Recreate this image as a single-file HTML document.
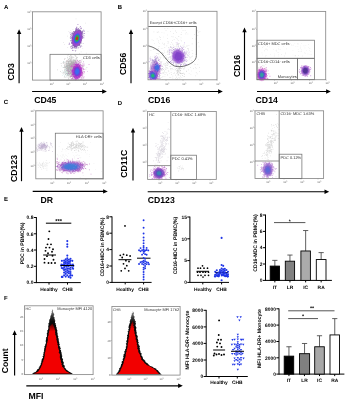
<!DOCTYPE html>
<html><head><meta charset="utf-8"><style>
html,body{margin:0;padding:0;background:#fff;}
svg{display:block;font-family:"Liberation Sans", sans-serif;will-change:transform;text-rendering:geometricPrecision;}
</style></head><body>
<svg width="346" height="400" viewBox="0 0 346 400">
<defs><filter id="b1" x="-50%" y="-50%" width="200%" height="200%"><feGaussianBlur stdDeviation="0.1"/></filter><filter id="b2" x="-50%" y="-50%" width="200%" height="200%"><feGaussianBlur stdDeviation="0.2"/></filter><filter id="b3" x="-50%" y="-50%" width="200%" height="200%"><feGaussianBlur stdDeviation="0.3"/></filter><filter id="b4" x="-50%" y="-50%" width="200%" height="200%"><feGaussianBlur stdDeviation="0.4"/></filter><filter id="b5" x="-50%" y="-50%" width="200%" height="200%"><feGaussianBlur stdDeviation="0.5"/></filter><filter id="b6" x="-50%" y="-50%" width="200%" height="200%"><feGaussianBlur stdDeviation="0.6"/></filter><filter id="b7" x="-50%" y="-50%" width="200%" height="200%"><feGaussianBlur stdDeviation="0.7"/></filter><filter id="b8" x="-50%" y="-50%" width="200%" height="200%"><feGaussianBlur stdDeviation="0.8"/></filter><filter id="b9" x="-50%" y="-50%" width="200%" height="200%"><feGaussianBlur stdDeviation="0.9"/></filter><filter id="b10" x="-50%" y="-50%" width="200%" height="200%"><feGaussianBlur stdDeviation="1.0"/></filter><filter id="b11" x="-50%" y="-50%" width="200%" height="200%"><feGaussianBlur stdDeviation="1.1"/></filter><filter id="b12" x="-50%" y="-50%" width="200%" height="200%"><feGaussianBlur stdDeviation="1.2"/></filter><filter id="b13" x="-50%" y="-50%" width="200%" height="200%"><feGaussianBlur stdDeviation="1.3"/></filter><filter id="b14" x="-50%" y="-50%" width="200%" height="200%"><feGaussianBlur stdDeviation="1.4"/></filter></defs>
<rect width="346" height="400" fill="#fff"/>
<text x="3.9" y="8.8" font-size="6" font-weight="bold" text-anchor="start" fill="#000">A</text>
<text x="117.8" y="8.8" font-size="6" font-weight="bold" text-anchor="start" fill="#000">B</text>
<text x="3.7" y="104.3" font-size="6" font-weight="bold" text-anchor="start" fill="#000">C</text>
<text x="117.8" y="104.6" font-size="6" font-weight="bold" text-anchor="start" fill="#000">D</text>
<text x="3.9" y="201.3" font-size="6" font-weight="bold" text-anchor="start" fill="#000">E</text>
<text x="3.9" y="299.5" font-size="6" font-weight="bold" text-anchor="start" fill="#000">F</text>
<rect x="32.55" y="11.8" width="68.55" height="68.3" stroke="#8a8a8a" stroke-width="0.85" fill="none"/>
<text x="31.349999999999998" y="12.700000000000001" font-size="2.7" font-weight="normal" text-anchor="end" fill="#555">10<tspan dy="-1" font-size="1.8">3</tspan></text>
<line x1="31.549999999999997" y1="11.8" x2="32.55" y2="11.8" stroke="#888" stroke-width="0.4"/>
<text x="31.349999999999998" y="29.799999999999997" font-size="2.7" font-weight="normal" text-anchor="end" fill="#555">10<tspan dy="-1" font-size="1.8">3</tspan></text>
<line x1="31.549999999999997" y1="28.9" x2="32.55" y2="28.9" stroke="#888" stroke-width="0.4"/>
<text x="31.349999999999998" y="47.1" font-size="2.7" font-weight="normal" text-anchor="end" fill="#555">10<tspan dy="-1" font-size="1.8">3</tspan></text>
<line x1="31.549999999999997" y1="46.2" x2="32.55" y2="46.2" stroke="#888" stroke-width="0.4"/>
<text x="31.349999999999998" y="63.9" font-size="2.7" font-weight="normal" text-anchor="end" fill="#555">10<tspan dy="-1" font-size="1.8">3</tspan></text>
<line x1="31.549999999999997" y1="63" x2="32.55" y2="63" stroke="#888" stroke-width="0.4"/>
<text x="51.800000000000004" y="84.8" font-size="2.7" font-weight="normal" text-anchor="middle" fill="#555">10<tspan dy="-1" font-size="1.8">3</tspan></text>
<line x1="50.6" y1="80.1" x2="50.6" y2="81.1" stroke="#888" stroke-width="0.4"/>
<text x="68.2" y="84.8" font-size="2.7" font-weight="normal" text-anchor="middle" fill="#555">10<tspan dy="-1" font-size="1.8">3</tspan></text>
<line x1="67" y1="80.1" x2="67" y2="81.1" stroke="#888" stroke-width="0.4"/>
<text x="85.0" y="84.8" font-size="2.7" font-weight="normal" text-anchor="middle" fill="#555">10<tspan dy="-1" font-size="1.8">3</tspan></text>
<line x1="83.8" y1="80.1" x2="83.8" y2="81.1" stroke="#888" stroke-width="0.4"/>
<text x="102.0" y="84.8" font-size="2.7" font-weight="normal" text-anchor="middle" fill="#555">10<tspan dy="-1" font-size="1.8">3</tspan></text>
<line x1="100.8" y1="80.1" x2="100.8" y2="81.1" stroke="#888" stroke-width="0.4"/>
<path fill="#6a6a6a" fill-opacity="0.36" d="M66.1 69.9h.76v.76h-.76zM76.1 64.5h.76v.76h-.76zM65.6 67.2h.76v.76h-.76zM73.8 74.2h.76v.76h-.76zM66.2 59.9h.76v.76h-.76zM74.8 70.5h.76v.76h-.76zM78.5 73.5h.76v.76h-.76zM71.2 66.0h.76v.76h-.76zM83.2 65.9h.76v.76h-.76zM68.1 60.8h.76v.76h-.76zM72.1 68.5h.76v.76h-.76zM70.1 67.2h.76v.76h-.76zM72.9 71.8h.76v.76h-.76zM76.6 68.9h.76v.76h-.76zM63.6 71.8h.76v.76h-.76zM65.2 66.6h.76v.76h-.76zM65.0 67.6h.76v.76h-.76zM68.1 68.9h.76v.76h-.76zM86.5 67.3h.76v.76h-.76zM75.4 59.7h.76v.76h-.76zM70.3 71.6h.76v.76h-.76zM71.2 69.8h.76v.76h-.76zM72.1 61.6h.76v.76h-.76zM74.2 62.7h.76v.76h-.76zM80.0 64.6h.76v.76h-.76zM74.7 67.6h.76v.76h-.76zM75.9 64.0h.76v.76h-.76zM76.1 66.9h.76v.76h-.76zM77.3 71.4h.76v.76h-.76zM72.3 62.9h.76v.76h-.76zM75.1 70.4h.76v.76h-.76zM79.0 65.4h.76v.76h-.76zM74.1 70.7h.76v.76h-.76zM72.9 68.9h.76v.76h-.76zM72.4 64.0h.76v.76h-.76zM67.1 65.2h.76v.76h-.76zM74.3 76.7h.76v.76h-.76zM76.0 73.9h.76v.76h-.76zM75.1 71.8h.76v.76h-.76zM72.4 72.3h.76v.76h-.76zM79.6 65.7h.76v.76h-.76zM68.5 79.4h.76v.76h-.76zM72.7 73.4h.76v.76h-.76zM75.6 60.8h.76v.76h-.76zM82.6 78.3h.76v.76h-.76zM72.4 72.1h.76v.76h-.76zM72.2 62.3h.76v.76h-.76zM71.1 69.9h.76v.76h-.76zM76.6 71.9h.76v.76h-.76zM71.9 75.8h.76v.76h-.76zM68.2 72.4h.76v.76h-.76zM76.6 65.9h.76v.76h-.76zM63.6 62.2h.76v.76h-.76zM72.7 70.8h.76v.76h-.76zM78.6 61.6h.76v.76h-.76zM71.6 71.5h.76v.76h-.76zM76.1 62.1h.76v.76h-.76zM69.8 69.0h.76v.76h-.76zM82.8 71.3h.76v.76h-.76zM72.1 77.0h.76v.76h-.76zM71.3 78.8h.76v.76h-.76zM68.5 64.8h.76v.76h-.76zM74.9 76.2h.76v.76h-.76zM74.6 69.4h.76v.76h-.76zM63.4 63.3h.76v.76h-.76zM68.9 64.4h.76v.76h-.76zM74.3 65.6h.76v.76h-.76zM75.2 68.1h.76v.76h-.76zM70.1 68.3h.76v.76h-.76zM73.6 72.8h.76v.76h-.76zM69.5 66.2h.76v.76h-.76zM65.5 77.2h.76v.76h-.76zM78.2 66.5h.76v.76h-.76zM69.5 60.2h.76v.76h-.76zM72.4 68.9h.76v.76h-.76zM81.4 69.1h.76v.76h-.76zM78.0 68.8h.76v.76h-.76zM64.4 68.7h.76v.76h-.76zM76.7 71.1h.76v.76h-.76zM70.8 54.8h.76v.76h-.76zM71.1 58.3h.76v.76h-.76zM74.3 54.8h.76v.76h-.76zM67.5 74.9h.76v.76h-.76zM79.0 60.5h.76v.76h-.76zM64.7 72.9h.76v.76h-.76zM75.5 61.7h.76v.76h-.76zM68.5 63.5h.76v.76h-.76zM66.3 63.5h.76v.76h-.76zM77.3 71.8h.76v.76h-.76zM80.9 67.1h.76v.76h-.76zM71.0 61.7h.76v.76h-.76zM71.1 59.7h.76v.76h-.76zM63.6 71.8h.76v.76h-.76zM78.1 72.6h.76v.76h-.76zM77.6 69.1h.76v.76h-.76zM68.4 68.1h.76v.76h-.76zM69.9 61.0h.76v.76h-.76zM64.0 58.7h.76v.76h-.76zM71.6 68.5h.76v.76h-.76zM69.5 76.2h.76v.76h-.76zM72.4 71.1h.76v.76h-.76zM77.1 62.7h.76v.76h-.76zM62.8 72.1h.76v.76h-.76zM68.5 75.5h.76v.76h-.76zM73.1 73.7h.76v.76h-.76zM75.1 55.1h.76v.76h-.76zM74.9 63.6h.76v.76h-.76zM68.2 65.0h.76v.76h-.76zM75.1 72.9h.76v.76h-.76zM76.2 57.7h.76v.76h-.76zM71.2 71.2h.76v.76h-.76zM68.2 69.1h.76v.76h-.76zM72.7 73.7h.76v.76h-.76zM67.9 62.6h.76v.76h-.76zM68.2 78.1h.76v.76h-.76zM76.5 66.9h.76v.76h-.76zM72.6 68.3h.76v.76h-.76zM72.5 66.4h.76v.76h-.76zM70.1 60.1h.76v.76h-.76zM68.7 77.5h.76v.76h-.76zM74.0 68.0h.76v.76h-.76zM70.7 68.0h.76v.76h-.76zM73.2 63.7h.76v.76h-.76zM72.5 69.1h.76v.76h-.76zM68.3 62.9h.76v.76h-.76zM67.1 61.2h.76v.76h-.76zM70.4 64.0h.76v.76h-.76zM68.8 68.2h.76v.76h-.76zM76.7 68.1h.76v.76h-.76zM71.0 63.9h.76v.76h-.76zM71.0 73.1h.76v.76h-.76zM69.8 60.7h.76v.76h-.76zM65.9 61.0h.76v.76h-.76zM65.4 74.2h.76v.76h-.76zM73.2 66.2h.76v.76h-.76zM78.2 63.7h.76v.76h-.76zM75.0 72.4h.76v.76h-.76zM64.7 58.3h.76v.76h-.76zM67.4 73.1h.76v.76h-.76zM77.5 60.3h.76v.76h-.76zM76.3 65.3h.76v.76h-.76zM69.9 64.3h.76v.76h-.76zM70.2 56.7h.76v.76h-.76zM67.1 60.2h.76v.76h-.76zM83.9 65.6h.76v.76h-.76zM63.9 65.2h.76v.76h-.76zM74.2 63.2h.76v.76h-.76zM75.8 70.8h.76v.76h-.76zM64.3 64.4h.76v.76h-.76zM70.5 67.7h.76v.76h-.76zM72.2 65.6h.76v.76h-.76zM72.5 64.1h.76v.76h-.76zM67.6 76.7h.76v.76h-.76zM73.2 70.3h.76v.76h-.76zM64.4 66.6h.76v.76h-.76zM75.3 59.9h.76v.76h-.76zM76.6 65.3h.76v.76h-.76zM73.4 66.8h.76v.76h-.76zM72.6 74.8h.76v.76h-.76zM69.8 77.0h.76v.76h-.76zM68.1 62.0h.76v.76h-.76zM74.8 61.2h.76v.76h-.76zM70.0 73.1h.76v.76h-.76zM77.1 57.0h.76v.76h-.76zM73.9 78.9h.76v.76h-.76zM77.0 66.2h.76v.76h-.76zM68.9 65.8h.76v.76h-.76zM66.4 66.0h.76v.76h-.76zM70.8 66.7h.76v.76h-.76zM76.9 66.2h.76v.76h-.76zM65.1 73.9h.76v.76h-.76zM66.8 64.9h.76v.76h-.76zM71.0 65.6h.76v.76h-.76zM67.1 66.1h.76v.76h-.76zM81.5 64.0h.76v.76h-.76zM71.0 74.4h.76v.76h-.76zM75.0 72.2h.76v.76h-.76zM75.5 55.8h.76v.76h-.76zM67.7 68.4h.76v.76h-.76zM73.9 75.4h.76v.76h-.76zM73.7 66.2h.76v.76h-.76zM71.8 66.4h.76v.76h-.76zM72.7 71.7h.76v.76h-.76zM70.1 62.7h.76v.76h-.76zM67.8 74.2h.76v.76h-.76zM77.4 73.6h.76v.76h-.76zM75.5 72.6h.76v.76h-.76zM71.6 71.6h.76v.76h-.76zM66.9 66.4h.76v.76h-.76zM68.3 72.0h.76v.76h-.76zM69.0 67.0h.76v.76h-.76zM73.4 75.8h.76v.76h-.76zM68.1 62.0h.76v.76h-.76zM75.3 61.0h.76v.76h-.76zM73.7 64.2h.76v.76h-.76zM71.1 56.7h.76v.76h-.76zM74.8 64.6h.76v.76h-.76zM73.5 65.5h.76v.76h-.76zM72.1 77.3h.76v.76h-.76zM71.5 70.3h.76v.76h-.76zM73.9 62.2h.76v.76h-.76zM72.2 64.6h.76v.76h-.76zM66.0 72.9h.76v.76h-.76zM74.6 68.1h.76v.76h-.76zM67.5 55.6h.76v.76h-.76zM73.8 67.0h.76v.76h-.76zM64.0 67.3h.76v.76h-.76zM64.8 67.5h.76v.76h-.76zM72.3 69.8h.76v.76h-.76zM72.6 68.6h.76v.76h-.76zM66.5 65.3h.76v.76h-.76zM69.3 66.2h.76v.76h-.76zM72.8 71.3h.76v.76h-.76zM73.4 66.4h.76v.76h-.76zM81.9 73.2h.76v.76h-.76zM64.2 70.0h.76v.76h-.76zM69.3 73.6h.76v.76h-.76zM66.9 67.0h.76v.76h-.76zM71.0 67.0h.76v.76h-.76zM69.0 56.6h.76v.76h-.76zM73.7 73.6h.76v.76h-.76zM71.3 61.5h.76v.76h-.76zM72.5 71.0h.76v.76h-.76zM70.8 67.5h.76v.76h-.76zM78.0 60.9h.76v.76h-.76zM69.1 56.2h.76v.76h-.76zM68.5 63.2h.76v.76h-.76zM67.3 63.5h.76v.76h-.76zM79.7 66.4h.76v.76h-.76zM71.3 57.2h.76v.76h-.76zM73.4 62.0h.76v.76h-.76zM79.0 60.1h.76v.76h-.76zM69.0 58.0h.76v.76h-.76zM72.1 61.5h.76v.76h-.76zM71.3 65.4h.76v.76h-.76zM68.9 73.3h.76v.76h-.76zM75.8 68.0h.76v.76h-.76zM67.6 61.2h.76v.76h-.76zM69.6 62.9h.76v.76h-.76zM68.5 61.1h.76v.76h-.76zM67.2 66.4h.76v.76h-.76zM78.1 67.6h.76v.76h-.76zM69.3 57.9h.76v.76h-.76zM72.6 67.5h.76v.76h-.76zM66.1 61.1h.76v.76h-.76zM71.4 73.7h.76v.76h-.76zM74.4 68.9h.76v.76h-.76zM70.2 69.5h.76v.76h-.76zM66.5 65.4h.76v.76h-.76zM77.3 66.0h.76v.76h-.76zM78.0 67.4h.76v.76h-.76zM72.3 65.4h.76v.76h-.76zM65.4 61.8h.76v.76h-.76zM81.6 71.5h.76v.76h-.76zM74.3 73.3h.76v.76h-.76zM74.2 73.8h.76v.76h-.76zM70.4 66.3h.76v.76h-.76zM76.0 65.5h.76v.76h-.76zM65.6 66.3h.76v.76h-.76zM69.2 71.3h.76v.76h-.76zM68.4 61.3h.76v.76h-.76zM70.1 76.9h.76v.76h-.76zM71.4 68.6h.76v.76h-.76zM71.7 69.4h.76v.76h-.76zM75.8 76.0h.76v.76h-.76zM64.2 75.8h.76v.76h-.76zM71.6 65.7h.76v.76h-.76zM82.4 66.6h.76v.76h-.76zM80.4 73.4h.76v.76h-.76zM67.0 70.6h.76v.76h-.76zM74.9 66.9h.76v.76h-.76zM61.1 65.6h.76v.76h-.76zM70.8 61.0h.76v.76h-.76zM79.8 66.2h.76v.76h-.76zM69.9 65.8h.76v.76h-.76zM68.1 63.0h.76v.76h-.76zM72.0 69.5h.76v.76h-.76zM69.3 67.1h.76v.76h-.76zM65.4 70.8h.76v.76h-.76zM68.2 68.9h.76v.76h-.76zM67.5 64.5h.76v.76h-.76zM72.6 60.4h.76v.76h-.76zM82.7 67.4h.76v.76h-.76zM71.3 63.2h.76v.76h-.76zM78.8 75.9h.76v.76h-.76zM73.0 59.4h.76v.76h-.76zM69.4 71.3h.76v.76h-.76zM69.3 60.5h.76v.76h-.76zM66.3 63.0h.76v.76h-.76zM71.7 63.7h.76v.76h-.76zM79.6 61.4h.76v.76h-.76zM73.2 68.1h.76v.76h-.76zM71.0 73.9h.76v.76h-.76zM70.1 65.7h.76v.76h-.76zM69.9 67.0h.76v.76h-.76zM77.4 72.3h.76v.76h-.76zM65.6 65.0h.76v.76h-.76zM68.0 72.5h.76v.76h-.76zM72.6 73.0h.76v.76h-.76zM71.3 56.2h.76v.76h-.76zM73.7 69.0h.76v.76h-.76zM73.9 59.8h.76v.76h-.76zM72.0 63.5h.76v.76h-.76zM68.5 69.7h.76v.76h-.76zM73.2 62.3h.76v.76h-.76zM69.0 74.4h.76v.76h-.76zM67.7 70.2h.76v.76h-.76zM79.1 74.6h.76v.76h-.76zM73.3 68.8h.76v.76h-.76zM66.9 64.9h.76v.76h-.76zM70.1 63.0h.76v.76h-.76zM71.9 65.3h.76v.76h-.76zM73.1 76.2h.76v.76h-.76zM75.0 70.1h.76v.76h-.76zM70.5 58.5h.76v.76h-.76zM71.1 70.9h.76v.76h-.76zM67.1 75.1h.76v.76h-.76zM70.1 69.9h.76v.76h-.76zM70.1 60.1h.76v.76h-.76zM80.9 60.7h.76v.76h-.76zM75.8 64.3h.76v.76h-.76zM72.9 62.8h.76v.76h-.76zM69.7 73.1h.76v.76h-.76zM80.4 62.5h.76v.76h-.76zM71.7 73.3h.76v.76h-.76zM68.8 71.9h.76v.76h-.76zM68.1 71.2h.76v.76h-.76zM73.6 74.9h.76v.76h-.76zM73.3 60.5h.76v.76h-.76zM74.6 61.0h.76v.76h-.76zM75.0 76.7h.76v.76h-.76zM74.3 64.3h.76v.76h-.76zM77.0 68.6h.76v.76h-.76zM66.0 65.5h.76v.76h-.76zM78.0 65.8h.76v.76h-.76zM72.2 65.6h.76v.76h-.76zM64.0 64.6h.76v.76h-.76zM73.2 68.9h.76v.76h-.76zM70.8 54.8h.76v.76h-.76zM77.1 71.9h.76v.76h-.76zM76.2 75.4h.76v.76h-.76zM69.6 64.0h.76v.76h-.76zM73.0 77.7h.76v.76h-.76zM64.0 66.2h.76v.76h-.76zM68.4 71.0h.76v.76h-.76zM78.2 65.8h.76v.76h-.76zM66.0 67.9h.76v.76h-.76zM70.3 58.4h.76v.76h-.76zM75.6 64.5h.76v.76h-.76zM74.7 59.7h.76v.76h-.76zM76.6 59.0h.76v.76h-.76zM76.4 56.8h.76v.76h-.76zM77.8 65.4h.76v.76h-.76zM64.6 66.2h.76v.76h-.76zM73.1 61.7h.76v.76h-.76zM69.4 69.2h.76v.76h-.76zM69.7 70.2h.76v.76h-.76zM73.0 73.7h.76v.76h-.76zM75.2 69.5h.76v.76h-.76zM76.5 73.3h.76v.76h-.76zM72.1 63.9h.76v.76h-.76zM76.2 70.2h.76v.76h-.76zM63.1 61.0h.76v.76h-.76zM73.7 68.3h.76v.76h-.76zM72.9 71.5h.76v.76h-.76zM72.3 77.1h.76v.76h-.76zM69.0 65.2h.76v.76h-.76zM73.1 72.1h.76v.76h-.76zM75.2 76.5h.76v.76h-.76zM69.5 74.6h.76v.76h-.76zM73.7 61.4h.76v.76h-.76zM75.2 64.8h.76v.76h-.76zM60.8 63.2h.76v.76h-.76zM68.5 68.1h.76v.76h-.76zM82.0 72.1h.76v.76h-.76zM73.0 62.0h.76v.76h-.76zM66.3 66.4h.76v.76h-.76zM69.8 63.9h.76v.76h-.76zM76.7 68.1h.76v.76h-.76zM66.1 75.4h.76v.76h-.76zM70.2 59.6h.76v.76h-.76zM73.1 70.5h.76v.76h-.76zM70.1 71.8h.76v.76h-.76zM75.3 62.3h.76v.76h-.76zM71.0 75.0h.76v.76h-.76zM76.1 76.0h.76v.76h-.76zM80.0 67.7h.76v.76h-.76zM76.4 58.4h.76v.76h-.76zM74.7 70.0h.76v.76h-.76zM71.2 65.0h.76v.76h-.76zM66.6 68.5h.76v.76h-.76zM77.4 65.4h.76v.76h-.76zM74.0 63.6h.76v.76h-.76zM72.8 61.6h.76v.76h-.76zM73.3 66.3h.76v.76h-.76zM73.0 64.0h.76v.76h-.76zM66.3 65.6h.76v.76h-.76zM76.3 77.1h.76v.76h-.76zM70.2 72.4h.76v.76h-.76zM75.0 70.0h.76v.76h-.76zM64.6 69.6h.76v.76h-.76zM67.3 74.7h.76v.76h-.76zM75.2 71.3h.76v.76h-.76zM60.2 71.3h.76v.76h-.76zM74.8 60.0h.76v.76h-.76zM76.0 68.1h.76v.76h-.76zM70.8 63.3h.76v.76h-.76zM67.0 65.0h.76v.76h-.76zM85.5 68.8h.76v.76h-.76zM72.6 63.7h.76v.76h-.76zM68.8 64.3h.76v.76h-.76zM67.6 72.9h.76v.76h-.76zM70.4 72.8h.76v.76h-.76zM66.4 73.2h.76v.76h-.76zM71.5 71.6h.76v.76h-.76zM71.2 62.3h.76v.76h-.76zM77.1 65.0h.76v.76h-.76zM71.0 62.3h.76v.76h-.76zM72.5 65.3h.76v.76h-.76zM72.9 69.7h.76v.76h-.76zM68.5 59.2h.76v.76h-.76zM73.6 73.1h.76v.76h-.76zM74.8 60.7h.76v.76h-.76zM74.3 69.9h.76v.76h-.76zM72.9 70.2h.76v.76h-.76zM70.2 68.9h.76v.76h-.76zM75.8 64.6h.76v.76h-.76zM65.1 67.0h.76v.76h-.76zM72.5 56.6h.76v.76h-.76zM68.6 71.2h.76v.76h-.76zM70.9 68.2h.76v.76h-.76zM66.0 73.1h.76v.76h-.76zM79.5 66.4h.76v.76h-.76zM68.3 60.7h.76v.76h-.76zM75.6 68.2h.76v.76h-.76zM68.0 74.9h.76v.76h-.76zM75.1 71.2h.76v.76h-.76zM63.7 67.0h.76v.76h-.76zM74.4 60.3h.76v.76h-.76zM75.8 76.2h.76v.76h-.76zM76.3 63.3h.76v.76h-.76zM68.4 73.3h.76v.76h-.76zM76.1 75.0h.76v.76h-.76zM77.0 67.0h.76v.76h-.76zM69.8 56.5h.76v.76h-.76zM69.5 64.8h.76v.76h-.76zM74.5 69.9h.76v.76h-.76zM65.5 63.3h.76v.76h-.76zM68.4 72.7h.76v.76h-.76zM80.3 79.0h.76v.76h-.76zM78.0 77.4h.76v.76h-.76zM66.1 65.5h.76v.76h-.76zM68.3 65.9h.76v.76h-.76zM83.4 57.5h.76v.76h-.76zM74.1 60.2h.76v.76h-.76zM77.6 75.4h.76v.76h-.76zM72.0 75.4h.76v.76h-.76zM73.0 64.3h.76v.76h-.76zM69.9 66.9h.76v.76h-.76zM74.4 68.4h.76v.76h-.76zM82.2 66.5h.76v.76h-.76zM69.5 63.3h.76v.76h-.76zM68.1 59.0h.76v.76h-.76zM67.2 73.1h.76v.76h-.76zM71.9 66.6h.76v.76h-.76zM73.2 74.0h.76v.76h-.76zM74.4 72.3h.76v.76h-.76zM69.1 66.1h.76v.76h-.76zM68.1 67.0h.76v.76h-.76zM67.9 65.4h.76v.76h-.76zM70.8 66.3h.76v.76h-.76zM70.4 64.7h.76v.76h-.76zM77.5 65.6h.76v.76h-.76zM67.1 68.8h.76v.76h-.76zM66.7 61.2h.76v.76h-.76zM72.0 57.6h.76v.76h-.76zM57.1 69.4h.76v.76h-.76zM76.3 57.6h.76v.76h-.76zM67.6 71.1h.76v.76h-.76zM62.7 62.4h.76v.76h-.76zM66.2 66.4h.76v.76h-.76zM62.7 73.0h.76v.76h-.76zM71.0 69.4h.76v.76h-.76zM70.1 54.9h.76v.76h-.76zM70.9 59.6h.76v.76h-.76zM71.7 62.5h.76v.76h-.76zM70.2 66.4h.76v.76h-.76zM75.1 72.2h.76v.76h-.76zM67.1 67.5h.76v.76h-.76zM78.2 70.6h.76v.76h-.76zM68.3 66.9h.76v.76h-.76zM70.1 73.3h.76v.76h-.76zM71.8 69.9h.76v.76h-.76zM81.6 59.4h.76v.76h-.76zM67.1 57.2h.76v.76h-.76zM64.5 72.8h.76v.76h-.76zM72.9 77.4h.76v.76h-.76zM62.7 62.3h.76v.76h-.76zM78.1 73.8h.76v.76h-.76zM75.6 72.9h.76v.76h-.76zM71.8 67.6h.76v.76h-.76zM71.8 72.7h.76v.76h-.76zM70.9 69.5h.76v.76h-.76zM78.2 60.9h.76v.76h-.76zM68.2 71.0h.76v.76h-.76zM70.4 66.7h.76v.76h-.76zM81.1 70.1h.76v.76h-.76zM69.7 74.2h.76v.76h-.76zM83.0 61.0h.76v.76h-.76zM68.6 68.3h.76v.76h-.76zM74.0 65.2h.76v.76h-.76zM73.8 62.8h.76v.76h-.76zM68.9 68.3h.76v.76h-.76zM73.5 75.7h.76v.76h-.76zM75.0 79.2h.76v.76h-.76zM73.6 68.5h.76v.76h-.76zM71.0 62.5h.76v.76h-.76zM79.0 60.5h.76v.76h-.76zM71.1 64.5h.76v.76h-.76zM68.1 54.3h.76v.76h-.76zM69.9 68.4h.76v.76h-.76zM72.3 72.7h.76v.76h-.76zM70.9 63.8h.76v.76h-.76zM73.0 71.6h.76v.76h-.76zM67.6 58.5h.76v.76h-.76zM67.0 74.0h.76v.76h-.76zM76.1 62.3h.76v.76h-.76zM72.1 72.7h.76v.76h-.76zM77.6 63.7h.76v.76h-.76zM70.5 76.1h.76v.76h-.76zM82.5 76.8h.76v.76h-.76zM66.5 70.3h.76v.76h-.76zM70.3 67.3h.76v.76h-.76zM68.6 64.7h.76v.76h-.76zM71.6 78.4h.76v.76h-.76zM74.8 70.2h.76v.76h-.76zM71.7 63.1h.76v.76h-.76zM70.6 75.1h.76v.76h-.76zM75.4 79.4h.76v.76h-.76zM72.8 67.5h.76v.76h-.76zM64.3 70.0h.76v.76h-.76zM63.9 76.8h.76v.76h-.76zM68.8 67.6h.76v.76h-.76zM65.5 64.6h.76v.76h-.76zM67.4 74.4h.76v.76h-.76zM72.7 60.5h.76v.76h-.76zM62.9 67.2h.76v.76h-.76zM69.4 61.0h.76v.76h-.76zM74.3 66.5h.76v.76h-.76zM72.1 64.1h.76v.76h-.76zM69.1 64.9h.76v.76h-.76zM64.4 71.4h.76v.76h-.76zM73.4 57.3h.76v.76h-.76zM72.1 74.5h.76v.76h-.76zM72.7 75.4h.76v.76h-.76zM70.4 67.6h.76v.76h-.76zM65.8 62.2h.76v.76h-.76zM63.4 62.3h.76v.76h-.76zM72.7 70.7h.76v.76h-.76zM76.9 68.4h.76v.76h-.76zM67.2 70.2h.76v.76h-.76zM71.0 78.3h.76v.76h-.76zM80.4 73.4h.76v.76h-.76zM66.5 64.5h.76v.76h-.76zM72.5 63.3h.76v.76h-.76zM74.0 71.7h.76v.76h-.76zM75.4 69.0h.76v.76h-.76zM67.6 62.6h.76v.76h-.76zM71.1 75.6h.76v.76h-.76zM78.7 73.5h.76v.76h-.76zM73.3 71.7h.76v.76h-.76zM75.3 75.4h.76v.76h-.76zM75.5 58.4h.76v.76h-.76z"/>
<path fill="#8cc" fill-opacity="0.35" d="M69.0 71.2h.72v.72h-.72zM65.5 71.7h.72v.72h-.72zM67.4 69.4h.72v.72h-.72zM62.4 70.1h.72v.72h-.72zM68.0 69.4h.72v.72h-.72zM62.7 71.5h.72v.72h-.72zM68.4 70.4h.72v.72h-.72zM67.7 68.2h.72v.72h-.72zM65.0 71.7h.72v.72h-.72zM65.8 70.4h.72v.72h-.72zM74.8 72.5h.72v.72h-.72zM67.0 63.2h.72v.72h-.72zM66.9 72.7h.72v.72h-.72zM64.9 68.7h.72v.72h-.72zM61.0 71.9h.72v.72h-.72zM65.2 72.4h.72v.72h-.72zM70.1 69.0h.72v.72h-.72zM69.1 70.6h.72v.72h-.72zM66.1 68.5h.72v.72h-.72zM64.5 74.8h.72v.72h-.72zM68.8 65.6h.72v.72h-.72zM68.7 66.7h.72v.72h-.72zM62.9 74.4h.72v.72h-.72zM63.4 74.4h.72v.72h-.72zM67.1 73.2h.72v.72h-.72zM67.9 74.3h.72v.72h-.72zM67.5 72.0h.72v.72h-.72zM67.3 74.0h.72v.72h-.72zM65.7 73.7h.72v.72h-.72zM70.4 69.4h.72v.72h-.72zM67.7 67.6h.72v.72h-.72zM65.9 70.7h.72v.72h-.72zM65.8 66.1h.72v.72h-.72zM66.6 70.4h.72v.72h-.72zM67.4 72.5h.72v.72h-.72zM62.2 75.3h.72v.72h-.72zM66.2 66.6h.72v.72h-.72zM65.7 71.4h.72v.72h-.72zM68.8 68.2h.72v.72h-.72zM67.0 63.3h.72v.72h-.72zM67.1 69.2h.72v.72h-.72zM65.6 73.2h.72v.72h-.72zM71.1 73.8h.72v.72h-.72zM64.7 75.8h.72v.72h-.72zM65.8 69.5h.72v.72h-.72zM65.2 71.5h.72v.72h-.72zM68.0 70.2h.72v.72h-.72zM66.1 69.1h.72v.72h-.72zM65.6 73.5h.72v.72h-.72zM65.3 69.0h.72v.72h-.72zM66.1 66.6h.72v.72h-.72zM66.1 63.8h.72v.72h-.72zM67.7 71.8h.72v.72h-.72zM65.9 75.8h.72v.72h-.72zM64.6 71.9h.72v.72h-.72zM67.8 67.5h.72v.72h-.72zM66.0 73.2h.72v.72h-.72zM66.8 70.8h.72v.72h-.72zM70.1 70.5h.72v.72h-.72zM62.5 66.7h.72v.72h-.72zM68.7 69.1h.72v.72h-.72zM64.0 61.8h.72v.72h-.72zM67.4 75.6h.72v.72h-.72zM63.5 61.0h.72v.72h-.72zM67.9 67.5h.72v.72h-.72zM65.9 68.4h.72v.72h-.72zM64.4 71.4h.72v.72h-.72zM68.9 71.1h.72v.72h-.72zM65.3 73.8h.72v.72h-.72zM66.4 71.9h.72v.72h-.72z"/>
<path fill="#d9a" fill-opacity="0.3" d="M66.3 68.3h.72v.72h-.72zM70.5 70.8h.72v.72h-.72zM68.7 67.4h.72v.72h-.72zM67.2 69.2h.72v.72h-.72zM70.6 69.9h.72v.72h-.72zM67.7 60.8h.72v.72h-.72zM68.5 64.8h.72v.72h-.72zM66.8 68.0h.72v.72h-.72zM71.0 67.2h.72v.72h-.72zM71.4 67.2h.72v.72h-.72zM66.2 63.3h.72v.72h-.72zM67.8 68.4h.72v.72h-.72zM70.9 66.2h.72v.72h-.72zM71.2 62.4h.72v.72h-.72zM68.4 71.6h.72v.72h-.72zM69.7 69.8h.72v.72h-.72zM64.0 59.0h.72v.72h-.72zM66.5 69.6h.72v.72h-.72zM72.7 63.2h.72v.72h-.72zM66.2 61.6h.72v.72h-.72zM66.4 67.8h.72v.72h-.72zM67.9 73.1h.72v.72h-.72zM70.4 62.9h.72v.72h-.72zM69.2 65.0h.72v.72h-.72zM70.6 69.2h.72v.72h-.72zM67.8 69.2h.72v.72h-.72zM70.0 65.3h.72v.72h-.72zM69.3 68.3h.72v.72h-.72zM67.9 63.0h.72v.72h-.72zM71.8 65.7h.72v.72h-.72zM67.2 67.5h.72v.72h-.72zM65.0 65.9h.72v.72h-.72zM65.3 64.0h.72v.72h-.72zM64.3 62.8h.72v.72h-.72zM70.8 64.9h.72v.72h-.72zM65.7 72.5h.72v.72h-.72zM67.1 71.5h.72v.72h-.72zM67.4 59.9h.72v.72h-.72zM73.2 64.0h.72v.72h-.72zM70.5 70.3h.72v.72h-.72z"/>
<g filter="url(#b13)"><ellipse cx="72" cy="68" rx="6" ry="8.5" fill="#888" fill-opacity="0.35" transform="rotate(0 72 68)"/></g>
<path fill="#8a8a8a" fill-opacity="0.3" d="M71.5 40.2h.68v.68h-.68zM74.4 43.9h.68v.68h-.68zM76.6 31.0h.68v.68h-.68zM76.9 44.9h.68v.68h-.68zM75.5 43.6h.68v.68h-.68zM74.6 39.3h.68v.68h-.68zM78.0 40.7h.68v.68h-.68zM81.7 46.2h.68v.68h-.68zM80.0 44.7h.68v.68h-.68zM77.3 31.7h.68v.68h-.68zM80.8 51.6h.68v.68h-.68zM77.6 38.0h.68v.68h-.68zM76.5 48.0h.68v.68h-.68zM77.8 33.0h.68v.68h-.68zM76.0 34.4h.68v.68h-.68zM75.9 33.6h.68v.68h-.68zM73.3 49.9h.68v.68h-.68zM80.8 28.7h.68v.68h-.68zM72.8 36.6h.68v.68h-.68zM75.2 30.2h.68v.68h-.68zM80.2 28.7h.68v.68h-.68zM79.4 44.5h.68v.68h-.68zM75.3 35.2h.68v.68h-.68zM76.9 40.7h.68v.68h-.68zM68.5 31.1h.68v.68h-.68zM78.8 39.0h.68v.68h-.68zM75.1 32.9h.68v.68h-.68zM73.9 34.5h.68v.68h-.68zM87.6 31.1h.68v.68h-.68zM82.7 43.0h.68v.68h-.68zM77.5 41.1h.68v.68h-.68zM75.2 50.7h.68v.68h-.68zM78.7 39.5h.68v.68h-.68zM76.2 41.1h.68v.68h-.68zM72.2 37.5h.68v.68h-.68zM74.2 44.0h.68v.68h-.68zM79.0 27.0h.68v.68h-.68zM75.8 46.5h.68v.68h-.68zM71.6 31.6h.68v.68h-.68zM80.6 38.8h.68v.68h-.68zM74.9 31.4h.68v.68h-.68zM77.4 35.9h.68v.68h-.68zM77.5 42.6h.68v.68h-.68zM79.4 37.5h.68v.68h-.68zM74.6 39.9h.68v.68h-.68zM76.3 40.9h.68v.68h-.68zM74.6 38.1h.68v.68h-.68zM74.4 35.7h.68v.68h-.68zM77.3 47.6h.68v.68h-.68zM74.6 43.7h.68v.68h-.68zM78.0 40.5h.68v.68h-.68zM79.3 35.9h.68v.68h-.68zM78.9 41.8h.68v.68h-.68zM63.0 42.1h.68v.68h-.68zM79.0 53.1h.68v.68h-.68zM72.5 40.4h.68v.68h-.68zM78.1 33.1h.68v.68h-.68zM81.4 42.8h.68v.68h-.68zM73.6 31.5h.68v.68h-.68zM75.1 56.0h.68v.68h-.68zM85.1 22.7h.68v.68h-.68zM69.6 44.3h.68v.68h-.68zM76.3 35.4h.68v.68h-.68zM79.1 40.4h.68v.68h-.68zM77.8 41.5h.68v.68h-.68zM72.4 48.7h.68v.68h-.68zM74.9 47.5h.68v.68h-.68zM79.4 40.0h.68v.68h-.68zM77.2 39.4h.68v.68h-.68zM69.5 37.5h.68v.68h-.68zM78.4 28.6h.68v.68h-.68zM70.8 47.1h.68v.68h-.68zM79.9 29.1h.68v.68h-.68zM78.5 39.4h.68v.68h-.68zM80.5 37.5h.68v.68h-.68zM75.8 34.6h.68v.68h-.68zM77.4 38.8h.68v.68h-.68zM74.1 37.3h.68v.68h-.68zM73.7 44.0h.68v.68h-.68zM72.6 29.0h.68v.68h-.68zM72.9 47.2h.68v.68h-.68zM74.7 44.2h.68v.68h-.68zM79.6 36.2h.68v.68h-.68zM79.7 43.2h.68v.68h-.68zM76.5 34.8h.68v.68h-.68zM76.4 30.9h.68v.68h-.68zM75.6 35.7h.68v.68h-.68zM78.4 42.1h.68v.68h-.68zM74.2 45.7h.68v.68h-.68zM81.4 40.1h.68v.68h-.68zM73.8 43.2h.68v.68h-.68zM67.1 35.7h.68v.68h-.68zM79.0 53.5h.68v.68h-.68zM73.8 50.2h.68v.68h-.68zM85.9 52.7h.68v.68h-.68zM67.4 47.3h.68v.68h-.68zM77.4 46.7h.68v.68h-.68zM76.0 35.4h.68v.68h-.68zM75.8 50.1h.68v.68h-.68zM80.0 37.7h.68v.68h-.68zM78.2 45.7h.68v.68h-.68zM78.9 39.4h.68v.68h-.68zM74.1 34.5h.68v.68h-.68zM74.9 35.9h.68v.68h-.68zM70.4 29.9h.68v.68h-.68zM80.1 31.9h.68v.68h-.68zM71.5 39.4h.68v.68h-.68zM82.4 48.4h.68v.68h-.68zM75.0 32.5h.68v.68h-.68zM74.5 33.4h.68v.68h-.68zM74.5 43.0h.68v.68h-.68zM72.5 34.3h.68v.68h-.68zM75.6 39.5h.68v.68h-.68zM73.6 34.2h.68v.68h-.68zM72.2 34.5h.68v.68h-.68zM78.7 38.0h.68v.68h-.68zM64.3 44.0h.68v.68h-.68zM76.4 33.6h.68v.68h-.68zM75.7 18.6h.68v.68h-.68zM70.1 47.8h.68v.68h-.68z"/>
<path fill="#7050a0" fill-opacity="0.45" d="M80.5 46.3h.72v.72h-.72zM75.8 35.3h.72v.72h-.72zM81.0 31.0h.72v.72h-.72zM82.8 33.8h.72v.72h-.72zM79.8 31.0h.72v.72h-.72zM78.6 35.8h.72v.72h-.72zM81.7 31.5h.72v.72h-.72zM75.6 43.3h.72v.72h-.72zM74.3 36.3h.72v.72h-.72zM79.3 33.8h.72v.72h-.72zM75.4 41.5h.72v.72h-.72zM79.9 38.8h.72v.72h-.72zM79.6 31.0h.72v.72h-.72zM75.8 43.3h.72v.72h-.72zM81.8 30.6h.72v.72h-.72zM73.2 31.4h.72v.72h-.72zM78.7 33.4h.72v.72h-.72zM76.5 36.9h.72v.72h-.72zM79.7 37.1h.72v.72h-.72zM82.4 30.4h.72v.72h-.72zM78.3 37.8h.72v.72h-.72zM72.5 40.0h.72v.72h-.72zM75.3 28.4h.72v.72h-.72zM82.9 42.9h.72v.72h-.72zM77.0 41.7h.72v.72h-.72zM81.8 31.6h.72v.72h-.72zM77.3 41.9h.72v.72h-.72zM77.2 35.8h.72v.72h-.72zM75.6 38.5h.72v.72h-.72zM76.9 32.8h.72v.72h-.72zM75.6 30.9h.72v.72h-.72zM77.7 37.8h.72v.72h-.72zM77.9 30.9h.72v.72h-.72zM78.1 37.4h.72v.72h-.72zM81.4 34.4h.72v.72h-.72zM76.0 37.6h.72v.72h-.72zM81.5 36.5h.72v.72h-.72zM78.5 31.6h.72v.72h-.72zM75.6 39.4h.72v.72h-.72zM78.5 41.0h.72v.72h-.72zM72.5 38.1h.72v.72h-.72zM74.6 37.6h.72v.72h-.72zM71.8 33.6h.72v.72h-.72zM74.0 40.5h.72v.72h-.72zM76.5 41.3h.72v.72h-.72zM74.3 43.8h.72v.72h-.72zM74.3 43.5h.72v.72h-.72zM77.5 31.1h.72v.72h-.72zM80.4 34.5h.72v.72h-.72zM79.0 29.8h.72v.72h-.72z"/>
<g filter="url(#b5)"><ellipse cx="77" cy="38.2" rx="5.2" ry="9.2" fill="#6e3aa8" fill-opacity="0.7" transform="rotate(14 77 38.2)"/><ellipse cx="76.7" cy="38.5" rx="4.4" ry="6.6" fill="#9a40d0" fill-opacity="0.7" transform="rotate(14 77 38.2)"/><ellipse cx="77" cy="38.6" rx="3.6" ry="4.4" fill="#3a5fe8" fill-opacity="0.8" transform="rotate(14 77 38.2)"/><ellipse cx="77" cy="38.7" rx="2.5" ry="2.9" fill="#20c040" fill-opacity="0.9" transform="rotate(14 77 38.2)"/><ellipse cx="77" cy="38.7" rx="1.3" ry="1.5" fill="#d02010" fill-opacity="1" transform="rotate(14 77 38.2)"/></g>
<path fill="#7a4aa8" fill-opacity="0.8" d="M70.3 40.3h.84v.84h-.84zM80.3 31.3h.84v.84h-.84zM79.3 44.1h.84v.84h-.84zM82.6 33.2h.84v.84h-.84zM83.4 37.5h.84v.84h-.84zM77.5 23.9h.84v.84h-.84zM75.0 50.4h.84v.84h-.84zM74.6 45.4h.84v.84h-.84zM81.0 39.9h.84v.84h-.84zM82.0 36.2h.84v.84h-.84zM82.5 31.0h.84v.84h-.84zM77.5 44.8h.84v.84h-.84zM72.2 47.6h.84v.84h-.84zM75.3 31.1h.84v.84h-.84zM79.1 44.9h.84v.84h-.84zM75.6 30.3h.84v.84h-.84zM71.6 36.7h.84v.84h-.84zM80.2 41.4h.84v.84h-.84zM73.1 31.0h.84v.84h-.84zM80.8 45.4h.84v.84h-.84zM73.1 44.4h.84v.84h-.84zM72.3 33.7h.84v.84h-.84zM76.4 26.7h.84v.84h-.84zM78.6 43.9h.84v.84h-.84zM72.1 46.8h.84v.84h-.84zM72.5 33.4h.84v.84h-.84zM72.7 35.1h.84v.84h-.84zM78.5 44.6h.84v.84h-.84zM76.2 29.1h.84v.84h-.84zM79.8 42.0h.84v.84h-.84zM71.7 32.4h.84v.84h-.84zM73.2 45.0h.84v.84h-.84zM82.2 33.6h.84v.84h-.84zM73.5 45.5h.84v.84h-.84zM81.0 32.5h.84v.84h-.84zM75.7 29.6h.84v.84h-.84zM80.9 42.5h.84v.84h-.84zM74.7 48.0h.84v.84h-.84zM79.3 45.2h.84v.84h-.84zM83.5 35.3h.84v.84h-.84zM82.3 36.4h.84v.84h-.84zM81.9 31.4h.84v.84h-.84zM71.0 35.3h.84v.84h-.84zM82.4 31.5h.84v.84h-.84zM78.6 30.6h.84v.84h-.84zM81.0 27.7h.84v.84h-.84zM75.0 46.5h.84v.84h-.84zM74.4 46.3h.84v.84h-.84zM68.9 42.8h.84v.84h-.84zM84.2 32.9h.84v.84h-.84zM72.0 38.1h.84v.84h-.84zM75.9 46.3h.84v.84h-.84zM82.4 37.0h.84v.84h-.84zM71.7 45.1h.84v.84h-.84zM73.4 47.3h.84v.84h-.84zM80.9 27.9h.84v.84h-.84zM76.3 47.6h.84v.84h-.84zM81.6 35.9h.84v.84h-.84zM70.0 35.7h.84v.84h-.84zM71.3 36.8h.84v.84h-.84zM74.2 46.7h.84v.84h-.84zM72.1 33.3h.84v.84h-.84zM73.6 45.3h.84v.84h-.84zM80.3 32.2h.84v.84h-.84zM82.0 38.0h.84v.84h-.84zM77.4 30.5h.84v.84h-.84zM74.5 47.2h.84v.84h-.84zM74.1 31.3h.84v.84h-.84zM79.9 46.6h.84v.84h-.84zM79.9 26.3h.84v.84h-.84zM79.6 30.2h.84v.84h-.84zM72.5 32.6h.84v.84h-.84zM76.6 28.5h.84v.84h-.84zM72.0 45.5h.84v.84h-.84zM80.7 40.9h.84v.84h-.84zM75.0 29.7h.84v.84h-.84zM69.7 32.5h.84v.84h-.84zM70.5 38.1h.84v.84h-.84zM81.5 36.8h.84v.84h-.84zM71.2 48.0h.84v.84h-.84zM75.4 46.2h.84v.84h-.84zM71.4 42.1h.84v.84h-.84zM71.5 43.2h.84v.84h-.84zM78.1 27.9h.84v.84h-.84zM71.0 33.6h.84v.84h-.84zM68.7 44.2h.84v.84h-.84zM76.2 46.9h.84v.84h-.84zM80.2 31.5h.84v.84h-.84zM78.2 27.9h.84v.84h-.84zM73.8 44.9h.84v.84h-.84zM70.1 33.9h.84v.84h-.84zM72.4 32.4h.84v.84h-.84zM82.1 32.1h.84v.84h-.84zM80.3 31.1h.84v.84h-.84zM71.9 39.7h.84v.84h-.84zM78.0 47.4h.84v.84h-.84zM71.8 40.2h.84v.84h-.84zM81.5 33.3h.84v.84h-.84zM80.0 42.0h.84v.84h-.84zM70.2 46.4h.84v.84h-.84zM74.0 32.3h.84v.84h-.84zM79.8 29.9h.84v.84h-.84zM81.0 33.0h.84v.84h-.84zM84.0 30.7h.84v.84h-.84zM81.4 35.1h.84v.84h-.84zM72.4 33.0h.84v.84h-.84zM71.4 46.1h.84v.84h-.84zM70.4 38.2h.84v.84h-.84zM70.4 36.8h.84v.84h-.84zM73.5 31.9h.84v.84h-.84zM79.7 42.8h.84v.84h-.84zM71.8 38.5h.84v.84h-.84zM80.1 41.4h.84v.84h-.84zM77.1 28.8h.84v.84h-.84zM79.7 46.6h.84v.84h-.84zM78.3 29.8h.84v.84h-.84zM81.9 36.9h.84v.84h-.84zM73.2 32.9h.84v.84h-.84zM81.0 39.0h.84v.84h-.84zM75.4 28.6h.84v.84h-.84zM83.2 29.7h.84v.84h-.84zM72.4 50.1h.84v.84h-.84zM81.8 31.4h.84v.84h-.84zM80.4 27.9h.84v.84h-.84zM76.2 27.8h.84v.84h-.84zM72.8 34.5h.84v.84h-.84zM74.3 32.5h.84v.84h-.84zM73.5 33.0h.84v.84h-.84zM76.3 27.4h.84v.84h-.84zM72.4 36.7h.84v.84h-.84zM71.0 42.6h.84v.84h-.84z"/>
<path fill="#9a40d0" fill-opacity="0.8" d="M74.1 43.8h.84v.84h-.84zM74.8 34.6h.84v.84h-.84zM72.8 42.0h.84v.84h-.84zM79.6 39.6h.84v.84h-.84zM76.3 32.7h.84v.84h-.84zM79.5 33.2h.84v.84h-.84zM72.9 40.8h.84v.84h-.84zM77.0 43.5h.84v.84h-.84zM75.0 32.6h.84v.84h-.84zM77.8 30.9h.84v.84h-.84zM74.1 36.2h.84v.84h-.84zM78.6 43.4h.84v.84h-.84zM74.6 42.4h.84v.84h-.84zM77.8 42.2h.84v.84h-.84zM79.6 37.8h.84v.84h-.84zM73.1 40.4h.84v.84h-.84zM77.8 31.5h.84v.84h-.84zM77.1 42.6h.84v.84h-.84zM79.9 36.9h.84v.84h-.84zM78.8 40.5h.84v.84h-.84zM73.5 41.6h.84v.84h-.84zM75.0 33.9h.84v.84h-.84zM72.9 36.3h.84v.84h-.84zM74.3 43.8h.84v.84h-.84zM78.8 32.5h.84v.84h-.84zM79.7 41.3h.84v.84h-.84zM79.3 40.4h.84v.84h-.84zM80.8 36.1h.84v.84h-.84zM76.2 33.2h.84v.84h-.84zM73.0 37.3h.84v.84h-.84zM72.4 41.8h.84v.84h-.84zM78.6 42.9h.84v.84h-.84zM77.0 43.0h.84v.84h-.84zM74.9 34.7h.84v.84h-.84zM73.4 40.8h.84v.84h-.84zM74.7 44.5h.84v.84h-.84zM72.8 41.8h.84v.84h-.84zM73.1 39.6h.84v.84h-.84zM79.8 40.2h.84v.84h-.84zM74.4 35.2h.84v.84h-.84zM80.9 36.8h.84v.84h-.84zM76.3 43.0h.84v.84h-.84zM78.2 32.7h.84v.84h-.84zM80.6 36.9h.84v.84h-.84zM74.9 42.6h.84v.84h-.84zM75.1 34.2h.84v.84h-.84zM77.5 32.9h.84v.84h-.84zM72.6 42.8h.84v.84h-.84zM72.8 42.1h.84v.84h-.84zM79.6 36.9h.84v.84h-.84zM79.3 39.7h.84v.84h-.84zM80.3 38.2h.84v.84h-.84zM80.5 33.0h.84v.84h-.84zM73.5 37.7h.84v.84h-.84zM79.7 37.8h.84v.84h-.84zM73.4 43.0h.84v.84h-.84zM74.4 33.9h.84v.84h-.84zM75.1 33.7h.84v.84h-.84zM79.6 32.9h.84v.84h-.84zM73.7 36.6h.84v.84h-.84zM80.4 39.6h.84v.84h-.84zM75.0 43.3h.84v.84h-.84zM75.4 44.0h.84v.84h-.84zM75.2 42.9h.84v.84h-.84zM77.6 31.8h.84v.84h-.84zM78.5 33.2h.84v.84h-.84zM79.2 42.1h.84v.84h-.84zM79.3 31.3h.84v.84h-.84zM72.9 43.6h.84v.84h-.84zM74.3 33.5h.84v.84h-.84zM77.6 43.6h.84v.84h-.84zM77.7 43.2h.84v.84h-.84zM80.5 34.3h.84v.84h-.84zM77.8 42.0h.84v.84h-.84zM74.0 35.9h.84v.84h-.84zM78.0 33.1h.84v.84h-.84zM73.5 44.0h.84v.84h-.84zM79.6 36.4h.84v.84h-.84zM73.2 38.6h.84v.84h-.84zM76.9 44.3h.84v.84h-.84zM75.6 45.3h.84v.84h-.84zM73.2 37.2h.84v.84h-.84zM73.1 38.1h.84v.84h-.84zM79.8 35.0h.84v.84h-.84zM73.4 39.9h.84v.84h-.84zM78.6 42.3h.84v.84h-.84zM73.8 41.8h.84v.84h-.84zM74.9 43.2h.84v.84h-.84zM73.1 37.8h.84v.84h-.84zM80.2 32.1h.84v.84h-.84zM76.6 30.9h.84v.84h-.84zM79.2 39.4h.84v.84h-.84zM72.8 43.4h.84v.84h-.84zM80.2 36.3h.84v.84h-.84zM79.2 41.2h.84v.84h-.84zM76.5 44.1h.84v.84h-.84zM80.6 33.5h.84v.84h-.84zM75.7 31.6h.84v.84h-.84zM76.8 33.1h.84v.84h-.84zM76.5 43.7h.84v.84h-.84zM80.1 37.1h.84v.84h-.84zM80.9 37.3h.84v.84h-.84zM76.3 43.3h.84v.84h-.84zM73.8 41.5h.84v.84h-.84zM80.2 36.9h.84v.84h-.84zM72.7 39.7h.84v.84h-.84zM78.1 32.9h.84v.84h-.84zM77.3 42.6h.84v.84h-.84zM74.5 44.3h.84v.84h-.84zM78.4 32.2h.84v.84h-.84zM73.9 34.1h.84v.84h-.84zM73.0 40.7h.84v.84h-.84zM76.5 32.5h.84v.84h-.84zM79.6 40.7h.84v.84h-.84zM73.4 37.7h.84v.84h-.84zM74.6 45.1h.84v.84h-.84zM73.6 44.3h.84v.84h-.84zM80.9 37.9h.84v.84h-.84zM72.9 40.8h.84v.84h-.84zM75.9 32.5h.84v.84h-.84zM72.9 39.6h.84v.84h-.84zM75.5 45.0h.84v.84h-.84zM73.2 42.9h.84v.84h-.84zM79.0 40.7h.84v.84h-.84zM73.3 40.8h.84v.84h-.84zM77.3 31.0h.84v.84h-.84zM77.9 32.6h.84v.84h-.84zM75.0 44.3h.84v.84h-.84zM74.4 35.4h.84v.84h-.84zM74.8 43.1h.84v.84h-.84zM77.0 43.3h.84v.84h-.84zM80.2 34.9h.84v.84h-.84zM72.8 42.9h.84v.84h-.84zM76.8 31.8h.84v.84h-.84zM73.1 41.6h.84v.84h-.84zM79.2 31.8h.84v.84h-.84zM75.9 44.4h.84v.84h-.84zM74.3 34.9h.84v.84h-.84zM75.7 43.7h.84v.84h-.84zM80.4 35.6h.84v.84h-.84zM75.5 44.5h.84v.84h-.84zM79.6 40.7h.84v.84h-.84zM74.0 35.8h.84v.84h-.84zM79.9 39.7h.84v.84h-.84zM76.2 32.1h.84v.84h-.84zM74.6 42.9h.84v.84h-.84zM74.2 42.8h.84v.84h-.84zM80.6 34.3h.84v.84h-.84zM75.2 33.2h.84v.84h-.84zM76.7 33.2h.84v.84h-.84zM74.0 36.4h.84v.84h-.84zM78.9 32.8h.84v.84h-.84zM76.6 31.9h.84v.84h-.84zM73.4 40.5h.84v.84h-.84zM79.7 37.8h.84v.84h-.84zM79.3 34.7h.84v.84h-.84zM72.3 39.8h.84v.84h-.84zM74.7 34.4h.84v.84h-.84zM80.3 35.1h.84v.84h-.84zM74.3 34.6h.84v.84h-.84zM79.4 41.9h.84v.84h-.84zM79.6 32.3h.84v.84h-.84zM80.3 40.5h.84v.84h-.84zM75.5 33.2h.84v.84h-.84zM80.4 35.7h.84v.84h-.84zM79.9 33.2h.84v.84h-.84zM80.2 38.1h.84v.84h-.84zM73.6 40.8h.84v.84h-.84zM76.7 42.6h.84v.84h-.84zM72.6 37.0h.84v.84h-.84zM76.4 44.4h.84v.84h-.84zM74.9 32.7h.84v.84h-.84zM78.5 31.5h.84v.84h-.84zM79.5 33.9h.84v.84h-.84zM76.2 43.8h.84v.84h-.84zM77.3 42.7h.84v.84h-.84zM79.8 35.1h.84v.84h-.84zM73.5 40.6h.84v.84h-.84zM72.8 41.6h.84v.84h-.84zM72.9 41.9h.84v.84h-.84zM78.4 30.8h.84v.84h-.84zM80.4 33.0h.84v.84h-.84zM73.5 41.7h.84v.84h-.84zM73.9 42.6h.84v.84h-.84zM72.7 37.8h.84v.84h-.84zM76.2 43.6h.84v.84h-.84zM77.5 32.6h.84v.84h-.84zM79.5 32.9h.84v.84h-.84zM76.2 31.7h.84v.84h-.84zM79.6 35.1h.84v.84h-.84zM73.9 44.6h.84v.84h-.84zM74.9 43.4h.84v.84h-.84zM73.9 37.0h.84v.84h-.84zM74.8 33.5h.84v.84h-.84zM80.8 38.6h.84v.84h-.84z"/>
<path fill="#3a5fe8" fill-opacity="0.8" d="M74.5 39.2h.84v.84h-.84zM78.5 36.4h.84v.84h-.84zM74.3 39.3h.84v.84h-.84zM78.0 40.5h.84v.84h-.84zM76.4 34.5h.84v.84h-.84zM74.2 38.2h.84v.84h-.84zM74.4 38.3h.84v.84h-.84zM79.0 38.4h.84v.84h-.84zM78.5 40.4h.84v.84h-.84zM76.2 41.9h.84v.84h-.84zM77.2 41.5h.84v.84h-.84zM77.7 41.6h.84v.84h-.84zM78.6 39.1h.84v.84h-.84zM74.7 37.2h.84v.84h-.84zM76.0 42.5h.84v.84h-.84zM74.6 35.8h.84v.84h-.84zM78.6 39.8h.84v.84h-.84zM77.8 39.9h.84v.84h-.84zM74.3 41.8h.84v.84h-.84zM74.5 39.7h.84v.84h-.84zM77.2 34.8h.84v.84h-.84zM74.1 40.8h.84v.84h-.84zM74.3 38.0h.84v.84h-.84zM73.8 39.3h.84v.84h-.84zM74.6 36.2h.84v.84h-.84zM74.5 40.2h.84v.84h-.84zM77.7 33.3h.84v.84h-.84zM78.9 38.8h.84v.84h-.84zM74.6 40.2h.84v.84h-.84zM74.4 42.1h.84v.84h-.84zM75.8 41.2h.84v.84h-.84zM78.3 34.0h.84v.84h-.84zM78.9 35.2h.84v.84h-.84zM78.4 35.1h.84v.84h-.84zM77.4 33.7h.84v.84h-.84zM78.1 33.8h.84v.84h-.84zM77.6 34.0h.84v.84h-.84zM73.9 38.8h.84v.84h-.84zM77.5 40.8h.84v.84h-.84zM76.1 42.2h.84v.84h-.84zM74.1 39.1h.84v.84h-.84zM76.3 41.7h.84v.84h-.84zM76.9 41.5h.84v.84h-.84zM78.6 35.1h.84v.84h-.84zM74.9 35.1h.84v.84h-.84zM78.8 38.1h.84v.84h-.84zM75.3 36.2h.84v.84h-.84zM79.3 36.1h.84v.84h-.84zM76.7 34.2h.84v.84h-.84zM77.1 34.8h.84v.84h-.84zM75.0 36.8h.84v.84h-.84zM75.4 40.9h.84v.84h-.84zM77.5 41.9h.84v.84h-.84zM75.5 41.2h.84v.84h-.84zM77.6 34.9h.84v.84h-.84zM75.7 42.5h.84v.84h-.84zM75.0 36.0h.84v.84h-.84zM78.6 38.2h.84v.84h-.84zM74.6 36.8h.84v.84h-.84zM76.9 33.7h.84v.84h-.84zM77.2 40.9h.84v.84h-.84zM79.1 39.2h.84v.84h-.84zM78.7 34.7h.84v.84h-.84zM74.7 40.9h.84v.84h-.84zM74.7 36.9h.84v.84h-.84zM76.4 33.7h.84v.84h-.84zM75.4 42.6h.84v.84h-.84zM77.9 34.5h.84v.84h-.84zM75.1 41.3h.84v.84h-.84zM74.4 40.4h.84v.84h-.84zM74.6 39.9h.84v.84h-.84zM79.2 39.1h.84v.84h-.84zM79.4 37.2h.84v.84h-.84zM76.9 41.3h.84v.84h-.84zM75.2 36.1h.84v.84h-.84zM79.0 34.6h.84v.84h-.84zM77.8 33.9h.84v.84h-.84zM78.5 38.8h.84v.84h-.84zM78.1 39.2h.84v.84h-.84zM75.6 34.9h.84v.84h-.84zM74.8 41.2h.84v.84h-.84zM74.3 38.4h.84v.84h-.84zM78.7 37.3h.84v.84h-.84zM74.4 37.1h.84v.84h-.84zM79.3 38.7h.84v.84h-.84zM75.7 34.2h.84v.84h-.84zM78.2 41.1h.84v.84h-.84zM78.6 37.8h.84v.84h-.84zM74.2 37.3h.84v.84h-.84zM73.8 37.6h.84v.84h-.84zM74.5 37.4h.84v.84h-.84zM78.2 35.0h.84v.84h-.84zM78.6 35.8h.84v.84h-.84zM75.7 33.9h.84v.84h-.84zM74.3 40.1h.84v.84h-.84zM75.1 40.8h.84v.84h-.84zM78.7 36.6h.84v.84h-.84zM74.9 40.6h.84v.84h-.84zM74.1 36.6h.84v.84h-.84zM74.3 36.3h.84v.84h-.84zM75.8 41.6h.84v.84h-.84zM74.0 39.6h.84v.84h-.84zM75.7 42.6h.84v.84h-.84zM78.5 36.6h.84v.84h-.84zM77.2 34.4h.84v.84h-.84zM77.0 33.5h.84v.84h-.84zM77.9 39.8h.84v.84h-.84zM76.8 33.7h.84v.84h-.84zM77.5 41.5h.84v.84h-.84zM78.2 40.3h.84v.84h-.84zM77.4 40.7h.84v.84h-.84zM74.2 37.2h.84v.84h-.84zM77.0 33.5h.84v.84h-.84zM74.1 40.8h.84v.84h-.84zM74.4 38.5h.84v.84h-.84zM75.6 34.6h.84v.84h-.84zM73.7 38.6h.84v.84h-.84zM79.2 35.4h.84v.84h-.84zM77.3 34.5h.84v.84h-.84zM78.9 39.0h.84v.84h-.84zM77.5 34.9h.84v.84h-.84zM77.9 34.5h.84v.84h-.84zM74.1 36.5h.84v.84h-.84zM75.2 34.7h.84v.84h-.84zM77.9 40.0h.84v.84h-.84zM78.5 34.7h.84v.84h-.84zM75.3 41.7h.84v.84h-.84zM77.1 41.1h.84v.84h-.84zM75.2 42.6h.84v.84h-.84zM76.8 34.3h.84v.84h-.84zM74.4 38.1h.84v.84h-.84zM74.3 41.3h.84v.84h-.84zM76.8 41.6h.84v.84h-.84zM75.9 41.9h.84v.84h-.84zM76.7 41.1h.84v.84h-.84zM74.4 41.8h.84v.84h-.84zM74.5 40.7h.84v.84h-.84zM75.7 41.4h.84v.84h-.84zM79.0 34.6h.84v.84h-.84zM74.6 37.2h.84v.84h-.84zM74.1 39.6h.84v.84h-.84zM74.0 37.2h.84v.84h-.84zM77.6 33.5h.84v.84h-.84zM74.7 37.2h.84v.84h-.84zM77.2 41.6h.84v.84h-.84zM76.8 42.3h.84v.84h-.84zM76.0 42.5h.84v.84h-.84zM74.8 36.5h.84v.84h-.84zM76.0 35.3h.84v.84h-.84zM75.1 40.6h.84v.84h-.84zM74.9 35.9h.84v.84h-.84zM78.1 35.4h.84v.84h-.84zM75.9 41.3h.84v.84h-.84zM75.9 41.4h.84v.84h-.84zM75.7 34.7h.84v.84h-.84zM77.2 33.2h.84v.84h-.84zM78.7 40.3h.84v.84h-.84zM78.9 38.1h.84v.84h-.84zM78.9 35.6h.84v.84h-.84zM77.5 40.5h.84v.84h-.84zM74.6 36.6h.84v.84h-.84zM74.3 37.2h.84v.84h-.84zM75.3 41.2h.84v.84h-.84zM76.6 42.0h.84v.84h-.84zM77.2 41.6h.84v.84h-.84zM75.9 35.3h.84v.84h-.84zM76.5 42.3h.84v.84h-.84zM75.4 41.8h.84v.84h-.84zM74.9 36.2h.84v.84h-.84zM78.6 38.5h.84v.84h-.84zM74.4 39.2h.84v.84h-.84zM74.4 39.7h.84v.84h-.84zM77.6 33.4h.84v.84h-.84zM78.8 39.6h.84v.84h-.84zM75.7 34.1h.84v.84h-.84zM79.1 39.0h.84v.84h-.84zM74.9 42.2h.84v.84h-.84z"/>
<path fill="#20c040" fill-opacity="0.8" d="M76.4 35.1h.84v.84h-.84zM75.2 38.9h.84v.84h-.84zM77.0 36.3h.84v.84h-.84zM76.9 39.4h.84v.84h-.84zM77.6 35.0h.84v.84h-.84zM77.6 36.6h.84v.84h-.84zM77.9 36.3h.84v.84h-.84zM77.6 38.6h.84v.84h-.84zM76.3 39.9h.84v.84h-.84zM74.8 37.9h.84v.84h-.84zM77.4 38.8h.84v.84h-.84zM77.6 37.4h.84v.84h-.84zM76.9 36.4h.84v.84h-.84zM77.1 39.5h.84v.84h-.84zM76.7 35.0h.84v.84h-.84zM74.8 37.8h.84v.84h-.84zM77.1 36.1h.84v.84h-.84zM75.4 39.8h.84v.84h-.84zM77.4 36.3h.84v.84h-.84zM77.6 35.3h.84v.84h-.84zM76.0 36.4h.84v.84h-.84zM78.0 36.5h.84v.84h-.84zM76.4 36.5h.84v.84h-.84zM77.7 37.1h.84v.84h-.84zM75.7 36.9h.84v.84h-.84zM75.7 37.5h.84v.84h-.84zM75.2 37.2h.84v.84h-.84zM75.0 37.6h.84v.84h-.84zM75.6 37.9h.84v.84h-.84zM77.7 37.5h.84v.84h-.84zM77.6 38.7h.84v.84h-.84zM76.7 40.2h.84v.84h-.84zM76.6 40.9h.84v.84h-.84zM75.9 40.8h.84v.84h-.84zM75.3 39.2h.84v.84h-.84zM78.0 37.1h.84v.84h-.84zM78.2 37.4h.84v.84h-.84zM75.4 39.3h.84v.84h-.84zM77.6 39.4h.84v.84h-.84zM75.5 40.3h.84v.84h-.84zM77.6 37.7h.84v.84h-.84zM76.3 39.6h.84v.84h-.84zM77.7 39.1h.84v.84h-.84zM75.0 38.2h.84v.84h-.84zM78.4 36.8h.84v.84h-.84zM78.0 36.6h.84v.84h-.84zM75.6 40.3h.84v.84h-.84zM77.0 35.0h.84v.84h-.84zM75.7 36.5h.84v.84h-.84zM75.5 38.4h.84v.84h-.84zM77.8 35.3h.84v.84h-.84zM76.4 40.8h.84v.84h-.84zM77.6 35.7h.84v.84h-.84zM76.1 36.3h.84v.84h-.84zM77.9 38.7h.84v.84h-.84zM77.8 35.3h.84v.84h-.84zM77.3 34.9h.84v.84h-.84zM77.9 37.7h.84v.84h-.84zM75.2 37.2h.84v.84h-.84zM75.4 38.5h.84v.84h-.84zM75.4 38.1h.84v.84h-.84zM75.8 35.8h.84v.84h-.84zM77.9 38.1h.84v.84h-.84zM75.2 38.8h.84v.84h-.84zM75.9 40.5h.84v.84h-.84zM77.0 39.3h.84v.84h-.84zM78.3 36.3h.84v.84h-.84zM78.3 38.2h.84v.84h-.84zM76.8 35.1h.84v.84h-.84zM77.4 39.0h.84v.84h-.84zM76.0 39.9h.84v.84h-.84zM75.6 40.5h.84v.84h-.84zM77.8 39.8h.84v.84h-.84zM77.5 38.1h.84v.84h-.84zM76.2 36.3h.84v.84h-.84zM78.1 38.7h.84v.84h-.84zM76.3 35.4h.84v.84h-.84zM75.7 37.0h.84v.84h-.84zM77.0 40.3h.84v.84h-.84zM77.8 38.8h.84v.84h-.84zM77.9 35.9h.84v.84h-.84zM76.9 35.4h.84v.84h-.84zM77.7 39.4h.84v.84h-.84zM75.4 39.8h.84v.84h-.84zM75.3 36.4h.84v.84h-.84zM77.9 38.9h.84v.84h-.84zM76.9 40.1h.84v.84h-.84zM76.5 39.9h.84v.84h-.84zM76.7 40.3h.84v.84h-.84zM75.9 35.9h.84v.84h-.84zM77.9 37.5h.84v.84h-.84zM75.7 36.8h.84v.84h-.84zM76.7 35.4h.84v.84h-.84zM78.0 36.0h.84v.84h-.84zM76.9 35.0h.84v.84h-.84zM76.6 35.7h.84v.84h-.84zM75.0 39.0h.84v.84h-.84zM77.4 38.9h.84v.84h-.84zM75.4 39.2h.84v.84h-.84zM75.5 37.3h.84v.84h-.84zM75.5 39.5h.84v.84h-.84zM77.5 39.0h.84v.84h-.84z"/>
<path fill="#d82818" fill-opacity="0.8" d="M75.7 38.3h.84v.84h-.84zM75.7 38.5h.84v.84h-.84zM76.2 38.2h.84v.84h-.84zM76.9 37.9h.84v.84h-.84zM76.4 37.2h.84v.84h-.84zM76.4 37.7h.84v.84h-.84zM76.0 38.0h.84v.84h-.84zM76.4 38.8h.84v.84h-.84zM77.4 37.1h.84v.84h-.84zM76.5 36.5h.84v.84h-.84zM77.1 38.3h.84v.84h-.84zM77.5 38.2h.84v.84h-.84zM75.7 38.8h.84v.84h-.84zM75.9 38.9h.84v.84h-.84zM77.1 38.0h.84v.84h-.84zM76.5 38.8h.84v.84h-.84zM76.8 36.5h.84v.84h-.84zM77.1 38.7h.84v.84h-.84zM77.0 36.6h.84v.84h-.84zM77.4 37.2h.84v.84h-.84zM76.9 39.1h.84v.84h-.84zM76.1 38.0h.84v.84h-.84zM76.1 37.6h.84v.84h-.84zM76.6 37.0h.84v.84h-.84zM77.0 38.8h.84v.84h-.84zM76.4 38.7h.84v.84h-.84zM76.4 38.9h.84v.84h-.84zM76.1 38.9h.84v.84h-.84zM77.0 38.0h.84v.84h-.84zM77.0 36.6h.84v.84h-.84zM77.3 37.7h.84v.84h-.84zM77.0 38.4h.84v.84h-.84zM77.1 38.3h.84v.84h-.84zM77.0 38.8h.84v.84h-.84zM77.3 37.6h.84v.84h-.84zM75.9 38.0h.84v.84h-.84zM76.3 38.4h.84v.84h-.84zM77.3 37.5h.84v.84h-.84zM77.1 36.6h.84v.84h-.84zM76.7 38.0h.84v.84h-.84zM76.3 36.7h.84v.84h-.84zM76.7 39.0h.84v.84h-.84zM76.4 37.2h.84v.84h-.84zM76.4 39.0h.84v.84h-.84zM76.7 39.3h.84v.84h-.84z"/>
<path fill="#b050c0" fill-opacity="0.45" d="M73.2 71.5h.72v.72h-.72zM73.5 71.6h.72v.72h-.72zM77.8 71.0h.72v.72h-.72zM75.6 72.2h.72v.72h-.72zM75.9 68.5h.72v.72h-.72zM78.9 75.3h.72v.72h-.72zM72.0 66.0h.72v.72h-.72zM74.0 72.5h.72v.72h-.72zM71.8 78.8h.72v.72h-.72zM76.9 71.8h.72v.72h-.72zM79.8 67.3h.72v.72h-.72zM78.0 73.0h.72v.72h-.72zM81.2 65.8h.72v.72h-.72zM81.6 74.0h.72v.72h-.72zM77.6 76.3h.72v.72h-.72zM75.8 70.0h.72v.72h-.72zM79.6 69.3h.72v.72h-.72zM80.5 77.9h.72v.72h-.72zM77.5 71.9h.72v.72h-.72zM74.5 66.4h.72v.72h-.72zM81.8 65.9h.72v.72h-.72zM77.0 72.5h.72v.72h-.72zM73.6 67.6h.72v.72h-.72zM78.0 78.0h.72v.72h-.72zM83.8 76.1h.72v.72h-.72zM81.3 68.8h.72v.72h-.72zM74.3 78.3h.72v.72h-.72zM81.9 66.0h.72v.72h-.72zM80.8 72.5h.72v.72h-.72zM79.5 75.9h.72v.72h-.72zM83.4 68.0h.72v.72h-.72zM76.8 77.4h.72v.72h-.72zM75.9 73.8h.72v.72h-.72zM76.5 62.6h.72v.72h-.72zM74.8 75.5h.72v.72h-.72zM74.9 63.4h.72v.72h-.72zM75.0 71.6h.72v.72h-.72zM78.5 72.8h.72v.72h-.72zM78.6 65.8h.72v.72h-.72zM74.7 67.3h.72v.72h-.72zM75.3 73.3h.72v.72h-.72zM81.5 70.0h.72v.72h-.72zM80.5 76.7h.72v.72h-.72zM72.8 67.1h.72v.72h-.72zM77.3 64.2h.72v.72h-.72zM83.3 61.8h.72v.72h-.72zM72.5 75.0h.72v.72h-.72zM74.2 74.7h.72v.72h-.72zM73.4 76.4h.72v.72h-.72zM74.8 74.8h.72v.72h-.72zM80.3 63.7h.72v.72h-.72zM73.7 62.4h.72v.72h-.72zM73.0 75.7h.72v.72h-.72zM76.7 75.4h.72v.72h-.72zM81.8 76.3h.72v.72h-.72zM79.4 69.0h.72v.72h-.72zM75.5 72.8h.72v.72h-.72zM79.9 76.6h.72v.72h-.72zM77.9 69.7h.72v.72h-.72zM74.4 75.6h.72v.72h-.72zM77.6 75.0h.72v.72h-.72zM74.2 72.9h.72v.72h-.72zM76.6 69.8h.72v.72h-.72zM72.7 64.1h.72v.72h-.72zM75.7 73.9h.72v.72h-.72zM77.8 72.4h.72v.72h-.72zM78.0 64.5h.72v.72h-.72zM80.6 71.6h.72v.72h-.72zM74.2 68.5h.72v.72h-.72zM80.3 72.2h.72v.72h-.72zM79.8 66.2h.72v.72h-.72zM81.2 77.5h.72v.72h-.72zM80.5 74.5h.72v.72h-.72zM78.0 72.3h.72v.72h-.72zM75.0 72.6h.72v.72h-.72zM81.3 70.7h.72v.72h-.72zM83.7 63.5h.72v.72h-.72zM77.0 63.8h.72v.72h-.72zM70.8 72.5h.72v.72h-.72zM75.7 68.5h.72v.72h-.72zM73.2 70.1h.72v.72h-.72zM71.2 70.3h.72v.72h-.72zM75.0 65.0h.72v.72h-.72zM78.3 62.0h.72v.72h-.72zM78.4 72.6h.72v.72h-.72zM78.7 71.9h.72v.72h-.72zM79.7 69.9h.72v.72h-.72zM73.1 73.1h.72v.72h-.72zM74.1 69.4h.72v.72h-.72zM77.3 66.6h.72v.72h-.72zM80.3 63.6h.72v.72h-.72zM81.1 71.1h.72v.72h-.72zM82.8 76.8h.72v.72h-.72zM79.2 72.7h.72v.72h-.72zM77.3 64.4h.72v.72h-.72zM74.9 66.6h.72v.72h-.72zM74.4 70.6h.72v.72h-.72zM74.1 71.9h.72v.72h-.72zM76.0 68.9h.72v.72h-.72zM78.2 73.6h.72v.72h-.72zM72.2 69.7h.72v.72h-.72zM87.1 71.3h.72v.72h-.72zM78.5 66.8h.72v.72h-.72zM80.3 78.9h.72v.72h-.72zM78.9 70.6h.72v.72h-.72zM77.0 61.8h.72v.72h-.72zM79.0 69.7h.72v.72h-.72zM78.3 73.1h.72v.72h-.72zM80.1 68.0h.72v.72h-.72zM79.0 74.4h.72v.72h-.72zM77.0 78.3h.72v.72h-.72zM75.6 62.5h.72v.72h-.72zM73.2 73.2h.72v.72h-.72zM73.4 72.0h.72v.72h-.72z"/>
<g filter="url(#b7)"><ellipse cx="77.1" cy="71.4" rx="5.2" ry="7.6" fill="#c050c8" fill-opacity="0.4" transform="rotate(0 77.1 71.4)"/><ellipse cx="77.1" cy="71.4" rx="4.4" ry="6.4" fill="#a838c8" fill-opacity="0.55" transform="rotate(0 77.1 71.4)"/><ellipse cx="77.1" cy="71.4" rx="3.0" ry="4.6" fill="#7040d8" fill-opacity="0.6" transform="rotate(0 77.1 71.4)"/><ellipse cx="77.1" cy="72.0" rx="2.0" ry="3.4" fill="#3a6ff0" fill-opacity="0.7" transform="rotate(0 77.1 71.4)"/></g>
<path fill="#c868c8" fill-opacity="0.85" d="M78.9 63.0h.84v.84h-.84zM71.2 65.3h.84v.84h-.84zM78.3 79.2h.84v.84h-.84zM71.9 66.2h.84v.84h-.84zM72.0 77.9h.84v.84h-.84zM74.7 78.8h.84v.84h-.84zM76.1 63.2h.84v.84h-.84zM81.4 65.2h.84v.84h-.84zM82.5 67.9h.84v.84h-.84zM78.0 63.1h.84v.84h-.84zM83.7 69.0h.84v.84h-.84zM83.1 68.8h.84v.84h-.84zM71.0 71.8h.84v.84h-.84zM82.1 72.2h.84v.84h-.84zM74.2 63.4h.84v.84h-.84zM79.1 61.9h.84v.84h-.84zM79.8 60.2h.84v.84h-.84zM74.9 79.0h.84v.84h-.84zM81.4 78.8h.84v.84h-.84zM83.5 64.5h.84v.84h-.84zM81.3 65.5h.84v.84h-.84zM81.9 74.2h.84v.84h-.84zM70.6 69.7h.84v.84h-.84zM75.4 79.1h.84v.84h-.84zM83.6 71.3h.84v.84h-.84zM76.8 60.1h.84v.84h-.84zM72.2 78.2h.84v.84h-.84zM82.0 66.7h.84v.84h-.84zM72.7 77.5h.84v.84h-.84zM82.0 73.3h.84v.84h-.84zM75.2 61.9h.84v.84h-.84zM81.3 77.5h.84v.84h-.84zM79.9 64.6h.84v.84h-.84zM70.7 78.4h.84v.84h-.84zM82.0 72.6h.84v.84h-.84zM70.7 71.8h.84v.84h-.84zM71.8 74.5h.84v.84h-.84zM81.2 65.2h.84v.84h-.84zM76.4 79.0h.84v.84h-.84zM74.2 63.8h.84v.84h-.84zM72.9 79.2h.84v.84h-.84zM80.5 61.8h.84v.84h-.84zM71.7 65.6h.84v.84h-.84zM73.3 65.1h.84v.84h-.84zM81.6 65.0h.84v.84h-.84zM70.4 65.8h.84v.84h-.84zM67.6 69.8h.84v.84h-.84zM81.2 75.3h.84v.84h-.84zM84.1 71.6h.84v.84h-.84zM71.6 74.0h.84v.84h-.84zM71.5 68.9h.84v.84h-.84zM76.5 78.9h.84v.84h-.84zM76.2 79.0h.84v.84h-.84zM83.4 77.5h.84v.84h-.84zM73.4 63.8h.84v.84h-.84zM82.5 72.5h.84v.84h-.84zM82.4 63.4h.84v.84h-.84zM74.8 63.5h.84v.84h-.84zM75.6 60.9h.84v.84h-.84zM82.6 65.2h.84v.84h-.84zM82.2 72.1h.84v.84h-.84zM71.1 75.6h.84v.84h-.84zM71.2 65.5h.84v.84h-.84zM73.0 65.7h.84v.84h-.84zM71.9 76.0h.84v.84h-.84zM75.4 79.3h.84v.84h-.84zM70.1 75.8h.84v.84h-.84zM79.9 63.9h.84v.84h-.84zM70.9 76.2h.84v.84h-.84zM82.3 75.3h.84v.84h-.84zM88.6 64.2h.84v.84h-.84zM83.4 73.5h.84v.84h-.84zM68.1 73.0h.84v.84h-.84zM77.6 61.0h.84v.84h-.84zM73.3 63.6h.84v.84h-.84zM81.4 74.7h.84v.84h-.84zM82.5 69.6h.84v.84h-.84zM69.3 71.0h.84v.84h-.84zM71.2 66.3h.84v.84h-.84zM71.7 64.4h.84v.84h-.84z"/>
<path fill="#b030c8" fill-opacity="0.85" d="M72.7 72.8h.84v.84h-.84zM81.5 68.5h.84v.84h-.84zM79.0 75.1h.84v.84h-.84zM81.3 71.8h.84v.84h-.84zM77.2 77.4h.84v.84h-.84zM77.2 64.9h.84v.84h-.84zM78.8 66.2h.84v.84h-.84zM78.8 67.7h.84v.84h-.84zM80.1 69.3h.84v.84h-.84zM76.8 77.5h.84v.84h-.84zM73.8 73.7h.84v.84h-.84zM73.9 74.1h.84v.84h-.84zM73.6 72.8h.84v.84h-.84zM77.4 66.3h.84v.84h-.84zM76.7 66.6h.84v.84h-.84zM78.0 64.0h.84v.84h-.84zM80.1 67.3h.84v.84h-.84zM73.2 70.1h.84v.84h-.84zM71.7 70.0h.84v.84h-.84zM76.7 65.8h.84v.84h-.84zM78.5 75.5h.84v.84h-.84zM79.5 76.3h.84v.84h-.84zM72.3 71.6h.84v.84h-.84zM80.4 74.2h.84v.84h-.84zM79.7 69.3h.84v.84h-.84zM76.1 76.9h.84v.84h-.84zM73.3 73.3h.84v.84h-.84zM80.9 67.2h.84v.84h-.84zM72.9 72.6h.84v.84h-.84zM77.8 77.3h.84v.84h-.84zM76.6 64.5h.84v.84h-.84zM72.8 70.3h.84v.84h-.84zM74.9 76.2h.84v.84h-.84zM81.3 67.8h.84v.84h-.84zM79.6 65.3h.84v.84h-.84zM76.1 63.8h.84v.84h-.84zM80.7 73.6h.84v.84h-.84zM74.9 66.0h.84v.84h-.84zM80.2 67.5h.84v.84h-.84zM75.2 66.7h.84v.84h-.84zM73.1 74.2h.84v.84h-.84zM80.1 68.1h.84v.84h-.84zM73.3 67.2h.84v.84h-.84zM74.9 66.5h.84v.84h-.84zM73.8 67.5h.84v.84h-.84zM79.1 67.1h.84v.84h-.84zM78.5 66.4h.84v.84h-.84zM80.3 70.7h.84v.84h-.84zM79.5 65.8h.84v.84h-.84zM79.3 74.9h.84v.84h-.84zM72.4 74.4h.84v.84h-.84zM77.8 75.7h.84v.84h-.84zM78.5 65.1h.84v.84h-.84zM75.6 66.2h.84v.84h-.84zM79.6 66.4h.84v.84h-.84zM76.6 63.7h.84v.84h-.84zM81.3 70.7h.84v.84h-.84zM78.6 75.4h.84v.84h-.84zM74.1 67.4h.84v.84h-.84zM80.3 73.6h.84v.84h-.84zM75.5 76.2h.84v.84h-.84zM75.0 76.4h.84v.84h-.84zM76.6 78.4h.84v.84h-.84zM79.7 73.9h.84v.84h-.84zM76.0 66.5h.84v.84h-.84zM81.5 71.2h.84v.84h-.84zM75.9 65.2h.84v.84h-.84zM74.5 77.1h.84v.84h-.84zM74.0 76.6h.84v.84h-.84zM73.8 67.7h.84v.84h-.84zM74.7 77.9h.84v.84h-.84zM80.3 72.2h.84v.84h-.84zM74.7 64.4h.84v.84h-.84zM73.3 73.4h.84v.84h-.84zM72.1 73.7h.84v.84h-.84zM76.3 78.4h.84v.84h-.84zM73.5 69.6h.84v.84h-.84zM76.0 76.0h.84v.84h-.84zM80.2 74.4h.84v.84h-.84zM78.8 76.7h.84v.84h-.84zM80.9 74.7h.84v.84h-.84zM79.6 74.9h.84v.84h-.84zM73.5 68.1h.84v.84h-.84zM78.3 64.2h.84v.84h-.84zM74.6 64.7h.84v.84h-.84zM79.3 64.9h.84v.84h-.84zM81.1 69.9h.84v.84h-.84zM76.2 76.5h.84v.84h-.84zM80.4 73.5h.84v.84h-.84zM79.7 69.8h.84v.84h-.84zM78.8 75.2h.84v.84h-.84zM78.5 65.4h.84v.84h-.84zM77.5 66.3h.84v.84h-.84zM78.4 66.4h.84v.84h-.84zM79.0 67.5h.84v.84h-.84zM78.6 66.8h.84v.84h-.84zM74.4 66.8h.84v.84h-.84zM71.9 74.3h.84v.84h-.84zM80.1 69.4h.84v.84h-.84zM81.5 72.4h.84v.84h-.84zM80.2 71.7h.84v.84h-.84zM76.8 76.6h.84v.84h-.84zM80.5 67.8h.84v.84h-.84zM76.0 76.4h.84v.84h-.84zM75.6 77.6h.84v.84h-.84zM80.5 75.2h.84v.84h-.84zM79.5 76.3h.84v.84h-.84zM81.3 68.2h.84v.84h-.84zM74.1 67.6h.84v.84h-.84zM71.9 74.2h.84v.84h-.84zM73.6 69.8h.84v.84h-.84zM74.0 68.1h.84v.84h-.84zM75.2 66.7h.84v.84h-.84zM75.7 76.1h.84v.84h-.84zM78.8 77.4h.84v.84h-.84zM74.4 67.1h.84v.84h-.84zM72.7 72.5h.84v.84h-.84zM77.6 77.4h.84v.84h-.84zM74.1 67.9h.84v.84h-.84zM76.3 65.0h.84v.84h-.84zM80.4 71.0h.84v.84h-.84zM80.3 71.7h.84v.84h-.84zM75.9 65.9h.84v.84h-.84zM76.5 65.9h.84v.84h-.84zM74.4 67.5h.84v.84h-.84zM75.0 66.8h.84v.84h-.84zM80.1 74.3h.84v.84h-.84zM78.3 75.2h.84v.84h-.84zM79.2 74.4h.84v.84h-.84zM73.3 72.1h.84v.84h-.84zM77.6 66.1h.84v.84h-.84zM80.4 72.8h.84v.84h-.84zM78.1 64.4h.84v.84h-.84zM76.6 77.3h.84v.84h-.84zM72.9 73.5h.84v.84h-.84zM73.8 69.0h.84v.84h-.84zM73.4 69.7h.84v.84h-.84zM80.9 69.2h.84v.84h-.84zM71.5 71.4h.84v.84h-.84zM80.5 70.1h.84v.84h-.84zM78.9 67.1h.84v.84h-.84zM80.1 68.1h.84v.84h-.84zM72.6 71.0h.84v.84h-.84zM77.3 77.1h.84v.84h-.84zM72.8 67.8h.84v.84h-.84zM80.0 74.0h.84v.84h-.84zM79.6 73.6h.84v.84h-.84zM79.1 75.9h.84v.84h-.84zM80.4 71.0h.84v.84h-.84zM73.5 72.8h.84v.84h-.84zM75.2 64.1h.84v.84h-.84zM78.9 74.5h.84v.84h-.84zM78.1 75.8h.84v.84h-.84zM72.1 74.1h.84v.84h-.84zM73.1 75.4h.84v.84h-.84zM77.4 66.4h.84v.84h-.84zM81.1 71.7h.84v.84h-.84zM77.2 77.9h.84v.84h-.84zM71.8 70.8h.84v.84h-.84zM74.1 68.3h.84v.84h-.84zM77.9 75.6h.84v.84h-.84zM74.4 67.4h.84v.84h-.84zM78.5 67.2h.84v.84h-.84zM78.9 65.3h.84v.84h-.84zM75.4 66.6h.84v.84h-.84zM74.1 68.0h.84v.84h-.84zM73.6 66.3h.84v.84h-.84zM77.2 64.1h.84v.84h-.84zM73.6 69.5h.84v.84h-.84zM80.4 69.0h.84v.84h-.84zM79.0 64.6h.84v.84h-.84zM78.1 75.3h.84v.84h-.84zM71.7 71.4h.84v.84h-.84zM75.7 76.8h.84v.84h-.84zM80.0 73.0h.84v.84h-.84zM73.0 68.0h.84v.84h-.84zM76.1 66.2h.84v.84h-.84zM75.8 75.9h.84v.84h-.84zM77.9 77.5h.84v.84h-.84zM74.6 75.3h.84v.84h-.84zM72.3 70.2h.84v.84h-.84zM73.6 67.6h.84v.84h-.84zM73.7 77.3h.84v.84h-.84zM80.7 75.0h.84v.84h-.84zM74.1 76.1h.84v.84h-.84zM79.7 67.0h.84v.84h-.84zM78.8 66.6h.84v.84h-.84zM79.1 75.8h.84v.84h-.84zM77.0 76.6h.84v.84h-.84zM72.8 69.9h.84v.84h-.84zM74.6 76.7h.84v.84h-.84zM72.5 71.4h.84v.84h-.84zM79.9 72.0h.84v.84h-.84zM80.3 74.7h.84v.84h-.84zM77.4 66.7h.84v.84h-.84zM81.6 72.4h.84v.84h-.84zM72.8 75.9h.84v.84h-.84zM72.5 69.4h.84v.84h-.84zM78.5 76.1h.84v.84h-.84zM72.9 73.2h.84v.84h-.84zM80.2 75.5h.84v.84h-.84zM77.3 66.5h.84v.84h-.84zM79.1 67.8h.84v.84h-.84zM79.8 69.4h.84v.84h-.84zM73.3 73.3h.84v.84h-.84zM73.4 74.2h.84v.84h-.84zM74.5 75.9h.84v.84h-.84zM73.7 73.3h.84v.84h-.84zM73.3 67.1h.84v.84h-.84zM72.6 69.0h.84v.84h-.84zM78.7 67.6h.84v.84h-.84zM77.6 66.7h.84v.84h-.84zM80.3 72.5h.84v.84h-.84zM78.6 66.2h.84v.84h-.84zM78.0 75.4h.84v.84h-.84zM74.2 66.6h.84v.84h-.84zM80.2 68.7h.84v.84h-.84zM72.3 72.6h.84v.84h-.84zM80.6 73.9h.84v.84h-.84zM76.6 65.9h.84v.84h-.84zM80.0 75.5h.84v.84h-.84zM78.9 77.4h.84v.84h-.84zM73.9 67.3h.84v.84h-.84zM79.0 66.8h.84v.84h-.84zM79.4 64.8h.84v.84h-.84zM79.0 76.6h.84v.84h-.84zM76.4 65.5h.84v.84h-.84zM78.9 65.4h.84v.84h-.84zM73.6 66.0h.84v.84h-.84zM80.3 72.1h.84v.84h-.84zM72.6 68.9h.84v.84h-.84zM73.8 76.0h.84v.84h-.84zM81.1 73.5h.84v.84h-.84zM76.8 63.8h.84v.84h-.84zM75.2 78.1h.84v.84h-.84zM80.3 72.1h.84v.84h-.84zM74.0 68.2h.84v.84h-.84zM79.8 73.3h.84v.84h-.84zM73.2 68.2h.84v.84h-.84zM76.1 76.4h.84v.84h-.84zM76.4 77.6h.84v.84h-.84zM77.7 76.2h.84v.84h-.84zM76.3 64.2h.84v.84h-.84z"/>
<path fill="#7040d8" fill-opacity="0.85" d="M76.1 67.8h.84v.84h-.84zM79.2 72.3h.84v.84h-.84zM79.2 73.1h.84v.84h-.84zM79.0 71.8h.84v.84h-.84zM75.1 73.7h.84v.84h-.84zM78.1 67.9h.84v.84h-.84zM77.6 74.3h.84v.84h-.84zM75.7 75.2h.84v.84h-.84zM74.8 74.7h.84v.84h-.84zM77.2 68.3h.84v.84h-.84zM75.7 75.2h.84v.84h-.84zM78.8 72.2h.84v.84h-.84zM75.9 75.1h.84v.84h-.84zM75.6 73.5h.84v.84h-.84zM75.6 68.0h.84v.84h-.84zM74.1 71.4h.84v.84h-.84zM76.0 74.3h.84v.84h-.84zM78.5 68.6h.84v.84h-.84zM74.2 71.3h.84v.84h-.84zM75.3 67.3h.84v.84h-.84zM79.6 72.5h.84v.84h-.84zM78.6 71.3h.84v.84h-.84zM77.0 68.1h.84v.84h-.84zM79.7 72.1h.84v.84h-.84zM78.8 74.2h.84v.84h-.84zM78.6 73.4h.84v.84h-.84zM74.1 73.5h.84v.84h-.84zM77.0 74.1h.84v.84h-.84zM74.7 68.9h.84v.84h-.84zM79.0 71.0h.84v.84h-.84zM76.8 74.1h.84v.84h-.84zM76.0 66.9h.84v.84h-.84zM74.5 71.0h.84v.84h-.84zM77.1 73.9h.84v.84h-.84zM79.6 70.9h.84v.84h-.84zM75.8 67.7h.84v.84h-.84zM77.7 67.1h.84v.84h-.84zM77.5 75.3h.84v.84h-.84zM75.1 72.9h.84v.84h-.84zM77.0 73.9h.84v.84h-.84zM74.8 68.8h.84v.84h-.84zM79.7 70.9h.84v.84h-.84zM78.8 68.8h.84v.84h-.84zM79.1 71.4h.84v.84h-.84zM75.0 73.1h.84v.84h-.84zM75.8 74.9h.84v.84h-.84zM75.9 75.5h.84v.84h-.84zM74.6 70.7h.84v.84h-.84zM75.4 73.8h.84v.84h-.84zM74.5 71.0h.84v.84h-.84zM79.3 70.7h.84v.84h-.84zM78.0 67.0h.84v.84h-.84zM74.2 69.3h.84v.84h-.84zM74.5 70.7h.84v.84h-.84zM78.9 70.3h.84v.84h-.84zM76.9 73.9h.84v.84h-.84zM73.9 71.3h.84v.84h-.84zM76.1 68.5h.84v.84h-.84zM76.4 68.3h.84v.84h-.84zM78.7 72.5h.84v.84h-.84zM76.8 75.1h.84v.84h-.84zM76.0 68.6h.84v.84h-.84zM77.7 75.4h.84v.84h-.84zM74.3 68.4h.84v.84h-.84zM78.2 73.7h.84v.84h-.84zM78.6 74.7h.84v.84h-.84zM77.0 66.8h.84v.84h-.84zM78.9 70.9h.84v.84h-.84zM79.4 72.9h.84v.84h-.84zM79.1 73.1h.84v.84h-.84zM78.5 67.7h.84v.84h-.84zM77.8 73.8h.84v.84h-.84zM74.1 69.7h.84v.84h-.84zM74.9 69.7h.84v.84h-.84zM75.3 68.5h.84v.84h-.84zM75.1 69.3h.84v.84h-.84zM76.3 74.8h.84v.84h-.84zM75.5 74.6h.84v.84h-.84zM74.8 69.9h.84v.84h-.84zM76.3 68.4h.84v.84h-.84zM79.2 71.8h.84v.84h-.84zM74.8 70.3h.84v.84h-.84zM78.8 74.1h.84v.84h-.84zM73.7 70.7h.84v.84h-.84zM78.3 72.6h.84v.84h-.84zM74.5 68.0h.84v.84h-.84zM75.0 69.1h.84v.84h-.84zM76.9 68.0h.84v.84h-.84zM74.7 74.2h.84v.84h-.84zM79.8 70.7h.84v.84h-.84zM77.3 67.1h.84v.84h-.84zM75.9 67.2h.84v.84h-.84zM79.7 70.3h.84v.84h-.84zM79.2 68.9h.84v.84h-.84zM74.7 67.9h.84v.84h-.84zM78.0 74.3h.84v.84h-.84zM74.9 69.4h.84v.84h-.84zM74.5 71.4h.84v.84h-.84zM77.7 73.6h.84v.84h-.84zM74.1 72.7h.84v.84h-.84zM75.0 69.3h.84v.84h-.84zM74.5 68.2h.84v.84h-.84zM74.3 70.2h.84v.84h-.84zM74.1 72.7h.84v.84h-.84zM77.6 68.3h.84v.84h-.84zM75.4 75.3h.84v.84h-.84zM76.8 74.9h.84v.84h-.84zM79.4 69.1h.84v.84h-.84zM77.6 75.5h.84v.84h-.84zM77.4 68.2h.84v.84h-.84zM79.1 71.1h.84v.84h-.84zM79.7 71.1h.84v.84h-.84zM77.4 74.1h.84v.84h-.84zM77.0 67.0h.84v.84h-.84zM77.1 68.3h.84v.84h-.84zM79.5 69.7h.84v.84h-.84zM77.0 66.7h.84v.84h-.84zM75.8 68.0h.84v.84h-.84zM74.2 70.6h.84v.84h-.84zM79.8 71.4h.84v.84h-.84zM76.4 68.2h.84v.84h-.84zM75.0 72.9h.84v.84h-.84zM74.3 68.8h.84v.84h-.84zM75.5 67.4h.84v.84h-.84zM79.2 74.0h.84v.84h-.84zM76.6 74.5h.84v.84h-.84zM79.6 69.8h.84v.84h-.84zM79.2 70.4h.84v.84h-.84zM76.9 68.3h.84v.84h-.84zM74.2 68.7h.84v.84h-.84zM75.0 68.0h.84v.84h-.84zM75.6 68.7h.84v.84h-.84zM74.4 68.6h.84v.84h-.84zM76.8 74.5h.84v.84h-.84zM75.7 74.3h.84v.84h-.84zM74.0 72.5h.84v.84h-.84zM73.9 72.5h.84v.84h-.84zM75.3 68.4h.84v.84h-.84zM78.0 67.6h.84v.84h-.84zM76.1 75.5h.84v.84h-.84zM77.2 68.1h.84v.84h-.84zM78.7 72.5h.84v.84h-.84zM78.9 73.3h.84v.84h-.84zM78.0 73.5h.84v.84h-.84zM79.5 69.7h.84v.84h-.84zM74.7 70.2h.84v.84h-.84zM73.7 72.0h.84v.84h-.84zM77.9 73.6h.84v.84h-.84zM74.7 73.7h.84v.84h-.84zM75.4 74.4h.84v.84h-.84zM78.1 74.5h.84v.84h-.84zM79.2 69.5h.84v.84h-.84zM75.1 73.8h.84v.84h-.84zM73.9 73.3h.84v.84h-.84zM74.6 72.2h.84v.84h-.84zM75.5 73.6h.84v.84h-.84zM74.4 71.4h.84v.84h-.84zM74.1 70.6h.84v.84h-.84zM78.9 73.7h.84v.84h-.84zM74.2 68.5h.84v.84h-.84zM78.9 72.0h.84v.84h-.84zM74.5 71.6h.84v.84h-.84zM76.0 74.9h.84v.84h-.84zM77.5 75.5h.84v.84h-.84zM78.6 72.2h.84v.84h-.84zM74.6 73.7h.84v.84h-.84zM74.6 71.8h.84v.84h-.84zM74.3 68.2h.84v.84h-.84zM73.9 70.9h.84v.84h-.84zM74.0 73.2h.84v.84h-.84zM76.5 67.8h.84v.84h-.84zM79.0 72.9h.84v.84h-.84zM79.4 72.1h.84v.84h-.84zM77.8 74.2h.84v.84h-.84zM76.8 68.1h.84v.84h-.84zM73.8 72.2h.84v.84h-.84zM78.5 68.7h.84v.84h-.84zM75.2 67.5h.84v.84h-.84zM77.1 74.2h.84v.84h-.84zM74.4 70.1h.84v.84h-.84zM76.1 75.4h.84v.84h-.84zM74.4 70.7h.84v.84h-.84zM74.1 71.6h.84v.84h-.84z"/>
<path fill="#3a6ff0" fill-opacity="0.85" d="M75.3 70.3h.84v.84h-.84zM76.2 72.0h.84v.84h-.84zM77.2 72.8h.84v.84h-.84zM77.0 69.6h.84v.84h-.84zM78.2 70.3h.84v.84h-.84zM78.5 71.0h.84v.84h-.84zM77.1 69.3h.84v.84h-.84zM77.1 69.8h.84v.84h-.84zM77.5 71.7h.84v.84h-.84zM76.6 71.9h.84v.84h-.84zM76.6 72.4h.84v.84h-.84zM77.2 71.8h.84v.84h-.84zM76.1 71.3h.84v.84h-.84zM77.9 71.5h.84v.84h-.84zM77.2 70.2h.84v.84h-.84zM76.6 69.8h.84v.84h-.84zM76.0 72.7h.84v.84h-.84zM77.8 71.4h.84v.84h-.84zM77.1 70.2h.84v.84h-.84zM76.6 73.0h.84v.84h-.84zM75.7 70.6h.84v.84h-.84zM77.1 70.2h.84v.84h-.84zM76.0 70.1h.84v.84h-.84zM76.9 71.4h.84v.84h-.84zM76.1 72.5h.84v.84h-.84zM76.2 70.1h.84v.84h-.84zM76.2 71.3h.84v.84h-.84zM76.5 71.5h.84v.84h-.84zM76.2 69.5h.84v.84h-.84zM76.7 71.8h.84v.84h-.84zM75.7 70.9h.84v.84h-.84zM78.0 71.9h.84v.84h-.84zM76.6 73.9h.84v.84h-.84zM77.8 72.0h.84v.84h-.84zM78.0 70.5h.84v.84h-.84zM76.1 71.5h.84v.84h-.84zM76.4 70.1h.84v.84h-.84zM76.1 69.4h.84v.84h-.84zM75.5 73.1h.84v.84h-.84zM75.9 70.4h.84v.84h-.84zM77.1 72.2h.84v.84h-.84zM77.1 71.9h.84v.84h-.84zM75.4 70.8h.84v.84h-.84zM77.3 70.3h.84v.84h-.84zM75.8 70.9h.84v.84h-.84zM76.0 72.5h.84v.84h-.84zM75.6 73.2h.84v.84h-.84zM76.0 69.7h.84v.84h-.84zM75.8 70.9h.84v.84h-.84zM76.7 70.9h.84v.84h-.84zM75.9 71.8h.84v.84h-.84zM78.4 70.2h.84v.84h-.84zM78.1 71.2h.84v.84h-.84zM77.6 72.8h.84v.84h-.84zM77.3 68.6h.84v.84h-.84zM76.2 72.3h.84v.84h-.84zM75.8 71.7h.84v.84h-.84zM75.4 72.4h.84v.84h-.84zM75.7 71.5h.84v.84h-.84zM77.5 72.3h.84v.84h-.84zM75.4 72.1h.84v.84h-.84zM78.4 72.0h.84v.84h-.84zM76.6 72.4h.84v.84h-.84zM78.3 70.1h.84v.84h-.84zM76.8 71.8h.84v.84h-.84zM77.8 69.5h.84v.84h-.84zM77.3 71.9h.84v.84h-.84zM76.4 73.8h.84v.84h-.84zM77.1 72.7h.84v.84h-.84zM75.0 70.8h.84v.84h-.84zM75.8 72.3h.84v.84h-.84zM75.7 73.0h.84v.84h-.84zM78.0 69.6h.84v.84h-.84zM76.3 68.9h.84v.84h-.84zM77.6 71.3h.84v.84h-.84zM78.3 71.6h.84v.84h-.84zM78.3 71.5h.84v.84h-.84zM77.6 71.3h.84v.84h-.84zM75.4 71.4h.84v.84h-.84zM75.7 70.3h.84v.84h-.84zM76.8 73.7h.84v.84h-.84zM75.0 71.0h.84v.84h-.84zM77.3 71.8h.84v.84h-.84zM76.9 69.4h.84v.84h-.84zM75.6 72.4h.84v.84h-.84zM75.2 71.0h.84v.84h-.84zM76.6 68.9h.84v.84h-.84zM75.8 69.8h.84v.84h-.84zM76.9 73.2h.84v.84h-.84zM76.3 70.2h.84v.84h-.84zM76.8 69.7h.84v.84h-.84zM77.1 72.5h.84v.84h-.84zM76.7 73.0h.84v.84h-.84zM76.4 71.6h.84v.84h-.84zM78.1 70.5h.84v.84h-.84zM77.9 69.4h.84v.84h-.84zM76.3 70.1h.84v.84h-.84zM77.1 71.8h.84v.84h-.84zM76.0 68.9h.84v.84h-.84zM76.5 68.9h.84v.84h-.84zM75.8 70.4h.84v.84h-.84zM76.4 70.8h.84v.84h-.84zM76.7 69.6h.84v.84h-.84zM77.7 70.6h.84v.84h-.84zM76.1 69.7h.84v.84h-.84zM78.3 71.9h.84v.84h-.84zM76.1 73.5h.84v.84h-.84zM76.4 73.0h.84v.84h-.84zM76.8 68.9h.84v.84h-.84zM78.0 72.2h.84v.84h-.84zM75.2 70.6h.84v.84h-.84zM77.6 71.2h.84v.84h-.84zM76.2 69.5h.84v.84h-.84zM76.3 68.9h.84v.84h-.84zM76.7 70.3h.84v.84h-.84zM76.3 69.7h.84v.84h-.84zM77.5 73.5h.84v.84h-.84zM75.1 71.8h.84v.84h-.84zM76.5 73.7h.84v.84h-.84zM77.1 72.2h.84v.84h-.84zM76.5 69.3h.84v.84h-.84zM76.8 72.8h.84v.84h-.84zM76.1 68.6h.84v.84h-.84zM76.7 70.6h.84v.84h-.84zM77.4 70.9h.84v.84h-.84zM75.6 70.5h.84v.84h-.84zM76.8 68.8h.84v.84h-.84zM76.9 69.8h.84v.84h-.84zM76.8 71.8h.84v.84h-.84zM75.9 71.6h.84v.84h-.84zM76.9 73.4h.84v.84h-.84z"/>
<rect x="50" y="54.3" width="51.1" height="25.8" stroke="#707070" stroke-width="0.75" fill="none"/>
<text x="99.8" y="58.8" font-size="3.95" font-weight="normal" text-anchor="end" fill="#333">CD3 cells</text>
<line x1="19.1" y1="32.3" x2="19.1" y2="83.3" stroke="#000" stroke-width="1.15"/>
<path d="M16.900000000000002,34.0 L19.1,29.3 L21.3,34.0 Z" fill="#000"/>
<text x="13.6" y="80.6" font-size="8.7" font-weight="bold" text-anchor="start" fill="#000" transform="rotate(-90 13.6 80.6)">CD3</text>
<line x1="32.1" y1="91.5" x2="103.9" y2="91.5" stroke="#000" stroke-width="1.15"/>
<path d="M102.2,89.3 L106.9,91.5 L102.2,93.7 Z" fill="#000"/>
<text x="34.2" y="103.0" font-size="8.7" font-weight="bold" text-anchor="start" fill="#000">CD45</text>
<rect x="148" y="11.3" width="69" height="68.5" stroke="#8a8a8a" stroke-width="0.85" fill="none"/>
<text x="146.8" y="12.200000000000001" font-size="2.7" font-weight="normal" text-anchor="end" fill="#555">10<tspan dy="-1" font-size="1.8">3</tspan></text>
<line x1="147" y1="11.3" x2="148" y2="11.3" stroke="#888" stroke-width="0.4"/>
<text x="146.8" y="29.599999999999998" font-size="2.7" font-weight="normal" text-anchor="end" fill="#555">10<tspan dy="-1" font-size="1.8">3</tspan></text>
<line x1="147" y1="28.7" x2="148" y2="28.7" stroke="#888" stroke-width="0.4"/>
<text x="146.8" y="46.9" font-size="2.7" font-weight="normal" text-anchor="end" fill="#555">10<tspan dy="-1" font-size="1.8">3</tspan></text>
<line x1="147" y1="46" x2="148" y2="46" stroke="#888" stroke-width="0.4"/>
<text x="146.8" y="63.9" font-size="2.7" font-weight="normal" text-anchor="end" fill="#555">10<tspan dy="-1" font-size="1.8">3</tspan></text>
<line x1="147" y1="63" x2="148" y2="63" stroke="#888" stroke-width="0.4"/>
<text x="167.2" y="84.5" font-size="2.7" font-weight="normal" text-anchor="middle" fill="#555">10<tspan dy="-1" font-size="1.8">3</tspan></text>
<line x1="166" y1="79.8" x2="166" y2="80.8" stroke="#888" stroke-width="0.4"/>
<text x="184.2" y="84.5" font-size="2.7" font-weight="normal" text-anchor="middle" fill="#555">10<tspan dy="-1" font-size="1.8">3</tspan></text>
<line x1="183" y1="79.8" x2="183" y2="80.8" stroke="#888" stroke-width="0.4"/>
<text x="201.2" y="84.5" font-size="2.7" font-weight="normal" text-anchor="middle" fill="#555">10<tspan dy="-1" font-size="1.8">3</tspan></text>
<line x1="200" y1="79.8" x2="200" y2="80.8" stroke="#888" stroke-width="0.4"/>
<text x="218.2" y="84.5" font-size="2.7" font-weight="normal" text-anchor="middle" fill="#555">10<tspan dy="-1" font-size="1.8">3</tspan></text>
<line x1="217" y1="79.8" x2="217" y2="80.8" stroke="#888" stroke-width="0.4"/>
<path fill="#999" fill-opacity="0.35" d="M176.2 73.3h.63v.63h-.63zM199.0 67.3h.63v.63h-.63zM167.6 41.0h.63v.63h-.63zM181.0 34.1h.63v.63h-.63zM158.5 32.4h.63v.63h-.63zM182.2 47.0h.63v.63h-.63zM195.8 68.0h.63v.63h-.63zM176.3 44.7h.63v.63h-.63zM165.7 30.3h.63v.63h-.63zM155.2 71.3h.63v.63h-.63zM164.6 28.1h.63v.63h-.63zM198.7 46.7h.63v.63h-.63zM188.4 50.3h.63v.63h-.63zM198.1 31.7h.63v.63h-.63zM173.4 60.1h.63v.63h-.63zM150.9 73.6h.63v.63h-.63zM166.6 61.6h.63v.63h-.63zM153.6 31.6h.63v.63h-.63zM154.0 67.1h.63v.63h-.63zM196.8 73.5h.63v.63h-.63zM176.2 32.2h.63v.63h-.63zM188.5 53.0h.63v.63h-.63zM188.8 59.4h.63v.63h-.63zM178.0 36.2h.63v.63h-.63zM156.8 31.8h.63v.63h-.63zM171.3 42.1h.63v.63h-.63zM197.4 30.1h.63v.63h-.63zM187.6 33.7h.63v.63h-.63zM154.8 73.8h.63v.63h-.63zM160.7 57.4h.63v.63h-.63zM178.9 47.6h.63v.63h-.63zM167.2 34.7h.63v.63h-.63zM184.5 46.3h.63v.63h-.63zM179.7 68.6h.63v.63h-.63zM153.5 48.9h.63v.63h-.63zM167.3 74.3h.63v.63h-.63zM180.7 37.5h.63v.63h-.63zM172.6 28.4h.63v.63h-.63zM175.4 31.2h.63v.63h-.63zM156.6 53.1h.63v.63h-.63zM176.6 38.3h.63v.63h-.63zM178.9 43.3h.63v.63h-.63zM184.8 30.3h.63v.63h-.63zM191.8 50.1h.63v.63h-.63zM158.3 42.2h.63v.63h-.63zM181.1 32.4h.63v.63h-.63zM195.3 38.7h.63v.63h-.63zM170.2 31.3h.63v.63h-.63zM172.5 75.8h.63v.63h-.63zM159.0 36.6h.63v.63h-.63zM177.0 59.7h.63v.63h-.63zM156.8 38.6h.63v.63h-.63zM179.9 39.7h.63v.63h-.63zM151.1 62.4h.63v.63h-.63zM193.1 68.0h.63v.63h-.63zM192.4 38.3h.63v.63h-.63zM165.2 57.7h.63v.63h-.63zM180.5 59.0h.63v.63h-.63zM177.3 39.4h.63v.63h-.63zM161.6 31.9h.63v.63h-.63zM152.6 56.7h.63v.63h-.63zM154.0 71.5h.63v.63h-.63zM197.6 35.0h.63v.63h-.63zM198.0 58.9h.63v.63h-.63zM150.0 46.9h.63v.63h-.63zM167.7 43.1h.63v.63h-.63zM153.0 39.9h.63v.63h-.63zM150.6 50.1h.63v.63h-.63zM173.8 39.3h.63v.63h-.63zM195.9 72.0h.63v.63h-.63zM174.7 67.8h.63v.63h-.63zM167.4 65.3h.63v.63h-.63zM188.6 45.3h.63v.63h-.63zM186.7 45.3h.63v.63h-.63zM158.3 48.6h.63v.63h-.63zM155.4 63.6h.63v.63h-.63zM162.3 52.6h.63v.63h-.63zM190.1 57.6h.63v.63h-.63zM195.1 64.0h.63v.63h-.63zM184.3 64.7h.63v.63h-.63zM184.2 73.6h.63v.63h-.63zM179.4 60.7h.63v.63h-.63zM177.2 54.4h.63v.63h-.63zM196.7 42.7h.63v.63h-.63zM159.2 52.7h.63v.63h-.63zM165.3 63.4h.63v.63h-.63zM181.5 27.8h.63v.63h-.63zM160.1 58.6h.63v.63h-.63zM169.5 61.7h.63v.63h-.63zM173.2 33.3h.63v.63h-.63zM184.2 76.4h.63v.63h-.63zM154.3 58.5h.63v.63h-.63zM180.4 58.3h.63v.63h-.63zM175.0 53.0h.63v.63h-.63zM199.2 71.3h.63v.63h-.63zM171.4 68.3h.63v.63h-.63zM183.1 67.9h.63v.63h-.63zM199.6 31.3h.63v.63h-.63zM160.3 39.3h.63v.63h-.63zM190.6 73.9h.63v.63h-.63zM161.0 52.0h.63v.63h-.63zM194.2 63.8h.63v.63h-.63zM179.0 72.4h.63v.63h-.63zM195.9 32.2h.63v.63h-.63zM198.0 42.3h.63v.63h-.63zM180.4 65.3h.63v.63h-.63zM164.4 43.0h.63v.63h-.63zM195.0 67.3h.63v.63h-.63zM198.5 32.4h.63v.63h-.63zM181.0 64.7h.63v.63h-.63zM197.5 64.0h.63v.63h-.63zM163.7 32.7h.63v.63h-.63zM158.3 40.6h.63v.63h-.63zM178.2 43.8h.63v.63h-.63zM157.1 32.0h.63v.63h-.63zM184.0 68.4h.63v.63h-.63zM155.9 53.4h.63v.63h-.63zM198.7 45.7h.63v.63h-.63zM176.4 68.2h.63v.63h-.63zM150.9 71.3h.63v.63h-.63zM188.4 64.5h.63v.63h-.63zM166.8 52.3h.63v.63h-.63zM196.7 30.8h.63v.63h-.63zM153.8 59.7h.63v.63h-.63zM197.3 35.1h.63v.63h-.63zM159.1 50.7h.63v.63h-.63zM189.1 55.9h.63v.63h-.63zM182.7 30.3h.63v.63h-.63zM159.7 57.0h.63v.63h-.63zM185.9 32.2h.63v.63h-.63zM154.2 43.4h.63v.63h-.63zM170.4 44.4h.63v.63h-.63zM158.2 31.4h.63v.63h-.63zM182.0 75.4h.63v.63h-.63zM181.4 73.6h.63v.63h-.63zM156.0 58.5h.63v.63h-.63zM167.9 70.0h.63v.63h-.63zM179.6 58.4h.63v.63h-.63zM195.4 75.5h.63v.63h-.63zM156.5 49.6h.63v.63h-.63zM154.0 55.7h.63v.63h-.63zM160.9 62.6h.63v.63h-.63zM167.5 28.1h.63v.63h-.63zM194.1 34.0h.63v.63h-.63zM163.1 53.7h.63v.63h-.63zM152.5 66.3h.63v.63h-.63zM185.5 33.6h.63v.63h-.63zM180.7 34.1h.63v.63h-.63zM176.2 32.4h.63v.63h-.63zM163.8 50.2h.63v.63h-.63zM176.9 60.4h.63v.63h-.63zM196.0 44.4h.63v.63h-.63zM167.2 38.1h.63v.63h-.63zM186.6 46.0h.63v.63h-.63zM160.3 37.3h.63v.63h-.63zM170.7 69.5h.63v.63h-.63zM171.6 68.4h.63v.63h-.63zM173.3 56.8h.63v.63h-.63zM162.5 48.2h.63v.63h-.63zM185.9 31.9h.63v.63h-.63zM172.4 40.3h.63v.63h-.63zM164.2 44.6h.63v.63h-.63zM159.6 56.5h.63v.63h-.63zM151.7 39.6h.63v.63h-.63zM162.9 36.7h.63v.63h-.63zM191.4 62.0h.63v.63h-.63zM194.1 34.3h.63v.63h-.63zM159.1 43.4h.63v.63h-.63zM175.1 69.4h.63v.63h-.63zM191.4 70.7h.63v.63h-.63z"/>
<path fill="#8a8a8a" fill-opacity="0.33" d="M176.5 57.9h.68v.68h-.68zM170.3 65.8h.68v.68h-.68zM182.1 58.0h.68v.68h-.68zM186.0 70.8h.68v.68h-.68zM176.4 65.3h.68v.68h-.68zM181.7 73.2h.68v.68h-.68zM181.2 64.0h.68v.68h-.68zM175.8 64.3h.68v.68h-.68zM187.3 57.2h.68v.68h-.68zM174.0 49.3h.68v.68h-.68zM195.2 54.4h.68v.68h-.68zM170.9 52.8h.68v.68h-.68zM184.2 61.1h.68v.68h-.68zM158.8 59.2h.68v.68h-.68zM189.4 57.5h.68v.68h-.68zM173.0 56.0h.68v.68h-.68zM178.4 43.5h.68v.68h-.68zM173.7 56.0h.68v.68h-.68zM180.9 54.7h.68v.68h-.68zM176.0 46.6h.68v.68h-.68zM164.9 58.5h.68v.68h-.68zM187.9 49.3h.68v.68h-.68zM162.3 68.5h.68v.68h-.68zM178.0 65.1h.68v.68h-.68zM173.6 60.2h.68v.68h-.68zM174.2 58.0h.68v.68h-.68zM189.1 54.4h.68v.68h-.68zM171.8 58.1h.68v.68h-.68zM173.5 73.1h.68v.68h-.68zM173.7 61.5h.68v.68h-.68zM165.2 62.9h.68v.68h-.68zM180.1 63.9h.68v.68h-.68zM162.3 52.5h.68v.68h-.68zM154.1 72.9h.68v.68h-.68zM174.2 72.6h.68v.68h-.68zM190.3 67.2h.68v.68h-.68zM169.9 56.1h.68v.68h-.68zM181.2 40.5h.68v.68h-.68zM186.0 71.2h.68v.68h-.68zM181.9 55.5h.68v.68h-.68zM177.9 43.8h.68v.68h-.68zM167.4 54.0h.68v.68h-.68zM169.0 72.9h.68v.68h-.68zM178.6 36.4h.68v.68h-.68zM184.1 62.5h.68v.68h-.68zM173.1 51.6h.68v.68h-.68zM191.4 60.2h.68v.68h-.68zM177.1 43.7h.68v.68h-.68zM170.4 66.0h.68v.68h-.68zM176.0 54.0h.68v.68h-.68zM172.5 43.8h.68v.68h-.68zM155.4 62.8h.68v.68h-.68zM163.4 43.9h.68v.68h-.68zM177.5 66.3h.68v.68h-.68zM172.2 67.9h.68v.68h-.68zM175.3 29.9h.68v.68h-.68zM187.9 48.2h.68v.68h-.68zM187.5 55.4h.68v.68h-.68zM174.4 53.7h.68v.68h-.68zM166.9 63.4h.68v.68h-.68zM188.3 69.6h.68v.68h-.68zM170.5 62.5h.68v.68h-.68zM183.3 63.2h.68v.68h-.68zM164.6 76.4h.68v.68h-.68zM169.0 50.5h.68v.68h-.68zM176.0 60.0h.68v.68h-.68zM170.5 46.2h.68v.68h-.68zM165.2 58.0h.68v.68h-.68zM159.9 68.1h.68v.68h-.68zM180.1 59.9h.68v.68h-.68zM176.6 50.1h.68v.68h-.68zM170.5 66.0h.68v.68h-.68zM170.8 72.2h.68v.68h-.68zM183.1 64.1h.68v.68h-.68zM173.0 49.6h.68v.68h-.68zM173.7 49.3h.68v.68h-.68zM172.0 54.7h.68v.68h-.68zM170.4 68.2h.68v.68h-.68zM167.8 51.2h.68v.68h-.68zM184.3 60.3h.68v.68h-.68zM178.9 52.3h.68v.68h-.68zM177.5 69.8h.68v.68h-.68zM175.1 61.8h.68v.68h-.68zM184.7 63.3h.68v.68h-.68zM184.8 47.2h.68v.68h-.68zM160.9 47.9h.68v.68h-.68zM178.3 51.9h.68v.68h-.68zM158.8 74.2h.68v.68h-.68zM185.4 53.1h.68v.68h-.68zM169.6 51.7h.68v.68h-.68zM180.7 62.0h.68v.68h-.68zM176.0 70.3h.68v.68h-.68zM168.3 47.1h.68v.68h-.68zM174.9 57.5h.68v.68h-.68zM175.7 61.6h.68v.68h-.68zM162.6 72.2h.68v.68h-.68zM160.6 60.9h.68v.68h-.68zM177.7 65.3h.68v.68h-.68zM176.7 50.5h.68v.68h-.68zM173.3 45.6h.68v.68h-.68zM173.6 55.8h.68v.68h-.68zM159.9 77.7h.68v.68h-.68zM170.1 62.8h.68v.68h-.68zM185.3 57.6h.68v.68h-.68zM171.6 47.9h.68v.68h-.68zM169.0 51.4h.68v.68h-.68zM173.6 65.0h.68v.68h-.68zM176.4 71.4h.68v.68h-.68zM178.1 60.0h.68v.68h-.68zM150.4 56.5h.68v.68h-.68zM177.0 44.5h.68v.68h-.68zM174.4 51.5h.68v.68h-.68zM173.2 57.5h.68v.68h-.68zM172.6 57.4h.68v.68h-.68zM177.7 60.7h.68v.68h-.68zM169.5 66.1h.68v.68h-.68zM175.3 61.2h.68v.68h-.68zM188.8 72.9h.68v.68h-.68zM192.3 55.8h.68v.68h-.68zM178.2 62.2h.68v.68h-.68zM175.7 56.6h.68v.68h-.68zM181.5 68.1h.68v.68h-.68zM192.4 53.1h.68v.68h-.68zM178.6 51.1h.68v.68h-.68zM172.7 36.6h.68v.68h-.68zM191.8 43.6h.68v.68h-.68zM175.7 41.9h.68v.68h-.68zM172.2 48.6h.68v.68h-.68zM158.1 48.5h.68v.68h-.68zM173.0 56.8h.68v.68h-.68zM159.3 63.6h.68v.68h-.68zM172.3 47.7h.68v.68h-.68zM187.0 51.6h.68v.68h-.68zM176.7 71.5h.68v.68h-.68zM175.3 56.9h.68v.68h-.68zM182.5 54.0h.68v.68h-.68zM175.4 56.5h.68v.68h-.68zM171.8 64.6h.68v.68h-.68zM177.0 70.6h.68v.68h-.68zM178.0 45.2h.68v.68h-.68zM178.0 55.3h.68v.68h-.68zM172.8 66.5h.68v.68h-.68zM178.1 43.5h.68v.68h-.68zM190.9 56.6h.68v.68h-.68zM161.8 54.9h.68v.68h-.68zM178.7 47.7h.68v.68h-.68zM167.9 41.7h.68v.68h-.68zM177.0 53.1h.68v.68h-.68zM187.0 60.3h.68v.68h-.68zM176.7 52.3h.68v.68h-.68zM182.6 45.5h.68v.68h-.68zM177.0 62.1h.68v.68h-.68zM168.5 47.1h.68v.68h-.68zM184.0 74.2h.68v.68h-.68zM177.9 74.3h.68v.68h-.68zM178.5 56.1h.68v.68h-.68zM171.6 46.8h.68v.68h-.68zM182.1 52.7h.68v.68h-.68zM169.7 61.1h.68v.68h-.68zM178.7 51.2h.68v.68h-.68zM176.5 56.4h.68v.68h-.68zM175.9 56.5h.68v.68h-.68zM171.4 35.9h.68v.68h-.68zM170.0 68.5h.68v.68h-.68zM172.1 59.4h.68v.68h-.68zM179.6 48.8h.68v.68h-.68zM175.3 55.4h.68v.68h-.68zM177.7 63.2h.68v.68h-.68zM175.4 55.9h.68v.68h-.68zM182.4 58.9h.68v.68h-.68zM162.9 69.0h.68v.68h-.68zM178.4 52.5h.68v.68h-.68zM174.3 49.2h.68v.68h-.68zM175.9 44.5h.68v.68h-.68zM182.8 62.0h.68v.68h-.68zM166.8 62.3h.68v.68h-.68zM163.1 53.0h.68v.68h-.68zM166.7 63.9h.68v.68h-.68zM180.3 45.6h.68v.68h-.68zM176.2 62.3h.68v.68h-.68zM162.2 69.7h.68v.68h-.68zM186.8 54.6h.68v.68h-.68zM165.7 68.6h.68v.68h-.68zM154.9 57.4h.68v.68h-.68zM163.3 57.5h.68v.68h-.68zM170.2 46.0h.68v.68h-.68zM179.2 68.2h.68v.68h-.68zM163.8 63.6h.68v.68h-.68zM175.5 51.6h.68v.68h-.68zM170.4 62.7h.68v.68h-.68zM183.7 55.2h.68v.68h-.68zM155.0 64.9h.68v.68h-.68zM177.9 40.2h.68v.68h-.68zM170.5 57.6h.68v.68h-.68zM172.3 60.4h.68v.68h-.68zM167.6 63.4h.68v.68h-.68zM152.7 60.9h.68v.68h-.68zM169.9 56.6h.68v.68h-.68zM179.9 69.9h.68v.68h-.68zM166.5 56.7h.68v.68h-.68zM166.4 58.0h.68v.68h-.68zM170.0 46.8h.68v.68h-.68zM183.6 60.8h.68v.68h-.68zM174.7 69.6h.68v.68h-.68zM161.5 61.2h.68v.68h-.68zM187.5 54.4h.68v.68h-.68zM167.6 50.4h.68v.68h-.68zM184.5 67.2h.68v.68h-.68zM177.2 66.0h.68v.68h-.68zM169.2 54.1h.68v.68h-.68zM181.2 49.1h.68v.68h-.68zM176.3 57.3h.68v.68h-.68zM167.8 59.4h.68v.68h-.68zM164.4 51.8h.68v.68h-.68zM158.7 46.1h.68v.68h-.68zM167.5 60.8h.68v.68h-.68zM174.6 46.2h.68v.68h-.68zM172.5 77.8h.68v.68h-.68zM175.1 61.2h.68v.68h-.68zM157.6 53.0h.68v.68h-.68zM183.7 44.5h.68v.68h-.68zM167.3 50.8h.68v.68h-.68zM173.4 62.9h.68v.68h-.68zM160.5 63.6h.68v.68h-.68zM153.4 49.2h.68v.68h-.68zM177.7 46.9h.68v.68h-.68zM167.7 52.6h.68v.68h-.68zM187.3 48.3h.68v.68h-.68zM182.1 75.1h.68v.68h-.68zM171.3 50.0h.68v.68h-.68zM174.4 48.2h.68v.68h-.68zM171.4 47.6h.68v.68h-.68zM162.4 42.8h.68v.68h-.68zM181.7 51.1h.68v.68h-.68zM165.0 66.9h.68v.68h-.68zM172.9 54.2h.68v.68h-.68zM168.2 57.2h.68v.68h-.68zM171.8 53.3h.68v.68h-.68zM172.8 64.2h.68v.68h-.68zM172.7 69.1h.68v.68h-.68zM182.1 47.9h.68v.68h-.68zM166.5 45.5h.68v.68h-.68zM168.1 63.7h.68v.68h-.68zM171.5 52.7h.68v.68h-.68zM175.0 37.4h.68v.68h-.68zM176.8 55.4h.68v.68h-.68zM179.6 54.4h.68v.68h-.68zM182.2 66.8h.68v.68h-.68zM171.8 62.3h.68v.68h-.68zM166.9 50.7h.68v.68h-.68zM165.3 55.2h.68v.68h-.68zM164.4 47.2h.68v.68h-.68zM172.4 43.8h.68v.68h-.68zM178.9 48.7h.68v.68h-.68zM172.2 54.3h.68v.68h-.68zM182.3 62.5h.68v.68h-.68zM172.2 51.7h.68v.68h-.68z"/>
<path fill="#8a8a8a" fill-opacity="0.33" d="M164.5 68.4h.68v.68h-.68zM152.9 70.0h.68v.68h-.68zM163.1 69.0h.68v.68h-.68zM159.6 78.2h.68v.68h-.68zM156.1 73.8h.68v.68h-.68zM152.3 72.5h.68v.68h-.68zM167.0 75.4h.68v.68h-.68zM166.4 72.6h.68v.68h-.68zM149.0 73.9h.68v.68h-.68zM164.0 70.5h.68v.68h-.68zM165.4 69.2h.68v.68h-.68zM164.2 70.8h.68v.68h-.68zM154.9 75.2h.68v.68h-.68zM155.9 73.1h.68v.68h-.68zM153.0 70.7h.68v.68h-.68zM162.6 76.3h.68v.68h-.68zM152.7 66.0h.68v.68h-.68zM159.2 63.1h.68v.68h-.68zM163.4 73.1h.68v.68h-.68zM154.3 72.7h.68v.68h-.68zM157.2 76.8h.68v.68h-.68zM157.2 67.6h.68v.68h-.68zM156.8 71.0h.68v.68h-.68zM150.3 67.1h.68v.68h-.68zM168.3 58.4h.68v.68h-.68zM164.7 74.0h.68v.68h-.68zM156.7 64.6h.68v.68h-.68zM166.2 67.3h.68v.68h-.68zM161.2 68.0h.68v.68h-.68zM152.6 75.6h.68v.68h-.68zM163.3 63.7h.68v.68h-.68zM166.0 61.8h.68v.68h-.68zM151.6 74.5h.68v.68h-.68zM156.7 69.4h.68v.68h-.68zM169.0 62.8h.68v.68h-.68zM163.1 66.9h.68v.68h-.68zM159.9 68.0h.68v.68h-.68zM154.6 69.7h.68v.68h-.68zM153.8 69.5h.68v.68h-.68zM153.6 67.7h.68v.68h-.68zM160.2 60.9h.68v.68h-.68zM159.0 73.6h.68v.68h-.68zM160.1 75.0h.68v.68h-.68zM153.3 72.9h.68v.68h-.68zM161.3 52.7h.68v.68h-.68zM159.3 74.7h.68v.68h-.68zM159.0 69.6h.68v.68h-.68zM158.6 68.4h.68v.68h-.68zM153.0 65.2h.68v.68h-.68zM159.2 70.7h.68v.68h-.68zM163.1 72.4h.68v.68h-.68zM158.9 59.8h.68v.68h-.68zM161.9 73.4h.68v.68h-.68zM153.0 66.5h.68v.68h-.68zM161.0 64.7h.68v.68h-.68zM166.6 64.7h.68v.68h-.68zM156.7 62.4h.68v.68h-.68zM161.5 77.2h.68v.68h-.68zM160.6 69.3h.68v.68h-.68zM157.2 74.2h.68v.68h-.68zM157.7 67.1h.68v.68h-.68zM156.2 57.8h.68v.68h-.68zM160.7 70.1h.68v.68h-.68zM149.7 62.3h.68v.68h-.68zM152.9 67.4h.68v.68h-.68zM153.2 74.0h.68v.68h-.68zM166.6 65.4h.68v.68h-.68zM159.5 62.9h.68v.68h-.68zM167.3 62.8h.68v.68h-.68zM154.6 69.4h.68v.68h-.68zM158.2 67.9h.68v.68h-.68zM153.4 68.8h.68v.68h-.68zM155.7 66.8h.68v.68h-.68zM165.3 65.8h.68v.68h-.68zM161.9 65.6h.68v.68h-.68zM165.4 64.8h.68v.68h-.68zM153.5 67.9h.68v.68h-.68zM166.9 66.9h.68v.68h-.68zM154.1 68.4h.68v.68h-.68zM155.1 70.9h.68v.68h-.68zM155.2 71.3h.68v.68h-.68zM164.7 72.3h.68v.68h-.68zM168.4 71.2h.68v.68h-.68zM170.4 77.0h.68v.68h-.68zM157.7 74.0h.68v.68h-.68zM154.9 68.1h.68v.68h-.68zM158.8 64.6h.68v.68h-.68zM161.2 68.8h.68v.68h-.68zM171.3 74.0h.68v.68h-.68zM157.9 65.3h.68v.68h-.68zM156.1 65.2h.68v.68h-.68zM154.9 69.4h.68v.68h-.68zM151.3 67.5h.68v.68h-.68zM162.3 65.9h.68v.68h-.68zM152.6 66.4h.68v.68h-.68zM164.5 64.8h.68v.68h-.68zM168.7 59.4h.68v.68h-.68zM154.5 73.0h.68v.68h-.68zM167.4 68.1h.68v.68h-.68zM149.4 67.7h.68v.68h-.68zM153.9 65.2h.68v.68h-.68zM157.1 65.7h.68v.68h-.68zM159.1 70.2h.68v.68h-.68zM157.6 58.7h.68v.68h-.68zM158.3 53.7h.68v.68h-.68zM159.8 66.8h.68v.68h-.68zM169.3 77.4h.68v.68h-.68zM160.6 66.4h.68v.68h-.68zM162.1 79.1h.68v.68h-.68zM158.8 68.4h.68v.68h-.68z"/>
<path fill="#8a8a8a" fill-opacity="0.4" d="M177.5 72.1h.68v.68h-.68zM180.1 68.3h.68v.68h-.68zM180.5 73.0h.68v.68h-.68zM182.6 73.3h.68v.68h-.68zM180.8 68.0h.68v.68h-.68zM182.9 72.8h.68v.68h-.68zM178.9 66.9h.68v.68h-.68zM179.7 74.9h.68v.68h-.68zM178.5 70.4h.68v.68h-.68zM177.8 74.1h.68v.68h-.68zM177.7 69.3h.68v.68h-.68zM179.1 68.5h.68v.68h-.68zM180.3 65.3h.68v.68h-.68zM179.6 77.8h.68v.68h-.68zM177.8 73.4h.68v.68h-.68zM180.1 70.5h.68v.68h-.68zM178.2 71.6h.68v.68h-.68zM183.5 68.8h.68v.68h-.68zM178.3 70.5h.68v.68h-.68zM177.6 68.3h.68v.68h-.68zM177.4 73.2h.68v.68h-.68zM176.3 68.1h.68v.68h-.68zM178.5 68.1h.68v.68h-.68zM177.2 71.5h.68v.68h-.68zM177.6 68.7h.68v.68h-.68zM179.0 69.0h.68v.68h-.68zM178.1 73.9h.68v.68h-.68zM179.9 73.4h.68v.68h-.68zM180.5 73.2h.68v.68h-.68zM176.0 79.1h.68v.68h-.68zM183.7 76.1h.68v.68h-.68zM181.5 77.4h.68v.68h-.68zM177.8 75.3h.68v.68h-.68zM177.4 70.0h.68v.68h-.68zM179.6 72.9h.68v.68h-.68zM177.4 66.2h.68v.68h-.68zM180.0 72.5h.68v.68h-.68zM178.9 68.6h.68v.68h-.68zM177.2 72.3h.68v.68h-.68zM175.3 77.9h.68v.68h-.68zM178.6 77.4h.68v.68h-.68zM180.3 70.0h.68v.68h-.68zM179.5 67.5h.68v.68h-.68zM177.0 78.5h.68v.68h-.68zM177.6 69.0h.68v.68h-.68zM179.4 72.6h.68v.68h-.68zM180.3 66.8h.68v.68h-.68zM178.1 67.7h.68v.68h-.68zM178.7 71.3h.68v.68h-.68zM176.9 64.7h.68v.68h-.68zM176.2 76.7h.68v.68h-.68zM177.9 67.7h.68v.68h-.68zM178.9 67.5h.68v.68h-.68zM180.3 76.4h.68v.68h-.68zM178.7 70.0h.68v.68h-.68zM175.3 74.7h.68v.68h-.68zM182.2 73.4h.68v.68h-.68z"/>
<path fill="#7a3cc8" fill-opacity="0.45" d="M176.9 59.6h.81v.81h-.81zM174.7 51.9h.81v.81h-.81zM178.2 58.3h.81v.81h-.81zM172.7 62.2h.81v.81h-.81zM183.5 53.7h.81v.81h-.81zM174.1 51.2h.81v.81h-.81zM179.3 54.2h.81v.81h-.81zM184.2 60.2h.81v.81h-.81zM182.4 55.0h.81v.81h-.81zM173.1 63.2h.81v.81h-.81zM175.4 54.8h.81v.81h-.81zM182.2 56.3h.81v.81h-.81zM173.6 56.0h.81v.81h-.81zM176.5 55.7h.81v.81h-.81zM175.6 63.0h.81v.81h-.81zM178.2 58.6h.81v.81h-.81zM184.5 62.7h.81v.81h-.81zM179.4 52.3h.81v.81h-.81zM177.4 59.8h.81v.81h-.81zM181.7 48.4h.81v.81h-.81zM183.8 51.4h.81v.81h-.81zM176.5 54.6h.81v.81h-.81zM179.6 54.5h.81v.81h-.81zM176.4 52.6h.81v.81h-.81zM183.4 55.4h.81v.81h-.81zM180.5 63.9h.81v.81h-.81zM182.0 60.2h.81v.81h-.81zM177.0 56.8h.81v.81h-.81zM178.4 59.4h.81v.81h-.81zM176.5 49.3h.81v.81h-.81zM179.5 54.4h.81v.81h-.81zM180.0 59.2h.81v.81h-.81zM177.7 58.7h.81v.81h-.81zM177.8 55.6h.81v.81h-.81zM175.9 56.2h.81v.81h-.81zM177.8 59.3h.81v.81h-.81zM170.4 61.1h.81v.81h-.81zM176.1 52.1h.81v.81h-.81zM180.6 54.8h.81v.81h-.81zM181.6 60.2h.81v.81h-.81zM176.4 49.7h.81v.81h-.81zM172.1 57.8h.81v.81h-.81zM176.5 65.5h.81v.81h-.81zM175.1 49.4h.81v.81h-.81zM169.4 56.7h.81v.81h-.81zM169.9 60.9h.81v.81h-.81zM170.8 62.2h.81v.81h-.81zM177.6 60.8h.81v.81h-.81zM173.1 55.8h.81v.81h-.81zM179.5 48.5h.81v.81h-.81zM182.2 60.5h.81v.81h-.81zM174.1 56.7h.81v.81h-.81zM185.7 59.3h.81v.81h-.81zM183.5 53.5h.81v.81h-.81zM176.3 55.8h.81v.81h-.81zM177.6 59.5h.81v.81h-.81zM181.5 56.8h.81v.81h-.81zM176.5 59.8h.81v.81h-.81zM179.9 56.2h.81v.81h-.81zM181.7 53.0h.81v.81h-.81zM179.8 59.9h.81v.81h-.81zM176.4 60.3h.81v.81h-.81zM182.5 60.6h.81v.81h-.81zM181.7 52.2h.81v.81h-.81zM183.6 51.9h.81v.81h-.81zM173.3 56.5h.81v.81h-.81zM175.4 53.1h.81v.81h-.81zM182.1 56.6h.81v.81h-.81zM178.2 50.1h.81v.81h-.81zM185.0 55.4h.81v.81h-.81zM182.5 55.8h.81v.81h-.81zM180.3 58.4h.81v.81h-.81zM180.4 60.9h.81v.81h-.81zM173.3 49.1h.81v.81h-.81zM176.6 56.4h.81v.81h-.81zM179.5 55.8h.81v.81h-.81zM180.0 57.1h.81v.81h-.81zM178.1 58.3h.81v.81h-.81zM178.8 52.4h.81v.81h-.81zM172.0 59.1h.81v.81h-.81zM181.1 59.4h.81v.81h-.81zM182.3 55.7h.81v.81h-.81zM181.3 52.4h.81v.81h-.81zM178.1 61.6h.81v.81h-.81zM173.7 57.5h.81v.81h-.81zM172.6 52.9h.81v.81h-.81zM183.1 46.7h.81v.81h-.81zM183.6 52.0h.81v.81h-.81zM173.0 50.8h.81v.81h-.81zM179.6 58.0h.81v.81h-.81zM178.8 51.9h.81v.81h-.81zM184.0 54.7h.81v.81h-.81zM180.6 57.5h.81v.81h-.81zM179.5 54.1h.81v.81h-.81zM178.2 52.9h.81v.81h-.81zM177.6 52.1h.81v.81h-.81zM172.1 55.6h.81v.81h-.81zM176.5 53.7h.81v.81h-.81zM176.1 54.4h.81v.81h-.81zM180.5 62.4h.81v.81h-.81zM181.2 58.4h.81v.81h-.81zM182.6 58.0h.81v.81h-.81zM180.6 58.6h.81v.81h-.81zM181.5 54.1h.81v.81h-.81zM177.0 56.3h.81v.81h-.81zM178.4 57.8h.81v.81h-.81zM175.8 55.1h.81v.81h-.81zM179.5 57.5h.81v.81h-.81zM175.6 50.7h.81v.81h-.81zM178.2 59.4h.81v.81h-.81zM178.9 60.9h.81v.81h-.81zM175.9 55.8h.81v.81h-.81zM182.3 59.3h.81v.81h-.81zM178.9 61.8h.81v.81h-.81zM179.2 57.3h.81v.81h-.81zM185.4 56.8h.81v.81h-.81zM177.1 56.1h.81v.81h-.81zM176.3 61.3h.81v.81h-.81zM181.7 62.5h.81v.81h-.81zM182.3 54.6h.81v.81h-.81zM175.4 55.6h.81v.81h-.81zM182.2 54.0h.81v.81h-.81zM183.7 59.1h.81v.81h-.81zM183.6 55.1h.81v.81h-.81zM178.8 50.4h.81v.81h-.81zM179.3 55.7h.81v.81h-.81zM178.9 48.4h.81v.81h-.81zM180.0 64.9h.81v.81h-.81zM178.0 54.1h.81v.81h-.81zM178.2 55.4h.81v.81h-.81zM177.6 58.7h.81v.81h-.81zM180.5 59.9h.81v.81h-.81zM187.8 55.5h.81v.81h-.81zM181.2 61.0h.81v.81h-.81zM175.6 64.5h.81v.81h-.81zM173.4 55.8h.81v.81h-.81zM176.4 51.1h.81v.81h-.81zM176.1 57.5h.81v.81h-.81zM177.6 50.4h.81v.81h-.81zM168.4 62.3h.81v.81h-.81zM172.7 59.5h.81v.81h-.81zM180.7 58.4h.81v.81h-.81zM175.2 54.5h.81v.81h-.81zM188.7 51.8h.81v.81h-.81zM172.7 52.5h.81v.81h-.81zM179.4 62.7h.81v.81h-.81zM179.3 51.9h.81v.81h-.81zM172.3 55.5h.81v.81h-.81zM178.3 57.1h.81v.81h-.81zM181.2 59.5h.81v.81h-.81zM171.3 52.1h.81v.81h-.81zM178.5 58.3h.81v.81h-.81zM176.4 57.8h.81v.81h-.81zM179.2 60.4h.81v.81h-.81zM176.6 54.6h.81v.81h-.81zM181.1 59.1h.81v.81h-.81zM175.6 56.5h.81v.81h-.81zM173.9 52.8h.81v.81h-.81zM185.7 50.7h.81v.81h-.81zM176.4 55.2h.81v.81h-.81zM174.9 56.6h.81v.81h-.81zM178.2 57.6h.81v.81h-.81zM174.1 51.6h.81v.81h-.81zM178.5 58.8h.81v.81h-.81zM182.3 54.1h.81v.81h-.81zM176.1 53.6h.81v.81h-.81zM182.4 51.9h.81v.81h-.81zM176.1 56.5h.81v.81h-.81zM177.3 56.6h.81v.81h-.81zM181.8 61.8h.81v.81h-.81zM180.3 57.0h.81v.81h-.81zM175.8 66.1h.81v.81h-.81zM181.0 58.7h.81v.81h-.81zM176.7 56.2h.81v.81h-.81zM176.4 55.9h.81v.81h-.81zM177.7 59.5h.81v.81h-.81zM181.7 54.5h.81v.81h-.81zM178.1 59.5h.81v.81h-.81zM178.0 58.4h.81v.81h-.81zM177.6 62.1h.81v.81h-.81zM177.1 58.7h.81v.81h-.81zM184.6 55.4h.81v.81h-.81zM178.1 59.2h.81v.81h-.81zM180.4 45.9h.81v.81h-.81zM176.4 56.0h.81v.81h-.81zM179.0 49.4h.81v.81h-.81zM180.9 55.3h.81v.81h-.81zM178.6 51.6h.81v.81h-.81zM186.0 64.1h.81v.81h-.81zM179.3 58.1h.81v.81h-.81zM170.5 46.9h.81v.81h-.81zM177.4 55.3h.81v.81h-.81zM180.5 55.4h.81v.81h-.81zM170.3 49.5h.81v.81h-.81zM183.2 58.3h.81v.81h-.81zM177.2 55.3h.81v.81h-.81zM179.8 53.2h.81v.81h-.81zM175.2 62.4h.81v.81h-.81zM172.6 56.3h.81v.81h-.81zM183.2 56.2h.81v.81h-.81zM183.9 60.2h.81v.81h-.81zM176.7 50.3h.81v.81h-.81zM168.9 50.0h.81v.81h-.81zM178.7 49.8h.81v.81h-.81zM177.7 56.6h.81v.81h-.81zM179.2 55.5h.81v.81h-.81zM183.0 55.7h.81v.81h-.81zM181.7 54.4h.81v.81h-.81zM178.3 56.6h.81v.81h-.81zM180.8 58.4h.81v.81h-.81zM177.1 59.0h.81v.81h-.81zM184.2 42.4h.81v.81h-.81zM180.1 54.8h.81v.81h-.81zM176.4 54.1h.81v.81h-.81zM174.2 58.5h.81v.81h-.81zM177.6 62.9h.81v.81h-.81zM181.5 62.2h.81v.81h-.81zM176.5 50.5h.81v.81h-.81zM179.8 56.3h.81v.81h-.81zM177.8 46.0h.81v.81h-.81zM180.3 61.4h.81v.81h-.81zM175.5 48.3h.81v.81h-.81zM180.2 57.3h.81v.81h-.81zM183.8 56.4h.81v.81h-.81zM176.1 61.8h.81v.81h-.81zM182.2 59.7h.81v.81h-.81zM178.8 60.2h.81v.81h-.81zM168.7 53.7h.81v.81h-.81zM182.4 61.3h.81v.81h-.81zM180.3 56.0h.81v.81h-.81zM176.9 54.7h.81v.81h-.81zM179.5 47.9h.81v.81h-.81zM181.1 61.4h.81v.81h-.81zM169.0 49.8h.81v.81h-.81zM174.5 57.3h.81v.81h-.81zM179.2 53.2h.81v.81h-.81zM180.1 53.1h.81v.81h-.81zM173.7 62.0h.81v.81h-.81zM177.1 53.6h.81v.81h-.81zM168.7 48.7h.81v.81h-.81z"/>
<g filter="url(#b7)"><ellipse cx="178.3" cy="56.4" rx="6.6" ry="7.4" fill="#a878d8" fill-opacity="0.55" transform="rotate(-25 178.3 56.4)"/><ellipse cx="178.3" cy="56.4" rx="5.4" ry="6.2" fill="#9050d0" fill-opacity="0.75" transform="rotate(-25 178.3 56.4)"/><ellipse cx="178.3" cy="56.4" rx="3.4" ry="4.0" fill="#7a3cc8" fill-opacity="0.6" transform="rotate(-25 178.3 56.4)"/></g>
<path fill="#b890d8" fill-opacity="0.8" d="M183.2 60.6h.84v.84h-.84zM183.4 64.2h.84v.84h-.84zM179.0 49.4h.84v.84h-.84zM185.5 60.7h.84v.84h-.84zM185.0 56.9h.84v.84h-.84zM186.3 61.0h.84v.84h-.84zM170.7 50.7h.84v.84h-.84zM178.9 62.4h.84v.84h-.84zM181.7 50.5h.84v.84h-.84zM178.5 62.9h.84v.84h-.84zM183.8 56.5h.84v.84h-.84zM174.9 48.3h.84v.84h-.84zM182.3 61.1h.84v.84h-.84zM173.6 60.0h.84v.84h-.84zM171.2 60.0h.84v.84h-.84zM181.3 50.4h.84v.84h-.84zM183.5 49.4h.84v.84h-.84zM172.3 53.1h.84v.84h-.84zM182.1 51.5h.84v.84h-.84zM176.5 49.0h.84v.84h-.84zM180.4 48.5h.84v.84h-.84zM185.2 54.0h.84v.84h-.84zM169.3 52.3h.84v.84h-.84zM180.7 61.9h.84v.84h-.84zM183.3 49.2h.84v.84h-.84zM181.3 65.9h.84v.84h-.84zM185.6 57.2h.84v.84h-.84zM175.1 61.5h.84v.84h-.84zM172.1 60.5h.84v.84h-.84zM183.1 53.2h.84v.84h-.84zM181.9 48.2h.84v.84h-.84zM174.2 50.3h.84v.84h-.84zM173.1 60.6h.84v.84h-.84zM173.3 47.1h.84v.84h-.84zM176.7 42.6h.84v.84h-.84zM183.9 52.9h.84v.84h-.84zM185.8 53.3h.84v.84h-.84zM184.6 57.7h.84v.84h-.84zM185.4 59.8h.84v.84h-.84zM182.4 60.5h.84v.84h-.84zM170.8 49.5h.84v.84h-.84zM179.7 66.3h.84v.84h-.84zM176.5 63.5h.84v.84h-.84zM173.4 49.0h.84v.84h-.84zM170.6 58.6h.84v.84h-.84zM181.6 49.3h.84v.84h-.84zM177.2 48.8h.84v.84h-.84zM185.7 52.0h.84v.84h-.84zM178.1 49.2h.84v.84h-.84zM183.4 60.5h.84v.84h-.84zM181.4 51.0h.84v.84h-.84zM182.1 50.3h.84v.84h-.84zM181.9 47.8h.84v.84h-.84zM184.2 51.6h.84v.84h-.84zM184.6 52.6h.84v.84h-.84zM184.2 52.3h.84v.84h-.84zM176.9 48.2h.84v.84h-.84zM181.0 47.2h.84v.84h-.84zM183.2 49.1h.84v.84h-.84zM180.6 64.1h.84v.84h-.84zM177.6 49.2h.84v.84h-.84zM185.3 56.7h.84v.84h-.84zM180.9 50.6h.84v.84h-.84zM185.1 64.3h.84v.84h-.84zM184.4 65.3h.84v.84h-.84zM182.2 49.9h.84v.84h-.84zM184.9 57.1h.84v.84h-.84zM178.5 63.7h.84v.84h-.84zM172.0 50.3h.84v.84h-.84z"/>
<path fill="#9a58d0" fill-opacity="0.8" d="M175.7 59.6h.84v.84h-.84zM173.6 52.5h.84v.84h-.84zM181.3 59.6h.84v.84h-.84zM177.2 62.1h.84v.84h-.84zM183.3 55.8h.84v.84h-.84zM181.8 54.8h.84v.84h-.84zM174.7 58.5h.84v.84h-.84zM183.3 54.5h.84v.84h-.84zM175.2 52.2h.84v.84h-.84zM174.4 57.9h.84v.84h-.84zM175.2 52.4h.84v.84h-.84zM177.7 61.2h.84v.84h-.84zM174.3 52.7h.84v.84h-.84zM173.2 56.9h.84v.84h-.84zM174.3 51.5h.84v.84h-.84zM180.1 59.8h.84v.84h-.84zM175.4 60.2h.84v.84h-.84zM180.8 59.1h.84v.84h-.84zM179.2 51.9h.84v.84h-.84zM180.6 61.2h.84v.84h-.84zM174.2 57.9h.84v.84h-.84zM173.4 52.4h.84v.84h-.84zM183.0 58.2h.84v.84h-.84zM177.9 49.8h.84v.84h-.84zM174.1 57.3h.84v.84h-.84zM176.2 51.5h.84v.84h-.84zM177.6 60.6h.84v.84h-.84zM179.8 52.2h.84v.84h-.84zM180.4 60.5h.84v.84h-.84zM177.4 60.2h.84v.84h-.84zM181.5 54.1h.84v.84h-.84zM174.6 52.9h.84v.84h-.84zM173.5 56.0h.84v.84h-.84zM176.5 50.6h.84v.84h-.84zM182.0 59.6h.84v.84h-.84zM182.3 54.4h.84v.84h-.84zM180.1 51.3h.84v.84h-.84zM174.6 53.1h.84v.84h-.84zM175.9 51.9h.84v.84h-.84zM174.0 58.4h.84v.84h-.84zM182.1 56.5h.84v.84h-.84zM175.5 50.8h.84v.84h-.84zM174.0 53.5h.84v.84h-.84zM177.5 51.5h.84v.84h-.84zM175.1 58.8h.84v.84h-.84zM178.0 50.4h.84v.84h-.84zM173.2 58.7h.84v.84h-.84zM181.5 53.7h.84v.84h-.84zM180.3 51.8h.84v.84h-.84zM178.3 49.9h.84v.84h-.84zM181.1 53.2h.84v.84h-.84zM180.5 59.5h.84v.84h-.84zM182.6 55.2h.84v.84h-.84zM182.7 57.7h.84v.84h-.84zM180.2 59.9h.84v.84h-.84zM182.0 55.5h.84v.84h-.84zM173.7 54.3h.84v.84h-.84zM172.9 55.6h.84v.84h-.84zM178.4 51.7h.84v.84h-.84zM183.2 55.6h.84v.84h-.84zM174.3 59.9h.84v.84h-.84zM175.2 52.2h.84v.84h-.84zM178.0 50.7h.84v.84h-.84zM173.8 51.9h.84v.84h-.84zM173.4 52.9h.84v.84h-.84zM176.6 62.0h.84v.84h-.84zM174.9 60.1h.84v.84h-.84zM182.1 54.3h.84v.84h-.84zM181.0 59.7h.84v.84h-.84zM176.0 51.4h.84v.84h-.84zM173.9 55.4h.84v.84h-.84zM173.1 56.4h.84v.84h-.84zM182.7 56.0h.84v.84h-.84zM173.8 57.7h.84v.84h-.84zM177.5 60.7h.84v.84h-.84zM182.3 58.0h.84v.84h-.84zM180.1 51.1h.84v.84h-.84zM173.9 55.1h.84v.84h-.84zM172.9 58.3h.84v.84h-.84zM183.0 53.5h.84v.84h-.84zM174.3 53.6h.84v.84h-.84zM173.9 57.6h.84v.84h-.84zM176.5 51.0h.84v.84h-.84zM177.2 60.7h.84v.84h-.84zM173.4 53.1h.84v.84h-.84zM181.4 54.3h.84v.84h-.84zM183.3 55.2h.84v.84h-.84zM172.9 55.0h.84v.84h-.84zM177.0 60.2h.84v.84h-.84zM174.3 53.7h.84v.84h-.84zM172.7 52.7h.84v.84h-.84zM182.8 54.2h.84v.84h-.84zM182.2 55.5h.84v.84h-.84zM174.3 58.3h.84v.84h-.84zM173.3 57.2h.84v.84h-.84zM174.8 60.6h.84v.84h-.84zM181.4 52.9h.84v.84h-.84zM172.8 55.0h.84v.84h-.84zM172.5 56.6h.84v.84h-.84zM179.3 62.1h.84v.84h-.84zM177.7 60.2h.84v.84h-.84zM180.7 59.4h.84v.84h-.84zM173.8 52.6h.84v.84h-.84zM174.2 51.7h.84v.84h-.84zM181.5 54.8h.84v.84h-.84zM176.4 51.2h.84v.84h-.84zM181.9 55.6h.84v.84h-.84zM182.1 54.0h.84v.84h-.84zM178.9 51.5h.84v.84h-.84zM174.6 58.1h.84v.84h-.84z"/>
<path fill="#8040c8" fill-opacity="0.8" d="M176.4 58.9h.84v.84h-.84zM178.1 52.7h.84v.84h-.84zM180.1 56.7h.84v.84h-.84zM177.9 55.2h.84v.84h-.84zM175.0 58.1h.84v.84h-.84zM179.9 57.5h.84v.84h-.84zM179.8 58.2h.84v.84h-.84zM175.4 56.1h.84v.84h-.84zM178.3 57.7h.84v.84h-.84zM175.3 58.5h.84v.84h-.84zM180.5 55.9h.84v.84h-.84zM174.7 57.5h.84v.84h-.84zM177.1 54.9h.84v.84h-.84zM178.2 58.8h.84v.84h-.84zM174.9 57.5h.84v.84h-.84zM179.5 56.6h.84v.84h-.84zM179.0 56.1h.84v.84h-.84zM175.8 55.3h.84v.84h-.84zM174.3 54.4h.84v.84h-.84zM178.7 58.9h.84v.84h-.84zM180.3 55.9h.84v.84h-.84zM180.3 53.1h.84v.84h-.84zM176.0 52.3h.84v.84h-.84zM178.8 59.2h.84v.84h-.84zM175.2 56.8h.84v.84h-.84zM177.2 56.2h.84v.84h-.84zM177.1 57.5h.84v.84h-.84zM179.6 52.8h.84v.84h-.84zM180.9 57.4h.84v.84h-.84zM179.9 53.6h.84v.84h-.84zM174.5 56.2h.84v.84h-.84zM176.2 58.7h.84v.84h-.84zM181.4 54.9h.84v.84h-.84zM177.9 53.4h.84v.84h-.84zM179.3 57.8h.84v.84h-.84zM179.4 53.2h.84v.84h-.84zM178.7 56.0h.84v.84h-.84zM181.4 54.6h.84v.84h-.84zM177.9 56.6h.84v.84h-.84zM175.7 53.4h.84v.84h-.84zM175.6 56.1h.84v.84h-.84zM179.9 57.5h.84v.84h-.84zM178.1 60.0h.84v.84h-.84zM179.8 54.2h.84v.84h-.84zM179.6 54.3h.84v.84h-.84zM178.2 59.7h.84v.84h-.84zM179.3 56.1h.84v.84h-.84zM175.4 56.0h.84v.84h-.84zM179.5 55.7h.84v.84h-.84zM178.5 57.8h.84v.84h-.84zM179.9 57.5h.84v.84h-.84zM181.5 56.7h.84v.84h-.84zM180.2 59.3h.84v.84h-.84zM179.7 54.9h.84v.84h-.84zM175.6 54.1h.84v.84h-.84zM176.0 59.4h.84v.84h-.84zM178.6 55.2h.84v.84h-.84zM179.9 53.3h.84v.84h-.84zM177.3 55.5h.84v.84h-.84zM177.6 56.7h.84v.84h-.84zM175.7 58.6h.84v.84h-.84zM180.0 59.1h.84v.84h-.84zM175.3 56.5h.84v.84h-.84zM180.5 55.9h.84v.84h-.84zM177.7 53.9h.84v.84h-.84zM178.7 54.8h.84v.84h-.84zM174.9 57.7h.84v.84h-.84zM175.0 54.9h.84v.84h-.84zM177.9 56.1h.84v.84h-.84zM179.2 56.6h.84v.84h-.84zM176.7 56.4h.84v.84h-.84zM176.8 59.8h.84v.84h-.84zM178.4 57.8h.84v.84h-.84zM176.2 55.7h.84v.84h-.84zM180.2 57.7h.84v.84h-.84zM179.2 58.3h.84v.84h-.84zM175.9 54.3h.84v.84h-.84zM175.9 54.5h.84v.84h-.84zM175.5 57.4h.84v.84h-.84zM177.1 52.4h.84v.84h-.84zM177.6 58.1h.84v.84h-.84zM176.8 54.5h.84v.84h-.84zM174.5 54.7h.84v.84h-.84zM177.1 55.0h.84v.84h-.84zM180.1 58.1h.84v.84h-.84zM174.5 56.7h.84v.84h-.84zM179.8 57.0h.84v.84h-.84zM178.1 55.2h.84v.84h-.84zM179.3 59.2h.84v.84h-.84zM180.6 56.4h.84v.84h-.84zM179.7 58.3h.84v.84h-.84zM178.3 54.8h.84v.84h-.84zM174.5 57.5h.84v.84h-.84zM178.1 58.1h.84v.84h-.84zM177.1 56.3h.84v.84h-.84zM180.4 55.2h.84v.84h-.84zM176.9 58.4h.84v.84h-.84zM175.9 52.9h.84v.84h-.84zM176.6 55.9h.84v.84h-.84zM175.6 59.0h.84v.84h-.84zM177.0 52.2h.84v.84h-.84zM179.7 52.8h.84v.84h-.84zM175.6 56.0h.84v.84h-.84zM178.3 58.7h.84v.84h-.84zM178.5 55.7h.84v.84h-.84zM179.1 58.1h.84v.84h-.84zM177.9 57.7h.84v.84h-.84zM177.1 55.7h.84v.84h-.84zM180.4 58.3h.84v.84h-.84zM178.0 53.6h.84v.84h-.84zM179.8 56.6h.84v.84h-.84zM177.8 53.8h.84v.84h-.84zM178.3 52.5h.84v.84h-.84zM177.4 58.5h.84v.84h-.84zM176.6 53.8h.84v.84h-.84zM177.5 56.5h.84v.84h-.84zM176.2 54.8h.84v.84h-.84zM178.9 52.6h.84v.84h-.84zM178.9 56.3h.84v.84h-.84zM180.0 56.7h.84v.84h-.84zM176.8 53.6h.84v.84h-.84zM179.7 55.4h.84v.84h-.84zM178.0 55.1h.84v.84h-.84zM176.7 55.4h.84v.84h-.84zM177.4 54.5h.84v.84h-.84zM177.4 53.0h.84v.84h-.84zM175.5 58.1h.84v.84h-.84zM177.8 54.3h.84v.84h-.84zM174.3 57.2h.84v.84h-.84zM178.2 56.4h.84v.84h-.84zM176.5 59.0h.84v.84h-.84zM179.5 53.3h.84v.84h-.84zM174.6 57.3h.84v.84h-.84zM181.5 57.6h.84v.84h-.84zM176.7 55.3h.84v.84h-.84zM176.9 57.7h.84v.84h-.84zM176.8 52.5h.84v.84h-.84zM175.0 56.2h.84v.84h-.84zM181.0 56.6h.84v.84h-.84zM178.6 53.1h.84v.84h-.84zM178.3 55.4h.84v.84h-.84zM180.9 58.3h.84v.84h-.84zM181.5 55.9h.84v.84h-.84zM177.7 56.7h.84v.84h-.84zM180.4 54.4h.84v.84h-.84zM179.5 58.4h.84v.84h-.84zM176.6 53.9h.84v.84h-.84zM177.8 56.3h.84v.84h-.84zM177.7 59.0h.84v.84h-.84zM179.3 56.6h.84v.84h-.84zM177.1 57.1h.84v.84h-.84zM179.6 54.2h.84v.84h-.84zM177.5 57.2h.84v.84h-.84zM177.9 53.7h.84v.84h-.84zM181.0 56.5h.84v.84h-.84zM177.0 53.4h.84v.84h-.84zM178.2 53.9h.84v.84h-.84zM175.5 57.2h.84v.84h-.84zM175.4 55.7h.84v.84h-.84zM175.4 56.1h.84v.84h-.84zM179.4 55.6h.84v.84h-.84zM177.4 52.1h.84v.84h-.84zM178.6 58.2h.84v.84h-.84zM176.1 52.4h.84v.84h-.84zM175.5 55.0h.84v.84h-.84zM177.7 52.6h.84v.84h-.84zM180.8 58.0h.84v.84h-.84zM178.2 55.2h.84v.84h-.84zM176.1 55.3h.84v.84h-.84zM175.3 56.1h.84v.84h-.84zM181.0 54.2h.84v.84h-.84z"/>
<path fill="#8050c0" fill-opacity="0.45" d="M152.4 76.0h.81v.81h-.81zM152.1 65.8h.81v.81h-.81zM153.3 68.1h.81v.81h-.81zM155.1 67.2h.81v.81h-.81zM158.2 59.7h.81v.81h-.81zM155.2 58.2h.81v.81h-.81zM155.6 78.0h.81v.81h-.81zM158.7 74.0h.81v.81h-.81zM154.6 64.9h.81v.81h-.81zM152.9 70.7h.81v.81h-.81zM151.8 60.2h.81v.81h-.81zM157.9 73.1h.81v.81h-.81zM155.5 66.6h.81v.81h-.81zM156.1 66.5h.81v.81h-.81zM155.3 69.9h.81v.81h-.81zM154.2 65.0h.81v.81h-.81zM156.1 63.8h.81v.81h-.81zM158.9 76.0h.81v.81h-.81zM153.3 72.9h.81v.81h-.81zM156.6 69.7h.81v.81h-.81zM150.7 71.6h.81v.81h-.81zM153.0 68.2h.81v.81h-.81zM160.4 69.9h.81v.81h-.81zM149.8 74.7h.81v.81h-.81zM157.3 63.8h.81v.81h-.81zM154.0 64.7h.81v.81h-.81zM155.0 77.8h.81v.81h-.81zM162.1 68.0h.81v.81h-.81zM153.4 76.0h.81v.81h-.81zM151.6 74.8h.81v.81h-.81zM159.1 76.6h.81v.81h-.81zM158.9 76.3h.81v.81h-.81zM154.2 74.7h.81v.81h-.81zM156.8 71.3h.81v.81h-.81zM156.8 67.8h.81v.81h-.81zM159.9 66.7h.81v.81h-.81zM159.2 72.7h.81v.81h-.81zM155.4 57.5h.81v.81h-.81zM152.8 68.0h.81v.81h-.81zM152.3 61.3h.81v.81h-.81zM149.0 70.7h.81v.81h-.81zM155.3 75.8h.81v.81h-.81zM149.8 58.6h.81v.81h-.81zM160.3 68.7h.81v.81h-.81zM153.8 76.9h.81v.81h-.81zM150.8 68.4h.81v.81h-.81zM156.6 72.8h.81v.81h-.81zM156.7 66.7h.81v.81h-.81zM158.7 59.4h.81v.81h-.81zM154.5 69.5h.81v.81h-.81zM153.0 75.8h.81v.81h-.81zM150.4 66.0h.81v.81h-.81zM148.8 61.1h.81v.81h-.81zM150.3 68.7h.81v.81h-.81zM151.5 71.7h.81v.81h-.81zM158.3 67.7h.81v.81h-.81zM152.8 69.7h.81v.81h-.81zM153.5 68.0h.81v.81h-.81zM152.1 70.5h.81v.81h-.81zM152.4 72.7h.81v.81h-.81zM154.6 77.0h.81v.81h-.81zM155.8 73.2h.81v.81h-.81zM153.8 66.4h.81v.81h-.81zM155.9 63.7h.81v.81h-.81zM152.0 74.3h.81v.81h-.81zM156.0 69.6h.81v.81h-.81zM157.3 66.5h.81v.81h-.81zM150.4 73.3h.81v.81h-.81zM155.5 71.7h.81v.81h-.81zM156.8 62.1h.81v.81h-.81zM153.3 77.0h.81v.81h-.81zM155.4 56.2h.81v.81h-.81zM154.7 74.9h.81v.81h-.81zM150.3 68.8h.81v.81h-.81zM150.8 67.6h.81v.81h-.81zM154.5 64.4h.81v.81h-.81zM150.0 73.8h.81v.81h-.81zM155.9 66.2h.81v.81h-.81zM152.0 75.8h.81v.81h-.81zM153.7 77.9h.81v.81h-.81zM156.1 67.7h.81v.81h-.81zM157.2 56.8h.81v.81h-.81zM151.3 70.0h.81v.81h-.81zM156.9 75.6h.81v.81h-.81zM155.7 63.9h.81v.81h-.81zM156.2 77.1h.81v.81h-.81zM154.5 61.3h.81v.81h-.81zM153.0 78.7h.81v.81h-.81zM151.8 78.5h.81v.81h-.81zM155.6 57.5h.81v.81h-.81zM154.3 66.0h.81v.81h-.81zM149.9 58.4h.81v.81h-.81zM153.1 70.5h.81v.81h-.81zM154.9 70.6h.81v.81h-.81zM151.5 68.1h.81v.81h-.81zM160.5 73.2h.81v.81h-.81zM156.6 72.2h.81v.81h-.81zM154.8 59.1h.81v.81h-.81zM148.8 73.8h.81v.81h-.81zM150.3 74.3h.81v.81h-.81zM155.1 68.9h.81v.81h-.81zM150.4 65.7h.81v.81h-.81zM158.1 67.7h.81v.81h-.81zM154.0 73.4h.81v.81h-.81zM152.4 68.2h.81v.81h-.81zM154.9 73.9h.81v.81h-.81zM152.4 62.3h.81v.81h-.81zM156.3 66.2h.81v.81h-.81zM154.3 62.4h.81v.81h-.81zM160.8 69.0h.81v.81h-.81zM155.1 75.9h.81v.81h-.81zM150.8 70.9h.81v.81h-.81zM150.2 63.8h.81v.81h-.81zM156.7 77.8h.81v.81h-.81zM155.5 63.1h.81v.81h-.81zM153.8 74.9h.81v.81h-.81zM152.9 67.4h.81v.81h-.81zM154.7 75.3h.81v.81h-.81zM152.2 58.9h.81v.81h-.81zM152.5 68.5h.81v.81h-.81zM153.5 71.6h.81v.81h-.81zM157.4 69.4h.81v.81h-.81zM155.3 65.1h.81v.81h-.81zM153.8 73.4h.81v.81h-.81zM150.6 76.5h.81v.81h-.81zM151.6 67.6h.81v.81h-.81zM155.7 73.6h.81v.81h-.81zM154.3 65.3h.81v.81h-.81zM159.8 68.9h.81v.81h-.81zM154.2 70.1h.81v.81h-.81zM154.5 67.7h.81v.81h-.81zM152.4 62.4h.81v.81h-.81zM150.7 74.4h.81v.81h-.81zM159.1 70.9h.81v.81h-.81zM154.5 68.0h.81v.81h-.81zM154.6 73.3h.81v.81h-.81zM157.2 49.6h.81v.81h-.81zM156.1 69.3h.81v.81h-.81zM154.4 70.3h.81v.81h-.81zM156.1 73.8h.81v.81h-.81zM159.0 66.7h.81v.81h-.81zM155.4 76.0h.81v.81h-.81zM152.4 68.4h.81v.81h-.81z"/>
<g filter="url(#b6)"><ellipse cx="154.5" cy="70" rx="5.0" ry="9.6" fill="#b080c8" fill-opacity="0.35" transform="rotate(0 154.5 70)"/><ellipse cx="154.5" cy="71.5" rx="4.0" ry="8.0" fill="#8850c8" fill-opacity="0.45" transform="rotate(0 154.5 70)"/><ellipse cx="157.0" cy="67.5" rx="2.2" ry="3.2" fill="#4a68e0" fill-opacity="0.6" transform="rotate(0 154.5 70)"/><ellipse cx="153.0" cy="75" rx="2.6" ry="2.8" fill="#5858d8" fill-opacity="0.55" transform="rotate(0 154.5 70)"/><ellipse cx="153.5" cy="77" rx="1.9" ry="1.9" fill="#20c070" fill-opacity="0.7" transform="rotate(0 154.5 70)"/></g>
<path fill="#b070d0" fill-opacity="0.85" d="M161.6 66.2h.84v.84h-.84zM153.2 65.6h.84v.84h-.84zM153.0 70.7h.84v.84h-.84zM152.4 64.1h.84v.84h-.84zM154.6 75.6h.84v.84h-.84zM153.6 65.4h.84v.84h-.84zM156.2 62.6h.84v.84h-.84zM153.5 68.9h.84v.84h-.84zM153.9 72.9h.84v.84h-.84zM152.9 73.3h.84v.84h-.84zM153.3 66.3h.84v.84h-.84zM156.0 61.7h.84v.84h-.84zM160.2 64.7h.84v.84h-.84zM153.0 72.1h.84v.84h-.84zM155.3 61.2h.84v.84h-.84zM158.1 71.5h.84v.84h-.84zM151.3 66.5h.84v.84h-.84zM152.7 66.5h.84v.84h-.84zM154.6 63.3h.84v.84h-.84zM157.4 62.0h.84v.84h-.84zM160.5 62.5h.84v.84h-.84zM155.1 71.8h.84v.84h-.84zM154.5 60.5h.84v.84h-.84zM156.8 62.6h.84v.84h-.84zM157.1 73.6h.84v.84h-.84zM158.0 60.0h.84v.84h-.84zM158.5 72.1h.84v.84h-.84zM154.8 72.6h.84v.84h-.84zM159.3 71.1h.84v.84h-.84zM153.3 69.6h.84v.84h-.84zM160.4 64.6h.84v.84h-.84zM160.0 68.2h.84v.84h-.84zM157.8 73.6h.84v.84h-.84zM159.5 64.8h.84v.84h-.84zM159.0 71.9h.84v.84h-.84zM159.7 65.4h.84v.84h-.84zM153.2 65.8h.84v.84h-.84zM159.6 65.7h.84v.84h-.84zM152.9 63.5h.84v.84h-.84zM153.4 69.4h.84v.84h-.84zM155.9 61.0h.84v.84h-.84zM154.2 62.0h.84v.84h-.84zM160.3 65.5h.84v.84h-.84zM159.6 70.9h.84v.84h-.84zM153.6 62.4h.84v.84h-.84zM155.8 62.6h.84v.84h-.84zM152.8 65.2h.84v.84h-.84zM154.2 70.5h.84v.84h-.84zM156.5 73.5h.84v.84h-.84zM158.8 63.3h.84v.84h-.84zM157.4 62.5h.84v.84h-.84zM158.5 71.8h.84v.84h-.84zM159.7 66.0h.84v.84h-.84zM155.9 72.0h.84v.84h-.84zM153.5 70.5h.84v.84h-.84z"/>
<path fill="#7048d0" fill-opacity="0.85" d="M153.7 67.4h.84v.84h-.84zM155.4 71.4h.84v.84h-.84zM154.2 68.0h.84v.84h-.84zM156.9 71.7h.84v.84h-.84zM153.4 67.2h.84v.84h-.84zM158.4 69.2h.84v.84h-.84zM154.1 66.2h.84v.84h-.84zM155.1 71.3h.84v.84h-.84zM154.3 69.7h.84v.84h-.84zM153.6 67.8h.84v.84h-.84zM156.3 62.9h.84v.84h-.84zM159.3 66.6h.84v.84h-.84zM156.7 71.2h.84v.84h-.84zM155.6 70.7h.84v.84h-.84zM159.4 66.9h.84v.84h-.84zM154.4 66.6h.84v.84h-.84zM157.1 63.0h.84v.84h-.84zM154.7 71.1h.84v.84h-.84zM155.3 64.7h.84v.84h-.84zM158.0 64.2h.84v.84h-.84zM154.2 69.0h.84v.84h-.84zM158.8 69.9h.84v.84h-.84zM159.0 64.9h.84v.84h-.84zM158.9 65.8h.84v.84h-.84zM157.7 70.7h.84v.84h-.84zM158.7 65.3h.84v.84h-.84zM157.3 70.8h.84v.84h-.84zM155.5 70.0h.84v.84h-.84zM158.9 65.8h.84v.84h-.84zM157.1 63.0h.84v.84h-.84zM156.2 63.3h.84v.84h-.84zM156.8 71.3h.84v.84h-.84zM154.6 64.8h.84v.84h-.84zM157.8 70.0h.84v.84h-.84zM155.6 63.8h.84v.84h-.84zM154.2 67.8h.84v.84h-.84zM157.8 70.2h.84v.84h-.84zM154.9 64.1h.84v.84h-.84zM159.0 65.2h.84v.84h-.84zM157.3 71.2h.84v.84h-.84zM155.0 69.4h.84v.84h-.84zM154.0 65.0h.84v.84h-.84zM154.6 64.8h.84v.84h-.84zM154.5 66.1h.84v.84h-.84zM158.5 69.5h.84v.84h-.84zM155.5 70.6h.84v.84h-.84zM154.4 65.4h.84v.84h-.84zM158.7 66.8h.84v.84h-.84zM155.1 64.7h.84v.84h-.84zM158.8 65.7h.84v.84h-.84zM154.4 70.7h.84v.84h-.84zM155.5 63.8h.84v.84h-.84zM156.0 71.2h.84v.84h-.84zM159.3 65.5h.84v.84h-.84zM159.3 67.9h.84v.84h-.84zM156.7 71.6h.84v.84h-.84zM155.9 63.9h.84v.84h-.84zM153.6 66.0h.84v.84h-.84zM154.1 67.5h.84v.84h-.84zM159.2 68.8h.84v.84h-.84zM155.2 63.8h.84v.84h-.84z"/>
<path fill="#3a6ae0" fill-opacity="0.85" d="M157.7 68.0h.84v.84h-.84zM156.4 68.1h.84v.84h-.84zM154.6 67.9h.84v.84h-.84zM158.1 66.8h.84v.84h-.84zM158.2 69.0h.84v.84h-.84zM155.9 65.8h.84v.84h-.84zM158.5 66.9h.84v.84h-.84zM155.9 69.7h.84v.84h-.84zM154.8 65.9h.84v.84h-.84zM156.6 65.8h.84v.84h-.84zM156.8 68.8h.84v.84h-.84zM155.3 67.2h.84v.84h-.84zM157.7 66.6h.84v.84h-.84zM156.4 68.5h.84v.84h-.84zM157.5 69.4h.84v.84h-.84zM154.9 67.5h.84v.84h-.84zM156.3 68.6h.84v.84h-.84zM155.3 65.5h.84v.84h-.84zM155.6 69.1h.84v.84h-.84zM157.0 67.7h.84v.84h-.84zM158.1 65.9h.84v.84h-.84zM156.4 69.1h.84v.84h-.84zM156.9 65.0h.84v.84h-.84zM156.5 67.4h.84v.84h-.84zM154.8 65.9h.84v.84h-.84zM156.9 69.2h.84v.84h-.84zM156.0 69.7h.84v.84h-.84zM155.7 69.6h.84v.84h-.84zM158.4 67.7h.84v.84h-.84zM155.6 68.1h.84v.84h-.84zM157.7 66.4h.84v.84h-.84zM156.9 64.8h.84v.84h-.84zM157.5 66.6h.84v.84h-.84zM156.7 65.4h.84v.84h-.84zM156.6 65.6h.84v.84h-.84zM156.3 67.2h.84v.84h-.84zM156.9 68.0h.84v.84h-.84zM157.2 65.8h.84v.84h-.84zM155.7 66.1h.84v.84h-.84zM156.9 67.2h.84v.84h-.84zM156.2 65.9h.84v.84h-.84zM156.9 69.0h.84v.84h-.84zM155.4 67.6h.84v.84h-.84zM156.5 69.0h.84v.84h-.84zM156.8 68.6h.84v.84h-.84zM155.1 68.7h.84v.84h-.84zM157.3 68.7h.84v.84h-.84zM156.0 68.0h.84v.84h-.84zM156.4 68.2h.84v.84h-.84zM156.5 66.0h.84v.84h-.84zM155.6 67.7h.84v.84h-.84zM156.4 66.2h.84v.84h-.84zM157.0 69.0h.84v.84h-.84zM157.2 66.6h.84v.84h-.84zM157.6 64.8h.84v.84h-.84zM155.0 68.7h.84v.84h-.84zM156.0 64.5h.84v.84h-.84zM156.3 70.3h.84v.84h-.84zM158.4 68.2h.84v.84h-.84zM157.6 69.1h.84v.84h-.84zM156.3 68.4h.84v.84h-.84zM157.3 67.4h.84v.84h-.84zM154.6 66.5h.84v.84h-.84zM155.0 66.6h.84v.84h-.84zM156.6 64.7h.84v.84h-.84zM155.9 67.8h.84v.84h-.84zM155.6 64.8h.84v.84h-.84zM156.9 69.1h.84v.84h-.84zM155.2 67.0h.84v.84h-.84zM157.0 65.4h.84v.84h-.84zM155.4 67.0h.84v.84h-.84zM156.7 67.7h.84v.84h-.84zM157.0 67.0h.84v.84h-.84zM156.2 68.7h.84v.84h-.84zM156.7 68.3h.84v.84h-.84zM156.5 67.8h.84v.84h-.84zM156.5 64.3h.84v.84h-.84zM156.3 70.3h.84v.84h-.84zM155.8 68.7h.84v.84h-.84zM156.0 68.6h.84v.84h-.84zM157.0 69.8h.84v.84h-.84zM155.6 69.0h.84v.84h-.84zM156.4 69.1h.84v.84h-.84zM157.4 66.7h.84v.84h-.84zM157.5 68.1h.84v.84h-.84zM157.8 67.6h.84v.84h-.84zM156.7 67.6h.84v.84h-.84zM155.3 69.6h.84v.84h-.84zM158.4 68.5h.84v.84h-.84zM155.5 65.8h.84v.84h-.84zM157.9 67.7h.84v.84h-.84zM158.3 68.7h.84v.84h-.84zM155.6 68.6h.84v.84h-.84zM158.3 66.6h.84v.84h-.84zM157.2 69.9h.84v.84h-.84zM155.4 67.9h.84v.84h-.84zM156.9 69.3h.84v.84h-.84zM157.2 65.4h.84v.84h-.84zM157.3 70.2h.84v.84h-.84zM156.6 69.6h.84v.84h-.84zM156.4 66.0h.84v.84h-.84zM157.0 68.1h.84v.84h-.84zM157.4 69.4h.84v.84h-.84zM156.9 66.7h.84v.84h-.84z"/>
<path fill="#c070d0" fill-opacity="0.85" d="M151.8 70.2h.84v.84h-.84zM152.0 69.2h.84v.84h-.84zM156.9 78.1h.84v.84h-.84zM156.5 78.2h.84v.84h-.84zM157.7 77.4h.84v.84h-.84zM149.2 70.8h.84v.84h-.84zM157.9 78.1h.84v.84h-.84zM154.5 69.2h.84v.84h-.84zM157.5 77.2h.84v.84h-.84zM154.8 70.9h.84v.84h-.84zM159.1 74.8h.84v.84h-.84zM156.2 70.6h.84v.84h-.84zM148.8 70.2h.84v.84h-.84zM157.2 73.4h.84v.84h-.84zM157.0 72.5h.84v.84h-.84zM148.6 70.8h.84v.84h-.84zM156.2 78.0h.84v.84h-.84zM158.3 76.0h.84v.84h-.84zM149.7 70.9h.84v.84h-.84zM154.9 70.9h.84v.84h-.84zM150.7 65.4h.84v.84h-.84zM152.4 67.8h.84v.84h-.84zM157.8 69.4h.84v.84h-.84zM159.7 72.6h.84v.84h-.84zM157.6 78.0h.84v.84h-.84zM153.0 69.9h.84v.84h-.84zM159.3 77.8h.84v.84h-.84z"/>
<path fill="#8040d0" fill-opacity="0.85" d="M149.0 73.8h.84v.84h-.84zM156.2 74.5h.84v.84h-.84zM152.4 71.7h.84v.84h-.84zM154.8 77.0h.84v.84h-.84zM155.4 77.2h.84v.84h-.84zM155.9 76.8h.84v.84h-.84zM150.0 71.8h.84v.84h-.84zM155.7 71.8h.84v.84h-.84zM155.8 73.1h.84v.84h-.84zM155.7 77.8h.84v.84h-.84zM148.3 77.2h.84v.84h-.84zM148.3 73.1h.84v.84h-.84zM153.7 78.3h.84v.84h-.84zM153.9 77.9h.84v.84h-.84zM149.7 78.1h.84v.84h-.84zM156.1 72.8h.84v.84h-.84zM150.2 72.3h.84v.84h-.84zM148.7 76.4h.84v.84h-.84zM149.4 75.8h.84v.84h-.84zM152.2 71.1h.84v.84h-.84zM156.3 72.6h.84v.84h-.84zM155.4 77.3h.84v.84h-.84zM149.6 71.6h.84v.84h-.84zM154.5 77.8h.84v.84h-.84zM149.8 76.8h.84v.84h-.84zM154.8 77.1h.84v.84h-.84zM156.0 76.9h.84v.84h-.84zM156.9 75.2h.84v.84h-.84zM156.4 73.6h.84v.84h-.84zM154.6 77.4h.84v.84h-.84zM152.9 78.4h.84v.84h-.84zM150.6 78.8h.84v.84h-.84zM150.1 78.8h.84v.84h-.84zM150.1 78.9h.84v.84h-.84zM153.7 70.7h.84v.84h-.84zM149.4 71.9h.84v.84h-.84zM149.0 76.7h.84v.84h-.84zM150.6 78.2h.84v.84h-.84zM151.7 78.6h.84v.84h-.84zM153.0 78.4h.84v.84h-.84zM150.2 71.1h.84v.84h-.84zM150.6 71.1h.84v.84h-.84zM153.6 79.0h.84v.84h-.84zM154.9 78.8h.84v.84h-.84zM151.8 72.1h.84v.84h-.84zM152.4 78.2h.84v.84h-.84zM149.9 73.1h.84v.84h-.84zM155.7 73.9h.84v.84h-.84zM156.1 76.6h.84v.84h-.84zM149.1 75.3h.84v.84h-.84zM155.2 78.0h.84v.84h-.84zM153.7 78.9h.84v.84h-.84zM155.1 73.5h.84v.84h-.84zM153.1 78.1h.84v.84h-.84zM156.0 75.4h.84v.84h-.84zM152.0 71.9h.84v.84h-.84zM148.5 73.7h.84v.84h-.84zM155.0 78.9h.84v.84h-.84zM148.6 75.0h.84v.84h-.84zM157.1 75.7h.84v.84h-.84zM149.7 72.9h.84v.84h-.84zM149.3 76.9h.84v.84h-.84zM157.1 75.6h.84v.84h-.84zM154.5 77.4h.84v.84h-.84zM150.9 78.0h.84v.84h-.84zM155.0 71.4h.84v.84h-.84zM149.2 72.5h.84v.84h-.84zM155.6 71.7h.84v.84h-.84zM151.3 79.0h.84v.84h-.84zM149.2 73.6h.84v.84h-.84zM154.4 72.7h.84v.84h-.84zM155.9 73.2h.84v.84h-.84zM149.3 75.5h.84v.84h-.84zM154.8 71.4h.84v.84h-.84zM150.7 72.1h.84v.84h-.84zM152.6 78.5h.84v.84h-.84zM155.8 75.2h.84v.84h-.84zM153.5 71.7h.84v.84h-.84zM151.6 71.7h.84v.84h-.84zM153.4 78.0h.84v.84h-.84zM151.7 70.9h.84v.84h-.84zM148.7 76.5h.84v.84h-.84zM149.8 77.3h.84v.84h-.84zM151.2 71.9h.84v.84h-.84zM156.3 74.3h.84v.84h-.84zM155.5 78.4h.84v.84h-.84zM149.0 73.4h.84v.84h-.84zM156.0 74.8h.84v.84h-.84zM154.9 78.5h.84v.84h-.84zM150.6 78.8h.84v.84h-.84zM149.4 78.4h.84v.84h-.84zM155.5 76.1h.84v.84h-.84zM149.2 73.2h.84v.84h-.84zM156.3 72.4h.84v.84h-.84z"/>
<path fill="#4060d8" fill-opacity="0.85" d="M151.1 73.2h.84v.84h-.84zM149.7 75.3h.84v.84h-.84zM151.1 72.4h.84v.84h-.84zM152.5 76.8h.84v.84h-.84zM152.6 73.4h.84v.84h-.84zM153.5 77.2h.84v.84h-.84zM151.4 77.3h.84v.84h-.84zM150.3 74.7h.84v.84h-.84zM154.5 74.0h.84v.84h-.84zM154.3 77.1h.84v.84h-.84zM153.4 72.4h.84v.84h-.84zM151.1 76.9h.84v.84h-.84zM155.2 75.1h.84v.84h-.84zM155.0 75.0h.84v.84h-.84zM152.9 77.5h.84v.84h-.84zM152.6 77.7h.84v.84h-.84zM150.5 77.2h.84v.84h-.84zM154.0 72.5h.84v.84h-.84zM153.7 76.3h.84v.84h-.84zM151.6 77.4h.84v.84h-.84zM150.1 76.1h.84v.84h-.84zM150.9 74.1h.84v.84h-.84zM150.3 75.0h.84v.84h-.84zM154.5 76.8h.84v.84h-.84zM150.8 76.9h.84v.84h-.84zM155.3 75.8h.84v.84h-.84zM149.6 75.9h.84v.84h-.84zM150.6 77.4h.84v.84h-.84zM153.7 77.6h.84v.84h-.84zM150.0 73.6h.84v.84h-.84zM152.4 72.3h.84v.84h-.84zM151.8 77.0h.84v.84h-.84zM150.9 76.4h.84v.84h-.84zM153.9 77.4h.84v.84h-.84zM152.9 72.4h.84v.84h-.84zM152.7 78.1h.84v.84h-.84zM152.6 73.0h.84v.84h-.84zM153.5 72.4h.84v.84h-.84zM154.0 74.3h.84v.84h-.84zM152.7 72.2h.84v.84h-.84zM150.0 76.2h.84v.84h-.84zM150.5 75.3h.84v.84h-.84zM150.8 76.9h.84v.84h-.84zM152.7 77.1h.84v.84h-.84zM149.8 76.5h.84v.84h-.84zM153.6 73.0h.84v.84h-.84zM154.6 74.0h.84v.84h-.84zM153.0 76.7h.84v.84h-.84zM150.9 76.2h.84v.84h-.84zM154.6 74.3h.84v.84h-.84zM150.2 76.0h.84v.84h-.84zM150.6 73.1h.84v.84h-.84zM150.5 75.6h.84v.84h-.84zM154.4 74.9h.84v.84h-.84zM151.0 77.1h.84v.84h-.84zM150.0 76.6h.84v.84h-.84zM150.5 75.1h.84v.84h-.84zM154.0 76.6h.84v.84h-.84zM153.0 77.6h.84v.84h-.84zM150.5 76.4h.84v.84h-.84zM151.6 72.2h.84v.84h-.84zM153.1 72.8h.84v.84h-.84zM154.0 74.3h.84v.84h-.84zM154.2 73.3h.84v.84h-.84zM150.4 74.2h.84v.84h-.84zM154.7 73.7h.84v.84h-.84zM150.6 74.7h.84v.84h-.84zM151.9 72.4h.84v.84h-.84zM153.3 72.5h.84v.84h-.84zM153.5 74.0h.84v.84h-.84zM154.6 77.0h.84v.84h-.84zM151.1 77.1h.84v.84h-.84zM154.2 76.1h.84v.84h-.84zM151.1 76.6h.84v.84h-.84zM152.9 77.1h.84v.84h-.84zM152.5 73.1h.84v.84h-.84zM150.8 72.7h.84v.84h-.84zM149.6 76.0h.84v.84h-.84zM152.0 78.1h.84v.84h-.84zM154.1 76.4h.84v.84h-.84zM153.1 72.2h.84v.84h-.84zM153.0 73.2h.84v.84h-.84zM153.3 76.7h.84v.84h-.84zM150.7 75.5h.84v.84h-.84zM154.1 73.1h.84v.84h-.84zM150.3 73.7h.84v.84h-.84zM151.4 73.3h.84v.84h-.84zM151.1 72.6h.84v.84h-.84zM152.9 73.3h.84v.84h-.84zM154.9 74.8h.84v.84h-.84zM153.3 73.6h.84v.84h-.84zM154.3 75.5h.84v.84h-.84zM150.8 73.7h.84v.84h-.84zM150.4 74.2h.84v.84h-.84zM154.3 73.3h.84v.84h-.84zM154.5 75.5h.84v.84h-.84zM150.9 75.1h.84v.84h-.84zM151.2 74.0h.84v.84h-.84zM154.7 76.2h.84v.84h-.84zM152.5 76.9h.84v.84h-.84zM152.7 73.3h.84v.84h-.84z"/>
<path fill="#18c070" fill-opacity="0.85" d="M151.0 75.2h.84v.84h-.84zM151.2 75.5h.84v.84h-.84zM153.2 73.9h.84v.84h-.84zM151.9 74.7h.84v.84h-.84zM153.0 75.8h.84v.84h-.84zM152.9 76.5h.84v.84h-.84zM152.3 75.3h.84v.84h-.84zM153.2 74.8h.84v.84h-.84zM152.4 74.0h.84v.84h-.84zM151.5 76.2h.84v.84h-.84zM152.2 75.0h.84v.84h-.84zM151.3 75.2h.84v.84h-.84zM152.1 75.4h.84v.84h-.84zM151.9 76.2h.84v.84h-.84zM151.2 74.5h.84v.84h-.84zM151.4 76.0h.84v.84h-.84zM151.8 74.4h.84v.84h-.84zM152.0 75.4h.84v.84h-.84zM153.8 75.5h.84v.84h-.84zM152.3 76.4h.84v.84h-.84zM152.9 73.9h.84v.84h-.84zM152.7 76.4h.84v.84h-.84zM151.4 74.7h.84v.84h-.84zM152.0 75.9h.84v.84h-.84zM153.1 76.1h.84v.84h-.84zM152.7 76.1h.84v.84h-.84zM152.1 76.5h.84v.84h-.84zM152.2 73.8h.84v.84h-.84zM153.3 75.4h.84v.84h-.84zM152.9 74.5h.84v.84h-.84zM152.4 73.9h.84v.84h-.84zM152.7 76.4h.84v.84h-.84zM152.8 75.4h.84v.84h-.84zM151.4 75.3h.84v.84h-.84zM153.4 74.7h.84v.84h-.84zM152.3 74.7h.84v.84h-.84zM151.8 75.5h.84v.84h-.84zM152.6 73.7h.84v.84h-.84zM152.0 75.3h.84v.84h-.84zM153.1 75.7h.84v.84h-.84zM151.5 74.9h.84v.84h-.84zM152.2 75.5h.84v.84h-.84zM151.1 74.8h.84v.84h-.84zM152.2 74.3h.84v.84h-.84z"/>
<path fill="#c0a0d8" fill-opacity="0.7" d="M151.3 61.9h.8v.8h-.8zM154.1 57.1h.8v.8h-.8zM157.5 56.7h.8v.8h-.8zM150.7 60.8h.8v.8h-.8zM149.6 57.7h.8v.8h-.8zM155.9 54.9h.8v.8h-.8zM156.8 57.3h.8v.8h-.8zM155.0 65.3h.8v.8h-.8zM154.3 65.4h.8v.8h-.8zM156.5 57.5h.8v.8h-.8zM150.9 64.9h.8v.8h-.8zM156.3 64.4h.8v.8h-.8zM158.2 63.4h.8v.8h-.8zM150.4 58.7h.8v.8h-.8zM159.0 61.0h.8v.8h-.8zM157.1 56.7h.8v.8h-.8zM152.1 63.2h.8v.8h-.8zM156.9 57.9h.8v.8h-.8zM151.5 58.7h.8v.8h-.8zM154.8 56.1h.8v.8h-.8zM158.0 58.6h.8v.8h-.8zM153.8 65.5h.8v.8h-.8zM150.1 59.9h.8v.8h-.8zM151.7 62.5h.8v.8h-.8zM154.8 65.2h.8v.8h-.8z"/>
<path fill="#9070c0" fill-opacity="0.7" d="M154.6 60.9h.8v.8h-.8zM154.3 62.5h.8v.8h-.8zM155.8 59.9h.8v.8h-.8zM153.5 62.0h.8v.8h-.8zM154.5 60.0h.8v.8h-.8zM153.7 62.3h.8v.8h-.8zM153.3 61.0h.8v.8h-.8zM154.7 61.8h.8v.8h-.8zM154.4 61.3h.8v.8h-.8zM152.6 59.6h.8v.8h-.8zM153.0 60.0h.8v.8h-.8zM151.9 60.3h.8v.8h-.8zM155.6 59.6h.8v.8h-.8zM155.9 63.0h.8v.8h-.8zM156.2 61.7h.8v.8h-.8zM155.9 59.8h.8v.8h-.8zM155.9 64.2h.8v.8h-.8zM154.5 58.9h.8v.8h-.8zM155.8 58.2h.8v.8h-.8zM154.7 61.0h.8v.8h-.8zM155.7 61.9h.8v.8h-.8zM153.2 60.6h.8v.8h-.8zM155.6 60.4h.8v.8h-.8zM154.4 61.0h.8v.8h-.8zM155.8 60.8h.8v.8h-.8zM155.0 60.2h.8v.8h-.8zM155.3 62.9h.8v.8h-.8zM154.4 61.1h.8v.8h-.8zM156.9 60.7h.8v.8h-.8zM153.6 61.0h.8v.8h-.8zM153.5 64.1h.8v.8h-.8zM155.5 58.9h.8v.8h-.8zM155.4 62.9h.8v.8h-.8zM154.7 61.9h.8v.8h-.8zM154.6 58.9h.8v.8h-.8z"/>
<path d="M148.4,26.5 L196.4,26.5 L196.4,55.5 C196.5,61 190.5,63.8 188,64.8 C184,66.8 178,67.2 174.5,66 C169,63.5 166,58.5 163,55 C159,50 153,46.8 148.4,45.9" fill="none" stroke="#444" stroke-width="0.75"/>
<text x="149.7" y="24.4" font-size="3.95" font-weight="normal" text-anchor="start" fill="#333">Except CD56+CD16+ cells</text>
<line x1="131" y1="32.3" x2="131" y2="83.3" stroke="#000" stroke-width="1.15"/>
<path d="M128.8,34.0 L131,29.3 L133.2,34.0 Z" fill="#000"/>
<text x="125.8" y="75.0" font-size="8.7" font-weight="bold" text-anchor="start" fill="#000" transform="rotate(-90 125.8 75.0)">CD56</text>
<line x1="148" y1="91.5" x2="219.8" y2="91.5" stroke="#000" stroke-width="1.15"/>
<path d="M218.10000000000002,89.3 L222.8,91.5 L218.10000000000002,93.7 Z" fill="#000"/>
<text x="148" y="103.2" font-size="8.7" font-weight="bold" text-anchor="start" fill="#000">CD16</text>
<rect x="257" y="11.4" width="68.69999999999999" height="68.3" stroke="#8a8a8a" stroke-width="0.85" fill="none"/>
<text x="255.8" y="12.3" font-size="2.7" font-weight="normal" text-anchor="end" fill="#555">10<tspan dy="-1" font-size="1.8">3</tspan></text>
<line x1="256" y1="11.4" x2="257" y2="11.4" stroke="#888" stroke-width="0.4"/>
<text x="255.8" y="30.299999999999997" font-size="2.7" font-weight="normal" text-anchor="end" fill="#555">10<tspan dy="-1" font-size="1.8">3</tspan></text>
<line x1="256" y1="29.4" x2="257" y2="29.4" stroke="#888" stroke-width="0.4"/>
<text x="255.8" y="47.199999999999996" font-size="2.7" font-weight="normal" text-anchor="end" fill="#555">10<tspan dy="-1" font-size="1.8">3</tspan></text>
<line x1="256" y1="46.3" x2="257" y2="46.3" stroke="#888" stroke-width="0.4"/>
<text x="255.8" y="63.0" font-size="2.7" font-weight="normal" text-anchor="end" fill="#555">10<tspan dy="-1" font-size="1.8">3</tspan></text>
<line x1="256" y1="62.1" x2="257" y2="62.1" stroke="#888" stroke-width="0.4"/>
<text x="275.7" y="84.4" font-size="2.7" font-weight="normal" text-anchor="middle" fill="#555">10<tspan dy="-1" font-size="1.8">3</tspan></text>
<line x1="274.5" y1="79.7" x2="274.5" y2="80.7" stroke="#888" stroke-width="0.4"/>
<text x="292.59999999999997" y="84.4" font-size="2.7" font-weight="normal" text-anchor="middle" fill="#555">10<tspan dy="-1" font-size="1.8">3</tspan></text>
<line x1="291.4" y1="79.7" x2="291.4" y2="80.7" stroke="#888" stroke-width="0.4"/>
<text x="310.7" y="84.4" font-size="2.7" font-weight="normal" text-anchor="middle" fill="#555">10<tspan dy="-1" font-size="1.8">3</tspan></text>
<line x1="309.5" y1="79.7" x2="309.5" y2="80.7" stroke="#888" stroke-width="0.4"/>
<text x="327.59999999999997" y="84.4" font-size="2.7" font-weight="normal" text-anchor="middle" fill="#555">10<tspan dy="-1" font-size="1.8">3</tspan></text>
<line x1="326.4" y1="79.7" x2="326.4" y2="80.7" stroke="#888" stroke-width="0.4"/>
<path fill="#bbb" fill-opacity="0.45" d="M267.4 49.9h.54v.54h-.54zM276.0 51.5h.54v.54h-.54zM304.6 47.8h.54v.54h-.54zM278.1 54.3h.54v.54h-.54zM304.6 52.4h.54v.54h-.54zM278.5 55.7h.54v.54h-.54zM264.9 56.6h.54v.54h-.54zM297.8 43.6h.54v.54h-.54zM270.2 53.9h.54v.54h-.54zM308.5 44.1h.54v.54h-.54zM292.7 54.7h.54v.54h-.54zM295.1 55.7h.54v.54h-.54zM305.6 45.2h.54v.54h-.54zM266.0 55.2h.54v.54h-.54zM274.1 55.0h.54v.54h-.54zM309.6 48.1h.54v.54h-.54zM300.1 45.7h.54v.54h-.54zM287.3 44.5h.54v.54h-.54zM293.1 44.7h.54v.54h-.54zM283.0 43.1h.54v.54h-.54zM310.6 51.3h.54v.54h-.54zM278.6 45.9h.54v.54h-.54zM300.9 49.6h.54v.54h-.54zM290.0 43.3h.54v.54h-.54zM280.0 49.3h.54v.54h-.54zM303.7 45.6h.54v.54h-.54zM264.2 50.3h.54v.54h-.54zM272.6 43.3h.54v.54h-.54zM267.1 49.5h.54v.54h-.54zM283.1 46.4h.54v.54h-.54zM296.9 43.4h.54v.54h-.54zM276.4 49.7h.54v.54h-.54zM273.9 56.3h.54v.54h-.54zM278.7 49.1h.54v.54h-.54zM309.2 50.0h.54v.54h-.54zM273.4 49.4h.54v.54h-.54zM311.3 54.4h.54v.54h-.54zM277.3 43.8h.54v.54h-.54zM308.0 46.9h.54v.54h-.54zM265.8 48.6h.54v.54h-.54zM299.9 47.9h.54v.54h-.54zM301.9 55.9h.54v.54h-.54zM295.3 55.1h.54v.54h-.54zM291.2 43.9h.54v.54h-.54zM295.6 46.3h.54v.54h-.54zM302.2 55.3h.54v.54h-.54zM285.0 52.6h.54v.54h-.54zM264.2 50.8h.54v.54h-.54zM294.7 55.6h.54v.54h-.54zM265.2 45.5h.54v.54h-.54zM299.8 51.3h.54v.54h-.54zM284.2 56.3h.54v.54h-.54zM265.3 54.9h.54v.54h-.54zM267.3 46.1h.54v.54h-.54zM294.6 43.5h.54v.54h-.54zM300.0 47.0h.54v.54h-.54zM301.5 51.1h.54v.54h-.54zM274.5 53.8h.54v.54h-.54zM307.6 53.8h.54v.54h-.54zM266.4 48.9h.54v.54h-.54zM265.1 49.0h.54v.54h-.54zM275.8 50.1h.54v.54h-.54zM305.1 53.2h.54v.54h-.54zM301.4 43.5h.54v.54h-.54zM286.0 48.6h.54v.54h-.54zM298.0 55.1h.54v.54h-.54zM262.1 54.8h.54v.54h-.54zM278.3 43.2h.54v.54h-.54zM292.7 50.2h.54v.54h-.54zM309.8 54.0h.54v.54h-.54zM285.2 53.6h.54v.54h-.54zM306.2 50.0h.54v.54h-.54zM277.6 51.9h.54v.54h-.54zM304.3 52.7h.54v.54h-.54zM292.7 45.0h.54v.54h-.54zM298.2 51.1h.54v.54h-.54zM297.9 49.2h.54v.54h-.54zM263.6 46.3h.54v.54h-.54zM291.3 44.9h.54v.54h-.54zM278.0 48.5h.54v.54h-.54zM268.9 46.7h.54v.54h-.54zM284.2 55.5h.54v.54h-.54zM297.7 44.2h.54v.54h-.54zM281.3 54.1h.54v.54h-.54zM261.7 52.6h.54v.54h-.54zM297.6 46.2h.54v.54h-.54zM262.4 47.1h.54v.54h-.54zM278.1 52.0h.54v.54h-.54zM265.5 45.1h.54v.54h-.54zM297.8 43.3h.54v.54h-.54z"/>
<path fill="#999" fill-opacity="0.4" d="M258.9 69.3h.63v.63h-.63zM259.8 75.6h.63v.63h-.63zM258.3 78.4h.63v.63h-.63zM265.6 68.7h.63v.63h-.63zM259.0 63.7h.63v.63h-.63zM264.7 74.9h.63v.63h-.63zM267.5 73.0h.63v.63h-.63zM263.2 70.2h.63v.63h-.63zM257.4 74.6h.63v.63h-.63zM260.5 71.4h.63v.63h-.63zM259.0 73.9h.63v.63h-.63zM265.5 74.3h.63v.63h-.63zM258.3 72.7h.63v.63h-.63zM263.0 76.3h.63v.63h-.63zM265.5 76.2h.63v.63h-.63zM261.8 74.8h.63v.63h-.63zM263.8 78.4h.63v.63h-.63zM265.5 64.0h.63v.63h-.63zM259.0 76.1h.63v.63h-.63zM267.1 77.6h.63v.63h-.63zM258.1 74.0h.63v.63h-.63zM265.0 74.9h.63v.63h-.63zM264.6 73.6h.63v.63h-.63zM263.8 73.1h.63v.63h-.63zM260.4 71.7h.63v.63h-.63zM258.5 67.1h.63v.63h-.63zM262.0 67.6h.63v.63h-.63zM259.6 68.6h.63v.63h-.63zM257.7 59.4h.63v.63h-.63zM264.0 77.8h.63v.63h-.63zM262.5 68.4h.63v.63h-.63zM265.7 73.3h.63v.63h-.63zM261.9 67.6h.63v.63h-.63zM263.6 65.0h.63v.63h-.63zM261.8 75.0h.63v.63h-.63zM264.7 67.8h.63v.63h-.63zM257.7 70.7h.63v.63h-.63zM261.7 70.7h.63v.63h-.63zM260.6 66.5h.63v.63h-.63zM264.9 75.1h.63v.63h-.63zM264.2 70.7h.63v.63h-.63zM259.6 69.3h.63v.63h-.63zM262.3 65.3h.63v.63h-.63zM262.9 73.6h.63v.63h-.63zM259.5 75.7h.63v.63h-.63zM264.2 61.4h.63v.63h-.63zM260.2 71.1h.63v.63h-.63zM265.0 74.0h.63v.63h-.63zM261.2 78.1h.63v.63h-.63zM261.9 73.0h.63v.63h-.63zM263.3 76.7h.63v.63h-.63zM262.9 78.0h.63v.63h-.63zM262.4 71.2h.63v.63h-.63zM259.3 71.9h.63v.63h-.63zM259.6 74.0h.63v.63h-.63zM261.8 68.2h.63v.63h-.63zM264.1 71.4h.63v.63h-.63zM260.3 77.9h.63v.63h-.63zM263.2 73.6h.63v.63h-.63zM259.1 77.4h.63v.63h-.63zM263.7 66.3h.63v.63h-.63zM260.7 77.3h.63v.63h-.63zM265.0 71.2h.63v.63h-.63zM262.4 72.5h.63v.63h-.63zM266.7 69.2h.63v.63h-.63zM262.1 76.0h.63v.63h-.63zM262.6 76.4h.63v.63h-.63zM261.8 70.6h.63v.63h-.63zM259.3 71.3h.63v.63h-.63z"/>
<g filter="url(#b6)"><ellipse cx="261.8" cy="74.8" rx="5.0" ry="6.4" fill="#d050c8" fill-opacity="0.45" transform="rotate(0 261.8 74.8)"/><ellipse cx="261.8" cy="74.8" rx="4.1" ry="5.4" fill="#b040c8" fill-opacity="0.6" transform="rotate(0 261.8 74.8)"/><ellipse cx="261.8" cy="74.8" rx="2.6" ry="3.4" fill="#5050d0" fill-opacity="0.7" transform="rotate(0 261.8 74.8)"/><ellipse cx="261.8" cy="74.8" rx="1.5" ry="2.0" fill="#30a0a0" fill-opacity="0.7" transform="rotate(0 261.8 74.8)"/></g>
<path fill="#d060c8" fill-opacity="0.85" d="M258.2 68.8h.84v.84h-.84zM268.1 78.7h.84v.84h-.84zM266.3 76.0h.84v.84h-.84zM267.7 70.4h.84v.84h-.84zM267.0 78.1h.84v.84h-.84zM265.8 73.9h.84v.84h-.84zM264.7 69.1h.84v.84h-.84zM261.0 66.5h.84v.84h-.84zM266.2 69.5h.84v.84h-.84zM266.1 73.3h.84v.84h-.84zM265.5 77.6h.84v.84h-.84zM265.8 76.0h.84v.84h-.84zM266.0 70.6h.84v.84h-.84zM261.9 67.8h.84v.84h-.84zM258.0 70.6h.84v.84h-.84zM269.5 75.8h.84v.84h-.84zM266.0 77.5h.84v.84h-.84zM263.6 68.2h.84v.84h-.84zM264.4 68.3h.84v.84h-.84zM262.2 68.6h.84v.84h-.84zM257.4 70.5h.84v.84h-.84zM265.6 78.6h.84v.84h-.84zM259.5 69.1h.84v.84h-.84zM265.4 70.2h.84v.84h-.84zM257.2 72.3h.84v.84h-.84zM262.0 68.2h.84v.84h-.84zM262.2 68.6h.84v.84h-.84zM259.9 66.8h.84v.84h-.84zM265.7 70.1h.84v.84h-.84zM265.9 74.8h.84v.84h-.84zM258.8 69.1h.84v.84h-.84zM266.3 71.4h.84v.84h-.84zM268.4 73.5h.84v.84h-.84zM265.8 67.3h.84v.84h-.84zM264.4 78.6h.84v.84h-.84zM259.7 68.4h.84v.84h-.84zM261.9 68.6h.84v.84h-.84zM265.8 77.7h.84v.84h-.84zM266.7 75.0h.84v.84h-.84zM265.0 78.6h.84v.84h-.84z"/>
<path fill="#a040c8" fill-opacity="0.85" d="M264.6 77.5h.84v.84h-.84zM258.4 76.1h.84v.84h-.84zM264.1 73.5h.84v.84h-.84zM259.3 77.9h.84v.84h-.84zM257.6 75.8h.84v.84h-.84zM263.0 70.1h.84v.84h-.84zM259.1 77.3h.84v.84h-.84zM257.9 76.7h.84v.84h-.84zM264.9 73.7h.84v.84h-.84zM263.2 77.5h.84v.84h-.84zM260.3 70.4h.84v.84h-.84zM258.1 74.5h.84v.84h-.84zM258.7 75.9h.84v.84h-.84zM265.4 76.1h.84v.84h-.84zM258.5 77.4h.84v.84h-.84zM265.1 74.7h.84v.84h-.84zM262.6 70.7h.84v.84h-.84zM258.6 69.9h.84v.84h-.84zM264.1 77.2h.84v.84h-.84zM265.8 73.8h.84v.84h-.84zM264.1 78.2h.84v.84h-.84zM259.0 77.8h.84v.84h-.84zM263.2 78.4h.84v.84h-.84zM259.0 76.8h.84v.84h-.84zM262.4 78.0h.84v.84h-.84zM259.7 71.4h.84v.84h-.84zM265.1 73.0h.84v.84h-.84zM259.2 72.0h.84v.84h-.84zM261.4 78.8h.84v.84h-.84zM264.4 72.8h.84v.84h-.84zM261.1 70.5h.84v.84h-.84zM258.8 77.5h.84v.84h-.84zM258.5 71.8h.84v.84h-.84zM264.9 75.9h.84v.84h-.84zM262.2 78.6h.84v.84h-.84zM265.4 74.8h.84v.84h-.84zM258.4 75.7h.84v.84h-.84zM264.9 71.2h.84v.84h-.84zM257.7 73.4h.84v.84h-.84zM260.6 70.2h.84v.84h-.84zM265.1 75.9h.84v.84h-.84zM258.5 74.7h.84v.84h-.84zM260.9 78.3h.84v.84h-.84zM258.7 77.5h.84v.84h-.84zM259.5 69.9h.84v.84h-.84zM258.5 75.6h.84v.84h-.84zM259.1 70.7h.84v.84h-.84zM258.2 73.8h.84v.84h-.84zM257.3 74.3h.84v.84h-.84zM260.8 70.1h.84v.84h-.84zM258.0 74.8h.84v.84h-.84zM264.0 71.0h.84v.84h-.84zM260.2 78.5h.84v.84h-.84zM258.4 78.4h.84v.84h-.84zM264.5 70.8h.84v.84h-.84zM257.5 76.4h.84v.84h-.84zM264.6 77.9h.84v.84h-.84zM258.0 72.8h.84v.84h-.84zM263.9 71.6h.84v.84h-.84zM264.4 71.5h.84v.84h-.84zM259.7 77.9h.84v.84h-.84zM263.6 77.0h.84v.84h-.84zM258.3 72.3h.84v.84h-.84zM261.7 70.2h.84v.84h-.84zM265.7 74.1h.84v.84h-.84zM258.2 75.0h.84v.84h-.84zM264.2 78.0h.84v.84h-.84zM263.3 77.1h.84v.84h-.84zM257.9 76.8h.84v.84h-.84zM260.9 68.9h.84v.84h-.84zM261.5 78.0h.84v.84h-.84zM258.9 72.1h.84v.84h-.84zM263.8 78.4h.84v.84h-.84zM258.8 76.4h.84v.84h-.84zM263.5 72.0h.84v.84h-.84zM263.6 76.7h.84v.84h-.84zM258.1 73.4h.84v.84h-.84zM264.3 73.1h.84v.84h-.84zM260.2 78.0h.84v.84h-.84zM259.8 70.7h.84v.84h-.84zM259.7 70.4h.84v.84h-.84zM259.5 71.5h.84v.84h-.84zM263.5 77.3h.84v.84h-.84zM263.4 77.7h.84v.84h-.84zM261.8 70.0h.84v.84h-.84zM264.0 77.8h.84v.84h-.84zM263.9 71.7h.84v.84h-.84zM263.3 78.4h.84v.84h-.84zM263.9 70.8h.84v.84h-.84zM264.1 75.3h.84v.84h-.84zM258.0 72.2h.84v.84h-.84zM259.7 78.5h.84v.84h-.84zM257.9 73.2h.84v.84h-.84zM259.6 70.8h.84v.84h-.84zM262.9 69.8h.84v.84h-.84zM261.2 78.3h.84v.84h-.84zM259.7 77.8h.84v.84h-.84zM259.6 78.7h.84v.84h-.84zM263.8 71.4h.84v.84h-.84zM264.2 77.5h.84v.84h-.84zM261.7 78.5h.84v.84h-.84zM259.4 77.3h.84v.84h-.84z"/>
<path fill="#5050d0" fill-opacity="0.85" d="M261.6 71.5h.84v.84h-.84zM260.3 71.1h.84v.84h-.84zM260.6 77.8h.84v.84h-.84zM261.9 71.5h.84v.84h-.84zM259.5 75.9h.84v.84h-.84zM262.3 77.1h.84v.84h-.84zM259.3 74.8h.84v.84h-.84zM259.2 72.2h.84v.84h-.84zM260.3 77.2h.84v.84h-.84zM261.1 71.3h.84v.84h-.84zM262.8 73.2h.84v.84h-.84zM262.7 72.1h.84v.84h-.84zM262.1 77.3h.84v.84h-.84zM258.7 73.8h.84v.84h-.84zM262.9 76.6h.84v.84h-.84zM260.5 76.9h.84v.84h-.84zM262.6 76.1h.84v.84h-.84zM258.9 74.3h.84v.84h-.84zM263.7 75.9h.84v.84h-.84zM259.3 74.0h.84v.84h-.84zM263.2 71.9h.84v.84h-.84zM263.3 72.9h.84v.84h-.84zM260.6 71.0h.84v.84h-.84zM262.9 71.5h.84v.84h-.84zM261.1 72.0h.84v.84h-.84zM262.9 73.1h.84v.84h-.84zM261.2 71.8h.84v.84h-.84zM261.6 71.9h.84v.84h-.84zM263.2 75.3h.84v.84h-.84zM259.0 73.2h.84v.84h-.84zM259.0 75.9h.84v.84h-.84zM261.4 77.1h.84v.84h-.84zM261.8 77.5h.84v.84h-.84zM263.1 74.6h.84v.84h-.84zM260.4 77.7h.84v.84h-.84zM263.4 75.4h.84v.84h-.84zM262.7 71.6h.84v.84h-.84zM262.2 76.3h.84v.84h-.84zM263.9 74.1h.84v.84h-.84zM259.3 73.1h.84v.84h-.84zM261.2 77.1h.84v.84h-.84zM263.9 72.9h.84v.84h-.84zM260.0 71.4h.84v.84h-.84zM261.9 77.3h.84v.84h-.84zM262.2 71.1h.84v.84h-.84zM260.3 76.5h.84v.84h-.84zM262.2 76.4h.84v.84h-.84zM262.8 75.9h.84v.84h-.84zM259.3 75.7h.84v.84h-.84zM263.1 77.0h.84v.84h-.84zM260.3 76.6h.84v.84h-.84zM263.4 74.5h.84v.84h-.84zM260.3 76.5h.84v.84h-.84zM260.1 71.8h.84v.84h-.84zM263.7 73.3h.84v.84h-.84zM260.6 71.8h.84v.84h-.84zM259.0 74.2h.84v.84h-.84zM262.1 71.9h.84v.84h-.84zM260.6 72.3h.84v.84h-.84zM262.7 75.7h.84v.84h-.84zM263.1 75.9h.84v.84h-.84zM259.3 72.9h.84v.84h-.84zM260.7 72.3h.84v.84h-.84zM260.2 72.3h.84v.84h-.84zM259.7 75.4h.84v.84h-.84zM262.8 75.7h.84v.84h-.84zM262.1 77.2h.84v.84h-.84zM260.3 76.7h.84v.84h-.84zM261.8 71.4h.84v.84h-.84zM263.3 72.2h.84v.84h-.84zM263.5 74.3h.84v.84h-.84zM263.8 72.7h.84v.84h-.84zM260.8 76.9h.84v.84h-.84zM260.0 71.5h.84v.84h-.84zM263.2 71.9h.84v.84h-.84zM263.6 74.1h.84v.84h-.84zM262.5 76.2h.84v.84h-.84zM259.6 73.7h.84v.84h-.84zM261.5 71.3h.84v.84h-.84zM259.2 74.1h.84v.84h-.84zM261.8 76.8h.84v.84h-.84zM264.1 73.8h.84v.84h-.84zM261.8 71.8h.84v.84h-.84zM261.2 71.9h.84v.84h-.84zM261.6 77.4h.84v.84h-.84zM263.1 76.1h.84v.84h-.84zM259.3 75.2h.84v.84h-.84zM261.7 77.0h.84v.84h-.84zM261.4 71.5h.84v.84h-.84zM261.1 77.2h.84v.84h-.84zM263.3 73.3h.84v.84h-.84zM263.0 73.1h.84v.84h-.84zM263.8 74.6h.84v.84h-.84zM263.2 74.0h.84v.84h-.84zM262.8 72.5h.84v.84h-.84zM259.5 76.9h.84v.84h-.84zM262.5 71.3h.84v.84h-.84zM263.4 75.3h.84v.84h-.84zM259.5 75.8h.84v.84h-.84zM259.7 75.9h.84v.84h-.84zM260.0 73.0h.84v.84h-.84zM260.0 72.5h.84v.84h-.84zM263.2 74.2h.84v.84h-.84zM262.9 72.5h.84v.84h-.84zM258.8 73.6h.84v.84h-.84zM261.6 71.4h.84v.84h-.84zM258.7 74.2h.84v.84h-.84zM259.9 72.9h.84v.84h-.84zM260.9 77.1h.84v.84h-.84zM262.9 76.8h.84v.84h-.84zM262.4 77.5h.84v.84h-.84zM262.6 76.0h.84v.84h-.84zM262.9 76.1h.84v.84h-.84zM259.0 75.4h.84v.84h-.84zM262.2 76.6h.84v.84h-.84zM262.7 71.4h.84v.84h-.84zM258.8 74.2h.84v.84h-.84zM263.9 75.5h.84v.84h-.84zM262.7 71.7h.84v.84h-.84zM259.1 73.3h.84v.84h-.84zM263.8 75.5h.84v.84h-.84zM263.8 73.8h.84v.84h-.84zM261.5 77.1h.84v.84h-.84z"/>
<path fill="#30a0a0" fill-opacity="0.85" d="M261.7 74.1h.84v.84h-.84zM261.0 76.1h.84v.84h-.84zM260.7 73.7h.84v.84h-.84zM260.4 75.0h.84v.84h-.84zM260.0 74.7h.84v.84h-.84zM261.6 74.0h.84v.84h-.84zM262.3 74.1h.84v.84h-.84zM261.4 74.1h.84v.84h-.84zM261.8 73.3h.84v.84h-.84zM261.1 73.8h.84v.84h-.84zM261.5 75.7h.84v.84h-.84zM260.7 74.7h.84v.84h-.84zM262.5 74.1h.84v.84h-.84zM260.0 74.3h.84v.84h-.84zM260.6 73.7h.84v.84h-.84zM260.2 74.3h.84v.84h-.84zM262.8 73.7h.84v.84h-.84zM261.4 74.7h.84v.84h-.84zM262.2 75.1h.84v.84h-.84zM261.6 75.7h.84v.84h-.84zM260.5 73.2h.84v.84h-.84zM262.3 74.3h.84v.84h-.84zM261.9 76.2h.84v.84h-.84zM261.4 75.1h.84v.84h-.84zM261.0 74.6h.84v.84h-.84zM261.4 74.3h.84v.84h-.84zM261.5 73.7h.84v.84h-.84zM262.1 73.9h.84v.84h-.84zM262.9 74.4h.84v.84h-.84zM261.4 75.6h.84v.84h-.84zM262.8 75.1h.84v.84h-.84zM262.6 75.0h.84v.84h-.84zM260.8 74.3h.84v.84h-.84zM261.1 75.9h.84v.84h-.84zM262.5 73.5h.84v.84h-.84zM261.2 74.9h.84v.84h-.84zM261.8 73.6h.84v.84h-.84zM262.4 74.6h.84v.84h-.84zM260.5 72.7h.84v.84h-.84zM260.5 76.1h.84v.84h-.84zM260.8 73.4h.84v.84h-.84zM259.9 74.4h.84v.84h-.84zM260.5 74.6h.84v.84h-.84zM262.3 73.6h.84v.84h-.84zM260.7 75.5h.84v.84h-.84zM261.6 75.2h.84v.84h-.84zM261.0 76.0h.84v.84h-.84zM262.2 74.6h.84v.84h-.84zM262.5 75.5h.84v.84h-.84zM261.4 74.6h.84v.84h-.84zM260.8 73.7h.84v.84h-.84zM262.4 74.4h.84v.84h-.84zM260.2 73.9h.84v.84h-.84zM261.9 73.8h.84v.84h-.84zM260.0 74.7h.84v.84h-.84zM261.1 75.5h.84v.84h-.84zM262.5 74.7h.84v.84h-.84zM261.7 75.5h.84v.84h-.84zM261.6 74.3h.84v.84h-.84zM262.4 73.5h.84v.84h-.84zM261.9 75.9h.84v.84h-.84zM261.3 74.8h.84v.84h-.84zM261.5 75.6h.84v.84h-.84zM261.5 73.7h.84v.84h-.84zM261.1 74.1h.84v.84h-.84zM260.5 73.0h.84v.84h-.84zM261.4 75.7h.84v.84h-.84zM261.0 72.6h.84v.84h-.84zM261.0 76.2h.84v.84h-.84zM260.8 74.6h.84v.84h-.84zM261.8 73.8h.84v.84h-.84zM262.1 74.3h.84v.84h-.84zM261.1 74.7h.84v.84h-.84zM260.4 74.1h.84v.84h-.84zM261.1 76.3h.84v.84h-.84zM259.9 74.8h.84v.84h-.84zM262.1 73.1h.84v.84h-.84zM261.3 76.3h.84v.84h-.84zM260.8 72.9h.84v.84h-.84zM261.7 75.5h.84v.84h-.84zM261.4 73.0h.84v.84h-.84zM261.4 76.3h.84v.84h-.84z"/>
<g filter="url(#b6)"><ellipse cx="305.3" cy="70.6" rx="4.6" ry="5.6" fill="#c080d8" fill-opacity="0.45" transform="rotate(0 305.3 70.6)"/><ellipse cx="305.3" cy="70.6" rx="3.8" ry="4.8" fill="#8048c0" fill-opacity="0.65" transform="rotate(0 305.3 70.6)"/><ellipse cx="305.3" cy="70.6" rx="2.2" ry="2.8" fill="#503090" fill-opacity="0.7" transform="rotate(0 305.3 70.6)"/></g>
<path fill="#c080d8" fill-opacity="0.85" d="M302.6 67.3h.84v.84h-.84zM310.1 69.2h.84v.84h-.84zM310.6 68.4h.84v.84h-.84zM307.7 67.2h.84v.84h-.84zM308.4 71.6h.84v.84h-.84zM308.4 73.6h.84v.84h-.84zM301.0 71.5h.84v.84h-.84zM308.4 68.5h.84v.84h-.84zM308.0 66.0h.84v.84h-.84zM309.3 69.2h.84v.84h-.84zM300.9 71.1h.84v.84h-.84zM301.6 67.4h.84v.84h-.84zM301.6 73.0h.84v.84h-.84zM301.4 71.4h.84v.84h-.84zM309.4 70.4h.84v.84h-.84zM306.0 75.0h.84v.84h-.84zM303.3 75.1h.84v.84h-.84zM308.1 66.2h.84v.84h-.84zM299.0 72.0h.84v.84h-.84zM309.1 69.7h.84v.84h-.84zM301.6 72.6h.84v.84h-.84zM306.5 65.8h.84v.84h-.84zM302.4 74.9h.84v.84h-.84zM307.8 67.3h.84v.84h-.84zM306.9 73.8h.84v.84h-.84zM310.3 75.3h.84v.84h-.84zM301.3 66.8h.84v.84h-.84zM299.9 73.5h.84v.84h-.84zM308.0 71.6h.84v.84h-.84zM309.1 68.7h.84v.84h-.84zM301.7 68.5h.84v.84h-.84zM305.7 66.4h.84v.84h-.84zM308.1 69.5h.84v.84h-.84zM301.3 69.9h.84v.84h-.84zM308.5 66.2h.84v.84h-.84zM306.1 74.8h.84v.84h-.84zM309.5 71.5h.84v.84h-.84zM308.4 69.8h.84v.84h-.84zM309.5 69.2h.84v.84h-.84zM308.9 72.5h.84v.84h-.84zM299.0 69.0h.84v.84h-.84zM308.6 69.1h.84v.84h-.84zM306.5 74.2h.84v.84h-.84zM301.9 67.7h.84v.84h-.84zM300.3 73.4h.84v.84h-.84zM309.2 70.0h.84v.84h-.84zM298.8 70.8h.84v.84h-.84zM300.4 73.2h.84v.84h-.84zM301.5 65.2h.84v.84h-.84zM309.3 68.9h.84v.84h-.84zM307.7 73.9h.84v.84h-.84zM306.7 74.5h.84v.84h-.84zM301.4 72.6h.84v.84h-.84zM300.9 66.5h.84v.84h-.84zM301.7 74.7h.84v.84h-.84zM306.5 73.9h.84v.84h-.84zM307.1 73.6h.84v.84h-.84zM300.5 67.3h.84v.84h-.84zM308.1 67.9h.84v.84h-.84zM304.9 65.7h.84v.84h-.84zM300.5 71.4h.84v.84h-.84zM307.1 75.8h.84v.84h-.84zM302.3 72.6h.84v.84h-.84zM303.3 66.3h.84v.84h-.84zM305.5 74.5h.84v.84h-.84zM302.6 73.3h.84v.84h-.84zM309.0 69.6h.84v.84h-.84zM305.7 65.8h.84v.84h-.84zM305.2 65.8h.84v.84h-.84zM308.2 70.6h.84v.84h-.84zM308.7 71.2h.84v.84h-.84zM307.2 66.5h.84v.84h-.84zM308.6 66.7h.84v.84h-.84zM304.6 75.9h.84v.84h-.84zM310.1 67.1h.84v.84h-.84zM301.9 72.6h.84v.84h-.84zM301.9 72.2h.84v.84h-.84zM308.1 69.2h.84v.84h-.84zM306.0 66.5h.84v.84h-.84zM300.0 67.3h.84v.84h-.84zM301.4 67.8h.84v.84h-.84zM305.6 75.6h.84v.84h-.84zM301.6 67.8h.84v.84h-.84zM303.6 65.7h.84v.84h-.84zM302.6 73.1h.84v.84h-.84z"/>
<path fill="#7a48c0" fill-opacity="0.85" d="M307.0 68.6h.84v.84h-.84zM302.4 68.2h.84v.84h-.84zM303.3 72.7h.84v.84h-.84zM303.9 67.8h.84v.84h-.84zM307.2 70.8h.84v.84h-.84zM307.6 70.7h.84v.84h-.84zM306.9 68.7h.84v.84h-.84zM307.7 69.6h.84v.84h-.84zM302.6 72.2h.84v.84h-.84zM307.2 71.9h.84v.84h-.84zM304.1 72.6h.84v.84h-.84zM307.3 72.4h.84v.84h-.84zM306.9 71.5h.84v.84h-.84zM305.4 67.7h.84v.84h-.84zM305.3 73.3h.84v.84h-.84zM306.1 67.9h.84v.84h-.84zM306.6 72.8h.84v.84h-.84zM304.2 67.2h.84v.84h-.84zM303.0 72.0h.84v.84h-.84zM307.1 70.7h.84v.84h-.84zM303.0 68.4h.84v.84h-.84zM305.4 73.2h.84v.84h-.84zM306.8 68.7h.84v.84h-.84zM303.9 73.1h.84v.84h-.84zM306.9 69.3h.84v.84h-.84zM305.4 72.9h.84v.84h-.84zM302.1 69.6h.84v.84h-.84zM305.8 72.5h.84v.84h-.84zM304.1 72.8h.84v.84h-.84zM305.6 73.5h.84v.84h-.84zM305.4 67.0h.84v.84h-.84zM306.6 67.8h.84v.84h-.84zM307.1 70.1h.84v.84h-.84zM307.4 72.4h.84v.84h-.84zM306.4 72.2h.84v.84h-.84zM303.8 73.1h.84v.84h-.84zM307.0 68.5h.84v.84h-.84zM306.3 68.2h.84v.84h-.84zM303.1 72.2h.84v.84h-.84zM304.5 66.7h.84v.84h-.84zM305.0 67.0h.84v.84h-.84zM301.9 70.0h.84v.84h-.84zM302.8 68.2h.84v.84h-.84zM303.5 67.8h.84v.84h-.84zM302.7 72.5h.84v.84h-.84zM307.1 68.3h.84v.84h-.84zM304.2 72.7h.84v.84h-.84zM306.9 72.3h.84v.84h-.84zM307.7 70.7h.84v.84h-.84zM306.3 67.7h.84v.84h-.84zM302.8 72.4h.84v.84h-.84zM303.0 68.9h.84v.84h-.84zM303.9 72.6h.84v.84h-.84zM302.6 70.4h.84v.84h-.84zM302.5 71.9h.84v.84h-.84zM306.4 68.1h.84v.84h-.84zM302.0 70.4h.84v.84h-.84zM307.5 71.4h.84v.84h-.84zM304.3 67.4h.84v.84h-.84zM305.8 73.4h.84v.84h-.84zM304.1 67.8h.84v.84h-.84zM305.8 67.6h.84v.84h-.84zM307.4 70.4h.84v.84h-.84zM302.5 70.6h.84v.84h-.84zM307.9 70.8h.84v.84h-.84zM307.2 72.0h.84v.84h-.84zM304.3 66.6h.84v.84h-.84zM306.0 67.8h.84v.84h-.84zM304.3 73.1h.84v.84h-.84zM303.9 66.7h.84v.84h-.84zM305.9 67.9h.84v.84h-.84zM307.6 68.7h.84v.84h-.84zM302.7 68.6h.84v.84h-.84zM306.8 68.3h.84v.84h-.84zM301.9 70.7h.84v.84h-.84zM307.3 68.1h.84v.84h-.84zM302.4 69.5h.84v.84h-.84zM307.0 67.6h.84v.84h-.84zM306.8 68.6h.84v.84h-.84zM307.7 71.0h.84v.84h-.84zM303.6 67.3h.84v.84h-.84zM306.6 72.1h.84v.84h-.84zM305.1 73.2h.84v.84h-.84z"/>
<path fill="#503090" fill-opacity="0.85" d="M305.3 68.9h.84v.84h-.84zM304.9 68.5h.84v.84h-.84zM305.1 71.8h.84v.84h-.84zM305.6 68.9h.84v.84h-.84zM305.2 70.9h.84v.84h-.84zM303.7 72.0h.84v.84h-.84zM304.4 71.7h.84v.84h-.84zM305.3 71.5h.84v.84h-.84zM305.3 70.2h.84v.84h-.84zM306.8 70.4h.84v.84h-.84zM304.2 71.0h.84v.84h-.84zM305.5 70.1h.84v.84h-.84zM303.9 70.4h.84v.84h-.84zM306.3 71.7h.84v.84h-.84zM305.3 69.9h.84v.84h-.84zM304.0 69.9h.84v.84h-.84zM306.2 69.7h.84v.84h-.84zM305.2 69.0h.84v.84h-.84zM305.8 70.6h.84v.84h-.84zM305.5 71.5h.84v.84h-.84zM303.9 71.8h.84v.84h-.84zM304.2 67.9h.84v.84h-.84zM304.6 69.0h.84v.84h-.84zM306.5 71.6h.84v.84h-.84zM303.8 72.1h.84v.84h-.84zM303.8 70.7h.84v.84h-.84zM305.7 70.6h.84v.84h-.84zM305.8 71.5h.84v.84h-.84zM303.9 70.9h.84v.84h-.84zM303.3 69.4h.84v.84h-.84zM303.8 69.6h.84v.84h-.84zM304.2 70.2h.84v.84h-.84zM305.9 70.0h.84v.84h-.84zM305.6 68.5h.84v.84h-.84zM305.1 71.8h.84v.84h-.84zM304.2 67.9h.84v.84h-.84zM304.0 71.5h.84v.84h-.84zM306.5 68.8h.84v.84h-.84zM305.1 70.2h.84v.84h-.84zM304.8 68.5h.84v.84h-.84zM305.0 70.3h.84v.84h-.84zM306.3 70.2h.84v.84h-.84zM304.8 71.8h.84v.84h-.84zM303.4 70.9h.84v.84h-.84zM304.3 70.5h.84v.84h-.84zM306.6 69.6h.84v.84h-.84zM305.9 68.7h.84v.84h-.84zM304.2 72.5h.84v.84h-.84zM304.5 68.1h.84v.84h-.84zM305.8 70.0h.84v.84h-.84zM303.5 71.9h.84v.84h-.84zM303.0 71.2h.84v.84h-.84zM304.8 71.1h.84v.84h-.84zM305.8 70.7h.84v.84h-.84zM306.4 70.4h.84v.84h-.84zM305.7 68.6h.84v.84h-.84zM303.8 71.4h.84v.84h-.84zM303.5 71.3h.84v.84h-.84zM306.4 71.3h.84v.84h-.84zM304.4 71.9h.84v.84h-.84zM303.8 71.3h.84v.84h-.84zM303.2 70.4h.84v.84h-.84zM305.8 70.6h.84v.84h-.84zM305.7 71.6h.84v.84h-.84zM305.5 70.4h.84v.84h-.84zM305.7 68.1h.84v.84h-.84zM306.6 68.6h.84v.84h-.84zM304.2 71.5h.84v.84h-.84zM304.8 69.7h.84v.84h-.84zM306.6 69.6h.84v.84h-.84zM305.1 70.5h.84v.84h-.84zM306.1 71.3h.84v.84h-.84zM304.4 70.2h.84v.84h-.84zM305.3 68.2h.84v.84h-.84zM305.2 69.9h.84v.84h-.84zM305.9 70.5h.84v.84h-.84zM306.8 69.8h.84v.84h-.84zM303.7 71.5h.84v.84h-.84zM305.5 68.5h.84v.84h-.84zM305.7 70.0h.84v.84h-.84zM306.0 70.7h.84v.84h-.84zM306.5 69.6h.84v.84h-.84zM305.0 72.6h.84v.84h-.84zM304.1 70.0h.84v.84h-.84zM305.3 70.2h.84v.84h-.84zM305.5 69.0h.84v.84h-.84zM306.3 68.9h.84v.84h-.84zM306.6 69.9h.84v.84h-.84zM305.3 69.5h.84v.84h-.84zM304.4 69.7h.84v.84h-.84zM303.2 70.8h.84v.84h-.84zM304.9 68.3h.84v.84h-.84zM303.7 68.2h.84v.84h-.84zM305.9 69.9h.84v.84h-.84zM305.8 70.9h.84v.84h-.84zM305.9 70.4h.84v.84h-.84zM304.2 70.5h.84v.84h-.84zM305.2 70.6h.84v.84h-.84zM303.6 68.9h.84v.84h-.84zM303.0 69.5h.84v.84h-.84zM305.6 69.7h.84v.84h-.84zM303.8 72.1h.84v.84h-.84zM304.7 70.9h.84v.84h-.84zM305.8 69.0h.84v.84h-.84zM305.4 70.1h.84v.84h-.84zM302.9 70.9h.84v.84h-.84zM306.0 68.4h.84v.84h-.84zM305.2 69.9h.84v.84h-.84zM303.2 69.4h.84v.84h-.84zM305.5 71.2h.84v.84h-.84zM306.1 71.9h.84v.84h-.84zM305.0 69.5h.84v.84h-.84zM305.0 70.1h.84v.84h-.84zM306.7 69.8h.84v.84h-.84zM304.6 71.0h.84v.84h-.84zM306.6 70.6h.84v.84h-.84zM306.9 70.1h.84v.84h-.84zM305.4 72.0h.84v.84h-.84zM305.6 70.4h.84v.84h-.84zM303.9 71.2h.84v.84h-.84zM306.0 72.3h.84v.84h-.84zM305.8 71.5h.84v.84h-.84zM304.3 70.9h.84v.84h-.84zM305.2 71.0h.84v.84h-.84zM305.2 70.6h.84v.84h-.84zM304.5 70.2h.84v.84h-.84zM305.5 69.7h.84v.84h-.84zM306.5 70.2h.84v.84h-.84zM303.1 70.5h.84v.84h-.84zM306.9 70.5h.84v.84h-.84zM303.9 71.1h.84v.84h-.84z"/>
<rect x="257" y="40.2" width="57.4" height="18.1" stroke="#707070" stroke-width="0.75" fill="none"/>
<rect x="257" y="58.3" width="40.5" height="21.4" stroke="#707070" stroke-width="0.75" fill="none"/>
<rect x="297.5" y="58.3" width="16.9" height="21.4" stroke="#707070" stroke-width="0.75" fill="none"/>
<text x="258" y="45.3" font-size="3.95" font-weight="normal" text-anchor="start" fill="#333">CD16+ MDC cells</text>
<text x="258" y="63.4" font-size="3.95" font-weight="normal" text-anchor="start" fill="#333">CD16-CD14- cells</text>
<text x="296.8" y="78.2" font-size="3.95" font-weight="normal" text-anchor="end" fill="#333">Monocytes</text>
<line x1="244.5" y1="30.6" x2="244.5" y2="80" stroke="#000" stroke-width="1.15"/>
<path d="M242.3,32.300000000000004 L244.5,27.6 L246.7,32.300000000000004 Z" fill="#000"/>
<text x="240.4" y="77.0" font-size="8.7" font-weight="bold" text-anchor="start" fill="#000" transform="rotate(-90 240.4 77.0)">CD16</text>
<line x1="257" y1="91.5" x2="327.8" y2="91.5" stroke="#000" stroke-width="1.15"/>
<path d="M326.1,89.3 L330.8,91.5 L326.1,93.7 Z" fill="#000"/>
<text x="255.6" y="103.1" font-size="8.7" font-weight="bold" text-anchor="start" fill="#000">CD14</text>
<rect x="35.8" y="110.8" width="67.3" height="68.00000000000001" stroke="#8a8a8a" stroke-width="0.85" fill="none"/>
<text x="34.599999999999994" y="111.7" font-size="2.7" font-weight="normal" text-anchor="end" fill="#555">10<tspan dy="-1" font-size="1.8">3</tspan></text>
<line x1="34.8" y1="110.8" x2="35.8" y2="110.8" stroke="#888" stroke-width="0.4"/>
<text x="34.599999999999994" y="125.60000000000001" font-size="2.7" font-weight="normal" text-anchor="end" fill="#555">10<tspan dy="-1" font-size="1.8">3</tspan></text>
<line x1="34.8" y1="124.7" x2="35.8" y2="124.7" stroke="#888" stroke-width="0.4"/>
<text x="34.599999999999994" y="139.4" font-size="2.7" font-weight="normal" text-anchor="end" fill="#555">10<tspan dy="-1" font-size="1.8">3</tspan></text>
<line x1="34.8" y1="138.5" x2="35.8" y2="138.5" stroke="#888" stroke-width="0.4"/>
<text x="34.599999999999994" y="153.3" font-size="2.7" font-weight="normal" text-anchor="end" fill="#555">10<tspan dy="-1" font-size="1.8">3</tspan></text>
<line x1="34.8" y1="152.4" x2="35.8" y2="152.4" stroke="#888" stroke-width="0.4"/>
<text x="34.599999999999994" y="166.5" font-size="2.7" font-weight="normal" text-anchor="end" fill="#555">10<tspan dy="-1" font-size="1.8">3</tspan></text>
<line x1="34.8" y1="165.6" x2="35.8" y2="165.6" stroke="#888" stroke-width="0.4"/>
<text x="52.300000000000004" y="183.50000000000003" font-size="2.7" font-weight="normal" text-anchor="middle" fill="#555">10<tspan dy="-1" font-size="1.8">3</tspan></text>
<line x1="51.1" y1="178.8" x2="51.1" y2="179.8" stroke="#888" stroke-width="0.4"/>
<text x="69.0" y="183.50000000000003" font-size="2.7" font-weight="normal" text-anchor="middle" fill="#555">10<tspan dy="-1" font-size="1.8">3</tspan></text>
<line x1="67.8" y1="178.8" x2="67.8" y2="179.8" stroke="#888" stroke-width="0.4"/>
<text x="87.0" y="183.50000000000003" font-size="2.7" font-weight="normal" text-anchor="middle" fill="#555">10<tspan dy="-1" font-size="1.8">3</tspan></text>
<line x1="85.8" y1="178.8" x2="85.8" y2="179.8" stroke="#888" stroke-width="0.4"/>
<text x="104.3" y="183.50000000000003" font-size="2.7" font-weight="normal" text-anchor="middle" fill="#555">10<tspan dy="-1" font-size="1.8">3</tspan></text>
<line x1="103.1" y1="178.8" x2="103.1" y2="179.8" stroke="#888" stroke-width="0.4"/>
<path fill="#8a70a0" fill-opacity="0.45" d="M43.0 144.0h.76v.76h-.76zM36.8 148.8h.76v.76h-.76zM41.0 147.2h.76v.76h-.76zM40.8 146.8h.76v.76h-.76zM41.9 146.0h.76v.76h-.76zM46.1 150.4h.76v.76h-.76zM38.6 144.7h.76v.76h-.76zM44.3 145.3h.76v.76h-.76zM42.4 148.2h.76v.76h-.76zM42.7 143.6h.76v.76h-.76zM46.3 146.6h.76v.76h-.76zM44.6 146.6h.76v.76h-.76zM39.7 149.1h.76v.76h-.76zM37.7 146.4h.76v.76h-.76zM43.9 144.7h.76v.76h-.76zM44.6 147.5h.76v.76h-.76zM40.5 147.8h.76v.76h-.76zM43.1 147.8h.76v.76h-.76zM39.5 144.6h.76v.76h-.76zM40.8 144.9h.76v.76h-.76zM41.1 147.6h.76v.76h-.76zM44.2 144.3h.76v.76h-.76zM41.9 147.4h.76v.76h-.76zM39.5 145.3h.76v.76h-.76zM40.9 143.8h.76v.76h-.76zM38.5 144.3h.76v.76h-.76zM45.4 145.2h.76v.76h-.76zM44.3 144.8h.76v.76h-.76zM36.6 144.8h.76v.76h-.76zM46.2 146.4h.76v.76h-.76zM40.6 146.9h.76v.76h-.76zM42.6 144.9h.76v.76h-.76zM40.2 146.9h.76v.76h-.76zM40.9 142.3h.76v.76h-.76zM43.9 143.0h.76v.76h-.76zM41.5 148.7h.76v.76h-.76zM44.0 145.4h.76v.76h-.76zM36.3 147.5h.76v.76h-.76zM41.8 145.8h.76v.76h-.76zM37.0 149.5h.76v.76h-.76zM39.2 147.0h.76v.76h-.76zM42.7 150.4h.76v.76h-.76zM49.4 147.4h.76v.76h-.76zM41.6 149.0h.76v.76h-.76zM46.3 142.0h.76v.76h-.76zM42.9 144.5h.76v.76h-.76zM48.0 150.2h.76v.76h-.76zM39.4 145.3h.76v.76h-.76zM39.2 147.6h.76v.76h-.76zM46.5 142.4h.76v.76h-.76zM36.2 147.8h.76v.76h-.76zM43.7 144.1h.76v.76h-.76zM44.4 149.1h.76v.76h-.76zM49.0 147.6h.76v.76h-.76zM40.2 148.3h.76v.76h-.76zM44.9 144.9h.76v.76h-.76zM48.9 149.8h.76v.76h-.76zM51.9 146.5h.76v.76h-.76zM41.4 145.7h.76v.76h-.76zM43.2 144.1h.76v.76h-.76zM37.1 150.7h.76v.76h-.76zM45.9 147.4h.76v.76h-.76zM47.0 144.8h.76v.76h-.76zM41.5 145.8h.76v.76h-.76zM48.6 146.0h.76v.76h-.76zM43.9 145.2h.76v.76h-.76zM44.7 147.7h.76v.76h-.76zM42.9 145.3h.76v.76h-.76zM50.6 143.9h.76v.76h-.76zM39.8 148.1h.76v.76h-.76zM38.7 143.8h.76v.76h-.76zM44.7 148.6h.76v.76h-.76zM52.2 151.1h.76v.76h-.76zM44.8 151.1h.76v.76h-.76zM37.8 145.8h.76v.76h-.76zM36.6 149.8h.76v.76h-.76zM40.4 146.8h.76v.76h-.76zM41.2 146.8h.76v.76h-.76zM41.5 148.0h.76v.76h-.76zM47.1 145.3h.76v.76h-.76zM42.6 145.6h.76v.76h-.76zM39.5 150.3h.76v.76h-.76zM45.3 148.9h.76v.76h-.76zM38.0 145.9h.76v.76h-.76zM51.3 142.9h.76v.76h-.76zM41.5 148.4h.76v.76h-.76zM46.2 145.8h.76v.76h-.76zM44.2 146.0h.76v.76h-.76zM41.1 149.7h.76v.76h-.76zM43.2 145.8h.76v.76h-.76zM42.9 146.7h.76v.76h-.76zM44.7 149.0h.76v.76h-.76zM42.8 147.4h.76v.76h-.76zM41.6 144.8h.76v.76h-.76zM50.8 145.2h.76v.76h-.76zM50.1 142.5h.76v.76h-.76zM50.0 143.4h.76v.76h-.76zM42.6 146.5h.76v.76h-.76zM42.9 146.2h.76v.76h-.76zM39.9 148.3h.76v.76h-.76zM41.6 143.6h.76v.76h-.76zM46.3 147.5h.76v.76h-.76zM40.1 143.0h.76v.76h-.76zM47.0 146.6h.76v.76h-.76zM42.1 144.5h.76v.76h-.76zM38.1 149.8h.76v.76h-.76zM44.5 144.3h.76v.76h-.76zM45.3 147.0h.76v.76h-.76zM43.5 141.8h.76v.76h-.76zM45.0 148.0h.76v.76h-.76zM38.3 147.6h.76v.76h-.76zM41.9 146.8h.76v.76h-.76zM38.6 148.2h.76v.76h-.76zM42.9 146.0h.76v.76h-.76zM44.1 143.6h.76v.76h-.76zM44.7 150.6h.76v.76h-.76zM45.5 146.2h.76v.76h-.76zM39.1 146.8h.76v.76h-.76zM42.6 145.5h.76v.76h-.76zM40.7 146.0h.76v.76h-.76zM45.5 146.4h.76v.76h-.76zM44.3 146.9h.76v.76h-.76zM45.8 145.9h.76v.76h-.76z"/>
<g filter="url(#b8)"><ellipse cx="43" cy="146" rx="4" ry="2.4" fill="#a080c0" fill-opacity="0.3" transform="rotate(0 43 146)"/></g>
<path fill="#999" fill-opacity="0.35" d="M42.9 166.9h.63v.63h-.63zM44.8 168.2h.63v.63h-.63zM37.9 164.9h.63v.63h-.63zM40.5 165.1h.63v.63h-.63zM44.0 165.5h.63v.63h-.63zM39.6 166.2h.63v.63h-.63zM46.3 164.9h.63v.63h-.63zM43.3 168.2h.63v.63h-.63zM46.1 163.4h.63v.63h-.63zM46.9 165.6h.63v.63h-.63zM39.6 163.0h.63v.63h-.63zM36.6 162.5h.63v.63h-.63zM42.9 166.8h.63v.63h-.63zM42.7 163.5h.63v.63h-.63zM41.9 163.0h.63v.63h-.63zM41.4 168.8h.63v.63h-.63zM43.2 161.8h.63v.63h-.63zM42.6 162.8h.63v.63h-.63zM39.2 162.4h.63v.63h-.63zM49.0 162.3h.63v.63h-.63zM40.1 164.1h.63v.63h-.63zM46.6 169.8h.63v.63h-.63zM44.9 165.6h.63v.63h-.63zM41.7 164.1h.63v.63h-.63zM47.6 162.8h.63v.63h-.63zM45.1 162.2h.63v.63h-.63zM42.5 164.1h.63v.63h-.63zM45.9 160.0h.63v.63h-.63zM37.6 164.5h.63v.63h-.63zM43.3 166.4h.63v.63h-.63zM37.9 166.9h.63v.63h-.63zM44.8 164.0h.63v.63h-.63zM47.6 163.1h.63v.63h-.63zM46.6 167.8h.63v.63h-.63zM42.4 165.0h.63v.63h-.63zM41.3 165.0h.63v.63h-.63zM44.5 163.4h.63v.63h-.63zM42.8 165.4h.63v.63h-.63zM38.5 164.7h.63v.63h-.63zM43.4 168.3h.63v.63h-.63zM44.5 163.7h.63v.63h-.63zM42.5 166.0h.63v.63h-.63zM39.4 165.7h.63v.63h-.63zM40.0 166.9h.63v.63h-.63zM46.5 162.6h.63v.63h-.63zM45.6 166.4h.63v.63h-.63zM38.7 163.7h.63v.63h-.63zM42.6 166.8h.63v.63h-.63zM40.5 167.3h.63v.63h-.63zM46.5 164.2h.63v.63h-.63z"/>
<path fill="#8a8a8a" fill-opacity="0.4" d="M75.3 146.5h.68v.68h-.68zM78.4 147.1h.68v.68h-.68zM70.2 144.8h.68v.68h-.68zM69.9 148.5h.68v.68h-.68zM80.5 145.7h.68v.68h-.68zM79.4 143.7h.68v.68h-.68zM76.5 147.1h.68v.68h-.68zM69.5 146.1h.68v.68h-.68zM71.4 148.1h.68v.68h-.68zM76.0 145.2h.68v.68h-.68zM71.9 148.1h.68v.68h-.68zM77.1 144.8h.68v.68h-.68zM74.0 144.3h.68v.68h-.68zM81.6 145.0h.68v.68h-.68zM84.2 145.2h.68v.68h-.68zM72.4 145.4h.68v.68h-.68zM75.9 147.6h.68v.68h-.68zM87.2 149.9h.68v.68h-.68zM79.4 143.0h.68v.68h-.68zM83.3 149.9h.68v.68h-.68zM70.0 145.5h.68v.68h-.68zM78.3 150.6h.68v.68h-.68zM80.8 146.4h.68v.68h-.68zM66.4 148.2h.68v.68h-.68zM71.0 144.8h.68v.68h-.68zM70.2 147.2h.68v.68h-.68zM85.2 146.5h.68v.68h-.68zM80.5 144.5h.68v.68h-.68zM71.1 146.7h.68v.68h-.68zM68.9 144.1h.68v.68h-.68zM76.9 143.8h.68v.68h-.68zM78.6 150.9h.68v.68h-.68zM80.3 149.0h.68v.68h-.68zM72.9 145.5h.68v.68h-.68zM76.3 147.1h.68v.68h-.68zM71.4 144.5h.68v.68h-.68zM81.0 147.4h.68v.68h-.68zM84.3 149.5h.68v.68h-.68zM78.3 144.6h.68v.68h-.68zM73.5 144.0h.68v.68h-.68zM80.4 148.2h.68v.68h-.68zM83.0 144.9h.68v.68h-.68zM82.1 144.8h.68v.68h-.68zM76.6 144.8h.68v.68h-.68zM78.5 146.4h.68v.68h-.68zM76.8 141.2h.68v.68h-.68zM78.4 148.0h.68v.68h-.68zM80.7 143.3h.68v.68h-.68zM67.4 148.8h.68v.68h-.68zM76.5 145.1h.68v.68h-.68zM71.7 144.4h.68v.68h-.68zM71.4 144.4h.68v.68h-.68zM78.4 142.2h.68v.68h-.68zM84.0 148.7h.68v.68h-.68zM68.6 146.4h.68v.68h-.68zM77.2 147.9h.68v.68h-.68zM62.4 148.7h.68v.68h-.68zM83.0 144.7h.68v.68h-.68zM74.5 148.0h.68v.68h-.68zM77.9 149.8h.68v.68h-.68zM71.0 143.2h.68v.68h-.68zM75.5 146.1h.68v.68h-.68zM74.1 147.3h.68v.68h-.68zM73.3 147.1h.68v.68h-.68zM71.2 149.5h.68v.68h-.68zM80.2 146.3h.68v.68h-.68zM72.7 145.2h.68v.68h-.68zM72.2 142.8h.68v.68h-.68zM71.9 148.5h.68v.68h-.68zM74.8 148.1h.68v.68h-.68zM77.1 144.9h.68v.68h-.68zM71.2 145.2h.68v.68h-.68zM76.5 144.3h.68v.68h-.68zM73.2 143.5h.68v.68h-.68zM82.6 142.6h.68v.68h-.68zM78.5 143.3h.68v.68h-.68zM74.6 149.9h.68v.68h-.68zM72.9 146.9h.68v.68h-.68zM71.3 149.8h.68v.68h-.68zM82.1 149.2h.68v.68h-.68zM72.9 142.5h.68v.68h-.68zM70.7 142.6h.68v.68h-.68zM81.5 146.5h.68v.68h-.68zM75.3 144.1h.68v.68h-.68zM78.2 145.3h.68v.68h-.68zM73.9 146.4h.68v.68h-.68zM71.5 142.7h.68v.68h-.68zM81.0 149.8h.68v.68h-.68zM67.5 147.1h.68v.68h-.68zM69.4 144.6h.68v.68h-.68zM74.5 147.9h.68v.68h-.68zM68.5 149.1h.68v.68h-.68zM76.2 149.5h.68v.68h-.68zM72.4 141.1h.68v.68h-.68zM79.7 143.5h.68v.68h-.68zM87.4 146.7h.68v.68h-.68zM80.9 143.5h.68v.68h-.68zM75.6 146.3h.68v.68h-.68zM67.9 142.8h.68v.68h-.68zM77.0 147.0h.68v.68h-.68zM74.0 150.3h.68v.68h-.68zM82.7 141.6h.68v.68h-.68zM73.4 143.3h.68v.68h-.68zM71.2 144.8h.68v.68h-.68zM67.3 146.6h.68v.68h-.68zM81.9 148.9h.68v.68h-.68zM68.5 146.5h.68v.68h-.68zM78.5 144.9h.68v.68h-.68zM84.1 147.4h.68v.68h-.68zM82.1 146.1h.68v.68h-.68zM79.1 147.6h.68v.68h-.68zM71.6 142.1h.68v.68h-.68zM76.4 143.6h.68v.68h-.68zM80.5 143.5h.68v.68h-.68zM78.4 143.0h.68v.68h-.68zM85.2 146.4h.68v.68h-.68zM70.7 145.9h.68v.68h-.68zM76.7 140.4h.68v.68h-.68zM71.0 146.6h.68v.68h-.68zM72.3 145.0h.68v.68h-.68zM82.8 148.6h.68v.68h-.68zM76.9 146.8h.68v.68h-.68zM83.5 146.7h.68v.68h-.68zM69.3 146.3h.68v.68h-.68zM70.5 144.1h.68v.68h-.68zM76.4 145.7h.68v.68h-.68zM75.7 147.6h.68v.68h-.68zM75.0 146.4h.68v.68h-.68zM79.5 144.8h.68v.68h-.68zM75.0 145.2h.68v.68h-.68zM70.9 144.0h.68v.68h-.68zM78.2 146.1h.68v.68h-.68zM69.5 147.4h.68v.68h-.68zM79.5 147.9h.68v.68h-.68zM81.8 146.1h.68v.68h-.68zM78.8 145.4h.68v.68h-.68zM71.5 145.7h.68v.68h-.68zM78.2 146.4h.68v.68h-.68zM73.3 144.3h.68v.68h-.68zM73.3 145.0h.68v.68h-.68zM74.8 147.0h.68v.68h-.68zM75.6 141.0h.68v.68h-.68zM79.5 144.8h.68v.68h-.68zM85.0 149.9h.68v.68h-.68zM80.7 145.4h.68v.68h-.68zM75.8 142.7h.68v.68h-.68zM82.7 144.8h.68v.68h-.68zM80.7 146.7h.68v.68h-.68zM84.8 146.3h.68v.68h-.68zM76.3 144.8h.68v.68h-.68zM68.6 146.8h.68v.68h-.68zM72.9 148.1h.68v.68h-.68zM81.7 146.5h.68v.68h-.68zM86.6 146.7h.68v.68h-.68zM80.0 144.3h.68v.68h-.68zM79.3 145.7h.68v.68h-.68zM82.8 145.8h.68v.68h-.68zM66.2 147.9h.68v.68h-.68zM81.4 143.2h.68v.68h-.68zM76.1 146.8h.68v.68h-.68z"/>
<path fill="#aaa" fill-opacity="0.3" d="M80.9 152.3h.54v.54h-.54zM58.2 155.8h.54v.54h-.54zM62.7 155.0h.54v.54h-.54zM72.4 148.8h.54v.54h-.54zM75.2 152.0h.54v.54h-.54zM61.9 154.5h.54v.54h-.54zM80.8 161.1h.54v.54h-.54zM61.9 162.7h.54v.54h-.54zM72.1 160.2h.54v.54h-.54zM77.4 162.8h.54v.54h-.54zM62.9 167.9h.54v.54h-.54zM95.2 169.4h.54v.54h-.54zM73.6 173.2h.54v.54h-.54zM58.8 145.9h.54v.54h-.54zM57.4 154.4h.54v.54h-.54zM60.8 158.7h.54v.54h-.54zM74.0 157.3h.54v.54h-.54zM76.3 151.9h.54v.54h-.54zM73.4 155.0h.54v.54h-.54zM64.9 154.7h.54v.54h-.54zM79.9 177.1h.54v.54h-.54zM75.8 155.2h.54v.54h-.54zM56.9 154.7h.54v.54h-.54zM62.6 156.3h.54v.54h-.54zM65.3 165.9h.54v.54h-.54zM64.8 149.1h.54v.54h-.54zM74.3 156.3h.54v.54h-.54zM75.5 163.8h.54v.54h-.54zM80.5 157.8h.54v.54h-.54zM76.7 155.2h.54v.54h-.54zM72.2 166.5h.54v.54h-.54zM93.7 163.1h.54v.54h-.54zM62.8 155.4h.54v.54h-.54zM86.8 153.7h.54v.54h-.54zM63.3 158.5h.54v.54h-.54zM76.9 154.4h.54v.54h-.54zM77.7 162.7h.54v.54h-.54zM89.0 154.4h.54v.54h-.54zM89.5 156.3h.54v.54h-.54zM69.9 170.0h.54v.54h-.54zM62.5 150.7h.54v.54h-.54zM79.3 157.2h.54v.54h-.54zM59.9 166.0h.54v.54h-.54zM68.5 153.5h.54v.54h-.54zM71.0 148.8h.54v.54h-.54zM85.2 151.8h.54v.54h-.54zM66.1 159.7h.54v.54h-.54zM72.8 161.5h.54v.54h-.54zM67.4 156.3h.54v.54h-.54zM60.2 142.1h.54v.54h-.54zM74.6 166.4h.54v.54h-.54zM62.3 156.9h.54v.54h-.54zM71.9 158.6h.54v.54h-.54zM78.5 151.2h.54v.54h-.54zM70.9 150.3h.54v.54h-.54zM88.8 169.5h.54v.54h-.54zM66.2 158.4h.54v.54h-.54zM67.5 163.5h.54v.54h-.54zM77.5 163.3h.54v.54h-.54zM80.3 162.4h.54v.54h-.54zM57.2 164.6h.54v.54h-.54zM61.3 151.3h.54v.54h-.54zM74.5 158.0h.54v.54h-.54zM69.6 163.2h.54v.54h-.54zM60.7 159.1h.54v.54h-.54zM85.2 152.2h.54v.54h-.54zM64.1 156.6h.54v.54h-.54zM74.2 147.1h.54v.54h-.54zM78.6 154.9h.54v.54h-.54zM89.1 169.3h.54v.54h-.54zM65.0 154.7h.54v.54h-.54zM63.3 154.0h.54v.54h-.54zM82.9 175.1h.54v.54h-.54zM71.4 161.4h.54v.54h-.54zM75.5 149.6h.54v.54h-.54zM80.6 157.0h.54v.54h-.54zM78.1 158.0h.54v.54h-.54zM66.4 155.0h.54v.54h-.54zM86.5 169.3h.54v.54h-.54zM79.3 155.2h.54v.54h-.54zM71.6 161.5h.54v.54h-.54zM61.1 156.7h.54v.54h-.54zM72.6 152.2h.54v.54h-.54zM65.8 150.8h.54v.54h-.54zM60.5 155.6h.54v.54h-.54zM74.8 164.1h.54v.54h-.54zM59.6 160.6h.54v.54h-.54zM90.0 142.3h.54v.54h-.54zM67.5 147.9h.54v.54h-.54zM86.7 163.5h.54v.54h-.54zM76.4 162.4h.54v.54h-.54zM65.6 158.4h.54v.54h-.54zM101.4 171.3h.54v.54h-.54z"/>
<g filter="url(#b8)"><ellipse cx="70.7" cy="166.6" rx="13" ry="5.4" fill="#c090d0" fill-opacity="0.35" transform="rotate(0 70.7 166.6)"/><ellipse cx="70.7" cy="166.6" rx="11" ry="4.4" fill="#8a68c8" fill-opacity="0.45" transform="rotate(0 70.7 166.6)"/><ellipse cx="70.7" cy="166.6" rx="8" ry="2.9" fill="#4a80d8" fill-opacity="0.6" transform="rotate(0 70.7 166.6)"/></g>
<path fill="#c888c8" fill-opacity="0.85" d="M78.6 161.0h.84v.84h-.84zM66.4 171.6h.84v.84h-.84zM79.0 161.7h.84v.84h-.84zM85.3 167.9h.84v.84h-.84zM77.6 160.6h.84v.84h-.84zM66.4 172.7h.84v.84h-.84zM77.1 171.1h.84v.84h-.84zM62.0 172.4h.84v.84h-.84zM78.3 171.4h.84v.84h-.84zM66.8 159.3h.84v.84h-.84zM57.5 163.3h.84v.84h-.84zM64.2 159.7h.84v.84h-.84zM81.8 161.7h.84v.84h-.84zM89.0 163.6h.84v.84h-.84zM76.0 160.8h.84v.84h-.84zM59.1 169.9h.84v.84h-.84zM87.0 164.3h.84v.84h-.84zM84.7 163.3h.84v.84h-.84zM56.8 170.1h.84v.84h-.84zM70.1 173.0h.84v.84h-.84zM70.9 172.8h.84v.84h-.84zM56.5 162.6h.84v.84h-.84zM90.6 173.7h.84v.84h-.84zM61.4 171.9h.84v.84h-.84zM84.4 161.9h.84v.84h-.84zM56.9 158.8h.84v.84h-.84zM56.5 169.1h.84v.84h-.84zM83.7 163.6h.84v.84h-.84zM56.1 169.4h.84v.84h-.84zM67.6 173.3h.84v.84h-.84zM83.3 161.2h.84v.84h-.84zM82.4 172.4h.84v.84h-.84zM72.0 158.7h.84v.84h-.84zM89.0 169.4h.84v.84h-.84zM84.2 165.3h.84v.84h-.84zM56.3 161.3h.84v.84h-.84zM58.0 162.0h.84v.84h-.84zM79.4 161.9h.84v.84h-.84zM72.3 160.5h.84v.84h-.84zM84.9 168.1h.84v.84h-.84zM56.8 162.8h.84v.84h-.84zM79.3 160.4h.84v.84h-.84zM80.2 170.6h.84v.84h-.84zM84.5 163.6h.84v.84h-.84zM55.5 166.2h.84v.84h-.84zM58.7 161.8h.84v.84h-.84zM57.9 169.4h.84v.84h-.84zM62.8 170.9h.84v.84h-.84zM73.6 173.1h.84v.84h-.84zM57.9 163.3h.84v.84h-.84zM86.1 164.1h.84v.84h-.84zM56.7 157.7h.84v.84h-.84zM85.2 164.6h.84v.84h-.84zM68.3 159.8h.84v.84h-.84zM81.2 162.3h.84v.84h-.84zM59.6 170.7h.84v.84h-.84zM78.8 170.7h.84v.84h-.84zM62.8 161.4h.84v.84h-.84zM57.0 161.0h.84v.84h-.84zM77.6 157.9h.84v.84h-.84z"/>
<path fill="#a050c0" fill-opacity="0.85" d="M81.0 166.4h.84v.84h-.84zM57.5 166.6h.84v.84h-.84zM76.6 170.3h.84v.84h-.84zM76.9 163.1h.84v.84h-.84zM79.4 168.7h.84v.84h-.84zM60.3 165.2h.84v.84h-.84zM75.0 169.8h.84v.84h-.84zM61.2 167.6h.84v.84h-.84zM77.2 169.8h.84v.84h-.84zM69.0 170.6h.84v.84h-.84zM65.1 162.1h.84v.84h-.84zM81.6 168.0h.84v.84h-.84zM80.3 164.5h.84v.84h-.84zM82.2 163.3h.84v.84h-.84zM64.5 162.7h.84v.84h-.84zM77.8 163.9h.84v.84h-.84zM75.1 169.9h.84v.84h-.84zM72.9 171.0h.84v.84h-.84zM76.0 162.4h.84v.84h-.84zM79.9 162.9h.84v.84h-.84zM76.5 162.3h.84v.84h-.84zM73.9 161.7h.84v.84h-.84zM62.3 169.2h.84v.84h-.84zM80.3 163.3h.84v.84h-.84zM79.1 169.0h.84v.84h-.84zM63.9 170.3h.84v.84h-.84zM74.0 162.1h.84v.84h-.84zM67.7 161.4h.84v.84h-.84zM61.7 164.5h.84v.84h-.84zM72.7 170.0h.84v.84h-.84zM80.4 168.5h.84v.84h-.84zM61.9 162.8h.84v.84h-.84zM68.1 160.7h.84v.84h-.84zM79.1 169.3h.84v.84h-.84zM60.1 165.0h.84v.84h-.84zM59.2 166.7h.84v.84h-.84zM60.7 163.9h.84v.84h-.84zM64.3 169.9h.84v.84h-.84zM62.2 161.9h.84v.84h-.84zM65.4 162.7h.84v.84h-.84zM72.2 161.3h.84v.84h-.84zM82.8 164.8h.84v.84h-.84zM63.5 169.0h.84v.84h-.84zM78.8 168.3h.84v.84h-.84zM83.1 164.2h.84v.84h-.84zM65.3 162.4h.84v.84h-.84zM81.2 163.9h.84v.84h-.84zM78.0 170.6h.84v.84h-.84zM80.3 166.7h.84v.84h-.84zM64.7 170.5h.84v.84h-.84zM82.1 167.5h.84v.84h-.84zM63.9 169.7h.84v.84h-.84zM60.6 164.5h.84v.84h-.84zM61.0 168.9h.84v.84h-.84zM60.6 165.1h.84v.84h-.84zM82.1 166.8h.84v.84h-.84zM69.5 171.4h.84v.84h-.84zM76.7 162.9h.84v.84h-.84zM59.4 169.1h.84v.84h-.84zM61.6 162.9h.84v.84h-.84zM65.0 169.7h.84v.84h-.84zM77.6 168.7h.84v.84h-.84zM82.2 165.3h.84v.84h-.84zM78.2 163.6h.84v.84h-.84zM63.2 162.7h.84v.84h-.84zM71.8 161.9h.84v.84h-.84zM78.8 163.4h.84v.84h-.84zM71.4 171.5h.84v.84h-.84zM83.1 168.3h.84v.84h-.84zM57.7 167.6h.84v.84h-.84zM64.6 162.2h.84v.84h-.84zM77.8 169.9h.84v.84h-.84zM79.6 167.1h.84v.84h-.84zM75.5 162.2h.84v.84h-.84zM63.8 162.4h.84v.84h-.84zM73.4 170.4h.84v.84h-.84zM67.0 170.5h.84v.84h-.84zM81.9 167.8h.84v.84h-.84zM66.5 170.1h.84v.84h-.84zM80.0 164.0h.84v.84h-.84zM76.4 169.7h.84v.84h-.84zM79.4 163.8h.84v.84h-.84zM60.9 167.5h.84v.84h-.84zM80.3 165.2h.84v.84h-.84zM66.3 162.8h.84v.84h-.84zM72.4 171.6h.84v.84h-.84zM76.8 169.1h.84v.84h-.84zM72.4 171.0h.84v.84h-.84zM60.0 165.4h.84v.84h-.84zM62.8 169.9h.84v.84h-.84zM60.4 165.6h.84v.84h-.84zM81.0 164.3h.84v.84h-.84zM60.4 168.4h.84v.84h-.84zM84.0 166.5h.84v.84h-.84zM62.1 168.7h.84v.84h-.84zM56.5 166.1h.84v.84h-.84zM61.2 162.7h.84v.84h-.84zM63.3 169.2h.84v.84h-.84zM81.5 165.1h.84v.84h-.84zM72.3 171.2h.84v.84h-.84zM61.5 163.9h.84v.84h-.84zM69.8 161.1h.84v.84h-.84zM77.1 161.7h.84v.84h-.84zM61.4 164.6h.84v.84h-.84zM68.1 170.7h.84v.84h-.84zM63.7 170.2h.84v.84h-.84zM62.5 163.8h.84v.84h-.84zM72.6 170.5h.84v.84h-.84zM80.6 167.1h.84v.84h-.84zM79.4 163.7h.84v.84h-.84zM72.5 162.4h.84v.84h-.84zM65.7 170.0h.84v.84h-.84zM66.5 169.9h.84v.84h-.84zM59.5 169.0h.84v.84h-.84zM82.1 163.9h.84v.84h-.84zM61.5 164.6h.84v.84h-.84zM81.1 168.8h.84v.84h-.84zM61.5 164.2h.84v.84h-.84zM62.7 162.6h.84v.84h-.84zM79.6 170.3h.84v.84h-.84zM79.6 164.9h.84v.84h-.84zM75.4 169.5h.84v.84h-.84zM74.8 171.3h.84v.84h-.84zM59.8 165.5h.84v.84h-.84zM79.1 164.6h.84v.84h-.84zM78.0 162.9h.84v.84h-.84zM70.0 160.7h.84v.84h-.84zM62.4 169.4h.84v.84h-.84zM64.2 162.2h.84v.84h-.84zM79.9 163.2h.84v.84h-.84zM64.8 170.5h.84v.84h-.84zM63.2 162.9h.84v.84h-.84zM69.3 170.5h.84v.84h-.84zM59.0 163.9h.84v.84h-.84zM62.0 164.0h.84v.84h-.84zM68.4 162.0h.84v.84h-.84zM79.7 168.6h.84v.84h-.84zM79.5 169.9h.84v.84h-.84zM73.0 161.6h.84v.84h-.84zM79.4 168.1h.84v.84h-.84zM62.0 162.6h.84v.84h-.84zM77.1 169.5h.84v.84h-.84zM78.5 162.4h.84v.84h-.84zM58.0 164.3h.84v.84h-.84zM82.0 164.8h.84v.84h-.84zM59.4 168.5h.84v.84h-.84zM66.2 170.0h.84v.84h-.84zM61.2 167.7h.84v.84h-.84zM57.1 165.3h.84v.84h-.84zM80.0 162.6h.84v.84h-.84zM68.0 162.2h.84v.84h-.84zM69.9 161.8h.84v.84h-.84zM57.4 166.1h.84v.84h-.84zM78.4 163.4h.84v.84h-.84zM67.9 162.4h.84v.84h-.84zM80.2 166.8h.84v.84h-.84zM71.3 162.2h.84v.84h-.84zM66.7 169.8h.84v.84h-.84zM79.5 164.7h.84v.84h-.84zM72.7 170.1h.84v.84h-.84zM72.3 170.2h.84v.84h-.84zM62.8 170.7h.84v.84h-.84zM63.4 169.1h.84v.84h-.84zM75.4 170.2h.84v.84h-.84zM81.2 163.8h.84v.84h-.84zM82.7 166.2h.84v.84h-.84zM61.1 167.6h.84v.84h-.84zM80.6 165.8h.84v.84h-.84zM75.5 170.2h.84v.84h-.84zM74.6 161.2h.84v.84h-.84zM68.5 170.3h.84v.84h-.84zM73.6 162.0h.84v.84h-.84zM78.0 168.6h.84v.84h-.84zM75.9 170.2h.84v.84h-.84zM79.5 167.7h.84v.84h-.84zM70.2 171.6h.84v.84h-.84zM78.5 169.7h.84v.84h-.84zM77.6 162.5h.84v.84h-.84zM75.2 162.4h.84v.84h-.84zM60.5 170.0h.84v.84h-.84zM72.0 171.4h.84v.84h-.84zM75.1 162.9h.84v.84h-.84zM79.7 164.8h.84v.84h-.84zM78.5 169.3h.84v.84h-.84zM68.2 162.1h.84v.84h-.84zM63.6 169.0h.84v.84h-.84zM75.1 170.2h.84v.84h-.84zM73.1 169.9h.84v.84h-.84zM68.5 170.0h.84v.84h-.84zM74.1 170.9h.84v.84h-.84z"/>
<path fill="#6a60d0" fill-opacity="0.85" d="M75.8 168.4h.84v.84h-.84zM63.2 165.4h.84v.84h-.84zM71.4 163.1h.84v.84h-.84zM67.5 169.7h.84v.84h-.84zM64.9 163.7h.84v.84h-.84zM76.5 165.2h.84v.84h-.84zM70.8 169.1h.84v.84h-.84zM74.5 169.2h.84v.84h-.84zM64.1 167.6h.84v.84h-.84zM78.4 164.8h.84v.84h-.84zM70.6 163.1h.84v.84h-.84zM67.7 163.5h.84v.84h-.84zM77.4 166.3h.84v.84h-.84zM62.5 168.2h.84v.84h-.84zM76.7 166.3h.84v.84h-.84zM77.0 164.6h.84v.84h-.84zM67.7 163.2h.84v.84h-.84zM70.4 162.7h.84v.84h-.84zM77.1 168.4h.84v.84h-.84zM70.0 168.8h.84v.84h-.84zM65.1 168.6h.84v.84h-.84zM76.9 165.0h.84v.84h-.84zM65.6 168.1h.84v.84h-.84zM62.7 166.0h.84v.84h-.84zM71.2 163.5h.84v.84h-.84zM75.0 164.2h.84v.84h-.84zM65.0 164.6h.84v.84h-.84zM63.4 164.0h.84v.84h-.84zM62.5 165.9h.84v.84h-.84zM62.4 168.1h.84v.84h-.84zM78.6 164.8h.84v.84h-.84zM61.7 166.7h.84v.84h-.84zM62.6 167.4h.84v.84h-.84zM77.2 168.1h.84v.84h-.84zM76.9 164.3h.84v.84h-.84zM65.9 163.4h.84v.84h-.84zM63.7 164.5h.84v.84h-.84zM66.8 168.4h.84v.84h-.84zM63.2 165.6h.84v.84h-.84zM67.0 163.9h.84v.84h-.84zM62.7 165.8h.84v.84h-.84zM77.9 165.3h.84v.84h-.84zM64.1 163.6h.84v.84h-.84zM74.1 164.0h.84v.84h-.84zM63.7 166.7h.84v.84h-.84zM77.9 167.9h.84v.84h-.84zM79.0 166.1h.84v.84h-.84zM76.2 168.0h.84v.84h-.84zM70.0 169.8h.84v.84h-.84zM77.6 166.5h.84v.84h-.84zM66.1 168.4h.84v.84h-.84zM67.5 162.7h.84v.84h-.84zM62.7 168.0h.84v.84h-.84zM74.8 164.2h.84v.84h-.84zM72.6 168.6h.84v.84h-.84zM79.0 165.9h.84v.84h-.84zM72.6 163.3h.84v.84h-.84zM69.5 162.7h.84v.84h-.84zM67.1 168.5h.84v.84h-.84zM74.9 168.4h.84v.84h-.84zM68.1 163.2h.84v.84h-.84zM70.6 162.8h.84v.84h-.84zM61.3 167.0h.84v.84h-.84zM65.3 168.1h.84v.84h-.84zM69.6 169.7h.84v.84h-.84zM76.1 167.4h.84v.84h-.84zM76.6 163.7h.84v.84h-.84zM63.4 167.7h.84v.84h-.84zM68.1 163.2h.84v.84h-.84zM75.8 164.4h.84v.84h-.84zM73.3 168.5h.84v.84h-.84zM76.4 167.6h.84v.84h-.84zM76.7 167.6h.84v.84h-.84zM76.0 168.1h.84v.84h-.84zM63.8 165.9h.84v.84h-.84zM74.2 163.9h.84v.84h-.84zM68.2 169.1h.84v.84h-.84zM63.7 166.0h.84v.84h-.84zM69.7 168.9h.84v.84h-.84zM62.0 167.6h.84v.84h-.84zM79.0 166.1h.84v.84h-.84zM67.5 168.7h.84v.84h-.84zM63.0 167.7h.84v.84h-.84zM65.6 168.1h.84v.84h-.84zM70.2 168.9h.84v.84h-.84zM76.8 166.5h.84v.84h-.84zM66.2 168.8h.84v.84h-.84zM71.7 169.1h.84v.84h-.84zM65.7 163.8h.84v.84h-.84zM61.5 165.5h.84v.84h-.84zM67.5 162.9h.84v.84h-.84zM74.6 168.2h.84v.84h-.84zM67.1 163.4h.84v.84h-.84zM63.0 164.6h.84v.84h-.84zM61.8 167.5h.84v.84h-.84zM71.1 169.7h.84v.84h-.84zM70.2 162.5h.84v.84h-.84zM76.2 163.8h.84v.84h-.84zM73.9 168.6h.84v.84h-.84zM75.0 168.3h.84v.84h-.84zM68.2 169.0h.84v.84h-.84zM62.3 167.2h.84v.84h-.84zM76.2 167.8h.84v.84h-.84zM75.2 169.2h.84v.84h-.84zM72.9 163.5h.84v.84h-.84zM71.5 163.6h.84v.84h-.84zM77.1 166.8h.84v.84h-.84zM68.7 162.5h.84v.84h-.84zM74.3 169.4h.84v.84h-.84zM62.2 166.1h.84v.84h-.84zM64.3 168.6h.84v.84h-.84zM73.4 169.4h.84v.84h-.84zM65.6 168.7h.84v.84h-.84zM77.8 168.3h.84v.84h-.84zM74.9 169.1h.84v.84h-.84zM63.7 165.2h.84v.84h-.84zM66.7 163.0h.84v.84h-.84zM74.1 163.3h.84v.84h-.84zM78.3 165.0h.84v.84h-.84zM72.9 162.9h.84v.84h-.84zM64.4 163.6h.84v.84h-.84zM76.3 163.3h.84v.84h-.84zM73.7 163.5h.84v.84h-.84zM78.1 164.7h.84v.84h-.84zM73.7 168.4h.84v.84h-.84zM74.4 163.0h.84v.84h-.84zM66.9 163.3h.84v.84h-.84zM71.2 163.5h.84v.84h-.84zM79.0 167.2h.84v.84h-.84zM62.8 165.6h.84v.84h-.84zM66.6 164.0h.84v.84h-.84zM77.3 165.1h.84v.84h-.84zM63.1 166.4h.84v.84h-.84zM75.6 169.1h.84v.84h-.84zM77.3 165.1h.84v.84h-.84zM64.6 168.7h.84v.84h-.84zM72.4 169.4h.84v.84h-.84zM75.8 167.9h.84v.84h-.84zM77.3 166.4h.84v.84h-.84zM76.6 167.4h.84v.84h-.84zM78.2 166.6h.84v.84h-.84zM69.9 162.7h.84v.84h-.84zM70.5 169.1h.84v.84h-.84zM64.3 167.8h.84v.84h-.84zM67.5 169.3h.84v.84h-.84zM69.4 163.3h.84v.84h-.84zM76.8 168.2h.84v.84h-.84zM74.3 163.0h.84v.84h-.84zM71.1 163.6h.84v.84h-.84zM62.5 166.7h.84v.84h-.84zM61.2 167.2h.84v.84h-.84zM62.5 167.4h.84v.84h-.84zM63.4 167.6h.84v.84h-.84zM65.0 168.7h.84v.84h-.84zM71.5 163.2h.84v.84h-.84zM74.7 164.1h.84v.84h-.84zM79.5 166.2h.84v.84h-.84zM67.0 163.7h.84v.84h-.84zM78.7 166.5h.84v.84h-.84zM69.8 168.8h.84v.84h-.84zM68.6 169.2h.84v.84h-.84zM76.1 168.3h.84v.84h-.84zM62.2 164.5h.84v.84h-.84zM77.4 163.8h.84v.84h-.84zM63.8 165.3h.84v.84h-.84zM78.5 167.0h.84v.84h-.84zM62.4 167.1h.84v.84h-.84zM71.6 169.7h.84v.84h-.84zM72.1 169.2h.84v.84h-.84zM77.0 166.2h.84v.84h-.84zM75.1 163.4h.84v.84h-.84zM73.9 169.3h.84v.84h-.84zM65.5 168.0h.84v.84h-.84zM70.9 169.6h.84v.84h-.84z"/>
<path fill="#3a78d8" fill-opacity="0.85" d="M74.4 166.0h.84v.84h-.84zM69.8 165.4h.84v.84h-.84zM72.3 164.8h.84v.84h-.84zM65.4 167.6h.84v.84h-.84zM76.0 165.2h.84v.84h-.84zM64.5 165.4h.84v.84h-.84zM73.3 166.7h.84v.84h-.84zM67.8 168.2h.84v.84h-.84zM73.2 166.1h.84v.84h-.84zM76.2 166.1h.84v.84h-.84zM67.8 167.0h.84v.84h-.84zM65.6 167.5h.84v.84h-.84zM66.3 168.0h.84v.84h-.84zM68.7 166.1h.84v.84h-.84zM68.1 168.3h.84v.84h-.84zM75.8 167.3h.84v.84h-.84zM69.8 164.4h.84v.84h-.84zM66.4 165.2h.84v.84h-.84zM67.0 164.5h.84v.84h-.84zM74.3 165.2h.84v.84h-.84zM70.9 164.5h.84v.84h-.84zM67.4 164.4h.84v.84h-.84zM68.2 165.9h.84v.84h-.84zM66.6 166.7h.84v.84h-.84zM67.2 166.2h.84v.84h-.84zM74.2 167.5h.84v.84h-.84zM76.1 166.2h.84v.84h-.84zM66.7 167.1h.84v.84h-.84zM69.4 164.1h.84v.84h-.84zM67.4 165.4h.84v.84h-.84zM71.4 164.2h.84v.84h-.84zM73.6 166.6h.84v.84h-.84zM67.7 164.8h.84v.84h-.84zM72.8 164.6h.84v.84h-.84zM66.5 167.3h.84v.84h-.84zM69.1 168.0h.84v.84h-.84zM74.6 164.8h.84v.84h-.84zM71.9 166.3h.84v.84h-.84zM65.8 166.1h.84v.84h-.84zM75.3 166.1h.84v.84h-.84zM68.3 163.8h.84v.84h-.84zM65.1 166.2h.84v.84h-.84zM70.3 166.4h.84v.84h-.84zM71.6 168.2h.84v.84h-.84zM73.1 168.2h.84v.84h-.84zM68.7 165.7h.84v.84h-.84zM69.7 165.0h.84v.84h-.84zM64.9 165.8h.84v.84h-.84zM75.1 166.9h.84v.84h-.84zM64.9 167.5h.84v.84h-.84zM70.1 165.1h.84v.84h-.84zM74.6 165.0h.84v.84h-.84zM73.3 166.8h.84v.84h-.84zM75.9 165.4h.84v.84h-.84zM72.1 165.1h.84v.84h-.84zM64.1 166.6h.84v.84h-.84zM67.7 167.3h.84v.84h-.84zM72.1 165.1h.84v.84h-.84zM72.1 165.2h.84v.84h-.84zM68.1 165.0h.84v.84h-.84zM68.2 168.0h.84v.84h-.84zM74.2 166.1h.84v.84h-.84zM70.5 165.8h.84v.84h-.84zM69.1 164.4h.84v.84h-.84zM74.0 166.5h.84v.84h-.84zM70.3 166.1h.84v.84h-.84zM66.2 167.5h.84v.84h-.84zM68.5 165.0h.84v.84h-.84zM73.5 166.6h.84v.84h-.84zM69.5 164.3h.84v.84h-.84zM68.6 166.5h.84v.84h-.84zM72.3 167.0h.84v.84h-.84zM69.0 167.2h.84v.84h-.84zM70.2 164.3h.84v.84h-.84zM68.2 168.1h.84v.84h-.84zM66.9 166.4h.84v.84h-.84zM68.1 166.3h.84v.84h-.84zM68.8 168.1h.84v.84h-.84zM71.9 165.9h.84v.84h-.84zM71.7 167.5h.84v.84h-.84zM68.9 165.8h.84v.84h-.84zM73.5 164.2h.84v.84h-.84zM69.5 165.2h.84v.84h-.84zM69.3 164.1h.84v.84h-.84zM72.5 166.2h.84v.84h-.84zM76.1 166.8h.84v.84h-.84zM70.6 165.4h.84v.84h-.84zM65.2 167.5h.84v.84h-.84zM65.2 166.9h.84v.84h-.84zM74.9 166.8h.84v.84h-.84zM73.4 166.0h.84v.84h-.84zM65.2 165.8h.84v.84h-.84zM67.7 167.0h.84v.84h-.84zM73.1 165.2h.84v.84h-.84zM70.4 164.4h.84v.84h-.84zM74.1 165.9h.84v.84h-.84zM68.1 166.8h.84v.84h-.84zM68.7 167.1h.84v.84h-.84zM71.8 165.7h.84v.84h-.84zM65.8 164.4h.84v.84h-.84zM69.5 165.9h.84v.84h-.84zM66.1 166.5h.84v.84h-.84zM69.0 165.9h.84v.84h-.84zM68.2 168.2h.84v.84h-.84zM73.7 168.0h.84v.84h-.84zM68.9 165.5h.84v.84h-.84zM75.2 166.4h.84v.84h-.84zM71.2 167.4h.84v.84h-.84zM73.1 165.0h.84v.84h-.84zM70.2 165.9h.84v.84h-.84zM74.3 165.9h.84v.84h-.84zM69.7 166.3h.84v.84h-.84zM70.2 165.3h.84v.84h-.84zM67.6 166.4h.84v.84h-.84zM66.7 165.1h.84v.84h-.84zM74.6 167.9h.84v.84h-.84zM73.7 166.8h.84v.84h-.84zM73.2 165.8h.84v.84h-.84zM72.2 165.9h.84v.84h-.84zM69.3 165.7h.84v.84h-.84zM72.5 168.1h.84v.84h-.84zM66.4 165.0h.84v.84h-.84zM74.0 164.9h.84v.84h-.84zM66.0 164.8h.84v.84h-.84zM74.1 165.3h.84v.84h-.84zM67.1 164.7h.84v.84h-.84zM72.8 165.3h.84v.84h-.84zM67.2 165.9h.84v.84h-.84zM70.2 167.6h.84v.84h-.84zM65.9 164.5h.84v.84h-.84zM68.8 166.7h.84v.84h-.84zM66.7 165.5h.84v.84h-.84zM71.4 167.7h.84v.84h-.84zM76.4 166.4h.84v.84h-.84zM70.6 165.4h.84v.84h-.84zM70.8 165.5h.84v.84h-.84zM75.1 167.0h.84v.84h-.84zM73.9 168.3h.84v.84h-.84zM69.2 164.7h.84v.84h-.84zM67.2 165.1h.84v.84h-.84zM67.4 168.0h.84v.84h-.84zM69.0 166.7h.84v.84h-.84zM73.1 166.7h.84v.84h-.84zM69.7 165.9h.84v.84h-.84zM69.3 167.5h.84v.84h-.84zM76.1 165.4h.84v.84h-.84zM68.1 165.3h.84v.84h-.84zM65.6 167.3h.84v.84h-.84zM68.2 164.6h.84v.84h-.84zM70.9 168.7h.84v.84h-.84zM68.0 163.8h.84v.84h-.84zM64.8 165.1h.84v.84h-.84zM70.0 166.3h.84v.84h-.84zM68.4 165.7h.84v.84h-.84zM68.2 164.8h.84v.84h-.84zM64.6 167.0h.84v.84h-.84zM64.8 165.9h.84v.84h-.84zM70.5 168.7h.84v.84h-.84zM70.0 168.5h.84v.84h-.84zM70.8 168.1h.84v.84h-.84zM69.2 164.3h.84v.84h-.84zM71.4 165.1h.84v.84h-.84zM69.2 163.8h.84v.84h-.84zM69.3 165.1h.84v.84h-.84zM74.5 166.4h.84v.84h-.84zM73.4 167.0h.84v.84h-.84zM71.3 165.9h.84v.84h-.84zM71.9 165.5h.84v.84h-.84zM69.9 167.4h.84v.84h-.84zM67.2 166.0h.84v.84h-.84zM64.7 165.0h.84v.84h-.84zM70.9 166.4h.84v.84h-.84zM74.9 167.8h.84v.84h-.84zM70.7 165.7h.84v.84h-.84zM74.8 165.5h.84v.84h-.84zM68.7 167.6h.84v.84h-.84zM71.9 167.1h.84v.84h-.84zM66.6 167.3h.84v.84h-.84zM68.5 168.1h.84v.84h-.84zM65.3 167.0h.84v.84h-.84zM74.4 164.9h.84v.84h-.84zM68.0 164.8h.84v.84h-.84zM68.5 164.4h.84v.84h-.84zM71.5 167.3h.84v.84h-.84zM69.0 168.4h.84v.84h-.84zM72.6 165.3h.84v.84h-.84zM70.8 164.8h.84v.84h-.84zM72.1 165.9h.84v.84h-.84zM69.6 164.3h.84v.84h-.84zM66.9 165.1h.84v.84h-.84zM72.3 164.6h.84v.84h-.84zM64.1 166.7h.84v.84h-.84zM67.3 167.0h.84v.84h-.84zM72.4 164.1h.84v.84h-.84zM69.2 166.9h.84v.84h-.84zM72.3 167.8h.84v.84h-.84zM70.8 168.0h.84v.84h-.84zM69.9 165.2h.84v.84h-.84zM66.8 168.3h.84v.84h-.84zM72.1 167.1h.84v.84h-.84zM66.8 165.1h.84v.84h-.84zM64.4 165.8h.84v.84h-.84zM65.1 167.5h.84v.84h-.84zM71.9 165.8h.84v.84h-.84zM71.0 166.5h.84v.84h-.84zM72.6 168.4h.84v.84h-.84zM76.1 165.8h.84v.84h-.84zM68.1 166.7h.84v.84h-.84zM68.9 165.3h.84v.84h-.84zM66.1 165.3h.84v.84h-.84zM66.6 166.0h.84v.84h-.84zM69.8 167.3h.84v.84h-.84zM70.8 164.5h.84v.84h-.84zM71.4 166.7h.84v.84h-.84zM64.9 166.2h.84v.84h-.84zM67.9 168.0h.84v.84h-.84zM71.5 166.2h.84v.84h-.84zM70.9 168.4h.84v.84h-.84zM71.7 165.0h.84v.84h-.84zM66.9 164.6h.84v.84h-.84zM68.9 166.0h.84v.84h-.84zM66.8 166.8h.84v.84h-.84zM74.7 168.0h.84v.84h-.84zM65.9 167.8h.84v.84h-.84zM69.3 166.5h.84v.84h-.84zM70.8 166.4h.84v.84h-.84zM75.3 166.2h.84v.84h-.84zM72.4 165.0h.84v.84h-.84zM71.3 167.3h.84v.84h-.84zM68.6 167.6h.84v.84h-.84zM66.5 167.3h.84v.84h-.84zM66.0 167.4h.84v.84h-.84zM70.5 167.5h.84v.84h-.84zM66.3 167.3h.84v.84h-.84zM67.5 165.9h.84v.84h-.84zM69.4 163.8h.84v.84h-.84zM73.3 166.7h.84v.84h-.84zM66.3 167.0h.84v.84h-.84zM65.7 167.6h.84v.84h-.84zM68.4 168.6h.84v.84h-.84zM72.8 166.8h.84v.84h-.84zM67.7 168.3h.84v.84h-.84zM71.5 164.8h.84v.84h-.84zM73.0 164.7h.84v.84h-.84zM69.7 168.0h.84v.84h-.84zM66.4 165.2h.84v.84h-.84zM65.1 166.7h.84v.84h-.84zM69.3 166.6h.84v.84h-.84zM71.6 168.4h.84v.84h-.84zM67.1 167.1h.84v.84h-.84zM72.7 168.5h.84v.84h-.84zM68.1 167.8h.84v.84h-.84zM65.8 167.8h.84v.84h-.84zM69.0 164.0h.84v.84h-.84zM70.2 164.1h.84v.84h-.84zM72.9 166.6h.84v.84h-.84zM68.9 165.4h.84v.84h-.84zM68.2 168.2h.84v.84h-.84zM68.0 164.0h.84v.84h-.84zM76.1 167.1h.84v.84h-.84zM71.7 166.8h.84v.84h-.84zM68.4 164.9h.84v.84h-.84zM64.4 165.5h.84v.84h-.84zM70.7 166.4h.84v.84h-.84zM70.3 165.5h.84v.84h-.84zM69.9 167.7h.84v.84h-.84zM72.0 165.9h.84v.84h-.84zM70.4 167.3h.84v.84h-.84zM70.5 165.9h.84v.84h-.84zM70.6 167.4h.84v.84h-.84z"/>
<rect x="55.3" y="133.2" width="47.8" height="45.6" stroke="#707070" stroke-width="0.75" fill="none"/>
<text x="101.8" y="137.6" font-size="3.95" font-weight="normal" text-anchor="end" fill="#333">HLA-DR+ cells</text>
<line x1="21.5" y1="130" x2="21.5" y2="181.2" stroke="#000" stroke-width="1.15"/>
<path d="M19.3,131.7 L21.5,127 L23.7,131.7 Z" fill="#000"/>
<text x="17.4" y="182.0" font-size="8.7" font-weight="bold" text-anchor="start" fill="#000" transform="rotate(-90 17.4 182.0)">CD123</text>
<line x1="32.7" y1="191.4" x2="104.8" y2="191.4" stroke="#000" stroke-width="1.15"/>
<path d="M103.1,189.20000000000002 L107.8,191.4 L103.1,193.6 Z" fill="#000"/>
<text x="40.4" y="203.4" font-size="8.7" font-weight="bold" text-anchor="start" fill="#000">DR</text>
<rect x="147.6" y="111.5" width="68.70000000000002" height="67.9" stroke="#8a8a8a" stroke-width="0.85" fill="none"/>
<text x="146.4" y="112.4" font-size="2.7" font-weight="normal" text-anchor="end" fill="#555">10<tspan dy="-1" font-size="1.8">3</tspan></text>
<line x1="146.6" y1="111.5" x2="147.6" y2="111.5" stroke="#888" stroke-width="0.4"/>
<text x="146.4" y="129.4" font-size="2.7" font-weight="normal" text-anchor="end" fill="#555">10<tspan dy="-1" font-size="1.8">3</tspan></text>
<line x1="146.6" y1="128.5" x2="147.6" y2="128.5" stroke="#888" stroke-width="0.4"/>
<text x="146.4" y="146.4" font-size="2.7" font-weight="normal" text-anchor="end" fill="#555">10<tspan dy="-1" font-size="1.8">3</tspan></text>
<line x1="146.6" y1="145.5" x2="147.6" y2="145.5" stroke="#888" stroke-width="0.4"/>
<text x="146.4" y="163.4" font-size="2.7" font-weight="normal" text-anchor="end" fill="#555">10<tspan dy="-1" font-size="1.8">3</tspan></text>
<line x1="146.6" y1="162.5" x2="147.6" y2="162.5" stroke="#888" stroke-width="0.4"/>
<text x="160.2" y="184.10000000000002" font-size="2.7" font-weight="normal" text-anchor="middle" fill="#555">10<tspan dy="-1" font-size="1.8">3</tspan></text>
<line x1="159" y1="179.4" x2="159" y2="180.4" stroke="#888" stroke-width="0.4"/>
<text x="177.2" y="184.10000000000002" font-size="2.7" font-weight="normal" text-anchor="middle" fill="#555">10<tspan dy="-1" font-size="1.8">3</tspan></text>
<line x1="176" y1="179.4" x2="176" y2="180.4" stroke="#888" stroke-width="0.4"/>
<text x="194.2" y="184.10000000000002" font-size="2.7" font-weight="normal" text-anchor="middle" fill="#555">10<tspan dy="-1" font-size="1.8">3</tspan></text>
<line x1="193" y1="179.4" x2="193" y2="180.4" stroke="#888" stroke-width="0.4"/>
<text x="211.2" y="184.10000000000002" font-size="2.7" font-weight="normal" text-anchor="middle" fill="#555">10<tspan dy="-1" font-size="1.8">3</tspan></text>
<line x1="210" y1="179.4" x2="210" y2="180.4" stroke="#888" stroke-width="0.4"/>
<path fill="#9a90a8" fill-opacity="0.4" d="M160.4 149.8h.72v.72h-.72zM161.0 137.9h.72v.72h-.72zM156.3 158.1h.72v.72h-.72zM162.5 152.4h.72v.72h-.72zM165.4 140.0h.72v.72h-.72zM158.5 153.8h.72v.72h-.72zM163.2 133.2h.72v.72h-.72zM153.0 160.5h.72v.72h-.72zM160.8 149.2h.72v.72h-.72zM158.1 161.8h.72v.72h-.72zM160.7 139.7h.72v.72h-.72zM154.9 167.0h.72v.72h-.72zM161.5 136.0h.72v.72h-.72zM162.5 143.6h.72v.72h-.72zM163.1 151.2h.72v.72h-.72zM157.2 161.8h.72v.72h-.72zM160.8 135.1h.72v.72h-.72zM167.1 136.7h.72v.72h-.72zM161.1 144.7h.72v.72h-.72zM164.4 152.4h.72v.72h-.72zM159.4 157.8h.72v.72h-.72zM156.5 157.6h.72v.72h-.72zM167.9 128.4h.72v.72h-.72zM161.8 137.9h.72v.72h-.72zM161.5 152.9h.72v.72h-.72zM162.2 155.9h.72v.72h-.72zM162.1 132.0h.72v.72h-.72zM159.0 148.2h.72v.72h-.72zM160.4 136.1h.72v.72h-.72zM164.4 138.3h.72v.72h-.72zM160.9 149.6h.72v.72h-.72zM155.8 153.4h.72v.72h-.72zM163.8 147.3h.72v.72h-.72zM161.3 150.2h.72v.72h-.72zM166.4 133.8h.72v.72h-.72zM163.3 140.7h.72v.72h-.72zM163.6 135.6h.72v.72h-.72zM163.6 137.2h.72v.72h-.72zM166.2 143.1h.72v.72h-.72zM157.2 154.1h.72v.72h-.72zM164.6 146.2h.72v.72h-.72zM162.3 148.4h.72v.72h-.72zM160.3 149.7h.72v.72h-.72zM162.1 151.0h.72v.72h-.72zM162.2 144.9h.72v.72h-.72zM160.7 160.5h.72v.72h-.72zM158.8 149.4h.72v.72h-.72zM163.4 147.7h.72v.72h-.72zM156.7 164.4h.72v.72h-.72zM164.6 138.8h.72v.72h-.72zM162.2 141.2h.72v.72h-.72zM160.2 150.2h.72v.72h-.72zM162.5 146.1h.72v.72h-.72zM160.3 140.5h.72v.72h-.72zM162.6 148.9h.72v.72h-.72zM161.5 146.9h.72v.72h-.72zM165.0 148.4h.72v.72h-.72zM163.2 145.2h.72v.72h-.72zM165.3 140.3h.72v.72h-.72zM160.6 154.1h.72v.72h-.72zM161.2 146.0h.72v.72h-.72zM156.8 168.2h.72v.72h-.72zM164.4 148.9h.72v.72h-.72zM167.3 139.8h.72v.72h-.72zM158.4 159.8h.72v.72h-.72zM159.2 153.3h.72v.72h-.72zM164.0 146.8h.72v.72h-.72zM169.0 128.9h.72v.72h-.72zM160.1 151.5h.72v.72h-.72zM162.1 139.7h.72v.72h-.72zM160.4 149.6h.72v.72h-.72zM161.0 149.2h.72v.72h-.72zM155.6 143.2h.72v.72h-.72zM161.3 152.6h.72v.72h-.72zM160.4 157.8h.72v.72h-.72zM165.8 149.0h.72v.72h-.72zM167.7 156.8h.72v.72h-.72zM164.1 138.2h.72v.72h-.72zM158.0 159.2h.72v.72h-.72zM163.7 154.4h.72v.72h-.72zM157.6 154.7h.72v.72h-.72zM162.3 136.2h.72v.72h-.72zM166.2 144.4h.72v.72h-.72zM166.2 142.9h.72v.72h-.72zM164.5 139.1h.72v.72h-.72zM159.5 162.1h.72v.72h-.72zM162.1 145.7h.72v.72h-.72zM162.4 135.6h.72v.72h-.72zM165.3 144.7h.72v.72h-.72zM156.9 155.2h.72v.72h-.72zM159.9 151.3h.72v.72h-.72zM157.7 151.5h.72v.72h-.72zM157.2 148.7h.72v.72h-.72zM159.4 154.2h.72v.72h-.72zM158.7 148.8h.72v.72h-.72zM166.7 160.5h.72v.72h-.72zM160.9 135.0h.72v.72h-.72zM164.5 146.1h.72v.72h-.72zM160.1 151.6h.72v.72h-.72zM159.2 155.1h.72v.72h-.72zM157.3 153.8h.72v.72h-.72zM166.9 140.3h.72v.72h-.72zM161.1 141.5h.72v.72h-.72zM168.7 136.7h.72v.72h-.72zM163.7 136.8h.72v.72h-.72zM160.0 154.8h.72v.72h-.72zM166.0 140.8h.72v.72h-.72zM155.8 160.0h.72v.72h-.72zM161.0 150.7h.72v.72h-.72zM157.7 144.1h.72v.72h-.72zM155.5 146.2h.72v.72h-.72zM160.4 153.6h.72v.72h-.72zM158.4 157.3h.72v.72h-.72zM164.0 148.1h.72v.72h-.72zM158.9 162.4h.72v.72h-.72zM169.3 136.9h.72v.72h-.72zM159.3 161.4h.72v.72h-.72zM165.7 140.2h.72v.72h-.72zM161.7 149.0h.72v.72h-.72zM161.6 148.5h.72v.72h-.72zM158.9 146.5h.72v.72h-.72zM159.8 155.9h.72v.72h-.72zM163.3 150.5h.72v.72h-.72zM163.5 143.4h.72v.72h-.72zM161.0 149.2h.72v.72h-.72zM155.7 157.1h.72v.72h-.72zM154.8 163.8h.72v.72h-.72zM164.2 149.8h.72v.72h-.72zM161.9 150.0h.72v.72h-.72zM166.6 131.7h.72v.72h-.72zM163.8 138.4h.72v.72h-.72zM162.6 148.7h.72v.72h-.72zM157.7 152.8h.72v.72h-.72zM163.8 149.0h.72v.72h-.72zM156.3 153.6h.72v.72h-.72zM162.4 154.1h.72v.72h-.72zM167.9 143.5h.72v.72h-.72zM157.8 152.2h.72v.72h-.72zM158.1 150.7h.72v.72h-.72zM159.1 155.7h.72v.72h-.72zM162.3 149.4h.72v.72h-.72zM161.4 142.0h.72v.72h-.72zM161.9 151.3h.72v.72h-.72zM161.2 148.0h.72v.72h-.72zM157.5 156.7h.72v.72h-.72zM157.8 156.2h.72v.72h-.72zM164.2 151.0h.72v.72h-.72zM159.8 151.8h.72v.72h-.72zM162.3 135.5h.72v.72h-.72zM163.3 152.1h.72v.72h-.72zM157.8 160.0h.72v.72h-.72zM165.5 137.0h.72v.72h-.72zM162.1 144.6h.72v.72h-.72zM165.0 143.5h.72v.72h-.72zM158.8 156.1h.72v.72h-.72zM160.4 146.1h.72v.72h-.72zM162.3 152.9h.72v.72h-.72zM162.8 147.2h.72v.72h-.72zM158.3 148.9h.72v.72h-.72zM167.1 138.0h.72v.72h-.72zM159.6 153.6h.72v.72h-.72zM161.5 149.6h.72v.72h-.72zM159.0 161.9h.72v.72h-.72zM160.9 144.0h.72v.72h-.72zM165.2 141.9h.72v.72h-.72zM154.0 168.1h.72v.72h-.72zM166.5 139.3h.72v.72h-.72zM159.4 155.8h.72v.72h-.72zM161.8 156.8h.72v.72h-.72zM160.8 143.2h.72v.72h-.72zM163.0 150.0h.72v.72h-.72zM158.2 153.0h.72v.72h-.72zM164.2 140.9h.72v.72h-.72zM159.3 150.4h.72v.72h-.72zM162.3 151.0h.72v.72h-.72zM164.6 131.0h.72v.72h-.72zM162.7 136.9h.72v.72h-.72zM163.6 139.4h.72v.72h-.72zM165.4 136.6h.72v.72h-.72zM158.3 160.6h.72v.72h-.72zM163.3 139.8h.72v.72h-.72zM156.8 165.7h.72v.72h-.72zM163.3 137.7h.72v.72h-.72zM163.9 149.3h.72v.72h-.72zM159.9 141.8h.72v.72h-.72zM166.9 137.5h.72v.72h-.72zM156.4 159.0h.72v.72h-.72zM163.4 136.8h.72v.72h-.72zM158.2 158.1h.72v.72h-.72zM154.8 157.2h.72v.72h-.72zM160.6 152.6h.72v.72h-.72zM162.8 148.2h.72v.72h-.72zM157.2 147.1h.72v.72h-.72zM157.2 167.8h.72v.72h-.72zM162.7 138.7h.72v.72h-.72zM165.9 139.0h.72v.72h-.72zM162.1 142.3h.72v.72h-.72zM160.6 145.0h.72v.72h-.72zM164.9 134.7h.72v.72h-.72zM158.0 153.1h.72v.72h-.72zM163.6 139.8h.72v.72h-.72zM158.0 155.1h.72v.72h-.72zM167.7 129.0h.72v.72h-.72zM161.1 156.8h.72v.72h-.72zM159.0 152.9h.72v.72h-.72zM156.1 169.9h.72v.72h-.72zM167.8 122.4h.72v.72h-.72zM161.2 149.6h.72v.72h-.72zM155.8 145.3h.72v.72h-.72zM162.0 151.1h.72v.72h-.72zM162.1 143.6h.72v.72h-.72zM158.6 154.0h.72v.72h-.72zM163.3 149.4h.72v.72h-.72zM160.0 146.8h.72v.72h-.72zM159.0 147.0h.72v.72h-.72zM163.7 147.4h.72v.72h-.72zM167.3 133.4h.72v.72h-.72zM165.2 153.5h.72v.72h-.72zM159.9 146.8h.72v.72h-.72zM158.5 147.9h.72v.72h-.72z"/>
<path fill="#999" fill-opacity="0.4" d="M178.5 170.5h.54v.54h-.54zM181.8 168.7h.54v.54h-.54zM179.3 166.0h.54v.54h-.54zM178.6 170.5h.54v.54h-.54zM177.6 168.1h.54v.54h-.54zM179.4 167.8h.54v.54h-.54zM181.3 169.4h.54v.54h-.54zM181.9 168.1h.54v.54h-.54zM178.7 165.9h.54v.54h-.54zM179.1 168.5h.54v.54h-.54zM181.9 168.2h.54v.54h-.54zM182.0 167.9h.54v.54h-.54zM178.5 166.0h.54v.54h-.54zM182.9 168.5h.54v.54h-.54zM180.6 167.2h.54v.54h-.54zM181.1 168.2h.54v.54h-.54zM179.2 167.8h.54v.54h-.54zM179.1 166.4h.54v.54h-.54zM180.5 165.6h.54v.54h-.54zM181.7 167.0h.54v.54h-.54zM182.1 165.7h.54v.54h-.54zM178.5 171.5h.54v.54h-.54zM183.2 168.3h.54v.54h-.54zM183.3 168.8h.54v.54h-.54zM181.2 168.4h.54v.54h-.54zM183.4 169.8h.54v.54h-.54zM177.9 168.0h.54v.54h-.54zM176.9 167.0h.54v.54h-.54zM179.8 169.2h.54v.54h-.54zM182.0 167.0h.54v.54h-.54z"/>
<path fill="#b060c8" fill-opacity="0.45" d="M158.7 176.2h.76v.76h-.76zM158.8 171.0h.76v.76h-.76zM157.9 177.1h.76v.76h-.76zM159.0 173.3h.76v.76h-.76zM158.7 174.1h.76v.76h-.76zM158.4 176.3h.76v.76h-.76zM163.6 173.6h.76v.76h-.76zM153.3 176.3h.76v.76h-.76zM159.4 172.9h.76v.76h-.76zM151.1 174.6h.76v.76h-.76zM164.2 173.8h.76v.76h-.76zM158.0 170.8h.76v.76h-.76zM164.4 174.8h.76v.76h-.76zM156.5 168.8h.76v.76h-.76zM160.9 171.5h.76v.76h-.76zM165.6 175.6h.76v.76h-.76zM159.3 174.5h.76v.76h-.76zM160.1 169.8h.76v.76h-.76zM160.6 176.1h.76v.76h-.76zM156.9 171.5h.76v.76h-.76zM160.1 172.1h.76v.76h-.76zM163.1 175.2h.76v.76h-.76zM162.4 173.5h.76v.76h-.76zM158.4 176.8h.76v.76h-.76zM160.5 174.2h.76v.76h-.76zM163.6 170.5h.76v.76h-.76zM153.3 171.7h.76v.76h-.76zM160.0 175.7h.76v.76h-.76zM158.0 171.4h.76v.76h-.76zM156.6 172.4h.76v.76h-.76zM157.2 176.7h.76v.76h-.76zM167.7 172.3h.76v.76h-.76zM159.0 171.8h.76v.76h-.76zM159.7 170.6h.76v.76h-.76zM158.3 170.7h.76v.76h-.76zM158.3 170.8h.76v.76h-.76zM161.4 169.4h.76v.76h-.76zM163.7 173.1h.76v.76h-.76zM154.5 168.6h.76v.76h-.76zM156.0 168.1h.76v.76h-.76zM158.2 174.7h.76v.76h-.76zM159.4 172.1h.76v.76h-.76zM165.1 174.1h.76v.76h-.76zM154.2 172.9h.76v.76h-.76zM154.3 172.1h.76v.76h-.76zM159.3 176.6h.76v.76h-.76zM159.4 170.6h.76v.76h-.76zM159.4 173.9h.76v.76h-.76zM156.3 172.3h.76v.76h-.76zM160.4 170.5h.76v.76h-.76zM161.8 170.6h.76v.76h-.76zM156.2 172.2h.76v.76h-.76zM159.9 172.8h.76v.76h-.76zM161.1 169.2h.76v.76h-.76zM149.3 174.2h.76v.76h-.76zM161.2 172.4h.76v.76h-.76zM156.1 173.7h.76v.76h-.76zM156.6 176.3h.76v.76h-.76zM158.5 174.9h.76v.76h-.76zM152.5 170.2h.76v.76h-.76zM156.0 173.9h.76v.76h-.76zM155.4 170.7h.76v.76h-.76zM154.2 171.7h.76v.76h-.76zM152.8 169.2h.76v.76h-.76zM160.4 174.7h.76v.76h-.76zM164.5 176.1h.76v.76h-.76zM163.4 174.4h.76v.76h-.76zM156.2 170.1h.76v.76h-.76zM161.4 175.7h.76v.76h-.76zM155.4 175.7h.76v.76h-.76zM159.1 174.0h.76v.76h-.76zM155.4 166.5h.76v.76h-.76zM154.0 171.7h.76v.76h-.76zM161.3 171.9h.76v.76h-.76zM163.0 169.0h.76v.76h-.76zM164.5 173.5h.76v.76h-.76zM156.7 171.3h.76v.76h-.76zM162.0 169.6h.76v.76h-.76zM154.4 172.6h.76v.76h-.76zM160.8 172.0h.76v.76h-.76zM157.7 176.0h.76v.76h-.76zM158.6 172.7h.76v.76h-.76zM164.8 177.6h.76v.76h-.76zM155.4 169.7h.76v.76h-.76zM154.6 174.4h.76v.76h-.76z"/>
<g filter="url(#b6)"><ellipse cx="159" cy="173.2" rx="6.0" ry="5.4" fill="#c070d0" fill-opacity="0.4" transform="rotate(0 159 173.2)"/><ellipse cx="159" cy="173.2" rx="5.0" ry="4.6" fill="#8048c0" fill-opacity="0.6" transform="rotate(0 159 173.2)"/><ellipse cx="159" cy="173.2" rx="3.4" ry="3.2" fill="#5a50c0" fill-opacity="0.7" transform="rotate(0 159 173.2)"/><ellipse cx="159" cy="173.2" rx="2.0" ry="2.0" fill="#3a88b0" fill-opacity="0.8" transform="rotate(0 159 173.2)"/></g>
<path fill="#c070d0" fill-opacity="0.85" d="M150.7 169.5h.84v.84h-.84zM160.8 178.3h.84v.84h-.84zM151.7 178.3h.84v.84h-.84zM164.8 174.0h.84v.84h-.84zM154.0 169.2h.84v.84h-.84zM152.7 172.2h.84v.84h-.84zM164.3 169.4h.84v.84h-.84zM153.1 171.4h.84v.84h-.84zM153.0 172.8h.84v.84h-.84zM165.9 168.0h.84v.84h-.84zM152.9 167.7h.84v.84h-.84zM155.5 177.8h.84v.84h-.84zM153.7 175.5h.84v.84h-.84zM155.0 176.8h.84v.84h-.84zM162.5 167.6h.84v.84h-.84zM165.4 171.6h.84v.84h-.84zM152.5 178.2h.84v.84h-.84zM164.1 173.7h.84v.84h-.84zM161.9 168.4h.84v.84h-.84zM151.0 174.6h.84v.84h-.84zM164.6 174.6h.84v.84h-.84zM164.0 173.5h.84v.84h-.84zM163.7 170.5h.84v.84h-.84zM150.9 174.8h.84v.84h-.84zM151.3 171.9h.84v.84h-.84zM152.7 170.5h.84v.84h-.84zM164.1 166.3h.84v.84h-.84zM156.6 178.2h.84v.84h-.84zM163.7 168.8h.84v.84h-.84zM157.8 177.6h.84v.84h-.84zM162.8 176.0h.84v.84h-.84zM163.3 167.2h.84v.84h-.84zM155.7 177.7h.84v.84h-.84zM164.7 167.4h.84v.84h-.84zM156.9 167.2h.84v.84h-.84zM156.3 177.4h.84v.84h-.84zM155.3 176.7h.84v.84h-.84zM153.0 172.0h.84v.84h-.84zM164.5 174.3h.84v.84h-.84zM156.6 177.5h.84v.84h-.84zM154.2 177.8h.84v.84h-.84zM164.3 171.9h.84v.84h-.84zM164.5 171.3h.84v.84h-.84zM164.0 174.9h.84v.84h-.84zM154.2 175.9h.84v.84h-.84zM154.8 177.4h.84v.84h-.84zM158.7 166.4h.84v.84h-.84zM166.9 172.2h.84v.84h-.84zM149.3 175.7h.84v.84h-.84zM158.9 166.7h.84v.84h-.84zM153.6 176.2h.84v.84h-.84zM152.9 171.9h.84v.84h-.84zM165.6 178.5h.84v.84h-.84zM165.4 169.8h.84v.84h-.84zM166.0 168.4h.84v.84h-.84zM161.3 166.3h.84v.84h-.84zM169.5 177.2h.84v.84h-.84zM158.3 167.5h.84v.84h-.84zM152.2 174.4h.84v.84h-.84zM166.7 173.9h.84v.84h-.84zM154.3 176.6h.84v.84h-.84zM163.8 175.4h.84v.84h-.84zM162.5 168.8h.84v.84h-.84zM155.4 177.5h.84v.84h-.84zM160.8 168.2h.84v.84h-.84zM154.5 168.2h.84v.84h-.84zM154.3 176.7h.84v.84h-.84zM157.4 177.5h.84v.84h-.84zM153.3 176.8h.84v.84h-.84zM159.5 177.7h.84v.84h-.84zM164.2 167.2h.84v.84h-.84zM164.2 175.5h.84v.84h-.84zM153.4 175.6h.84v.84h-.84zM164.3 173.0h.84v.84h-.84zM158.3 167.2h.84v.84h-.84zM152.8 173.8h.84v.84h-.84zM162.0 166.5h.84v.84h-.84zM154.9 176.4h.84v.84h-.84zM162.0 177.7h.84v.84h-.84zM153.4 168.9h.84v.84h-.84zM157.5 166.9h.84v.84h-.84zM154.0 177.5h.84v.84h-.84zM159.9 167.9h.84v.84h-.84zM164.6 169.3h.84v.84h-.84zM166.0 172.9h.84v.84h-.84zM150.1 170.7h.84v.84h-.84zM156.2 177.7h.84v.84h-.84zM154.1 166.2h.84v.84h-.84zM150.8 173.4h.84v.84h-.84zM158.7 178.1h.84v.84h-.84zM155.1 169.1h.84v.84h-.84zM161.2 177.7h.84v.84h-.84zM159.2 178.2h.84v.84h-.84zM159.6 178.2h.84v.84h-.84zM151.8 178.4h.84v.84h-.84z"/>
<path fill="#8048c0" fill-opacity="0.85" d="M154.5 171.1h.84v.84h-.84zM158.5 169.6h.84v.84h-.84zM155.6 176.0h.84v.84h-.84zM154.6 174.9h.84v.84h-.84zM157.3 176.2h.84v.84h-.84zM154.3 174.1h.84v.84h-.84zM157.6 168.7h.84v.84h-.84zM156.5 170.1h.84v.84h-.84zM162.5 173.7h.84v.84h-.84zM161.8 175.8h.84v.84h-.84zM159.5 176.5h.84v.84h-.84zM155.3 172.1h.84v.84h-.84zM154.1 172.8h.84v.84h-.84zM162.4 173.1h.84v.84h-.84zM157.1 168.6h.84v.84h-.84zM159.2 177.3h.84v.84h-.84zM162.8 173.7h.84v.84h-.84zM155.4 176.2h.84v.84h-.84zM155.4 174.1h.84v.84h-.84zM156.3 175.5h.84v.84h-.84zM161.7 174.5h.84v.84h-.84zM155.9 175.0h.84v.84h-.84zM154.8 171.2h.84v.84h-.84zM162.5 174.0h.84v.84h-.84zM160.8 176.6h.84v.84h-.84zM153.7 173.3h.84v.84h-.84zM162.0 173.5h.84v.84h-.84zM155.1 174.7h.84v.84h-.84zM161.8 173.3h.84v.84h-.84zM160.7 169.6h.84v.84h-.84zM158.5 168.1h.84v.84h-.84zM156.0 170.4h.84v.84h-.84zM155.8 169.6h.84v.84h-.84zM157.9 177.4h.84v.84h-.84zM159.9 176.3h.84v.84h-.84zM157.6 168.4h.84v.84h-.84zM159.9 170.0h.84v.84h-.84zM155.3 172.3h.84v.84h-.84zM156.5 170.1h.84v.84h-.84zM157.0 168.2h.84v.84h-.84zM156.8 169.0h.84v.84h-.84zM162.2 174.6h.84v.84h-.84zM155.3 170.6h.84v.84h-.84zM154.0 172.8h.84v.84h-.84zM163.3 173.8h.84v.84h-.84zM160.5 176.6h.84v.84h-.84zM161.6 174.1h.84v.84h-.84zM157.8 176.0h.84v.84h-.84zM160.1 168.6h.84v.84h-.84zM154.0 170.9h.84v.84h-.84zM157.0 176.2h.84v.84h-.84zM156.9 168.5h.84v.84h-.84zM162.3 175.7h.84v.84h-.84zM161.9 175.1h.84v.84h-.84zM156.6 177.1h.84v.84h-.84zM160.6 175.5h.84v.84h-.84zM163.8 173.7h.84v.84h-.84zM161.7 171.0h.84v.84h-.84zM155.0 174.9h.84v.84h-.84zM162.9 173.3h.84v.84h-.84zM156.9 169.0h.84v.84h-.84zM161.3 175.9h.84v.84h-.84zM161.9 173.3h.84v.84h-.84zM160.9 175.3h.84v.84h-.84zM162.7 170.8h.84v.84h-.84zM157.0 168.6h.84v.84h-.84zM162.0 175.0h.84v.84h-.84zM157.3 169.5h.84v.84h-.84zM155.8 171.1h.84v.84h-.84zM155.2 170.3h.84v.84h-.84zM159.2 169.3h.84v.84h-.84zM154.5 173.8h.84v.84h-.84zM155.1 173.7h.84v.84h-.84zM158.7 177.3h.84v.84h-.84zM158.0 176.1h.84v.84h-.84zM154.9 173.6h.84v.84h-.84zM161.2 170.5h.84v.84h-.84zM160.2 168.7h.84v.84h-.84zM154.2 175.1h.84v.84h-.84zM162.8 170.2h.84v.84h-.84zM163.7 174.0h.84v.84h-.84zM161.8 175.7h.84v.84h-.84zM157.1 169.6h.84v.84h-.84zM160.0 170.0h.84v.84h-.84zM162.9 172.4h.84v.84h-.84zM156.3 168.5h.84v.84h-.84zM155.1 173.1h.84v.84h-.84zM159.1 175.9h.84v.84h-.84zM157.0 169.9h.84v.84h-.84zM163.0 171.4h.84v.84h-.84zM161.5 174.1h.84v.84h-.84zM159.4 169.8h.84v.84h-.84zM155.8 170.6h.84v.84h-.84zM163.2 174.6h.84v.84h-.84zM162.3 172.7h.84v.84h-.84zM155.1 174.3h.84v.84h-.84zM155.4 176.4h.84v.84h-.84zM158.6 177.1h.84v.84h-.84zM158.7 175.7h.84v.84h-.84zM157.1 176.6h.84v.84h-.84zM156.4 169.9h.84v.84h-.84zM154.5 173.1h.84v.84h-.84zM159.2 169.8h.84v.84h-.84zM154.1 172.2h.84v.84h-.84zM154.7 170.0h.84v.84h-.84zM153.9 173.5h.84v.84h-.84zM155.6 174.6h.84v.84h-.84zM161.7 170.5h.84v.84h-.84zM157.9 177.6h.84v.84h-.84zM159.8 176.5h.84v.84h-.84zM157.5 169.3h.84v.84h-.84zM157.5 176.1h.84v.84h-.84zM161.5 174.2h.84v.84h-.84zM160.7 170.4h.84v.84h-.84zM155.8 170.0h.84v.84h-.84zM162.5 172.8h.84v.84h-.84zM153.7 173.4h.84v.84h-.84zM154.9 172.7h.84v.84h-.84zM155.5 175.8h.84v.84h-.84zM156.1 175.9h.84v.84h-.84zM154.5 172.9h.84v.84h-.84zM154.4 171.4h.84v.84h-.84zM158.5 176.5h.84v.84h-.84zM159.6 168.4h.84v.84h-.84zM160.8 169.0h.84v.84h-.84zM160.9 169.3h.84v.84h-.84zM163.6 172.2h.84v.84h-.84zM162.6 171.7h.84v.84h-.84zM161.7 171.1h.84v.84h-.84zM163.6 171.8h.84v.84h-.84zM159.9 169.7h.84v.84h-.84zM155.6 170.1h.84v.84h-.84zM161.7 176.4h.84v.84h-.84zM160.4 177.2h.84v.84h-.84zM155.6 170.2h.84v.84h-.84zM161.0 177.0h.84v.84h-.84zM160.1 169.5h.84v.84h-.84zM158.2 175.8h.84v.84h-.84zM161.1 169.6h.84v.84h-.84zM161.2 175.3h.84v.84h-.84zM153.9 172.1h.84v.84h-.84zM159.2 175.7h.84v.84h-.84zM160.5 176.5h.84v.84h-.84zM156.0 170.2h.84v.84h-.84zM158.2 169.0h.84v.84h-.84zM157.3 176.3h.84v.84h-.84zM161.2 169.3h.84v.84h-.84zM157.9 169.0h.84v.84h-.84zM160.1 175.9h.84v.84h-.84zM160.3 175.4h.84v.84h-.84zM161.6 171.2h.84v.84h-.84zM160.4 176.0h.84v.84h-.84zM161.4 169.2h.84v.84h-.84zM158.9 168.8h.84v.84h-.84zM161.7 170.7h.84v.84h-.84zM159.7 177.4h.84v.84h-.84zM155.6 169.7h.84v.84h-.84zM155.5 175.7h.84v.84h-.84zM161.7 174.5h.84v.84h-.84zM155.2 172.3h.84v.84h-.84zM162.3 170.1h.84v.84h-.84zM161.3 170.6h.84v.84h-.84zM155.3 174.0h.84v.84h-.84zM157.7 175.8h.84v.84h-.84z"/>
<path fill="#5a50c0" fill-opacity="0.85" d="M160.4 172.0h.84v.84h-.84zM158.1 170.8h.84v.84h-.84zM159.4 175.4h.84v.84h-.84zM160.9 173.6h.84v.84h-.84zM156.2 172.1h.84v.84h-.84zM158.9 174.7h.84v.84h-.84zM157.9 169.9h.84v.84h-.84zM158.7 174.6h.84v.84h-.84zM158.2 170.0h.84v.84h-.84zM160.2 174.6h.84v.84h-.84zM156.5 174.4h.84v.84h-.84zM156.9 171.0h.84v.84h-.84zM157.8 171.2h.84v.84h-.84zM160.5 172.2h.84v.84h-.84zM160.0 171.5h.84v.84h-.84zM161.3 172.0h.84v.84h-.84zM156.9 171.3h.84v.84h-.84zM159.8 170.3h.84v.84h-.84zM158.6 174.6h.84v.84h-.84zM158.6 170.6h.84v.84h-.84zM158.5 175.3h.84v.84h-.84zM155.9 172.0h.84v.84h-.84zM156.3 171.6h.84v.84h-.84zM159.7 175.3h.84v.84h-.84zM156.4 171.0h.84v.84h-.84zM156.0 173.9h.84v.84h-.84zM158.2 174.6h.84v.84h-.84zM157.3 174.5h.84v.84h-.84zM156.3 174.0h.84v.84h-.84zM155.7 174.0h.84v.84h-.84zM158.7 170.7h.84v.84h-.84zM161.0 171.5h.84v.84h-.84zM156.1 174.7h.84v.84h-.84zM157.6 175.0h.84v.84h-.84zM160.2 170.8h.84v.84h-.84zM160.5 170.9h.84v.84h-.84zM161.6 173.9h.84v.84h-.84zM160.8 173.5h.84v.84h-.84zM156.1 173.3h.84v.84h-.84zM155.5 172.9h.84v.84h-.84zM160.3 173.9h.84v.84h-.84zM157.5 174.5h.84v.84h-.84zM159.8 171.5h.84v.84h-.84zM156.3 170.7h.84v.84h-.84zM158.2 174.7h.84v.84h-.84zM160.1 175.1h.84v.84h-.84zM156.6 174.1h.84v.84h-.84zM157.3 171.4h.84v.84h-.84zM156.4 170.9h.84v.84h-.84zM157.3 174.1h.84v.84h-.84zM161.4 172.5h.84v.84h-.84zM159.8 174.8h.84v.84h-.84zM158.5 175.3h.84v.84h-.84zM161.0 172.5h.84v.84h-.84zM155.8 174.1h.84v.84h-.84zM160.1 171.2h.84v.84h-.84zM156.0 173.2h.84v.84h-.84zM160.4 172.0h.84v.84h-.84zM159.4 175.4h.84v.84h-.84zM156.1 171.9h.84v.84h-.84zM161.2 173.4h.84v.84h-.84zM160.3 171.9h.84v.84h-.84zM157.1 175.0h.84v.84h-.84zM158.4 175.4h.84v.84h-.84zM161.1 173.9h.84v.84h-.84zM161.4 174.2h.84v.84h-.84zM156.6 174.1h.84v.84h-.84zM160.9 173.7h.84v.84h-.84zM158.5 175.7h.84v.84h-.84zM156.3 173.1h.84v.84h-.84zM157.1 170.8h.84v.84h-.84zM160.0 171.6h.84v.84h-.84zM159.8 175.3h.84v.84h-.84zM156.2 171.2h.84v.84h-.84zM161.0 172.9h.84v.84h-.84zM160.9 173.7h.84v.84h-.84zM160.8 174.8h.84v.84h-.84zM156.9 174.1h.84v.84h-.84zM161.6 174.0h.84v.84h-.84zM157.8 174.4h.84v.84h-.84zM157.4 171.3h.84v.84h-.84zM159.7 174.9h.84v.84h-.84zM157.1 171.1h.84v.84h-.84zM159.4 174.6h.84v.84h-.84zM156.7 174.4h.84v.84h-.84zM160.7 171.3h.84v.84h-.84zM160.0 174.2h.84v.84h-.84zM161.3 173.4h.84v.84h-.84zM161.0 171.6h.84v.84h-.84zM156.5 171.8h.84v.84h-.84zM157.2 170.9h.84v.84h-.84zM158.1 169.9h.84v.84h-.84zM160.6 172.4h.84v.84h-.84zM156.6 172.7h.84v.84h-.84zM160.5 171.8h.84v.84h-.84zM160.6 173.4h.84v.84h-.84zM156.6 172.4h.84v.84h-.84zM156.6 171.7h.84v.84h-.84zM158.6 171.0h.84v.84h-.84zM156.6 172.6h.84v.84h-.84zM156.6 174.2h.84v.84h-.84zM156.6 170.9h.84v.84h-.84zM159.7 175.1h.84v.84h-.84zM156.9 175.1h.84v.84h-.84zM156.1 171.3h.84v.84h-.84zM158.2 170.9h.84v.84h-.84zM160.4 170.5h.84v.84h-.84zM157.3 174.6h.84v.84h-.84z"/>
<path fill="#3a88b0" fill-opacity="0.85" d="M157.8 172.4h.84v.84h-.84zM157.6 172.1h.84v.84h-.84zM158.5 172.8h.84v.84h-.84zM158.5 173.6h.84v.84h-.84zM157.7 173.6h.84v.84h-.84zM157.4 172.7h.84v.84h-.84zM158.0 174.4h.84v.84h-.84zM159.9 173.6h.84v.84h-.84zM158.6 172.5h.84v.84h-.84zM159.3 172.3h.84v.84h-.84zM157.4 173.5h.84v.84h-.84zM158.4 173.5h.84v.84h-.84zM159.1 172.9h.84v.84h-.84zM157.6 171.7h.84v.84h-.84zM158.3 172.2h.84v.84h-.84zM158.3 172.8h.84v.84h-.84zM158.4 172.4h.84v.84h-.84zM157.9 173.5h.84v.84h-.84zM159.1 173.0h.84v.84h-.84zM157.6 173.0h.84v.84h-.84zM157.1 173.5h.84v.84h-.84zM159.2 171.4h.84v.84h-.84zM159.6 174.1h.84v.84h-.84zM157.6 172.8h.84v.84h-.84zM157.2 173.3h.84v.84h-.84zM158.1 173.5h.84v.84h-.84zM158.8 171.5h.84v.84h-.84zM159.7 171.9h.84v.84h-.84zM159.8 173.2h.84v.84h-.84zM160.1 172.1h.84v.84h-.84zM157.5 173.8h.84v.84h-.84zM157.8 171.5h.84v.84h-.84zM157.1 172.2h.84v.84h-.84zM158.8 171.6h.84v.84h-.84zM157.0 173.7h.84v.84h-.84zM158.8 173.7h.84v.84h-.84zM157.8 174.0h.84v.84h-.84zM157.6 172.6h.84v.84h-.84zM157.3 173.4h.84v.84h-.84zM159.1 171.8h.84v.84h-.84zM158.2 171.6h.84v.84h-.84zM157.1 173.7h.84v.84h-.84zM158.2 172.6h.84v.84h-.84zM160.1 173.5h.84v.84h-.84zM158.0 171.6h.84v.84h-.84zM158.0 173.5h.84v.84h-.84zM159.6 172.5h.84v.84h-.84zM159.2 174.3h.84v.84h-.84zM158.2 173.4h.84v.84h-.84zM158.6 173.8h.84v.84h-.84zM157.6 171.8h.84v.84h-.84zM157.6 173.0h.84v.84h-.84zM159.3 172.8h.84v.84h-.84zM158.7 172.0h.84v.84h-.84zM159.0 174.0h.84v.84h-.84zM157.4 173.2h.84v.84h-.84zM159.5 172.6h.84v.84h-.84zM158.8 173.0h.84v.84h-.84zM158.1 174.2h.84v.84h-.84zM158.3 174.0h.84v.84h-.84zM158.4 171.3h.84v.84h-.84zM159.1 173.3h.84v.84h-.84zM160.3 173.4h.84v.84h-.84zM157.0 173.4h.84v.84h-.84zM157.2 172.9h.84v.84h-.84zM157.5 172.6h.84v.84h-.84zM159.1 173.6h.84v.84h-.84zM159.3 171.5h.84v.84h-.84zM156.9 172.1h.84v.84h-.84zM160.1 173.1h.84v.84h-.84zM159.0 171.3h.84v.84h-.84zM158.8 172.9h.84v.84h-.84zM157.2 172.4h.84v.84h-.84zM159.1 173.5h.84v.84h-.84zM159.5 171.7h.84v.84h-.84zM158.1 174.4h.84v.84h-.84z"/>
<line x1="170.8" y1="111.5" x2="170.8" y2="179.4" stroke="#707070" stroke-width="0.75"/>
<line x1="147.6" y1="165.6" x2="170.8" y2="165.6" stroke="#707070" stroke-width="0.75"/>
<rect x="170.8" y="155.2" width="25.8" height="24.2" stroke="#707070" stroke-width="0.75" fill="none"/>
<text x="149" y="116" font-size="3.95" font-weight="normal" text-anchor="start" fill="#333">HC</text>
<text x="172" y="116" font-size="3.95" font-weight="normal" text-anchor="start" fill="#333">CD16- MDC 1.68%</text>
<text x="172" y="159.9" font-size="3.95" font-weight="normal" text-anchor="start" fill="#333">PDC 0.41%</text>
<line x1="133" y1="130.7" x2="133" y2="180.4" stroke="#000" stroke-width="1.15"/>
<path d="M130.8,132.4 L133,127.7 L135.2,132.4 Z" fill="#000"/>
<text x="126.9" y="177.7" font-size="8.7" font-weight="bold" text-anchor="start" fill="#000" transform="rotate(-90 126.9 177.7)">CD11C</text>
<rect x="255" y="110.8" width="68.60000000000002" height="67.7" stroke="#8a8a8a" stroke-width="0.85" fill="none"/>
<text x="253.8" y="111.7" font-size="2.7" font-weight="normal" text-anchor="end" fill="#555">10<tspan dy="-1" font-size="1.8">3</tspan></text>
<line x1="254" y1="110.8" x2="255" y2="110.8" stroke="#888" stroke-width="0.4"/>
<text x="253.8" y="128.7" font-size="2.7" font-weight="normal" text-anchor="end" fill="#555">10<tspan dy="-1" font-size="1.8">3</tspan></text>
<line x1="254" y1="127.8" x2="255" y2="127.8" stroke="#888" stroke-width="0.4"/>
<text x="253.8" y="145.70000000000002" font-size="2.7" font-weight="normal" text-anchor="end" fill="#555">10<tspan dy="-1" font-size="1.8">3</tspan></text>
<line x1="254" y1="144.8" x2="255" y2="144.8" stroke="#888" stroke-width="0.4"/>
<text x="253.8" y="162.70000000000002" font-size="2.7" font-weight="normal" text-anchor="end" fill="#555">10<tspan dy="-1" font-size="1.8">3</tspan></text>
<line x1="254" y1="161.8" x2="255" y2="161.8" stroke="#888" stroke-width="0.4"/>
<text x="268.2" y="183.20000000000002" font-size="2.7" font-weight="normal" text-anchor="middle" fill="#555">10<tspan dy="-1" font-size="1.8">3</tspan></text>
<line x1="267" y1="178.5" x2="267" y2="179.5" stroke="#888" stroke-width="0.4"/>
<text x="285.2" y="183.20000000000002" font-size="2.7" font-weight="normal" text-anchor="middle" fill="#555">10<tspan dy="-1" font-size="1.8">3</tspan></text>
<line x1="284" y1="178.5" x2="284" y2="179.5" stroke="#888" stroke-width="0.4"/>
<text x="302.2" y="183.20000000000002" font-size="2.7" font-weight="normal" text-anchor="middle" fill="#555">10<tspan dy="-1" font-size="1.8">3</tspan></text>
<line x1="301" y1="178.5" x2="301" y2="179.5" stroke="#888" stroke-width="0.4"/>
<text x="319.2" y="183.20000000000002" font-size="2.7" font-weight="normal" text-anchor="middle" fill="#555">10<tspan dy="-1" font-size="1.8">3</tspan></text>
<line x1="318" y1="178.5" x2="318" y2="179.5" stroke="#888" stroke-width="0.4"/>
<path fill="#9a9a9a" fill-opacity="0.4" d="M270.7 141.0h.72v.72h-.72zM269.9 144.8h.72v.72h-.72zM266.6 151.9h.72v.72h-.72zM270.4 142.8h.72v.72h-.72zM271.0 124.0h.72v.72h-.72zM270.1 148.8h.72v.72h-.72zM267.5 153.5h.72v.72h-.72zM267.2 138.7h.72v.72h-.72zM269.5 150.1h.72v.72h-.72zM270.5 149.7h.72v.72h-.72zM266.0 155.0h.72v.72h-.72zM270.3 137.6h.72v.72h-.72zM275.2 139.8h.72v.72h-.72zM276.1 134.9h.72v.72h-.72zM267.5 151.1h.72v.72h-.72zM267.5 139.4h.72v.72h-.72zM268.3 132.8h.72v.72h-.72zM270.4 141.3h.72v.72h-.72zM275.9 132.5h.72v.72h-.72zM275.3 139.3h.72v.72h-.72zM267.3 144.1h.72v.72h-.72zM269.4 150.4h.72v.72h-.72zM274.5 133.8h.72v.72h-.72zM261.5 156.3h.72v.72h-.72zM269.8 145.4h.72v.72h-.72zM270.1 151.3h.72v.72h-.72zM273.4 124.8h.72v.72h-.72zM271.5 125.6h.72v.72h-.72zM271.7 142.7h.72v.72h-.72zM273.5 132.8h.72v.72h-.72zM272.1 137.7h.72v.72h-.72zM268.6 147.2h.72v.72h-.72zM268.7 147.7h.72v.72h-.72zM266.0 154.3h.72v.72h-.72zM275.2 140.4h.72v.72h-.72zM271.4 140.3h.72v.72h-.72zM266.1 152.3h.72v.72h-.72zM271.1 149.0h.72v.72h-.72zM267.0 142.0h.72v.72h-.72zM269.2 143.7h.72v.72h-.72zM262.4 166.8h.72v.72h-.72zM266.0 163.4h.72v.72h-.72zM273.8 139.8h.72v.72h-.72zM268.0 159.0h.72v.72h-.72zM268.0 146.5h.72v.72h-.72zM270.0 148.4h.72v.72h-.72zM278.2 124.5h.72v.72h-.72zM269.5 153.0h.72v.72h-.72zM264.8 157.8h.72v.72h-.72zM264.5 161.9h.72v.72h-.72zM269.5 147.5h.72v.72h-.72zM270.5 147.3h.72v.72h-.72zM275.5 136.7h.72v.72h-.72zM271.4 134.2h.72v.72h-.72zM273.9 138.7h.72v.72h-.72zM272.8 138.0h.72v.72h-.72zM270.2 136.7h.72v.72h-.72zM272.2 136.4h.72v.72h-.72zM271.5 149.0h.72v.72h-.72zM271.5 144.4h.72v.72h-.72zM276.1 124.7h.72v.72h-.72zM272.9 134.6h.72v.72h-.72zM272.6 141.4h.72v.72h-.72zM276.2 126.2h.72v.72h-.72zM271.1 145.5h.72v.72h-.72zM267.2 135.6h.72v.72h-.72zM267.9 144.6h.72v.72h-.72zM277.9 138.1h.72v.72h-.72zM271.1 152.5h.72v.72h-.72zM273.3 130.4h.72v.72h-.72zM267.9 144.3h.72v.72h-.72zM268.2 148.4h.72v.72h-.72zM271.3 142.1h.72v.72h-.72zM268.9 146.7h.72v.72h-.72zM269.4 141.3h.72v.72h-.72zM267.9 144.8h.72v.72h-.72zM269.2 150.7h.72v.72h-.72zM272.9 134.1h.72v.72h-.72zM267.5 147.6h.72v.72h-.72zM268.5 144.0h.72v.72h-.72zM268.6 150.3h.72v.72h-.72zM264.3 154.9h.72v.72h-.72zM264.0 151.7h.72v.72h-.72zM267.4 154.5h.72v.72h-.72zM268.6 145.5h.72v.72h-.72zM270.3 137.2h.72v.72h-.72zM266.4 143.3h.72v.72h-.72zM265.8 153.4h.72v.72h-.72zM277.7 133.3h.72v.72h-.72zM272.1 147.3h.72v.72h-.72zM273.5 125.4h.72v.72h-.72zM271.9 138.3h.72v.72h-.72zM274.6 137.6h.72v.72h-.72zM278.6 129.0h.72v.72h-.72zM269.6 145.5h.72v.72h-.72zM271.4 151.5h.72v.72h-.72zM267.8 147.4h.72v.72h-.72zM270.1 146.6h.72v.72h-.72zM271.2 136.4h.72v.72h-.72zM271.8 130.1h.72v.72h-.72zM269.2 148.6h.72v.72h-.72zM266.6 150.0h.72v.72h-.72zM269.8 136.0h.72v.72h-.72zM272.8 131.4h.72v.72h-.72zM267.3 144.0h.72v.72h-.72zM269.8 141.6h.72v.72h-.72zM273.2 133.3h.72v.72h-.72zM274.1 140.1h.72v.72h-.72zM266.6 166.1h.72v.72h-.72zM274.7 138.0h.72v.72h-.72zM274.6 135.0h.72v.72h-.72zM267.0 138.3h.72v.72h-.72zM271.4 142.8h.72v.72h-.72zM271.0 150.7h.72v.72h-.72zM265.7 163.1h.72v.72h-.72zM267.9 148.5h.72v.72h-.72zM273.6 140.2h.72v.72h-.72zM267.4 155.1h.72v.72h-.72zM266.6 144.0h.72v.72h-.72zM268.3 151.8h.72v.72h-.72zM269.6 146.9h.72v.72h-.72zM266.8 158.8h.72v.72h-.72zM269.3 145.7h.72v.72h-.72zM267.0 150.4h.72v.72h-.72zM274.1 126.9h.72v.72h-.72zM269.6 136.6h.72v.72h-.72zM269.6 137.5h.72v.72h-.72zM270.1 143.9h.72v.72h-.72zM265.1 153.9h.72v.72h-.72zM271.6 144.7h.72v.72h-.72zM273.0 141.8h.72v.72h-.72zM267.3 153.7h.72v.72h-.72zM271.4 143.4h.72v.72h-.72zM268.6 137.8h.72v.72h-.72zM266.9 148.3h.72v.72h-.72zM269.9 145.2h.72v.72h-.72zM265.8 145.5h.72v.72h-.72zM267.1 156.4h.72v.72h-.72zM267.9 163.4h.72v.72h-.72zM271.9 146.2h.72v.72h-.72zM273.3 131.4h.72v.72h-.72zM266.2 155.1h.72v.72h-.72zM271.1 144.6h.72v.72h-.72zM273.9 133.5h.72v.72h-.72zM265.3 144.7h.72v.72h-.72zM268.1 141.4h.72v.72h-.72zM274.5 137.7h.72v.72h-.72zM268.1 142.1h.72v.72h-.72zM270.0 139.9h.72v.72h-.72zM271.4 141.8h.72v.72h-.72zM267.0 158.8h.72v.72h-.72zM276.3 114.0h.72v.72h-.72zM275.2 124.0h.72v.72h-.72zM264.2 153.4h.72v.72h-.72zM270.3 141.7h.72v.72h-.72zM266.8 151.3h.72v.72h-.72zM273.2 142.0h.72v.72h-.72zM270.8 129.8h.72v.72h-.72zM269.8 145.1h.72v.72h-.72zM265.7 150.2h.72v.72h-.72zM268.7 146.0h.72v.72h-.72zM268.3 140.0h.72v.72h-.72zM271.5 141.1h.72v.72h-.72zM270.1 148.8h.72v.72h-.72zM271.8 145.3h.72v.72h-.72zM262.8 153.2h.72v.72h-.72zM277.7 135.3h.72v.72h-.72zM268.1 146.5h.72v.72h-.72zM267.1 142.5h.72v.72h-.72zM271.2 142.5h.72v.72h-.72zM267.3 151.0h.72v.72h-.72zM265.9 155.0h.72v.72h-.72zM272.1 134.9h.72v.72h-.72zM270.1 150.1h.72v.72h-.72zM271.1 130.1h.72v.72h-.72zM267.8 149.9h.72v.72h-.72zM271.2 138.5h.72v.72h-.72zM266.1 154.7h.72v.72h-.72zM268.0 136.2h.72v.72h-.72zM267.3 146.0h.72v.72h-.72zM269.9 155.5h.72v.72h-.72zM271.8 139.9h.72v.72h-.72zM274.0 140.3h.72v.72h-.72zM267.0 148.2h.72v.72h-.72zM269.2 151.7h.72v.72h-.72zM268.5 137.7h.72v.72h-.72zM269.2 144.2h.72v.72h-.72zM274.6 130.8h.72v.72h-.72zM271.1 130.7h.72v.72h-.72zM261.9 157.9h.72v.72h-.72zM276.9 123.4h.72v.72h-.72zM268.1 142.5h.72v.72h-.72zM267.7 157.3h.72v.72h-.72zM275.6 132.7h.72v.72h-.72zM274.9 132.4h.72v.72h-.72zM271.8 141.2h.72v.72h-.72zM275.9 136.4h.72v.72h-.72zM270.7 150.9h.72v.72h-.72zM272.3 127.9h.72v.72h-.72zM269.8 146.4h.72v.72h-.72zM266.6 145.1h.72v.72h-.72zM262.1 155.0h.72v.72h-.72zM267.5 145.3h.72v.72h-.72zM267.3 148.9h.72v.72h-.72zM277.2 127.3h.72v.72h-.72zM271.1 143.9h.72v.72h-.72zM266.7 148.9h.72v.72h-.72zM268.7 151.8h.72v.72h-.72zM265.4 144.2h.72v.72h-.72zM269.9 141.8h.72v.72h-.72zM272.7 148.7h.72v.72h-.72zM275.3 136.6h.72v.72h-.72zM272.4 134.2h.72v.72h-.72zM270.6 140.3h.72v.72h-.72zM275.2 136.4h.72v.72h-.72z"/>
<path fill="#a070d0" fill-opacity="0.45" d="M271.6 167.0h.76v.76h-.76zM273.5 167.5h.76v.76h-.76zM265.8 170.4h.76v.76h-.76zM267.4 166.9h.76v.76h-.76zM270.3 172.0h.76v.76h-.76zM271.1 164.1h.76v.76h-.76zM271.0 161.7h.76v.76h-.76zM268.6 167.8h.76v.76h-.76zM265.5 171.2h.76v.76h-.76zM264.7 167.1h.76v.76h-.76zM264.9 173.6h.76v.76h-.76zM271.1 169.5h.76v.76h-.76zM268.0 167.2h.76v.76h-.76zM271.1 172.9h.76v.76h-.76zM265.9 165.4h.76v.76h-.76zM271.7 164.9h.76v.76h-.76zM269.7 174.0h.76v.76h-.76zM263.1 170.9h.76v.76h-.76zM269.6 173.7h.76v.76h-.76zM272.3 166.5h.76v.76h-.76zM269.3 171.4h.76v.76h-.76zM271.9 171.0h.76v.76h-.76zM269.5 164.8h.76v.76h-.76zM269.0 169.7h.76v.76h-.76zM269.1 164.5h.76v.76h-.76zM265.7 170.2h.76v.76h-.76zM265.6 173.9h.76v.76h-.76zM270.3 168.5h.76v.76h-.76zM272.0 171.4h.76v.76h-.76zM269.4 171.1h.76v.76h-.76zM273.5 166.5h.76v.76h-.76zM271.1 172.0h.76v.76h-.76zM265.4 172.4h.76v.76h-.76zM267.4 166.8h.76v.76h-.76zM266.9 170.3h.76v.76h-.76zM266.2 166.2h.76v.76h-.76zM268.0 169.5h.76v.76h-.76zM265.4 166.1h.76v.76h-.76zM264.6 167.1h.76v.76h-.76zM270.8 171.4h.76v.76h-.76zM265.1 169.5h.76v.76h-.76zM267.1 170.9h.76v.76h-.76zM269.0 162.3h.76v.76h-.76zM264.0 170.6h.76v.76h-.76zM266.8 172.8h.76v.76h-.76zM265.3 161.6h.76v.76h-.76zM275.6 176.5h.76v.76h-.76zM266.4 175.4h.76v.76h-.76zM266.1 166.1h.76v.76h-.76zM264.2 163.9h.76v.76h-.76zM272.4 164.6h.76v.76h-.76zM268.0 169.8h.76v.76h-.76zM268.5 170.8h.76v.76h-.76zM270.9 171.0h.76v.76h-.76zM266.2 170.0h.76v.76h-.76zM268.8 171.6h.76v.76h-.76zM271.6 168.6h.76v.76h-.76zM269.5 168.6h.76v.76h-.76zM270.4 165.4h.76v.76h-.76zM267.3 166.6h.76v.76h-.76zM264.9 164.6h.76v.76h-.76zM267.1 166.8h.76v.76h-.76zM270.3 171.4h.76v.76h-.76zM269.8 167.8h.76v.76h-.76zM269.5 168.8h.76v.76h-.76zM263.6 165.8h.76v.76h-.76zM267.4 172.1h.76v.76h-.76zM263.8 177.1h.76v.76h-.76zM267.6 166.5h.76v.76h-.76zM268.2 167.7h.76v.76h-.76zM268.3 163.0h.76v.76h-.76zM269.4 171.0h.76v.76h-.76zM275.0 168.8h.76v.76h-.76zM269.0 175.5h.76v.76h-.76zM265.6 173.1h.76v.76h-.76zM268.6 167.2h.76v.76h-.76zM268.0 172.5h.76v.76h-.76zM269.2 161.4h.76v.76h-.76zM267.6 168.2h.76v.76h-.76zM272.2 173.2h.76v.76h-.76zM264.1 169.4h.76v.76h-.76zM260.5 170.1h.76v.76h-.76zM267.0 174.1h.76v.76h-.76zM270.9 165.3h.76v.76h-.76zM269.0 168.8h.76v.76h-.76zM267.5 169.3h.76v.76h-.76zM267.3 174.3h.76v.76h-.76z"/>
<g filter="url(#b6)"><ellipse cx="267.8" cy="169.5" rx="5.4" ry="7.0" fill="#c090d8" fill-opacity="0.4" transform="rotate(0 267.8 169.5)"/><ellipse cx="267.8" cy="169.5" rx="4.6" ry="6.2" fill="#a070d0" fill-opacity="0.55" transform="rotate(0 267.8 169.5)"/><ellipse cx="267.8" cy="170.5" rx="3.4" ry="4.4" fill="#7060d0" fill-opacity="0.6" transform="rotate(0 267.8 169.5)"/><ellipse cx="267.8" cy="171.0" rx="2.4" ry="3.2" fill="#5a68d8" fill-opacity="0.7" transform="rotate(0 267.8 169.5)"/></g>
<path fill="#c898d8" fill-opacity="0.85" d="M261.7 167.8h.84v.84h-.84zM261.0 164.0h.84v.84h-.84zM273.7 168.3h.84v.84h-.84zM264.4 175.4h.84v.84h-.84zM272.4 166.6h.84v.84h-.84zM272.3 167.0h.84v.84h-.84zM262.3 171.1h.84v.84h-.84zM259.9 172.4h.84v.84h-.84zM271.8 164.3h.84v.84h-.84zM272.2 177.3h.84v.84h-.84zM271.4 164.9h.84v.84h-.84zM265.5 175.8h.84v.84h-.84zM265.5 161.9h.84v.84h-.84zM267.5 176.5h.84v.84h-.84zM265.5 162.4h.84v.84h-.84zM265.1 162.3h.84v.84h-.84zM261.6 170.2h.84v.84h-.84zM262.2 170.6h.84v.84h-.84zM272.4 167.2h.84v.84h-.84zM269.6 162.0h.84v.84h-.84zM263.7 174.7h.84v.84h-.84zM265.6 162.0h.84v.84h-.84zM270.9 163.3h.84v.84h-.84zM272.6 168.9h.84v.84h-.84zM262.2 167.4h.84v.84h-.84zM262.7 162.1h.84v.84h-.84zM267.3 176.5h.84v.84h-.84zM267.7 161.5h.84v.84h-.84zM261.1 171.1h.84v.84h-.84zM274.5 171.4h.84v.84h-.84zM268.6 162.3h.84v.84h-.84zM275.6 168.0h.84v.84h-.84zM261.1 168.1h.84v.84h-.84zM266.2 176.8h.84v.84h-.84zM273.1 173.4h.84v.84h-.84zM263.3 174.8h.84v.84h-.84zM260.5 167.2h.84v.84h-.84zM262.2 176.6h.84v.84h-.84zM262.1 169.6h.84v.84h-.84zM257.3 164.8h.84v.84h-.84zM262.1 169.2h.84v.84h-.84zM269.4 162.4h.84v.84h-.84zM273.7 170.4h.84v.84h-.84zM273.4 170.7h.84v.84h-.84zM267.2 177.1h.84v.84h-.84zM272.2 174.7h.84v.84h-.84zM272.0 165.1h.84v.84h-.84zM272.6 166.2h.84v.84h-.84zM263.3 174.8h.84v.84h-.84zM263.7 176.3h.84v.84h-.84zM261.1 167.0h.84v.84h-.84zM264.0 175.8h.84v.84h-.84zM261.1 166.6h.84v.84h-.84zM272.7 169.8h.84v.84h-.84zM260.9 168.9h.84v.84h-.84zM272.2 165.8h.84v.84h-.84zM273.7 168.5h.84v.84h-.84zM263.1 164.4h.84v.84h-.84zM259.9 169.0h.84v.84h-.84zM272.2 164.0h.84v.84h-.84zM263.5 163.4h.84v.84h-.84zM271.9 174.9h.84v.84h-.84zM260.9 171.1h.84v.84h-.84zM264.5 162.5h.84v.84h-.84zM271.8 163.1h.84v.84h-.84zM276.0 168.0h.84v.84h-.84zM275.3 168.7h.84v.84h-.84zM262.7 174.1h.84v.84h-.84zM271.9 163.9h.84v.84h-.84zM273.0 166.0h.84v.84h-.84zM261.5 168.7h.84v.84h-.84zM266.0 176.0h.84v.84h-.84zM262.6 176.9h.84v.84h-.84zM264.0 162.6h.84v.84h-.84zM270.6 174.9h.84v.84h-.84zM273.3 166.9h.84v.84h-.84zM267.8 177.0h.84v.84h-.84zM269.9 175.3h.84v.84h-.84zM263.7 175.5h.84v.84h-.84zM264.1 163.3h.84v.84h-.84zM268.1 177.3h.84v.84h-.84z"/>
<path fill="#a070d0" fill-opacity="0.85" d="M270.1 173.9h.84v.84h-.84zM271.2 170.8h.84v.84h-.84zM267.4 174.0h.84v.84h-.84zM264.6 173.4h.84v.84h-.84zM265.9 173.9h.84v.84h-.84zM266.5 173.5h.84v.84h-.84zM264.1 170.7h.84v.84h-.84zM270.7 174.3h.84v.84h-.84zM268.7 173.9h.84v.84h-.84zM267.8 175.4h.84v.84h-.84zM263.5 170.6h.84v.84h-.84zM264.9 173.1h.84v.84h-.84zM263.4 170.8h.84v.84h-.84zM270.6 167.5h.84v.84h-.84zM264.4 172.3h.84v.84h-.84zM271.0 167.1h.84v.84h-.84zM270.6 166.4h.84v.84h-.84zM269.0 173.4h.84v.84h-.84zM270.7 164.9h.84v.84h-.84zM266.8 163.9h.84v.84h-.84zM268.5 165.0h.84v.84h-.84zM262.8 169.6h.84v.84h-.84zM263.6 171.2h.84v.84h-.84zM262.9 168.0h.84v.84h-.84zM263.9 168.8h.84v.84h-.84zM268.3 174.5h.84v.84h-.84zM264.5 166.9h.84v.84h-.84zM265.4 174.0h.84v.84h-.84zM271.2 171.2h.84v.84h-.84zM267.4 174.7h.84v.84h-.84zM272.2 169.3h.84v.84h-.84zM268.8 174.2h.84v.84h-.84zM271.1 173.0h.84v.84h-.84zM268.7 165.2h.84v.84h-.84zM271.9 169.4h.84v.84h-.84zM263.7 166.1h.84v.84h-.84zM270.2 163.9h.84v.84h-.84zM268.8 165.0h.84v.84h-.84zM263.5 171.7h.84v.84h-.84zM267.8 163.0h.84v.84h-.84zM270.8 171.6h.84v.84h-.84zM266.2 165.3h.84v.84h-.84zM268.5 163.9h.84v.84h-.84zM270.1 172.0h.84v.84h-.84zM270.4 171.5h.84v.84h-.84zM268.1 164.7h.84v.84h-.84zM264.1 167.5h.84v.84h-.84zM265.4 173.2h.84v.84h-.84zM266.7 164.2h.84v.84h-.84zM268.9 165.3h.84v.84h-.84zM269.2 173.4h.84v.84h-.84zM267.4 163.5h.84v.84h-.84zM268.1 173.7h.84v.84h-.84zM270.9 170.6h.84v.84h-.84zM270.9 170.9h.84v.84h-.84zM266.8 174.0h.84v.84h-.84zM271.1 166.9h.84v.84h-.84zM271.2 172.5h.84v.84h-.84zM266.8 175.9h.84v.84h-.84zM262.9 167.1h.84v.84h-.84zM267.8 175.7h.84v.84h-.84zM266.5 175.0h.84v.84h-.84zM265.9 164.5h.84v.84h-.84zM264.1 174.5h.84v.84h-.84zM267.5 164.7h.84v.84h-.84zM270.5 165.7h.84v.84h-.84zM270.3 172.6h.84v.84h-.84zM271.2 167.3h.84v.84h-.84zM270.1 165.2h.84v.84h-.84zM263.4 167.4h.84v.84h-.84zM263.1 169.5h.84v.84h-.84zM267.6 175.8h.84v.84h-.84zM270.2 172.9h.84v.84h-.84zM269.1 174.8h.84v.84h-.84zM266.0 163.2h.84v.84h-.84zM271.2 170.3h.84v.84h-.84zM270.7 167.3h.84v.84h-.84zM269.6 175.0h.84v.84h-.84zM264.7 173.8h.84v.84h-.84zM269.6 172.8h.84v.84h-.84zM269.6 173.2h.84v.84h-.84zM267.6 164.8h.84v.84h-.84zM272.2 168.9h.84v.84h-.84zM263.7 168.3h.84v.84h-.84zM267.6 173.8h.84v.84h-.84zM270.8 169.2h.84v.84h-.84zM270.5 173.1h.84v.84h-.84zM266.9 165.0h.84v.84h-.84zM264.4 164.8h.84v.84h-.84zM264.8 172.4h.84v.84h-.84zM269.5 165.7h.84v.84h-.84zM268.8 165.4h.84v.84h-.84zM270.9 171.2h.84v.84h-.84zM262.8 168.0h.84v.84h-.84zM263.6 170.5h.84v.84h-.84zM269.0 174.3h.84v.84h-.84zM269.1 173.5h.84v.84h-.84zM266.9 175.2h.84v.84h-.84zM271.6 170.5h.84v.84h-.84zM270.8 170.3h.84v.84h-.84zM267.3 164.3h.84v.84h-.84zM271.1 173.1h.84v.84h-.84zM264.1 170.4h.84v.84h-.84zM270.9 168.6h.84v.84h-.84zM263.5 169.1h.84v.84h-.84zM270.6 165.5h.84v.84h-.84zM263.6 170.9h.84v.84h-.84zM267.2 175.0h.84v.84h-.84zM269.5 163.4h.84v.84h-.84zM263.3 171.8h.84v.84h-.84zM271.2 166.3h.84v.84h-.84zM267.7 163.8h.84v.84h-.84zM268.8 165.3h.84v.84h-.84zM271.0 171.4h.84v.84h-.84zM269.5 165.8h.84v.84h-.84zM269.0 163.1h.84v.84h-.84z"/>
<path fill="#7a60d0" fill-opacity="0.85" d="M267.0 166.9h.84v.84h-.84zM267.8 166.2h.84v.84h-.84zM268.5 165.7h.84v.84h-.84zM264.4 169.6h.84v.84h-.84zM267.2 172.7h.84v.84h-.84zM268.6 172.0h.84v.84h-.84zM266.8 165.8h.84v.84h-.84zM265.0 170.1h.84v.84h-.84zM269.5 170.9h.84v.84h-.84zM266.9 165.2h.84v.84h-.84zM265.1 172.1h.84v.84h-.84zM266.8 165.5h.84v.84h-.84zM265.4 168.7h.84v.84h-.84zM266.3 166.7h.84v.84h-.84zM269.1 171.7h.84v.84h-.84zM264.3 168.9h.84v.84h-.84zM269.7 171.9h.84v.84h-.84zM265.6 170.8h.84v.84h-.84zM270.0 170.9h.84v.84h-.84zM264.8 170.1h.84v.84h-.84zM264.6 170.7h.84v.84h-.84zM269.8 168.8h.84v.84h-.84zM269.7 171.5h.84v.84h-.84zM269.2 171.3h.84v.84h-.84zM268.6 167.3h.84v.84h-.84zM265.8 167.1h.84v.84h-.84zM264.7 169.7h.84v.84h-.84zM268.4 166.6h.84v.84h-.84zM267.8 172.1h.84v.84h-.84zM265.3 169.4h.84v.84h-.84zM269.0 167.8h.84v.84h-.84zM269.6 166.9h.84v.84h-.84zM267.4 165.5h.84v.84h-.84zM270.3 170.1h.84v.84h-.84zM270.2 168.5h.84v.84h-.84zM266.6 172.2h.84v.84h-.84zM265.9 172.0h.84v.84h-.84zM265.1 169.4h.84v.84h-.84zM270.4 168.4h.84v.84h-.84zM265.6 172.6h.84v.84h-.84zM269.6 172.4h.84v.84h-.84zM270.1 168.8h.84v.84h-.84zM266.6 166.0h.84v.84h-.84zM268.6 166.8h.84v.84h-.84zM269.4 172.5h.84v.84h-.84zM269.4 170.9h.84v.84h-.84zM265.1 167.3h.84v.84h-.84zM268.3 172.7h.84v.84h-.84zM266.8 166.0h.84v.84h-.84zM266.1 173.1h.84v.84h-.84zM269.3 172.7h.84v.84h-.84zM267.2 166.6h.84v.84h-.84zM268.8 166.7h.84v.84h-.84zM265.5 168.4h.84v.84h-.84zM265.4 167.9h.84v.84h-.84zM268.7 165.8h.84v.84h-.84zM268.6 171.9h.84v.84h-.84zM267.6 173.4h.84v.84h-.84zM268.9 167.4h.84v.84h-.84zM269.7 169.8h.84v.84h-.84zM268.9 173.1h.84v.84h-.84zM269.7 168.3h.84v.84h-.84zM268.6 171.5h.84v.84h-.84zM270.4 169.5h.84v.84h-.84zM264.8 169.1h.84v.84h-.84zM269.7 171.8h.84v.84h-.84zM267.9 172.5h.84v.84h-.84zM265.7 173.0h.84v.84h-.84zM269.4 172.1h.84v.84h-.84zM270.1 170.3h.84v.84h-.84zM266.9 166.4h.84v.84h-.84zM269.8 169.2h.84v.84h-.84zM265.9 166.8h.84v.84h-.84zM268.4 167.1h.84v.84h-.84zM269.0 171.0h.84v.84h-.84zM265.7 168.2h.84v.84h-.84zM264.5 169.2h.84v.84h-.84zM265.3 167.2h.84v.84h-.84zM265.3 168.1h.84v.84h-.84zM268.7 172.1h.84v.84h-.84zM264.5 170.6h.84v.84h-.84zM264.2 170.6h.84v.84h-.84zM267.3 173.0h.84v.84h-.84zM265.1 167.8h.84v.84h-.84zM270.0 168.3h.84v.84h-.84zM265.8 171.4h.84v.84h-.84zM270.1 170.8h.84v.84h-.84zM269.7 168.3h.84v.84h-.84zM266.0 166.2h.84v.84h-.84zM270.2 169.1h.84v.84h-.84zM266.1 172.6h.84v.84h-.84zM269.5 172.2h.84v.84h-.84zM266.4 172.4h.84v.84h-.84zM269.2 170.2h.84v.84h-.84zM270.1 167.2h.84v.84h-.84zM268.4 172.7h.84v.84h-.84zM267.9 166.9h.84v.84h-.84zM265.7 168.1h.84v.84h-.84zM265.3 169.9h.84v.84h-.84zM269.7 167.6h.84v.84h-.84zM266.4 172.1h.84v.84h-.84zM266.7 165.4h.84v.84h-.84zM265.1 167.7h.84v.84h-.84zM265.3 166.1h.84v.84h-.84zM266.4 166.6h.84v.84h-.84zM268.4 172.8h.84v.84h-.84zM269.6 168.3h.84v.84h-.84zM269.4 172.3h.84v.84h-.84zM268.2 172.0h.84v.84h-.84zM268.7 172.2h.84v.84h-.84zM269.3 169.4h.84v.84h-.84zM265.0 168.0h.84v.84h-.84zM265.3 170.5h.84v.84h-.84zM265.9 166.1h.84v.84h-.84zM269.8 168.1h.84v.84h-.84zM269.9 171.9h.84v.84h-.84zM265.5 168.1h.84v.84h-.84zM268.0 166.8h.84v.84h-.84zM269.5 169.9h.84v.84h-.84zM268.1 165.8h.84v.84h-.84zM269.4 166.2h.84v.84h-.84zM265.2 168.3h.84v.84h-.84zM268.4 167.4h.84v.84h-.84zM268.0 167.0h.84v.84h-.84zM270.3 171.1h.84v.84h-.84zM264.4 169.7h.84v.84h-.84zM269.7 166.6h.84v.84h-.84zM267.1 166.1h.84v.84h-.84zM269.1 173.0h.84v.84h-.84zM265.5 168.3h.84v.84h-.84zM265.9 171.0h.84v.84h-.84zM269.3 170.0h.84v.84h-.84zM265.3 166.5h.84v.84h-.84zM266.2 172.9h.84v.84h-.84zM268.1 166.9h.84v.84h-.84zM264.7 171.1h.84v.84h-.84zM269.9 167.2h.84v.84h-.84zM268.0 172.7h.84v.84h-.84zM265.5 170.9h.84v.84h-.84zM264.6 170.4h.84v.84h-.84zM268.3 165.5h.84v.84h-.84z"/>
<path fill="#5a68d8" fill-opacity="0.85" d="M268.9 169.4h.84v.84h-.84zM267.6 169.0h.84v.84h-.84zM266.9 168.9h.84v.84h-.84zM266.4 168.6h.84v.84h-.84zM266.4 170.1h.84v.84h-.84zM267.4 169.2h.84v.84h-.84zM266.6 170.8h.84v.84h-.84zM267.8 171.2h.84v.84h-.84zM267.5 167.3h.84v.84h-.84zM266.4 170.4h.84v.84h-.84zM267.9 170.3h.84v.84h-.84zM267.0 169.2h.84v.84h-.84zM267.1 168.8h.84v.84h-.84zM267.4 171.2h.84v.84h-.84zM267.2 169.7h.84v.84h-.84zM266.5 167.9h.84v.84h-.84zM268.2 170.9h.84v.84h-.84zM266.0 168.1h.84v.84h-.84zM266.7 168.0h.84v.84h-.84zM267.3 168.6h.84v.84h-.84zM268.8 168.8h.84v.84h-.84zM267.8 167.1h.84v.84h-.84zM267.3 169.7h.84v.84h-.84zM268.2 171.5h.84v.84h-.84zM267.8 168.1h.84v.84h-.84zM266.6 171.3h.84v.84h-.84zM267.3 168.6h.84v.84h-.84zM267.2 170.7h.84v.84h-.84zM265.9 170.5h.84v.84h-.84zM267.0 171.3h.84v.84h-.84zM268.0 169.3h.84v.84h-.84zM267.1 167.6h.84v.84h-.84zM268.0 170.2h.84v.84h-.84zM267.8 171.0h.84v.84h-.84zM265.9 169.7h.84v.84h-.84zM268.3 167.4h.84v.84h-.84zM268.3 168.3h.84v.84h-.84zM268.2 171.1h.84v.84h-.84zM267.3 169.3h.84v.84h-.84zM266.3 169.7h.84v.84h-.84zM266.6 170.8h.84v.84h-.84zM268.2 168.0h.84v.84h-.84zM268.2 171.0h.84v.84h-.84zM266.8 168.9h.84v.84h-.84zM267.3 170.3h.84v.84h-.84zM266.7 167.8h.84v.84h-.84zM265.7 168.8h.84v.84h-.84zM267.3 171.6h.84v.84h-.84zM267.4 171.2h.84v.84h-.84zM267.5 169.6h.84v.84h-.84zM268.8 170.8h.84v.84h-.84zM265.8 169.7h.84v.84h-.84zM266.4 170.1h.84v.84h-.84zM269.1 169.8h.84v.84h-.84zM266.9 170.5h.84v.84h-.84zM267.9 167.3h.84v.84h-.84zM266.0 170.5h.84v.84h-.84zM268.1 170.4h.84v.84h-.84zM266.5 171.2h.84v.84h-.84zM269.1 169.0h.84v.84h-.84zM267.4 167.2h.84v.84h-.84zM267.7 168.8h.84v.84h-.84zM267.9 170.5h.84v.84h-.84zM266.9 167.6h.84v.84h-.84zM266.1 170.7h.84v.84h-.84zM268.5 168.7h.84v.84h-.84zM268.2 167.8h.84v.84h-.84zM267.3 170.0h.84v.84h-.84zM267.5 170.1h.84v.84h-.84zM266.1 170.3h.84v.84h-.84zM266.5 171.4h.84v.84h-.84zM267.1 170.9h.84v.84h-.84zM266.2 168.6h.84v.84h-.84zM266.4 170.3h.84v.84h-.84zM267.7 169.9h.84v.84h-.84zM267.2 168.7h.84v.84h-.84zM267.7 169.6h.84v.84h-.84zM265.9 168.1h.84v.84h-.84zM266.5 170.6h.84v.84h-.84zM268.1 169.1h.84v.84h-.84zM268.2 171.3h.84v.84h-.84zM268.5 171.1h.84v.84h-.84zM266.9 170.6h.84v.84h-.84zM267.3 168.3h.84v.84h-.84zM269.1 168.6h.84v.84h-.84zM267.8 167.3h.84v.84h-.84zM267.6 170.5h.84v.84h-.84zM265.9 169.7h.84v.84h-.84zM266.8 167.2h.84v.84h-.84zM268.8 168.5h.84v.84h-.84zM266.9 169.8h.84v.84h-.84zM266.8 171.1h.84v.84h-.84zM267.9 170.0h.84v.84h-.84zM267.1 168.6h.84v.84h-.84zM267.0 167.8h.84v.84h-.84zM266.4 169.6h.84v.84h-.84zM267.6 171.4h.84v.84h-.84zM268.1 168.7h.84v.84h-.84zM268.7 169.0h.84v.84h-.84zM267.7 168.9h.84v.84h-.84zM265.8 169.9h.84v.84h-.84zM268.6 170.5h.84v.84h-.84zM267.2 168.2h.84v.84h-.84zM266.0 170.7h.84v.84h-.84zM268.0 169.6h.84v.84h-.84z"/>
<line x1="279.2" y1="110.8" x2="279.2" y2="178.5" stroke="#707070" stroke-width="0.75"/>
<line x1="255" y1="161" x2="279.2" y2="161" stroke="#707070" stroke-width="0.75"/>
<rect x="279.2" y="154.2" width="22.7" height="24.3" stroke="#707070" stroke-width="0.75" fill="none"/>
<text x="256.5" y="115.3" font-size="3.95" font-weight="normal" text-anchor="start" fill="#333">CHB</text>
<text x="280.5" y="115.3" font-size="3.95" font-weight="normal" text-anchor="start" fill="#333">CD16- MDC 1.63%</text>
<text x="280.5" y="159" font-size="3.95" font-weight="normal" text-anchor="start" fill="#333">PDC 0.12%</text>
<line x1="147.7" y1="191.7" x2="326.2" y2="191.7" stroke="#000" stroke-width="1.15"/>
<path d="M324.5,189.5 L329.2,191.7 L324.5,193.89999999999998 Z" fill="#000"/>
<text x="147.7" y="203.4" font-size="8.7" font-weight="bold" text-anchor="start" fill="#000">CD123</text>
<line x1="36.4" y1="217.1" x2="36.4" y2="283.1" stroke="#000" stroke-width="1.0"/>
<line x1="33.8" y1="217.5" x2="36.4" y2="217.5" stroke="#000" stroke-width="1.0"/>
<text x="33.4" y="219.25" font-size="4.9" font-weight="bold" text-anchor="end" fill="#000">0.8</text>
<line x1="33.8" y1="233.8" x2="36.4" y2="233.8" stroke="#000" stroke-width="1.0"/>
<text x="33.4" y="235.55" font-size="4.9" font-weight="bold" text-anchor="end" fill="#000">0.6</text>
<line x1="33.8" y1="250" x2="36.4" y2="250" stroke="#000" stroke-width="1.0"/>
<text x="33.4" y="251.75" font-size="4.9" font-weight="bold" text-anchor="end" fill="#000">0.4</text>
<line x1="33.8" y1="266.3" x2="36.4" y2="266.3" stroke="#000" stroke-width="1.0"/>
<text x="33.4" y="268.05" font-size="4.9" font-weight="bold" text-anchor="end" fill="#000">0.2</text>
<line x1="33.8" y1="282.6" x2="36.4" y2="282.6" stroke="#000" stroke-width="1.0"/>
<text x="33.4" y="284.35" font-size="4.9" font-weight="bold" text-anchor="end" fill="#000">0.0</text>
<text x="24.3" y="243.3" font-size="5.2" font-weight="bold" text-anchor="middle" fill="#000" transform="rotate(-90 24.3 243.3)">PDC in PBMC(%)</text>
<line x1="36.4" y1="282.6" x2="80.8" y2="282.6" stroke="#000" stroke-width="1.0"/>
<line x1="49" y1="282.6" x2="49" y2="284.6" stroke="#000" stroke-width="1.0"/>
<text x="49" y="291" font-size="4.9" font-weight="bold" text-anchor="middle" fill="#000">Healthy</text>
<line x1="67.5" y1="282.6" x2="67.5" y2="284.6" stroke="#000" stroke-width="1.0"/>
<text x="67.5" y="291" font-size="4.9" font-weight="bold" text-anchor="middle" fill="#000">CHB</text>
<g fill="#000"><circle cx="49.30" cy="231.33" r="0.95"/><circle cx="48.50" cy="239.06" r="0.95"/><circle cx="47.50" cy="244.35" r="0.95"/><circle cx="51.00" cy="244.35" r="0.95"/><circle cx="46.00" cy="247.61" r="0.95"/><circle cx="49.50" cy="247.61" r="0.95"/><circle cx="53.00" cy="249.24" r="0.95"/><circle cx="45.50" cy="250.86" r="0.95"/><circle cx="52.00" cy="251.68" r="0.95"/><circle cx="48.00" cy="253.31" r="0.95"/><circle cx="47.00" cy="256.15" r="0.95"/><circle cx="52.50" cy="255.75" r="0.95"/><circle cx="44.50" cy="259.00" r="0.95"/><circle cx="53.50" cy="259.81" r="0.95"/><circle cx="44.50" cy="262.66" r="0.95"/><circle cx="48.50" cy="263.07" r="0.95"/><circle cx="51.50" cy="263.07" r="0.95"/><circle cx="55.00" cy="263.07" r="0.95"/></g>
<g fill="#1f35e6"><circle cx="67.30" cy="241.10" r="1.05"/><circle cx="67.30" cy="244.35" r="1.05"/><circle cx="67.30" cy="246.80" r="1.05"/><circle cx="67.30" cy="255.58" r="1.05"/><circle cx="67.30" cy="258.33" r="1.05"/><circle cx="70.50" cy="258.80" r="1.05"/><circle cx="65.70" cy="259.26" r="1.05"/><circle cx="68.90" cy="259.72" r="1.05"/><circle cx="67.30" cy="260.36" r="1.05"/><circle cx="64.10" cy="260.48" r="1.05"/><circle cx="70.50" cy="260.51" r="1.05"/><circle cx="61.91" cy="260.84" r="1.05"/><circle cx="72.32" cy="260.87" r="1.05"/><circle cx="65.70" cy="261.42" r="1.05"/><circle cx="68.90" cy="261.68" r="1.05"/><circle cx="70.02" cy="261.83" r="1.05"/><circle cx="67.30" cy="262.36" r="1.05"/><circle cx="64.10" cy="262.36" r="1.05"/><circle cx="65.70" cy="263.16" r="1.05"/><circle cx="68.90" cy="263.41" r="1.05"/><circle cx="67.30" cy="264.13" r="1.05"/><circle cx="70.50" cy="264.34" r="1.05"/><circle cx="64.10" cy="264.39" r="1.05"/><circle cx="61.46" cy="264.57" r="1.05"/><circle cx="72.88" cy="264.59" r="1.05"/><circle cx="63.93" cy="264.66" r="1.05"/><circle cx="63.11" cy="264.71" r="1.05"/><circle cx="64.48" cy="264.86" r="1.05"/><circle cx="67.52" cy="264.93" r="1.05"/><circle cx="63.46" cy="265.23" r="1.05"/><circle cx="69.15" cy="265.43" r="1.05"/><circle cx="65.05" cy="265.44" r="1.05"/><circle cx="71.74" cy="265.62" r="1.05"/><circle cx="61.27" cy="265.71" r="1.05"/><circle cx="64.39" cy="265.95" r="1.05"/><circle cx="73.22" cy="266.04" r="1.05"/><circle cx="68.24" cy="266.43" r="1.05"/><circle cx="66.31" cy="266.75" r="1.05"/><circle cx="70.50" cy="267.64" r="1.05"/><circle cx="64.10" cy="267.81" r="1.05"/><circle cx="72.55" cy="268.01" r="1.05"/><circle cx="61.81" cy="268.02" r="1.05"/><circle cx="67.30" cy="268.44" r="1.05"/><circle cx="62.86" cy="268.50" r="1.05"/><circle cx="73.10" cy="268.69" r="1.05"/><circle cx="68.97" cy="268.77" r="1.05"/><circle cx="65.70" cy="269.36" r="1.05"/><circle cx="70.50" cy="269.61" r="1.05"/><circle cx="64.08" cy="269.88" r="1.05"/><circle cx="67.30" cy="270.28" r="1.05"/><circle cx="68.90" cy="271.42" r="1.05"/><circle cx="65.70" cy="271.61" r="1.05"/><circle cx="70.50" cy="272.01" r="1.05"/><circle cx="67.30" cy="272.40" r="1.05"/><circle cx="64.10" cy="272.59" r="1.05"/><circle cx="68.90" cy="273.19" r="1.05"/><circle cx="65.70" cy="273.85" r="1.05"/><circle cx="70.50" cy="274.07" r="1.05"/><circle cx="67.30" cy="275.28" r="1.05"/><circle cx="64.10" cy="275.29" r="1.05"/><circle cx="72.10" cy="275.49" r="1.05"/><circle cx="70.16" cy="275.82" r="1.05"/><circle cx="65.70" cy="276.60" r="1.05"/><circle cx="62.50" cy="276.90" r="1.05"/><circle cx="68.65" cy="276.90" r="1.05"/><circle cx="61.88" cy="276.90" r="1.05"/><circle cx="70.50" cy="277.72" r="1.05"/></g>
<line x1="43.2" y1="255" x2="56" y2="255" stroke="#000" stroke-width="1.0"/>
<line x1="60.5" y1="265.5" x2="74.2" y2="265.5" stroke="#000" stroke-width="1.0"/>
<line x1="45.9" y1="223.2" x2="71.3" y2="223.2" stroke="#111" stroke-width="1.1"/>
<text x="58.6" y="223.4" font-size="5.8" font-weight="bold" text-anchor="middle" fill="#000">***</text>
<line x1="112" y1="216.4" x2="112" y2="282.9" stroke="#000" stroke-width="1.0"/>
<line x1="109.4" y1="216.8" x2="112" y2="216.8" stroke="#000" stroke-width="1.0"/>
<text x="109.0" y="218.55" font-size="4.9" font-weight="bold" text-anchor="end" fill="#000">8</text>
<line x1="109.4" y1="233.2" x2="112" y2="233.2" stroke="#000" stroke-width="1.0"/>
<text x="109.0" y="234.95" font-size="4.9" font-weight="bold" text-anchor="end" fill="#000">6</text>
<line x1="109.4" y1="249.6" x2="112" y2="249.6" stroke="#000" stroke-width="1.0"/>
<text x="109.0" y="251.35" font-size="4.9" font-weight="bold" text-anchor="end" fill="#000">4</text>
<line x1="109.4" y1="266" x2="112" y2="266" stroke="#000" stroke-width="1.0"/>
<text x="109.0" y="267.75" font-size="4.9" font-weight="bold" text-anchor="end" fill="#000">2</text>
<line x1="109.4" y1="282.4" x2="112" y2="282.4" stroke="#000" stroke-width="1.0"/>
<text x="109.0" y="284.15" font-size="4.9" font-weight="bold" text-anchor="end" fill="#000">0</text>
<text x="104" y="247" font-size="5.2" font-weight="bold" text-anchor="middle" fill="#000" transform="rotate(-90 104 247)">CD16+MDC in PBMC(%)</text>
<line x1="112" y1="282.4" x2="151.6" y2="282.4" stroke="#000" stroke-width="1.0"/>
<line x1="125.2" y1="282.4" x2="125.2" y2="284.4" stroke="#000" stroke-width="1.0"/>
<text x="125.2" y="291" font-size="4.9" font-weight="bold" text-anchor="middle" fill="#000">Healthy</text>
<line x1="143.6" y1="282.4" x2="143.6" y2="284.4" stroke="#000" stroke-width="1.0"/>
<text x="143.6" y="291" font-size="4.9" font-weight="bold" text-anchor="middle" fill="#000">CHB</text>
<line x1="118.5" y1="259.7" x2="131.4" y2="259.7" stroke="#000" stroke-width="1.0"/>
<line x1="137" y1="258.2" x2="150.5" y2="258.2" stroke="#000" stroke-width="1.0"/>
<g fill="#000"><circle cx="125.00" cy="225.90" r="0.9"/><circle cx="120.30" cy="255.30" r="0.9"/><circle cx="123.50" cy="254.40" r="0.9"/><circle cx="126.80" cy="255.20" r="0.9"/><circle cx="130.10" cy="256.00" r="0.9"/><circle cx="122.20" cy="257.50" r="0.9"/><circle cx="125.90" cy="260.70" r="0.9"/><circle cx="129.00" cy="261.50" r="0.9"/><circle cx="123.50" cy="263.80" r="0.9"/><circle cx="126.80" cy="265.70" r="0.9"/><circle cx="121.25" cy="270.80" r="0.9"/><circle cx="125.00" cy="268.40" r="0.9"/><circle cx="128.70" cy="270.80" r="0.9"/></g>
<g fill="#1f35e6"><circle cx="143.60" cy="220.30" r="0.95"/><circle cx="143.60" cy="227.70" r="0.95"/><circle cx="143.60" cy="233.50" r="0.95"/><circle cx="143.60" cy="237.50" r="0.95"/><circle cx="143.60" cy="240.50" r="0.95"/><circle cx="143.60" cy="243.30" r="0.95"/><circle cx="143.60" cy="246.00" r="0.95"/><circle cx="143.60" cy="247.78" r="0.95"/><circle cx="146.64" cy="247.91" r="0.95"/><circle cx="140.56" cy="248.10" r="0.95"/><circle cx="143.60" cy="249.58" r="0.95"/><circle cx="146.64" cy="249.98" r="0.95"/><circle cx="142.08" cy="250.18" r="0.95"/><circle cx="139.04" cy="250.25" r="0.95"/><circle cx="148.30" cy="250.40" r="0.95"/><circle cx="145.12" cy="250.54" r="0.95"/><circle cx="143.60" cy="251.29" r="0.95"/><circle cx="140.56" cy="251.32" r="0.95"/><circle cx="144.30" cy="251.53" r="0.95"/><circle cx="143.60" cy="253.10" r="0.95"/><circle cx="145.12" cy="254.13" r="0.95"/><circle cx="142.08" cy="254.63" r="0.95"/><circle cx="146.64" cy="254.70" r="0.95"/><circle cx="143.60" cy="257.87" r="0.95"/><circle cx="145.12" cy="258.80" r="0.95"/><circle cx="143.60" cy="260.74" r="0.95"/><circle cx="145.12" cy="261.30" r="0.95"/><circle cx="142.08" cy="261.69" r="0.95"/><circle cx="146.64" cy="262.12" r="0.95"/><circle cx="140.56" cy="262.26" r="0.95"/><circle cx="143.60" cy="262.38" r="0.95"/><circle cx="148.16" cy="262.81" r="0.95"/><circle cx="145.12" cy="263.59" r="0.95"/><circle cx="142.08" cy="263.92" r="0.95"/><circle cx="139.04" cy="263.95" r="0.95"/><circle cx="146.64" cy="264.15" r="0.95"/><circle cx="148.96" cy="264.32" r="0.95"/><circle cx="143.60" cy="264.62" r="0.95"/><circle cx="145.12" cy="265.95" r="0.95"/><circle cx="143.60" cy="267.60" r="0.95"/><circle cx="145.12" cy="268.31" r="0.95"/><circle cx="143.60" cy="269.50" r="0.95"/><circle cx="143.60" cy="272.00" r="0.95"/><circle cx="143.60" cy="274.50" r="0.95"/><circle cx="143.60" cy="277.00" r="0.95"/><circle cx="143.60" cy="279.50" r="0.95"/></g>
<line x1="189.9" y1="216.6" x2="189.9" y2="282.9" stroke="#000" stroke-width="1.0"/>
<line x1="187.3" y1="217" x2="189.9" y2="217" stroke="#000" stroke-width="1.0"/>
<text x="186.9" y="218.75" font-size="4.9" font-weight="bold" text-anchor="end" fill="#000">15</text>
<line x1="187.3" y1="238.8" x2="189.9" y2="238.8" stroke="#000" stroke-width="1.0"/>
<text x="186.9" y="240.55" font-size="4.9" font-weight="bold" text-anchor="end" fill="#000">10</text>
<line x1="187.3" y1="260.6" x2="189.9" y2="260.6" stroke="#000" stroke-width="1.0"/>
<text x="186.9" y="262.35" font-size="4.9" font-weight="bold" text-anchor="end" fill="#000">5</text>
<line x1="187.3" y1="282.4" x2="189.9" y2="282.4" stroke="#000" stroke-width="1.0"/>
<text x="186.9" y="284.15" font-size="4.9" font-weight="bold" text-anchor="end" fill="#000">0</text>
<text x="177.4" y="245.5" font-size="5.2" font-weight="bold" text-anchor="middle" fill="#000" transform="rotate(-90 177.4 245.5)">CD16-MDC in PBMC(%)</text>
<line x1="189.9" y1="282.4" x2="229" y2="282.4" stroke="#000" stroke-width="1.0"/>
<line x1="202.8" y1="282.4" x2="202.8" y2="284.4" stroke="#000" stroke-width="1.0"/>
<text x="202.8" y="291" font-size="4.9" font-weight="bold" text-anchor="middle" fill="#000">Healthy</text>
<line x1="221.6" y1="282.4" x2="221.6" y2="284.4" stroke="#000" stroke-width="1.0"/>
<text x="221.6" y="291" font-size="4.9" font-weight="bold" text-anchor="middle" fill="#000">CHB</text>
<line x1="196.5" y1="271.3" x2="209" y2="271.3" stroke="#000" stroke-width="1.0"/>
<line x1="215" y1="272.6" x2="228" y2="272.6" stroke="#000" stroke-width="1.0"/>
<g fill="#000"><circle cx="202.50" cy="265.80" r="0.85"/><circle cx="198.00" cy="268.20" r="0.85"/><circle cx="200.50" cy="268.20" r="0.85"/><circle cx="204.00" cy="268.20" r="0.85"/><circle cx="207.50" cy="268.20" r="0.85"/><circle cx="197.50" cy="272.20" r="0.85"/><circle cx="200.00" cy="272.20" r="0.85"/><circle cx="203.00" cy="272.20" r="0.85"/><circle cx="205.50" cy="272.20" r="0.85"/><circle cx="208.50" cy="272.20" r="0.85"/><circle cx="198.00" cy="275.30" r="0.85"/><circle cx="201.00" cy="275.30" r="0.85"/><circle cx="205.00" cy="275.30" r="0.85"/><circle cx="208.50" cy="275.30" r="0.85"/><circle cx="203.00" cy="277.00" r="0.85"/></g>
<g fill="#1f35e6"><circle cx="221.60" cy="237.90" r="1.05"/><circle cx="221.60" cy="265.06" r="1.05"/><circle cx="223.20" cy="265.85" r="1.05"/><circle cx="221.60" cy="268.55" r="1.05"/><circle cx="224.80" cy="268.75" r="1.05"/><circle cx="223.20" cy="269.38" r="1.05"/><circle cx="220.00" cy="269.94" r="1.05"/><circle cx="226.40" cy="270.06" r="1.05"/><circle cx="216.80" cy="270.22" r="1.05"/><circle cx="221.60" cy="270.54" r="1.05"/><circle cx="224.80" cy="270.65" r="1.05"/><circle cx="223.20" cy="271.39" r="1.05"/><circle cx="220.00" cy="271.65" r="1.05"/><circle cx="228.00" cy="271.71" r="1.05"/><circle cx="215.20" cy="271.80" r="1.05"/><circle cx="221.60" cy="272.32" r="1.05"/><circle cx="224.80" cy="272.58" r="1.05"/><circle cx="218.40" cy="272.67" r="1.05"/><circle cx="223.20" cy="273.20" r="1.05"/><circle cx="220.00" cy="273.45" r="1.05"/><circle cx="226.40" cy="273.52" r="1.05"/><circle cx="216.80" cy="273.61" r="1.05"/><circle cx="224.68" cy="273.65" r="1.05"/><circle cx="221.60" cy="274.23" r="1.05"/><circle cx="228.00" cy="274.33" r="1.05"/><circle cx="218.40" cy="274.47" r="1.05"/><circle cx="215.20" cy="274.75" r="1.05"/><circle cx="223.14" cy="274.83" r="1.05"/><circle cx="223.13" cy="274.99" r="1.05"/><circle cx="219.02" cy="275.01" r="1.05"/><circle cx="218.55" cy="275.17" r="1.05"/><circle cx="226.40" cy="275.22" r="1.05"/><circle cx="226.25" cy="275.28" r="1.05"/><circle cx="216.80" cy="275.35" r="1.05"/><circle cx="221.73" cy="275.57" r="1.05"/><circle cx="224.09" cy="275.58" r="1.05"/><circle cx="226.24" cy="275.77" r="1.05"/><circle cx="227.23" cy="275.91" r="1.05"/><circle cx="217.27" cy="275.95" r="1.05"/><circle cx="227.12" cy="276.04" r="1.05"/><circle cx="218.25" cy="276.14" r="1.05"/><circle cx="218.77" cy="276.23" r="1.05"/><circle cx="225.20" cy="276.24" r="1.05"/><circle cx="227.99" cy="276.27" r="1.05"/><circle cx="214.85" cy="276.30" r="1.05"/><circle cx="215.14" cy="276.45" r="1.05"/><circle cx="227.62" cy="276.58" r="1.05"/><circle cx="221.60" cy="280.30" r="1.05"/></g>
<line x1="265.5" y1="214.6" x2="265.5" y2="280.9" stroke="#000" stroke-width="1.0"/>
<line x1="262.9" y1="215" x2="265.5" y2="215" stroke="#000" stroke-width="1.0"/>
<text x="262.5" y="216.75" font-size="4.9" font-weight="bold" text-anchor="end" fill="#000">8</text>
<line x1="262.9" y1="231.4" x2="265.5" y2="231.4" stroke="#000" stroke-width="1.0"/>
<text x="262.5" y="233.15" font-size="4.9" font-weight="bold" text-anchor="end" fill="#000">6</text>
<line x1="262.9" y1="247.7" x2="265.5" y2="247.7" stroke="#000" stroke-width="1.0"/>
<text x="262.5" y="249.45" font-size="4.9" font-weight="bold" text-anchor="end" fill="#000">4</text>
<line x1="262.9" y1="264" x2="265.5" y2="264" stroke="#000" stroke-width="1.0"/>
<text x="262.5" y="265.75" font-size="4.9" font-weight="bold" text-anchor="end" fill="#000">2</text>
<line x1="262.9" y1="280.4" x2="265.5" y2="280.4" stroke="#000" stroke-width="1.0"/>
<text x="262.5" y="282.15" font-size="4.9" font-weight="bold" text-anchor="end" fill="#000">0</text>
<text x="257" y="243" font-size="5.2" font-weight="bold" text-anchor="middle" fill="#000" transform="rotate(-90 257 243)">CD16-MDC in PBMC(%)</text>
<line x1="265.5" y1="280.4" x2="331.9" y2="280.4" stroke="#000" stroke-width="1.0"/>
<line x1="274.85" y1="280.4" x2="274.85" y2="282.4" stroke="#000" stroke-width="1.0"/>
<text x="274.85" y="288.6" font-size="4.9" font-weight="bold" text-anchor="middle" fill="#000">IT</text>
<line x1="289.95" y1="280.4" x2="289.95" y2="282.4" stroke="#000" stroke-width="1.0"/>
<text x="289.95" y="288.6" font-size="4.9" font-weight="bold" text-anchor="middle" fill="#000">LR</text>
<line x1="305.65" y1="280.4" x2="305.65" y2="282.4" stroke="#000" stroke-width="1.0"/>
<text x="305.65" y="288.6" font-size="4.9" font-weight="bold" text-anchor="middle" fill="#000">IC</text>
<line x1="321.15" y1="280.4" x2="321.15" y2="282.4" stroke="#000" stroke-width="1.0"/>
<text x="321.15" y="288.6" font-size="4.9" font-weight="bold" text-anchor="middle" fill="#000">RA</text>
<line x1="274.85" y1="266.09375" x2="274.85" y2="260.37125" stroke="#444" stroke-width="0.85"/>
<line x1="272.25" y1="260.37125" x2="277.45000000000005" y2="260.37125" stroke="#444" stroke-width="0.85"/>
<rect x="270.2" y="266.09" width="9.30" height="14.31" fill="#000" stroke="#000" stroke-width="0.9"/>
<line x1="289.95000000000005" y1="261.18874999999997" x2="289.95000000000005" y2="255.05749999999998" stroke="#444" stroke-width="0.85"/>
<line x1="287.35" y1="255.05749999999998" x2="292.55000000000007" y2="255.05749999999998" stroke="#444" stroke-width="0.85"/>
<rect x="285.3" y="261.19" width="9.30" height="19.21" fill="#808080" stroke="#000" stroke-width="0.9"/>
<line x1="305.65" y1="250.97" x2="305.65" y2="230.5325" stroke="#444" stroke-width="0.85"/>
<line x1="303.04999999999995" y1="230.5325" x2="308.25" y2="230.5325" stroke="#444" stroke-width="0.85"/>
<rect x="300.9" y="250.97" width="9.50" height="29.43" fill="#ababab" stroke="#000" stroke-width="0.9"/>
<line x1="321.15" y1="259.55375" x2="321.15" y2="252.605" stroke="#444" stroke-width="0.85"/>
<line x1="318.54999999999995" y1="252.605" x2="323.75" y2="252.605" stroke="#444" stroke-width="0.85"/>
<rect x="316.3" y="259.55" width="9.70" height="20.85" fill="#fff" stroke="#000" stroke-width="0.9"/>
<line x1="274" y1="222.6" x2="305.4" y2="222.6" stroke="#555" stroke-width="1.0"/>
<text x="289.7" y="222.6" font-size="5" font-weight="bold" text-anchor="middle" fill="#000">*</text>
<rect x="24.5" y="305.8" width="68.6" height="68.80000000000001" stroke="#8a8a8a" stroke-width="0.85" fill="none"/>
<text x="23.1" y="318.3" font-size="2.8" text-anchor="end" fill="#555">20</text>
<line x1="23.5" y1="317.3" x2="24.5" y2="317.3" stroke="#888" stroke-width="0.4"/>
<text x="23.1" y="332.2" font-size="2.8" text-anchor="end" fill="#555">15</text>
<line x1="23.5" y1="331.2" x2="24.5" y2="331.2" stroke="#888" stroke-width="0.4"/>
<text x="23.1" y="346.1" font-size="2.8" text-anchor="end" fill="#555">10</text>
<line x1="23.5" y1="345.1" x2="24.5" y2="345.1" stroke="#888" stroke-width="0.4"/>
<text x="23.1" y="360.7" font-size="2.8" text-anchor="end" fill="#555">5</text>
<line x1="23.5" y1="359.7" x2="24.5" y2="359.7" stroke="#888" stroke-width="0.4"/>
<text x="23.1" y="375" font-size="2.8" text-anchor="end" fill="#555">0</text>
<line x1="23.5" y1="374" x2="24.5" y2="374" stroke="#888" stroke-width="0.4"/>
<text x="41.1" y="379.9" font-size="2.7" font-weight="normal" text-anchor="middle" fill="#555">10<tspan dy="-1" font-size="1.8">3</tspan></text>
<text x="58" y="379.9" font-size="2.7" font-weight="normal" text-anchor="middle" fill="#555">10<tspan dy="-1" font-size="1.8">3</tspan></text>
<text x="75.3" y="379.9" font-size="2.7" font-weight="normal" text-anchor="middle" fill="#555">10<tspan dy="-1" font-size="1.8">3</tspan></text>
<text x="92.7" y="379.9" font-size="2.7" font-weight="normal" text-anchor="middle" fill="#555">10<tspan dy="-1" font-size="1.8">3</tspan></text>
<defs><linearGradient id="h1o" gradientUnits="userSpaceOnUse" x1="0" y1="309.6" x2="0" y2="321.6"><stop offset="0" stop-color="#9a9a9a"/><stop offset="0.55" stop-color="#333"/><stop offset="1" stop-color="#0a0a0a"/></linearGradient><linearGradient id="h1r" gradientUnits="userSpaceOnUse" x1="0" y1="322.6" x2="0" y2="331.6"><stop offset="0" stop-color="#300"/><stop offset="1" stop-color="#f20000"/></linearGradient></defs>
<path d="M52.50,309.10 L52.23,309.60 L53.19,310.30 L53.01,311.00 L53.02,311.70 L53.30,312.40 L53.30,313.10 L54.11,313.80 L54.19,314.50 L54.15,315.20 L53.48,315.90 L53.61,316.60 L54.65,317.30 L54.28,318.00 L54.62,318.70 L54.94,319.40 L54.53,320.10 L55.46,320.80 L55.08,321.50 L54.86,322.20 L55.20,322.90 L55.90,323.60 L55.55,324.30 L55.96,325.00 L56.16,325.70 L56.08,326.40 L56.13,327.10 L56.88,327.80 L56.58,328.50 L56.85,329.20 L57.04,329.90 L57.49,330.60 L57.17,331.30 L57.30,332.00 L57.30,332.70 L57.90,333.40 L57.17,334.10 L57.92,334.80 L57.65,335.50 L58.30,336.20 L58.23,336.90 L57.92,337.60 L58.59,338.30 L58.54,339.00 L58.81,339.70 L58.73,340.40 L58.88,341.10 L58.91,341.80 L59.26,342.50 L59.46,343.20 L59.02,343.90 L60.16,344.60 L59.32,345.30 L59.42,346.00 L60.32,346.70 L60.11,347.40 L60.71,348.10 L60.78,348.80 L60.02,349.50 L61.01,350.20 L61.15,350.90 L60.93,351.60 L61.67,352.30 L61.30,353.00 L61.82,353.70 L61.92,354.40 L61.55,355.10 L62.34,355.80 L62.23,356.50 L61.95,357.20 L62.05,357.90 L62.55,358.60 L63.18,359.30 L62.75,360.00 L62.91,360.70 L63.08,361.40 L63.78,362.10 L63.75,362.80 L63.68,363.50 L63.50,364.20 L63.69,364.90 L64.69,365.60 L64.86,366.30 L64.59,367.00 L64.70,367.70 L65.79,368.40 L65.88,369.10 L66.44,369.80 L67.64,370.50 L68.52,371.20 L69.65,371.90 L70.68,372.60 L71.88,373.30 L72.84,374.00 L73.00,374.10 L31.75,374.10 L31.84,374.00 L33.08,373.30 L33.85,372.60 L35.54,371.90 L36.14,371.20 L36.72,370.50 L37.19,369.80 L37.54,369.10 L39.14,368.40 L38.56,367.70 L39.77,367.00 L39.26,366.30 L40.40,365.60 L40.10,364.90 L41.06,364.20 L40.67,363.50 L40.99,362.80 L41.63,362.10 L41.13,361.40 L41.62,360.70 L41.57,360.00 L41.84,359.30 L42.22,358.60 L42.93,357.90 L43.00,357.20 L42.35,356.50 L43.41,355.80 L43.25,355.10 L43.19,354.40 L43.34,353.70 L43.81,353.00 L43.38,352.30 L44.08,351.60 L44.26,350.90 L43.86,350.20 L44.25,349.50 L43.95,348.80 L44.71,348.10 L44.62,347.40 L44.24,346.70 L44.87,346.00 L45.24,345.30 L45.22,344.60 L45.49,343.90 L45.89,343.20 L46.04,342.50 L45.43,341.80 L46.19,341.10 L45.53,340.40 L46.17,339.70 L45.79,339.00 L46.33,338.30 L45.98,337.60 L46.73,336.90 L47.10,336.20 L46.80,335.50 L47.17,334.80 L46.60,334.10 L46.80,333.40 L47.23,332.70 L47.40,332.00 L47.35,331.30 L47.09,330.60 L47.96,329.90 L48.07,329.20 L48.30,328.50 L48.50,327.80 L48.03,327.10 L48.24,326.40 L48.43,325.70 L48.41,325.00 L48.66,324.30 L48.27,323.60 L48.79,322.90 L49.31,322.20 L49.17,321.50 L49.38,320.80 L49.04,320.10 L49.55,319.40 L50.00,318.70 L50.25,318.00 L50.37,317.30 L50.34,316.60 L50.60,315.90 L50.78,315.20 L51.40,314.50 L51.02,313.80 L51.91,313.10 L51.82,312.40 L51.50,311.70 L52.03,311.00 L52.04,310.30 L51.86,309.60 Z" fill="url(#h1o)"/>
<path d="M52.50,323.60 L53.82,326.60 L54.23,327.40 L54.52,328.20 L54.67,329.00 L54.79,329.80 L55.16,330.60 L55.31,331.40 L54.92,332.20 L55.25,333.00 L55.37,333.80 L55.20,334.60 L55.77,335.40 L55.98,336.20 L56.18,337.00 L56.24,337.80 L56.57,338.60 L56.26,339.40 L56.52,340.20 L57.14,341.00 L56.74,341.80 L57.03,342.60 L57.68,343.40 L57.11,344.20 L57.81,345.00 L57.89,345.80 L58.08,346.60 L57.84,347.40 L58.48,348.20 L58.23,349.00 L58.91,349.80 L58.99,350.60 L59.12,351.40 L58.72,352.20 L58.88,353.00 L59.75,353.80 L59.93,354.60 L59.94,355.40 L59.92,356.20 L59.71,357.00 L59.95,357.80 L60.16,358.60 L60.27,359.40 L60.76,360.20 L61.03,361.00 L60.82,361.80 L61.03,362.60 L61.83,363.40 L61.40,364.20 L61.69,365.00 L62.41,365.80 L61.99,366.60 L63.18,367.40 L63.91,368.20 L63.87,369.00 L64.99,369.80 L65.38,370.60 L66.28,371.40 L68.00,372.20 L69.30,373.00 L70.67,373.80 L69.00,373.50 L34.75,373.50 L33.50,373.80 L35.30,373.00 L36.94,372.20 L38.35,371.40 L38.78,370.60 L39.44,369.80 L39.87,369.00 L40.40,368.20 L40.83,367.40 L41.21,366.60 L41.44,365.80 L42.22,365.00 L42.14,364.20 L42.29,363.40 L42.60,362.60 L43.21,361.80 L43.24,361.00 L43.36,360.20 L43.78,359.40 L44.23,358.60 L44.11,357.80 L44.59,357.00 L44.46,356.20 L44.92,355.40 L44.72,354.60 L44.77,353.80 L44.93,353.00 L45.09,352.20 L45.48,351.40 L45.48,350.60 L45.75,349.80 L45.87,349.00 L45.75,348.20 L46.17,347.40 L46.39,346.60 L46.73,345.80 L46.42,345.00 L47.02,344.20 L46.80,343.40 L47.40,342.60 L47.43,341.80 L47.61,341.00 L47.94,340.20 L47.95,339.40 L47.84,338.60 L47.77,337.80 L48.00,337.00 L48.06,336.20 L48.52,335.40 L48.75,334.60 L48.39,333.80 L48.97,333.00 L49.08,332.20 L49.06,331.40 L49.38,330.60 L49.61,329.80 L49.53,329.00 L49.62,328.20 L49.59,327.40 L49.63,326.60 Z" fill="url(#h1r)"/>
<text x="25.5" y="310.0" font-size="3.6500000000000004" font-weight="normal" text-anchor="start" fill="#333">HC</text>
<text x="92.1" y="310.0" font-size="3.95" font-weight="normal" text-anchor="end" fill="#333">Monocyte MFI 4120</text>
<rect x="111.9" y="306.5" width="68.19999999999999" height="68.60000000000002" stroke="#8a8a8a" stroke-width="0.85" fill="none"/>
<text x="110.5" y="323" font-size="2.8" text-anchor="end" fill="#555">30</text>
<line x1="110.9" y1="322" x2="111.9" y2="322" stroke="#888" stroke-width="0.4"/>
<text x="110.5" y="341.5" font-size="2.8" text-anchor="end" fill="#555">20</text>
<line x1="110.9" y1="340.5" x2="111.9" y2="340.5" stroke="#888" stroke-width="0.4"/>
<text x="110.5" y="358.8" font-size="2.8" text-anchor="end" fill="#555">10</text>
<line x1="110.9" y1="357.8" x2="111.9" y2="357.8" stroke="#888" stroke-width="0.4"/>
<text x="110.5" y="376" font-size="2.8" text-anchor="end" fill="#555">0</text>
<line x1="110.9" y1="375" x2="111.9" y2="375" stroke="#888" stroke-width="0.4"/>
<text x="129.3" y="380.4" font-size="2.7" font-weight="normal" text-anchor="middle" fill="#555">10<tspan dy="-1" font-size="1.8">3</tspan></text>
<text x="145.5" y="380.4" font-size="2.7" font-weight="normal" text-anchor="middle" fill="#555">10<tspan dy="-1" font-size="1.8">3</tspan></text>
<text x="161.6" y="380.4" font-size="2.7" font-weight="normal" text-anchor="middle" fill="#555">10<tspan dy="-1" font-size="1.8">3</tspan></text>
<text x="178.5" y="380.4" font-size="2.7" font-weight="normal" text-anchor="middle" fill="#555">10<tspan dy="-1" font-size="1.8">3</tspan></text>
<defs><linearGradient id="h2o" gradientUnits="userSpaceOnUse" x1="0" y1="311.4" x2="0" y2="323.4"><stop offset="0" stop-color="#9a9a9a"/><stop offset="0.55" stop-color="#333"/><stop offset="1" stop-color="#0a0a0a"/></linearGradient><linearGradient id="h2r" gradientUnits="userSpaceOnUse" x1="0" y1="319.4" x2="0" y2="328.4"><stop offset="0" stop-color="#300"/><stop offset="1" stop-color="#f20000"/></linearGradient></defs>
<path d="M132.95,310.90 L132.67,311.40 L133.63,312.10 L133.80,312.80 L134.05,313.50 L133.69,314.20 L133.45,314.90 L133.76,315.60 L134.25,316.30 L134.80,317.00 L134.21,317.70 L134.08,318.40 L134.67,319.10 L134.85,319.80 L134.85,320.50 L135.77,321.20 L135.73,321.90 L135.39,322.60 L135.82,323.30 L135.95,324.00 L135.51,324.70 L135.42,325.40 L135.62,326.10 L136.00,326.80 L136.43,327.50 L136.46,328.20 L135.86,328.90 L136.04,329.60 L136.33,330.30 L136.28,331.00 L136.42,331.70 L136.93,332.40 L136.30,333.10 L136.91,333.80 L136.44,334.50 L137.10,335.20 L137.73,335.90 L137.73,336.60 L137.68,337.30 L137.43,338.00 L137.59,338.70 L138.11,339.40 L137.80,340.10 L138.47,340.80 L137.88,341.50 L139.00,342.20 L138.27,342.90 L138.20,343.60 L138.83,344.30 L138.62,345.00 L139.58,345.70 L139.88,346.40 L139.73,347.10 L139.38,347.80 L139.98,348.50 L139.72,349.20 L139.89,349.90 L140.19,350.60 L140.36,351.30 L140.60,352.00 L140.42,352.70 L141.80,353.40 L141.62,354.10 L141.34,354.80 L141.45,355.50 L142.10,356.20 L142.77,356.90 L142.68,357.60 L142.94,358.30 L143.09,359.00 L144.29,359.70 L144.79,360.40 L145.58,361.10 L145.23,361.80 L146.12,362.50 L147.55,363.20 L148.02,363.90 L148.60,364.60 L149.26,365.30 L150.26,366.00 L152.52,366.70 L153.25,367.40 L154.41,368.10 L156.36,368.80 L156.31,369.50 L157.85,370.20 L158.38,370.90 L158.74,371.60 L159.50,372.30 L159.99,373.00 L160.76,373.70 L161.80,374.40 L161.70,374.60 L115.75,374.60 L115.95,374.40 L116.29,373.70 L117.60,373.00 L117.42,372.30 L118.29,371.60 L118.72,370.90 L118.56,370.20 L119.44,369.50 L118.96,368.80 L119.64,368.10 L120.24,367.40 L120.48,366.70 L120.73,366.00 L120.91,365.30 L121.01,364.60 L121.33,363.90 L122.03,363.20 L121.64,362.50 L121.57,361.80 L122.32,361.10 L123.18,360.40 L122.69,359.70 L122.64,359.00 L123.20,358.30 L123.61,357.60 L123.42,356.90 L123.12,356.20 L123.66,355.50 L123.47,354.80 L123.83,354.10 L124.65,353.40 L124.59,352.70 L124.23,352.00 L124.41,351.30 L125.23,350.60 L125.15,349.90 L125.14,349.20 L126.01,348.50 L126.12,347.80 L125.48,347.10 L126.16,346.40 L126.27,345.70 L126.57,345.00 L125.95,344.30 L125.82,343.60 L126.87,342.90 L126.52,342.20 L126.23,341.50 L126.43,340.80 L126.89,340.10 L127.21,339.40 L126.75,338.70 L127.24,338.00 L126.98,337.30 L127.53,336.60 L127.11,335.90 L127.04,335.20 L127.82,334.50 L127.76,333.80 L128.10,333.10 L128.17,332.40 L127.40,331.70 L128.47,331.00 L128.52,330.30 L128.31,329.60 L128.42,328.90 L129.18,328.20 L128.35,327.50 L128.73,326.80 L128.57,326.10 L128.95,325.40 L129.18,324.70 L129.30,324.00 L129.67,323.30 L129.94,322.60 L130.23,321.90 L129.47,321.20 L130.09,320.50 L130.27,319.80 L130.59,319.10 L131.32,318.40 L130.50,317.70 L131.26,317.00 L131.19,316.30 L131.20,315.60 L132.15,314.90 L131.51,314.20 L131.79,313.50 L132.79,312.80 L132.73,312.10 L132.53,311.40 Z" fill="url(#h2o)"/>
<path d="M132.95,320.40 L133.26,323.40 L133.81,324.20 L133.24,325.00 L133.28,325.80 L133.99,326.60 L133.53,327.40 L134.10,328.20 L134.14,329.00 L133.91,329.80 L133.93,330.60 L134.51,331.40 L134.71,332.20 L134.23,333.00 L134.79,333.80 L135.18,334.60 L135.04,335.40 L135.26,336.20 L135.76,337.00 L135.79,337.80 L135.61,338.60 L135.59,339.40 L136.37,340.20 L136.44,341.00 L136.23,341.80 L136.75,342.60 L136.98,343.40 L136.64,344.20 L136.91,345.00 L137.43,345.80 L137.15,346.60 L137.60,347.40 L137.18,348.20 L137.52,349.00 L138.27,349.80 L138.23,350.60 L138.26,351.40 L138.51,352.20 L138.79,353.00 L139.41,353.80 L139.81,354.60 L140.25,355.40 L140.10,356.20 L140.53,357.00 L141.09,357.80 L141.36,358.60 L141.05,359.40 L142.24,360.20 L142.82,361.00 L143.70,361.80 L144.12,362.60 L144.88,363.40 L146.17,364.20 L146.43,365.00 L148.57,365.80 L149.91,366.60 L151.67,367.40 L153.20,368.20 L154.30,369.00 L154.82,369.80 L156.14,370.60 L156.67,371.40 L157.35,372.20 L158.47,373.00 L158.95,373.80 L157.70,374.00 L118.75,374.00 L117.86,373.80 L118.92,373.00 L119.31,372.20 L120.17,371.40 L120.50,370.60 L120.52,369.80 L121.08,369.00 L121.38,368.20 L121.64,367.40 L122.38,366.60 L122.41,365.80 L122.84,365.00 L123.16,364.20 L123.38,363.40 L123.82,362.60 L123.62,361.80 L123.82,361.00 L124.45,360.20 L124.37,359.40 L124.89,358.60 L125.14,357.80 L125.39,357.00 L125.60,356.20 L125.81,355.40 L125.59,354.60 L126.06,353.80 L125.94,353.00 L126.15,352.20 L126.70,351.40 L126.46,350.60 L126.92,349.80 L127.09,349.00 L127.24,348.20 L127.43,347.40 L127.66,346.60 L127.50,345.80 L127.78,345.00 L127.84,344.20 L127.73,343.40 L128.19,342.60 L128.40,341.80 L128.25,341.00 L128.47,340.20 L128.36,339.40 L128.76,338.60 L128.66,337.80 L129.18,337.00 L129.16,336.20 L128.98,335.40 L128.94,334.60 L129.30,333.80 L129.19,333.00 L129.25,332.20 L129.45,331.40 L129.75,330.60 L130.22,329.80 L130.29,329.00 L130.39,328.20 L130.61,327.40 L130.34,326.60 L130.99,325.80 L131.00,325.00 L131.09,324.20 L131.54,323.40 Z" fill="url(#h2r)"/>
<text x="112.9" y="310.7" font-size="3.6500000000000004" font-weight="normal" text-anchor="start" fill="#333">CHB</text>
<text x="179.1" y="310.7" font-size="3.95" font-weight="normal" text-anchor="end" fill="#333">Monocyte MFI 1762</text>
<line x1="14.6" y1="333.2" x2="14.6" y2="375.4" stroke="#000" stroke-width="1.15"/>
<path d="M12.399999999999999,334.9 L14.6,330.2 L16.8,334.9 Z" fill="#000"/>
<text x="8.3" y="373.3" font-size="8.6" font-weight="bold" text-anchor="start" fill="#000" transform="rotate(-90 8.3 373.3)">Count</text>
<line x1="26.3" y1="385.8" x2="179.8" y2="385.8" stroke="#000" stroke-width="1.15"/>
<path d="M178.10000000000002,383.6 L182.8,385.8 L178.10000000000002,388.0 Z" fill="#000"/>
<text x="28.4" y="398.9" font-size="8.7" font-weight="bold" text-anchor="start" fill="#000">MFI</text>
<line x1="206.2" y1="309.90000000000003" x2="206.2" y2="377.0" stroke="#000" stroke-width="1.0"/>
<line x1="203.6" y1="310.3" x2="206.2" y2="310.3" stroke="#000" stroke-width="1.0"/>
<text x="203.2" y="312.05" font-size="4.9" font-weight="bold" text-anchor="end" fill="#000">8000</text>
<line x1="203.6" y1="326.9" x2="206.2" y2="326.9" stroke="#000" stroke-width="1.0"/>
<text x="203.2" y="328.65" font-size="4.9" font-weight="bold" text-anchor="end" fill="#000">6000</text>
<line x1="203.6" y1="343.4" x2="206.2" y2="343.4" stroke="#000" stroke-width="1.0"/>
<text x="203.2" y="345.15" font-size="4.9" font-weight="bold" text-anchor="end" fill="#000">4000</text>
<line x1="203.6" y1="360" x2="206.2" y2="360" stroke="#000" stroke-width="1.0"/>
<text x="203.2" y="361.75" font-size="4.9" font-weight="bold" text-anchor="end" fill="#000">2000</text>
<line x1="203.6" y1="376.5" x2="206.2" y2="376.5" stroke="#000" stroke-width="1.0"/>
<text x="203.2" y="378.25" font-size="4.9" font-weight="bold" text-anchor="end" fill="#000">0</text>
<text x="189" y="340" font-size="5.2" font-weight="bold" text-anchor="middle" fill="#000" transform="rotate(-90 189 340)">MFI HLA-DR+ Monocyte</text>
<line x1="206.2" y1="376.5" x2="247.8" y2="376.5" stroke="#000" stroke-width="1.0"/>
<line x1="219" y1="376.5" x2="219" y2="378.5" stroke="#000" stroke-width="1.0"/>
<text x="219" y="384.3" font-size="4.9" font-weight="bold" text-anchor="middle" fill="#000">Healthy</text>
<line x1="237.3" y1="376.5" x2="237.3" y2="378.5" stroke="#000" stroke-width="1.0"/>
<text x="237.3" y="384.3" font-size="4.9" font-weight="bold" text-anchor="middle" fill="#000">CHB</text>
<g fill="#000"><circle cx="219.10" cy="320.40" r="0.95"/><circle cx="218.75" cy="335.00" r="0.95"/><circle cx="218.20" cy="339.70" r="0.95"/><circle cx="221.00" cy="339.70" r="0.95"/><circle cx="216.90" cy="342.50" r="0.95"/><circle cx="220.00" cy="343.40" r="0.95"/><circle cx="217.25" cy="346.60" r="0.95"/><circle cx="221.50" cy="347.00" r="0.95"/><circle cx="214.50" cy="353.50" r="0.95"/><circle cx="216.50" cy="354.50" r="0.95"/><circle cx="219.00" cy="354.00" r="0.95"/><circle cx="221.50" cy="355.00" r="0.95"/><circle cx="224.00" cy="354.50" r="0.95"/><circle cx="213.80" cy="355.50" r="0.95"/></g>
<g fill="#1f35e6"><path d="M236.65,333.76 L238.96,333.76 L237.80,335.75 Z"/><path d="M236.65,336.16 L238.96,336.16 L237.80,338.15 Z"/><path d="M236.65,338.62 L238.96,338.62 L237.80,340.61 Z"/><path d="M239.84,338.64 L242.16,338.64 L241.00,340.64 Z"/><path d="M233.45,338.68 L235.76,338.68 L234.60,340.67 Z"/><path d="M241.96,338.87 L244.27,338.87 L243.11,340.86 Z"/><path d="M231.34,338.92 L233.65,338.92 L232.49,340.92 Z"/><path d="M240.54,338.95 L242.85,338.95 L241.69,340.94 Z"/><path d="M236.65,341.18 L238.96,341.18 L237.80,343.18 Z"/><path d="M236.65,343.02 L238.96,343.02 L237.80,345.01 Z"/><path d="M239.84,343.39 L242.16,343.39 L241.00,345.39 Z"/><path d="M233.45,343.47 L235.76,343.47 L234.60,345.46 Z"/><path d="M242.07,343.64 L244.38,343.64 L243.23,345.64 Z"/><path d="M230.73,343.71 L233.04,343.71 L231.89,345.71 Z"/><path d="M238.25,344.02 L240.56,344.02 L239.40,346.01 Z"/><path d="M235.05,344.20 L237.36,344.20 L236.20,346.20 Z"/><path d="M236.65,344.95 L238.96,344.95 L237.80,346.94 Z"/><path d="M238.25,345.81 L240.56,345.81 L239.40,347.80 Z"/><path d="M235.05,346.17 L237.36,346.17 L236.20,348.16 Z"/><path d="M236.65,346.95 L238.96,346.95 L237.80,348.95 Z"/><path d="M238.25,347.55 L240.56,347.55 L239.40,349.55 Z"/><path d="M233.45,347.64 L235.76,347.64 L234.60,349.64 Z"/><path d="M236.65,348.74 L238.96,348.74 L237.80,350.74 Z"/><path d="M239.84,348.98 L242.16,348.98 L241.00,350.98 Z"/><path d="M231.84,349.04 L234.16,349.04 L233.00,351.03 Z"/><path d="M238.25,350.13 L240.56,350.13 L239.40,352.12 Z"/><path d="M235.05,350.39 L237.36,350.39 L236.20,352.39 Z"/><path d="M236.65,351.41 L238.96,351.41 L237.80,353.40 Z"/><path d="M239.84,351.76 L242.16,351.76 L241.00,353.76 Z"/><path d="M235.05,352.33 L237.36,352.33 L236.20,354.33 Z"/><path d="M238.25,352.71 L240.56,352.71 L239.40,354.70 Z"/><path d="M241.45,352.76 L243.76,352.76 L242.60,354.76 Z"/><path d="M233.45,352.94 L235.76,352.94 L234.60,354.93 Z"/><path d="M231.03,352.95 L233.34,352.95 L232.18,354.94 Z"/><path d="M236.65,353.57 L238.96,353.57 L237.80,355.56 Z"/><path d="M239.84,353.67 L242.16,353.67 L241.00,355.66 Z"/><path d="M234.99,354.14 L237.30,354.14 L236.15,356.13 Z"/><path d="M236.65,356.97 L238.96,356.97 L237.80,358.96 Z"/><path d="M239.84,357.03 L242.16,357.03 L241.00,359.03 Z"/><path d="M233.45,357.45 L235.76,357.45 L234.60,359.45 Z"/><path d="M242.40,357.57 L244.71,357.57 L243.56,359.56 Z"/><path d="M238.25,358.50 L240.56,358.50 L239.40,360.50 Z"/><path d="M235.05,358.92 L237.36,358.92 L236.20,360.91 Z"/><path d="M239.84,359.19 L242.16,359.19 L241.00,361.19 Z"/><path d="M236.65,359.80 L238.96,359.80 L237.80,361.80 Z"/><path d="M233.45,360.13 L235.76,360.13 L234.60,362.12 Z"/><path d="M238.25,361.50 L240.56,361.50 L239.40,363.50 Z"/><path d="M236.65,363.23 L238.96,363.23 L237.80,365.23 Z"/><path d="M239.84,363.40 L242.16,363.40 L241.00,365.40 Z"/><path d="M233.45,363.76 L235.76,363.76 L234.60,365.75 Z"/><path d="M231.71,363.76 L234.02,363.76 L232.86,365.75 Z"/><path d="M238.25,364.10 L240.56,364.10 L239.40,366.10 Z"/><path d="M236.65,368.86 L238.96,368.86 L237.80,370.85 Z"/><path d="M236.34,316.36 L238.66,316.36 L237.50,318.35 Z"/><path d="M239.54,316.36 L241.85,316.36 L240.70,318.35 Z"/><path d="M238.25,319.56 L240.56,319.56 L239.40,321.55 Z"/></g>
<line x1="213.1" y1="350" x2="225.1" y2="350" stroke="#000" stroke-width="1.0"/>
<line x1="231" y1="351.3" x2="244" y2="351.3" stroke="#000" stroke-width="1.0"/>
<line x1="279.0" y1="308.40000000000003" x2="279.0" y2="374.6" stroke="#000" stroke-width="1.0"/>
<line x1="276.4" y1="308.8" x2="279.0" y2="308.8" stroke="#000" stroke-width="1.0"/>
<text x="276.0" y="310.55" font-size="4.9" font-weight="bold" text-anchor="end" fill="#000">8000</text>
<line x1="276.4" y1="325.1" x2="279.0" y2="325.1" stroke="#000" stroke-width="1.0"/>
<text x="276.0" y="326.85" font-size="4.9" font-weight="bold" text-anchor="end" fill="#000">6000</text>
<line x1="276.4" y1="341.5" x2="279.0" y2="341.5" stroke="#000" stroke-width="1.0"/>
<text x="276.0" y="343.25" font-size="4.9" font-weight="bold" text-anchor="end" fill="#000">4000</text>
<line x1="276.4" y1="357.8" x2="279.0" y2="357.8" stroke="#000" stroke-width="1.0"/>
<text x="276.0" y="359.55" font-size="4.9" font-weight="bold" text-anchor="end" fill="#000">2000</text>
<line x1="276.4" y1="374.1" x2="279.0" y2="374.1" stroke="#000" stroke-width="1.0"/>
<text x="276.0" y="375.85" font-size="4.9" font-weight="bold" text-anchor="end" fill="#000">0</text>
<text x="261" y="338.5" font-size="5.2" font-weight="bold" text-anchor="middle" fill="#000" transform="rotate(-90 261 338.5)">MFI HLA-DR+ Monocyte</text>
<line x1="279.0" y1="374.1" x2="344.4" y2="374.1" stroke="#000" stroke-width="1.0"/>
<line x1="288.95" y1="374.1" x2="288.95" y2="376.1" stroke="#000" stroke-width="1.0"/>
<text x="288.95" y="382.2" font-size="4.9" font-weight="bold" text-anchor="middle" fill="#000">IT</text>
<line x1="304.45" y1="374.1" x2="304.45" y2="376.1" stroke="#000" stroke-width="1.0"/>
<text x="304.45" y="382.2" font-size="4.9" font-weight="bold" text-anchor="middle" fill="#000">LR</text>
<line x1="319.5" y1="374.1" x2="319.5" y2="376.1" stroke="#000" stroke-width="1.0"/>
<text x="319.5" y="382.2" font-size="4.9" font-weight="bold" text-anchor="middle" fill="#000">IC</text>
<line x1="334.7" y1="374.1" x2="334.7" y2="376.1" stroke="#000" stroke-width="1.0"/>
<text x="334.7" y="382.2" font-size="4.9" font-weight="bold" text-anchor="middle" fill="#000">RA</text>
<line x1="288.95" y1="356.14250000000004" x2="288.95" y2="346.755625" stroke="#444" stroke-width="0.85"/>
<line x1="286.34999999999997" y1="346.755625" x2="291.55" y2="346.755625" stroke="#444" stroke-width="0.85"/>
<rect x="284.2" y="356.14" width="9.50" height="17.96" fill="#000" stroke="#000" stroke-width="0.9"/>
<line x1="304.55" y1="353.69375" x2="304.55" y2="343.490625" stroke="#444" stroke-width="0.85"/>
<line x1="301.95" y1="343.490625" x2="307.15000000000003" y2="343.490625" stroke="#444" stroke-width="0.85"/>
<rect x="299.5" y="353.69" width="10.10" height="20.41" fill="#808080" stroke="#000" stroke-width="0.9"/>
<line x1="319.5" y1="346.755625" x2="319.5" y2="335.73625000000004" stroke="#444" stroke-width="0.85"/>
<line x1="316.9" y1="335.73625000000004" x2="322.1" y2="335.73625000000004" stroke="#444" stroke-width="0.85"/>
<rect x="314.7" y="346.76" width="9.60" height="27.34" fill="#a8a8a8" stroke="#000" stroke-width="0.9"/>
<line x1="334.75" y1="334.92" x2="334.75" y2="318.595" stroke="#444" stroke-width="0.85"/>
<line x1="332.15" y1="318.595" x2="337.35" y2="318.595" stroke="#444" stroke-width="0.85"/>
<rect x="330" y="334.92" width="9.50" height="39.18" fill="#fff" stroke="#000" stroke-width="0.9"/>
<line x1="288.2" y1="310.8" x2="334.5" y2="310.8" stroke="#555" stroke-width="1.0"/>
<text x="312" y="310" font-size="5.4" font-weight="bold" text-anchor="middle" fill="#000">**</text>
<line x1="288.2" y1="318.6" x2="318" y2="318.6" stroke="#555" stroke-width="1.0"/>
<text x="303" y="317.9" font-size="5.4" font-weight="bold" text-anchor="middle" fill="#000">*</text>
</svg></body></html>
